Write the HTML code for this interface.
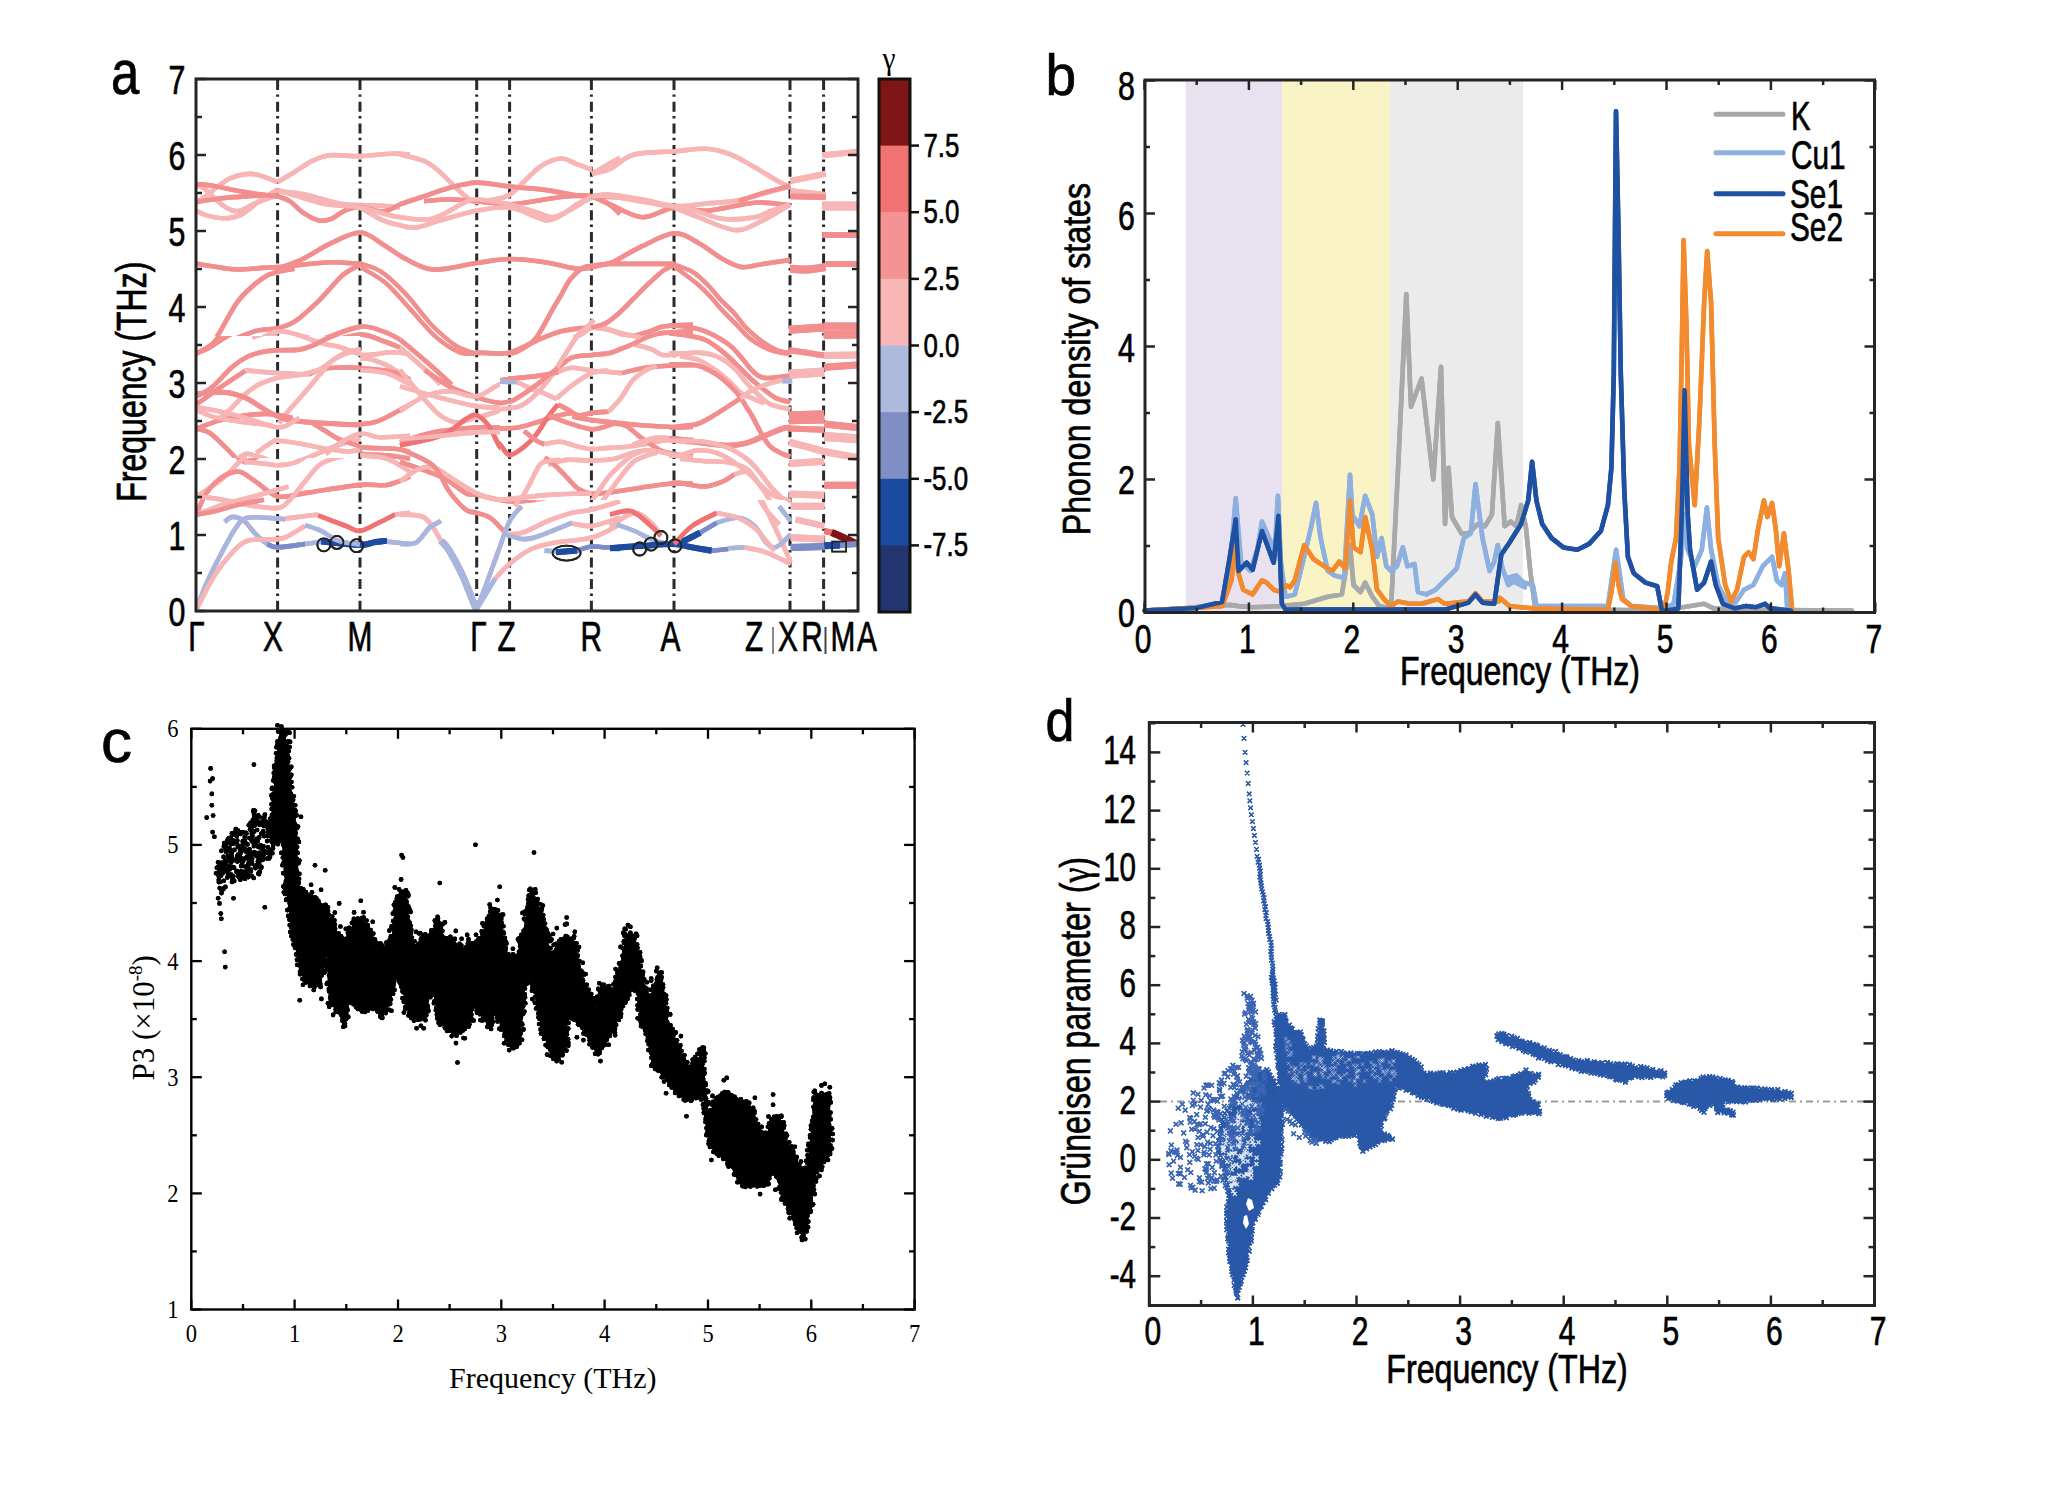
<!DOCTYPE html>
<html><head><meta charset="utf-8"><style>
html,body{margin:0;padding:0;background:#fff;}
svg{display:block;}
</style></head><body>
<svg width="2048" height="1492" viewBox="0 0 2048 1492">
<rect width="2048" height="1492" fill="#fff"/>
<line x1="277.6" y1="80" x2="277.6" y2="611" stroke="#2a2a2a" stroke-width="3" stroke-dasharray="10,4.4,2.4,4.9"/>
<line x1="360" y1="80" x2="360" y2="611" stroke="#2a2a2a" stroke-width="3" stroke-dasharray="10,4.4,2.4,4.9"/>
<line x1="476.7" y1="80" x2="476.7" y2="611" stroke="#2a2a2a" stroke-width="3" stroke-dasharray="10,4.4,2.4,4.9"/>
<line x1="509.6" y1="80" x2="509.6" y2="611" stroke="#2a2a2a" stroke-width="3" stroke-dasharray="10,4.4,2.4,4.9"/>
<line x1="591.4" y1="80" x2="591.4" y2="611" stroke="#2a2a2a" stroke-width="3" stroke-dasharray="10,4.4,2.4,4.9"/>
<line x1="674" y1="80" x2="674" y2="611" stroke="#2a2a2a" stroke-width="3" stroke-dasharray="10,4.4,2.4,4.9"/>
<line x1="790" y1="80" x2="790" y2="611" stroke="#2a2a2a" stroke-width="3" stroke-dasharray="10,4.4,2.4,4.9"/>
<line x1="823.6" y1="80" x2="823.6" y2="611" stroke="#2a2a2a" stroke-width="3" stroke-dasharray="10,4.4,2.4,4.9"/>
<defs><clipPath id="cpOut"><path clip-rule="evenodd" d="M196,79 H858 V611 H196 Z M500,287 H857 V500 H500 Z M197,336 H360.5 V458 H197 Z"/></clipPath><clipPath id="cpIn"><rect x="500" y="287" width="357" height="213"/></clipPath><clipPath id="cpIn2"><rect x="197" y="336" width="163.5" height="122"/></clipPath></defs>
<g clip-path="url(#cpOut)">
<path d="M197,201.7 C198.6,200.7 203,198.1 206.6,195.4 C210.3,192.7 214.8,188.6 218.9,185.6 C222.9,182.7 225.8,179.8 231.1,177.8 C236.4,175.9 244.9,174 250.6,173.9 C256.3,173.8 260.8,175.9 265.2,177.3 C269.7,178.7 275.4,181.4 277.4,182.2" fill="none" stroke="#f7b5b5" stroke-width="4.6" stroke-linecap="butt" stroke-linejoin="round"/>
<path d="M197,184.6 C198.6,185.6 203,187.6 206.6,190.5 C210.3,193.4 214.8,199 218.9,202.2 C222.9,205.5 227.4,208.7 231.1,210 C234.7,211.4 236.8,211.7 240.8,210.5 C244.9,209.4 250.6,205.3 255.5,203.2 C260.4,201.1 266.5,199 270.1,197.8 C273.8,196.7 276.2,196.6 277.4,196.4" fill="none" stroke="#f7b5b5" stroke-width="4.6" stroke-linecap="butt" stroke-linejoin="round"/>
<path d="M197,211 C198.6,211.7 202.2,214.2 206.6,215.4 C211.1,216.6 218,218.4 223.7,218.3 C229.4,218.3 234.7,217.9 240.8,214.9 C246.9,211.9 254.3,204.5 260.4,200.3 C266.5,196 274.6,191.3 277.4,189.5" fill="none" stroke="#f7b5b5" stroke-width="4.6" stroke-linecap="butt" stroke-linejoin="round"/>
<path d="M197,184.2 C199.4,184.4 205,184.6 211.5,185.6 C218,186.7 227.8,189 235.9,190.5 C244.1,192 253.4,193.4 260.4,194.4 C267.3,195.4 274.6,196 277.4,196.4" fill="none" stroke="#f28e8e" stroke-width="4.6" stroke-linecap="butt" stroke-linejoin="round"/>
<path d="M197,202.2 C198.6,201.9 201.8,201 206.6,200.3 C211.5,199.5 219.7,198.5 226.2,197.8 C232.7,197.2 239.2,196.8 245.7,196.4 C252.2,196 260,195.5 265.2,195.4 C270.5,195.3 275.4,195.8 277.4,195.9" fill="none" stroke="#f28e8e" stroke-width="4.6" stroke-linecap="butt" stroke-linejoin="round"/>
<path d="M277.6,182.1 C280.2,180.6 287.2,176.5 292.9,173 C298.7,169.4 306.1,163.9 312.2,160.9 C318.4,158 321.9,156.1 329.9,155.3 C338,154.5 350.3,156.4 360.5,156.1 C370.7,155.8 382.8,153.9 391,153.7 C399.3,153.4 406.8,154.3 410,154.5" fill="none" stroke="#f7b5b5" stroke-width="4.6" stroke-linecap="butt" stroke-linejoin="round"/>
<path d="M277.6,191.5 C281.8,191.9 294.4,192.4 302.6,193.9 C310.8,195.4 319.7,198.6 326.7,200.3 C333.7,202.1 338.8,203.5 344.4,204.3 C350,205.1 354,204.9 360.5,205.1 C366.9,205.4 376.4,205.5 383,205.9 C389.6,206.3 397.2,207.3 400,207.5" fill="none" stroke="#f7b5b5" stroke-width="4.6" stroke-linecap="butt" stroke-linejoin="round"/>
<path d="M277.6,196.3 C279.7,197.1 285.6,198.4 289.7,201.1 C293.9,203.8 297.8,209.2 302.6,212.4 C307.4,215.6 313.8,219.3 318.7,220.4 C323.5,221.5 327.2,220.4 331.5,218.8 C335.8,217.2 339.6,212.8 344.4,210.8 C349.2,208.8 354,206.6 360.5,206.7 C366.9,206.9 376.4,212 383,211.6 C389.6,211.2 397.2,205.5 400,204.3" fill="none" stroke="#f28e8e" stroke-width="4.6" stroke-linecap="butt" stroke-linejoin="round"/>
<path d="M277.6,189.9 C281.8,191.2 294.4,195.5 302.6,197.9 C310.8,200.3 317.1,202.7 326.7,204.3 C336.3,205.9 349.8,205.7 360.5,207.5 C371.2,209.4 384.4,214 391,215.6 C397.6,217.2 398.5,216.9 400,217.2" fill="none" stroke="#f7b5b5" stroke-width="4.6" stroke-linecap="butt" stroke-linejoin="round"/>
<path d="M360.5,207.5 C364.2,209.7 376.4,217.5 383,220.4 C389.6,223.4 397.2,224.4 400,225.2" fill="none" stroke="#f7b5b5" stroke-width="4.6" stroke-linecap="butt" stroke-linejoin="round"/>
<path d="M197,263.8 C201.2,264.5 215.3,266.9 222.2,267.9 C229,268.8 231.5,269.5 238.2,269.5 C244.9,269.5 255.8,268.3 262.4,267.9 C268.9,267.5 270.9,267.6 277.6,267.1 C284.3,266.5 293.6,265.4 302.6,264.6 C311.6,263.8 321.9,262.4 331.5,262.2 C341.2,262.1 355.6,263.6 360.5,263.8" fill="none" stroke="#f28e8e" stroke-width="4.6" stroke-linecap="butt" stroke-linejoin="round"/>
<path d="M359.3,263.3 C362.9,264.7 373.2,266.5 380.9,271.6 C388.6,276.7 397.5,285.3 405.8,294 C414.1,302.7 422.4,315.3 430.7,323.9 C439,332.5 448.1,340.6 455.6,345.5 C463.1,350.4 472.2,352 475.5,353.3" fill="none" stroke="#f28e8e" stroke-width="4.2" stroke-linecap="butt" stroke-linejoin="round"/>
<path d="M361,267.5 C365.1,270.1 377.6,276.2 385.9,283.2 C394.2,290.3 402.5,300.9 410.8,309.8 C419.1,318.7 427.7,329.6 435.7,336.7 C443.7,343.7 452.3,349.3 458.9,352.1 C465.6,355 472.8,353.7 475.5,354" fill="none" stroke="#f28e8e" stroke-width="4.2" stroke-linecap="butt" stroke-linejoin="round"/>
<path d="M277.6,268.7 C281.8,267.1 293.6,263.3 302.6,259 C311.6,254.7 321.9,247.3 331.5,242.9 C341.2,238.5 351.9,232.2 360.5,232.5 C369.1,232.7 376.4,240.6 383,244.5 C389.6,248.4 397.2,253.9 400,255.8" fill="none" stroke="#f28e8e" stroke-width="4.6" stroke-linecap="butt" stroke-linejoin="round"/>
<path d="M197,353.9 C201.2,352.3 212.6,348 222.2,344.2 C231.7,340.5 245.1,334.1 254.3,331.4 C263.6,328.7 270.9,329.8 277.6,328.2 C284.3,326.6 287.7,326.3 294.5,321.7 C301.4,317.2 310.6,308.6 318.7,300.8 C326.7,293.1 335.8,281.1 342.8,275.1 C349.8,269.1 357.5,266.4 360.5,264.6" fill="none" stroke="#f28e8e" stroke-width="4.6" stroke-linecap="butt" stroke-linejoin="round"/>
<path d="M197,355.5 C199.9,353.1 207.2,350.1 214.1,341 C221,331.9 230.2,311.3 238.2,300.8 C246.3,290.4 255.8,283.1 262.4,278.3 C268.9,273.5 272.3,273.5 277.6,271.9 C283,270.3 291.7,269.2 294.5,268.7" fill="none" stroke="#f28e8e" stroke-width="4.6" stroke-linecap="butt" stroke-linejoin="round"/>
<path d="M254.3,342.6 C258.2,340.8 269.6,332.5 277.6,331.4 C285.7,330.3 294.4,334.3 302.6,336.2 C310.8,338.1 317.1,339.6 326.7,342.6 C336.3,345.7 349.8,353.1 360.5,354.7 C371.2,356.3 382.8,352.4 391,352.3 C399.3,352.2 406.8,353.6 410,353.9" fill="none" stroke="#f7b5b5" stroke-width="4.6" stroke-linecap="butt" stroke-linejoin="round"/>
<path d="M302.6,345.9 C306.6,344.5 317.1,341 326.7,337.8 C336.3,334.6 351.1,327.6 360.5,326.6 C369.9,325.5 376.4,329.2 383,331.4 C389.6,333.5 397.2,338.1 400,339.4" fill="none" stroke="#f28e8e" stroke-width="4.6" stroke-linecap="butt" stroke-linejoin="round"/>
<path d="M326.7,342.6 C332.3,341.3 351.1,334.9 360.5,334.6 C369.9,334.3 376.4,338.9 383,341 C389.6,343.2 397.2,346.4 400,347.5" fill="none" stroke="#f28e8e" stroke-width="4.6" stroke-linecap="butt" stroke-linejoin="round"/>
<path d="M238.2,355.5 C244.8,354.4 266.9,350.1 277.6,349.1 C288.4,348 294.4,350.1 302.6,349.1 C310.8,348 322.7,343.7 326.7,342.6" fill="none" stroke="#f28e8e" stroke-width="4.6" stroke-linecap="butt" stroke-linejoin="round"/>
<path d="M222.2,379.6 C226.2,376.4 237,368.4 246.3,360.3 C255.5,352.3 272.4,336.2 277.6,331.4" fill="none" stroke="#f7b5b5" stroke-width="4.6" stroke-linecap="butt" stroke-linejoin="round"/>
<path d="M246.3,368.4 C251.5,368.9 268.3,370.8 277.6,371.6 C287,372.4 294.4,373.7 302.6,373.2 C310.8,372.7 317.1,370.8 326.7,368.4 C336.3,366 351.1,359.5 360.5,358.7 C369.9,357.9 374.7,360.1 383,363.5 C391.2,367 405.5,376.9 410,379.6" fill="none" stroke="#f7b5b5" stroke-width="4.6" stroke-linecap="butt" stroke-linejoin="round"/>
<path d="M302.6,373.2 C307.9,372.4 325.1,369.2 334.7,368.4 C344.4,367.6 351.1,367.8 360.5,368.4 C369.9,368.9 382.8,369.7 391,371.6 C399.3,373.5 406.8,378.3 410,379.6" fill="none" stroke="#f28e8e" stroke-width="4.6" stroke-linecap="butt" stroke-linejoin="round"/>
<path d="M326.7,379.6 C330.7,377.2 345.2,368.4 350.8,365.2 C356.5,361.9 358.9,361.1 360.5,360.3" fill="none" stroke="#f7b5b5" stroke-width="4.6" stroke-linecap="butt" stroke-linejoin="round"/>
<path d="M400,154.5 C404,155.5 417.4,158 424.1,160.9 C430.8,163.9 435.4,168.1 440.2,172.2 C445,176.2 448.5,180.7 453.1,185 C457.6,189.3 463.7,195.1 467.5,197.9 C471.4,200.7 472.1,201.6 476.4,201.9 C480.7,202.2 487.7,200.7 493.3,199.5 C498.9,198.3 504.5,197.9 509.8,194.7 C515.2,191.5 520.2,185 525.4,180.2 C530.7,175.4 535.6,169.4 541.5,165.7 C547.4,162.1 554.9,158.8 560.8,158.5 C566.7,158.2 571.7,162.2 576.9,164.1 C582.1,166 589.4,168.8 591.9,169.8" fill="none" stroke="#f7b5b5" stroke-width="4.6" stroke-linecap="butt" stroke-linejoin="round"/>
<path d="M591.9,173.8 C594.2,172.4 601.2,168.4 605.9,165.7 C610.5,163.1 617.6,159 620,157.7" fill="none" stroke="#f7b5b5" stroke-width="4.6" stroke-linecap="butt" stroke-linejoin="round"/>
<path d="M400,204.3 C404,203 416.1,199 424.1,196.3 C432.2,193.6 439.5,190.5 448.2,188.2 C457,186 466.1,182.9 476.4,182.6 C486.7,182.4 498.5,185.4 509.8,186.6 C521.2,187.8 533.6,188.4 544.7,189.9 C555.9,191.3 569.1,194.4 576.9,195.5 C584.8,196.6 584.7,196 591.9,196.3 C599,196.6 615.3,197 620,197.1" fill="none" stroke="#f28e8e" stroke-width="4.6" stroke-linecap="butt" stroke-linejoin="round"/>
<path d="M424.1,201.1 C428.1,200.8 439.5,199.5 448.2,199.5 C457,199.5 466.1,200.3 476.4,201.1 C486.7,201.9 498.5,204.6 509.8,204.3 C521.2,204.1 534.9,200.8 544.7,199.5 C554.6,198.2 561,196.8 568.9,196.3 C576.7,195.8 585.2,194.9 591.9,196.3 C598.6,197.6 604.4,201.4 609.1,204.3 C613.8,207.3 618.2,212.4 620,214" fill="none" stroke="#f28e8e" stroke-width="4.6" stroke-linecap="butt" stroke-linejoin="round"/>
<path d="M400,217.2 C405.4,217.5 421.4,221.2 432.2,218.8 C442.9,216.4 457,205.9 464.3,202.7 C471.7,199.5 468.8,199.2 476.4,199.5 C484,199.8 499.8,202.2 509.8,204.3 C519.9,206.5 529.5,210.2 536.7,212.4 C543.9,214.5 547.4,217.5 552.8,217.2 C558.1,216.9 563.5,213.4 568.9,210.8 C574.2,208.1 581.1,203.3 584.9,201.1 C588.8,199 590.7,198.4 591.9,197.9" fill="none" stroke="#f7b5b5" stroke-width="4.6" stroke-linecap="butt" stroke-linejoin="round"/>
<path d="M400,225.2 C402.7,225.6 409.4,228.5 416.1,227.6 C422.8,226.8 430.2,223.2 440.2,220.4 C450.3,217.6 464.8,212.9 476.4,210.8 C488,208.6 499.8,206.5 509.8,207.5 C519.9,208.6 530.3,215.1 536.7,217.2 C543.1,219.3 543.9,220.7 548,220.4 C552,220.1 556,218.3 560.8,215.6 C565.6,212.9 571.7,207.5 576.9,204.3 C582.1,201.1 589.4,197.6 591.9,196.3" fill="none" stroke="#f7b5b5" stroke-width="4.6" stroke-linecap="butt" stroke-linejoin="round"/>
<path d="M400,255.8 C405.4,258.1 419.4,268.3 432.2,269.5 C444.9,270.7 463.4,264.8 476.4,263 C489.3,261.3 498.5,259.1 509.8,259 C521.2,258.9 533.6,260.6 544.7,262.2 C555.9,263.8 569.1,267.9 576.9,268.7 C584.8,269.5 584.7,268.4 591.9,267.1 C599,265.7 615.3,261.7 620,260.6" fill="none" stroke="#f28e8e" stroke-width="4.6" stroke-linecap="butt" stroke-linejoin="round"/>
<path d="M476.4,352.6 C482,352.7 501.7,353.9 509.8,353.1 C518,352.2 522.8,348.4 525.4,347.5" fill="none" stroke="#f28e8e" stroke-width="4.6" stroke-linecap="butt" stroke-linejoin="round"/>
<path d="M509.8,352.3 C513,350.9 521.5,347.5 528.7,344.2 C535.8,341 544.7,335.8 552.8,333 C560.8,330.2 570.4,328.4 576.9,327.4 C583.4,326.3 586.5,327.5 591.9,326.6 C597.2,325.6 604.4,323.9 609.1,321.7 C613.8,319.6 618.2,315 620,313.7" fill="none" stroke="#f28e8e" stroke-width="4.6" stroke-linecap="butt" stroke-linejoin="round"/>
<path d="M576.9,334.6 C579.6,333.4 585.8,327.6 593,327.4 C600.2,327.1 615.5,332 620,333" fill="none" stroke="#f7b5b5" stroke-width="4.6" stroke-linecap="butt" stroke-linejoin="round"/>
<path d="M544.7,360.3 C548.8,357.1 561,346.1 568.9,341 C576.7,335.9 588,331.6 591.9,329.8" fill="none" stroke="#f7b5b5" stroke-width="4.6" stroke-linecap="butt" stroke-linejoin="round"/>
<path d="M554.4,368.4 C558.1,366.2 570.7,357.9 576.9,355.5 C583.2,353.1 584.7,354.7 591.9,353.9 C599,353.1 615.3,351.2 620,350.7" fill="none" stroke="#f28e8e" stroke-width="4.6" stroke-linecap="butt" stroke-linejoin="round"/>
<path d="M560.8,368.4 C566,368.4 582,368.4 591.9,368.4 C601.7,368.4 615.3,368.4 620,368.4" fill="none" stroke="#f7b5b5" stroke-width="4.6" stroke-linecap="butt" stroke-linejoin="round"/>
<path d="M400,339.4 C405.4,344 423.6,359.3 432.2,366.8 C440.7,374.3 448.2,381.5 451.5,384.5" fill="none" stroke="#f28e8e" stroke-width="4.6" stroke-linecap="butt" stroke-linejoin="round"/>
<path d="M400,347.5 C404,350.9 417.4,362.2 424.1,368.4 C430.8,374.5 437.5,381.8 440.2,384.5" fill="none" stroke="#f7b5b5" stroke-width="4.6" stroke-linecap="butt" stroke-linejoin="round"/>
<path d="M592,173.8 C595,173 603,172.2 610,169 C617,165.7 623.4,157.4 634.1,154.5 C644.9,151.5 662.3,152.2 674.4,151.3 C686.4,150.3 697.1,148.3 706.5,148.8 C715.9,149.4 722.6,151.4 730.7,154.5 C738.7,157.6 746.7,162.8 754.8,167.3 C762.8,171.9 773,178.6 778.9,181.8 C784.8,185 788.3,185.8 790.2,186.7" fill="none" stroke="#f7b5b5" stroke-width="4.6" stroke-linecap="butt" stroke-linejoin="round"/>
<path d="M592,196.3 C595,196 601.6,194.2 610,194.7 C618.4,195.2 631.5,197.6 642.2,199.5 C652.9,201.4 663.6,205.3 674.4,206 C685.1,206.6 695.8,204.5 706.5,203.5 C717.3,202.6 728,202.3 738.7,200.3 C749.4,198.3 762.3,193.8 770.9,191.5 C779.5,189.2 787,187.5 790.2,186.7" fill="none" stroke="#f7b5b5" stroke-width="4.6" stroke-linecap="butt" stroke-linejoin="round"/>
<path d="M738.7,201.1 C742.7,199.8 754.3,195.6 762.8,193.1 C771.4,190.5 785.6,187.1 790.2,185.8" fill="none" stroke="#f28e8e" stroke-width="4.6" stroke-linecap="butt" stroke-linejoin="round"/>
<path d="M592,196.3 C595,197.6 601.6,200.9 610,204.4 C618.4,207.8 631.5,216.7 642.2,217.2 C652.9,217.8 663.6,208.6 674.4,207.6 C685.1,206.5 693.1,211.6 706.5,210.8 C719.9,210 740.8,203.7 754.8,202.7 C768.7,201.8 784.3,204.8 790.2,205.2" fill="none" stroke="#f28e8e" stroke-width="4.6" stroke-linecap="butt" stroke-linejoin="round"/>
<path d="M592,196.3 C595,196.3 599,195 610,196.3 C621,197.6 644.9,202.2 658.3,204.4 C671.7,206.5 679.7,206.8 690.4,209.2 C701.2,211.6 711.9,217.5 722.6,218.8 C733.3,220.2 746.7,218.6 754.8,217.2 C762.8,215.9 765,212.9 770.9,210.8 C776.8,208.6 787,205.4 790.2,204.4" fill="none" stroke="#f7b5b5" stroke-width="4.6" stroke-linecap="butt" stroke-linejoin="round"/>
<path d="M674.4,207.6 C678.4,209.2 688.3,213.5 698.5,217.2 C708.7,221 724.8,229.6 735.5,230.1 C746.2,230.6 753.7,224.7 762.8,220.4 C771.9,216.1 785.6,207 790.2,204.4" fill="none" stroke="#f7b5b5" stroke-width="4.6" stroke-linecap="butt" stroke-linejoin="round"/>
<path d="M790.2,181 L825.6,173.8" fill="none" stroke="#f7b5b5" stroke-width="6" stroke-linecap="butt" stroke-linejoin="round"/>
<path d="M790.2,191.5 L825.6,195.5" fill="none" stroke="#f7b5b5" stroke-width="7" stroke-linecap="butt" stroke-linejoin="round"/>
<path d="M790.2,196.3 L825.6,197.1" fill="none" stroke="#f28e8e" stroke-width="6" stroke-linecap="butt" stroke-linejoin="round"/>
<path d="M822.4,155.3 L857,152.1" fill="none" stroke="#f7b5b5" stroke-width="6" stroke-linecap="butt" stroke-linejoin="round"/>
<path d="M822.4,206 L857,206" fill="none" stroke="#f7b5b5" stroke-width="9" stroke-linecap="butt" stroke-linejoin="round"/>
<path d="M822.4,234.9 L857,234.9" fill="none" stroke="#f28e8e" stroke-width="6" stroke-linecap="butt" stroke-linejoin="round"/>
<path d="M610,263.9 C615.4,260.9 631.5,251.3 642.2,246.2 C652.9,241.1 665,233.8 674.4,233.3 C683.7,232.8 690.4,238.7 698.5,243 C706.5,247.3 715.4,255 722.6,259 C729.9,263.1 735.2,266.3 741.9,267.1 C748.6,267.9 754.8,265.1 762.8,263.9 C770.9,262.7 785.6,260.5 790.2,259.9" fill="none" stroke="#f28e8e" stroke-width="4.6" stroke-linecap="butt" stroke-linejoin="round"/>
<path d="M610,263.9 L674.4,263.9" fill="none" stroke="#f28e8e" stroke-width="4.6" stroke-linecap="butt" stroke-linejoin="round"/>
<path d="M592,265.5 L610,263.9" fill="none" stroke="#f28e8e" stroke-width="4.6" stroke-linecap="butt" stroke-linejoin="round"/>
<path d="M790.2,268.7 C793.1,268.8 802,269.8 807.9,269.5 C813.8,269.2 822.6,267.5 825.6,267.1" fill="none" stroke="#f28e8e" stroke-width="8" stroke-linecap="butt" stroke-linejoin="round"/>
<path d="M825.6,263.9 L857,263.9" fill="none" stroke="#f28e8e" stroke-width="6" stroke-linecap="butt" stroke-linejoin="round"/>
<path d="M592,326.6 C595,326.9 601.6,327.2 610,328.2 C618.4,329.3 631.5,333.5 642.2,333.1 C652.9,332.6 663.6,325.5 674.4,325.8 C685.1,326.1 695.8,330 706.5,334.7 C717.3,339.4 729.3,347.8 738.7,354 C748.1,360.1 756.1,367.6 762.8,371.7 C769.5,375.7 776.2,377 778.9,378.1" fill="none" stroke="#f28e8e" stroke-width="4.6" stroke-linecap="butt" stroke-linejoin="round"/>
<path d="M592,333.1 C595,332.2 603,327.7 610,328.2 C617,328.8 627.4,335.5 634.1,336.3 C640.8,337.1 647.5,333.6 650.2,333.1" fill="none" stroke="#f7b5b5" stroke-width="4.6" stroke-linecap="butt" stroke-linejoin="round"/>
<path d="M592,350.7 C595,351.6 603,356.4 610,355.6 C617,354.8 623.4,349.7 634.1,345.9 C644.9,342.2 663.6,333.9 674.4,333.1 C685.1,332.2 690.4,337.3 698.5,341.1 C706.5,344.8 713.2,349.1 722.6,355.6 C732,362 749.4,375.7 754.8,379.7" fill="none" stroke="#f28e8e" stroke-width="4.6" stroke-linecap="butt" stroke-linejoin="round"/>
<path d="M634.1,342.7 C640.8,344.6 662.3,352.1 674.4,354 C686.4,355.8 695.8,351.6 706.5,354 C717.3,356.4 730.7,364.1 738.7,368.4 C746.7,372.8 752.1,378.1 754.8,380" fill="none" stroke="#f7b5b5" stroke-width="4.6" stroke-linecap="butt" stroke-linejoin="round"/>
<path d="M592,368.4 C595,369.2 601.6,373.3 610,373.3 C618.4,373.3 631.5,369.8 642.2,368.4 C652.9,367.1 663.6,365.2 674.4,365.2 C685.1,365.2 697.1,366.8 706.5,368.4 C715.9,370.1 725.3,372.9 730.7,374.9 C736,376.8 737.4,379.2 738.7,380" fill="none" stroke="#f28e8e" stroke-width="4.6" stroke-linecap="butt" stroke-linejoin="round"/>
<path d="M592,368.4 C595,368.7 603,371.4 610,370.1 C617,368.7 626.1,362.8 634.1,360.4 C642.2,358 654.2,356.4 658.3,355.6" fill="none" stroke="#f7b5b5" stroke-width="4.6" stroke-linecap="butt" stroke-linejoin="round"/>
<path d="M790.2,329.8 L825.6,326.6" fill="none" stroke="#f28e8e" stroke-width="6" stroke-linecap="butt" stroke-linejoin="round"/>
<path d="M825.6,326.6 L857,326.6" fill="none" stroke="#f28e8e" stroke-width="6" stroke-linecap="butt" stroke-linejoin="round"/>
<path d="M825.6,334.7 L857,334.7" fill="none" stroke="#f28e8e" stroke-width="6" stroke-linecap="butt" stroke-linejoin="round"/>
<path d="M790.2,349.1 L825.6,355.6" fill="none" stroke="#f28e8e" stroke-width="6" stroke-linecap="butt" stroke-linejoin="round"/>
<path d="M825.6,355.6 L857,355.6" fill="none" stroke="#f7b5b5" stroke-width="6" stroke-linecap="butt" stroke-linejoin="round"/>
<path d="M790.2,371.7 L825.6,370.1" fill="none" stroke="#f7b5b5" stroke-width="7" stroke-linecap="butt" stroke-linejoin="round"/>
<path d="M825.6,366.8 L857,363.6" fill="none" stroke="#f28e8e" stroke-width="6" stroke-linecap="butt" stroke-linejoin="round"/>
<path d="M754.8,378.1 L790.2,374.9" fill="none" stroke="#f28e8e" stroke-width="4.6" stroke-linecap="butt" stroke-linejoin="round"/>
<path d="M197,394.6 C199.9,393.8 207.6,392.4 214.6,389.7 C221.7,387 232.4,381.5 239.3,378.2 C246.1,374.9 252.9,371.4 255.7,370" fill="none" stroke="#f28e8e" stroke-width="4.6" stroke-linecap="butt" stroke-linejoin="round"/>
<path d="M197,402.8 C199.9,401.7 207.6,399.6 214.6,396.3 C221.7,393 232.4,387 239.3,383.1 C246.1,379.3 252.9,374.9 255.7,373.3" fill="none" stroke="#f28e8e" stroke-width="4.6" stroke-linecap="butt" stroke-linejoin="round"/>
<path d="M197,406.1 C201.3,406.4 214.4,406.7 222.8,407.8 C231.2,408.9 238.3,410.8 247.5,412.7 C256.6,414.6 268.3,417.9 277.8,419.3 C287.4,420.6 300.4,420.6 304.9,420.9" fill="none" stroke="#f7b5b5" stroke-width="4.6" stroke-linecap="butt" stroke-linejoin="round"/>
<path d="M197,427.5 C201.3,426.4 214.4,422.8 222.8,420.9 C231.2,419 238.3,416.8 247.5,416 C256.6,415.1 268.3,415.4 277.8,416 C287.4,416.5 294.9,418.2 304.9,419.3 C314.9,420.3 328.6,421.7 337.8,422.5 C346.9,423.4 353.1,424.5 359.9,424.2 C366.8,423.9 370.5,424.2 378.8,420.9 C387.1,417.6 404.8,407.2 410,404.5" fill="none" stroke="#f28e8e" stroke-width="4.6" stroke-linecap="butt" stroke-linejoin="round"/>
<path d="M197,393 C202.7,393 221.3,391.3 231,393 C240.8,394.6 247.9,398.7 255.7,402.8 C263.5,406.9 269.6,413.8 277.8,417.6 C286,421.4 296.3,421.7 304.9,425.8 C313.5,429.9 321.3,437.9 329.6,442.2 C337.8,446.6 349.1,450.2 354.2,452.1 C359.2,454 359,453.5 359.9,453.7" fill="none" stroke="#f28e8e" stroke-width="4.6" stroke-linecap="butt" stroke-linejoin="round"/>
<path d="M197,407.8 C199.9,409.4 207.6,415.1 214.6,417.6 C221.7,420.1 228.7,420.9 239.3,422.5 C249.8,424.2 269.6,426.9 277.8,427.5 C286,428 284,429.9 288.5,425.8 C293,421.7 298.1,411.3 304.9,402.8 C311.8,394.4 324.1,380.4 329.6,374.9 C335,369.5 336.4,370.8 337.8,370" fill="none" stroke="#f7b5b5" stroke-width="4.6" stroke-linecap="butt" stroke-linejoin="round"/>
<path d="M239.3,386.4 C243.4,385 257.4,379.9 263.9,378.2 C270.3,376.6 271,377.4 277.8,376.6 C284.7,375.7 294.9,374.4 304.9,373.3 C314.9,372.2 328.6,370.5 337.8,370 C346.9,369.5 351.7,369.5 359.9,370 C368.1,370.5 378.7,370.8 387,373.3 C395.4,375.7 406.2,382.9 410,384.8" fill="none" stroke="#f7b5b5" stroke-width="4.6" stroke-linecap="butt" stroke-linejoin="round"/>
<path d="M197,427.5 C199.9,428.8 209,431.8 214.6,435.7 C220.3,439.5 226.1,446.1 231,450.4 C236,454.8 239.5,461.1 244.2,461.9 C248.8,462.8 253.3,458.7 259,455.4 C264.6,452.1 270.2,444.4 277.8,442.2 C285.5,440 296.3,441.4 304.9,442.2 C313.5,443.1 320.4,445.2 329.6,447.2 C338.7,449.1 350.3,452.4 359.9,453.7 C369.5,455.1 378.7,454.6 387,455.4 C395.4,456.2 406.2,458.1 410,458.7" fill="none" stroke="#f28e8e" stroke-width="4.6" stroke-linecap="butt" stroke-linejoin="round"/>
<path d="M244.2,461.9 C247.5,462.2 258.3,463 263.9,463.6 C269.5,464.1 272.4,465.5 277.8,465.2 C283.3,464.9 289.5,464.9 296.7,461.9 C304,458.9 310.8,451.8 321.3,447.2 C331.9,442.5 350.3,435.7 359.9,434 C369.5,432.4 370.5,437 378.8,437.3 C387.1,437.6 404.8,435.9 410,435.7" fill="none" stroke="#f7b5b5" stroke-width="4.6" stroke-linecap="butt" stroke-linejoin="round"/>
<path d="M197,496.4 C201.3,493.4 215.8,484.1 222.8,478.4 C229.9,472.6 235.1,465.8 239.3,461.9 C243.4,458.1 244.7,457.8 247.5,455.4 C250.2,452.9 250.6,449.6 255.7,447.2 C260.7,444.7 271,441.4 277.8,440.6 C284.7,439.8 289.5,441.1 296.7,442.2 C304,443.3 313.1,445.5 321.3,447.2 C329.6,448.8 339.5,450.7 346,452.1 C352.4,453.5 357.6,454.8 359.9,455.4" fill="none" stroke="#f7b5b5" stroke-width="4.6" stroke-linecap="butt" stroke-linejoin="round"/>
<path d="M197,512.8 C198.6,509.6 202.1,499.2 206.4,493.1 C210.7,487.1 217.4,480.3 222.8,476.7 C228.3,473.2 233.8,471 239.3,471.8 C244.7,472.6 249.2,477.5 255.7,481.6 C262.1,485.7 269.6,494.5 277.8,496.4 C286,498.3 291.2,495 304.9,493.1 C318.6,491.2 346.2,486.3 359.9,484.9 C373.6,483.6 378.7,486.3 387,484.9 C395.4,483.6 406.2,478.1 410,476.7" fill="none" stroke="#f28e8e" stroke-width="4.6" stroke-linecap="butt" stroke-linejoin="round"/>
<path d="M197,496.4 C201.3,497 213.1,498.1 222.8,499.7 C232.6,501.3 246.5,504.9 255.7,506.3 C264.8,507.6 272.4,508.7 277.8,507.9 C283.3,507.1 284,505.7 288.5,501.3 C293,497 299.5,487.9 304.9,481.6 C310.4,475.3 314.5,468 321.3,463.6 C328.2,459.2 339.5,456.7 346,455.4 C352.4,454 353.1,454.8 359.9,455.4 C366.8,455.9 378.7,455.9 387,458.7 C395.4,461.4 406.2,469.6 410,471.8" fill="none" stroke="#f7b5b5" stroke-width="4.6" stroke-linecap="butt" stroke-linejoin="round"/>
<path d="M197,514.5 C201.3,512.8 214.4,507.4 222.8,504.6 C231.2,501.9 238.3,500.5 247.5,498.1 C256.6,495.6 271,491.8 277.8,489.8 C284.7,487.9 286.7,487.1 288.5,486.6" fill="none" stroke="#f7b5b5" stroke-width="4.6" stroke-linecap="butt" stroke-linejoin="round"/>
<path d="M197,514.5 C199.9,513.9 207.6,512.8 214.6,511.2 C221.7,509.6 231,506.5 239.3,504.6 C247.5,502.7 259.8,500.5 263.9,499.7" fill="none" stroke="#f28e8e" stroke-width="4.6" stroke-linecap="butt" stroke-linejoin="round"/>
<path d="M329.6,440.6 C334.6,441.7 349,445.8 359.9,447.2 C370.9,448.5 386.9,448 395.2,448.8 C403.6,449.6 407.5,451.5 410,452.1" fill="none" stroke="#f28e8e" stroke-width="4.6" stroke-linecap="butt" stroke-linejoin="round"/>
<path d="M224.5,521.9 C225.8,521 229.4,517.1 232.7,516.9 C236,516.8 240.3,518.2 244.2,521 C248,523.9 251.8,530.3 255.7,534.2 C259.5,538 263.5,541.8 267.2,544 C270.9,546.2 271.5,547.3 277.8,547.3 C284.1,547.3 297.7,545 304.9,544 C312.2,543.1 318.6,542 321.3,541.6" fill="none" stroke="#a9b5dc" stroke-width="4.6" stroke-linecap="butt" stroke-linejoin="round"/>
<path d="M321.3,541.6 C327.8,542.1 351.2,544.7 359.9,544.8 C368.7,545 369.4,543.1 373.9,542.4 C378.4,541.7 384.8,541 387,540.7" fill="none" stroke="#1c4ba0" stroke-width="6" stroke-linecap="butt" stroke-linejoin="round"/>
<path d="M267.2,544 C268.9,544.6 271.5,547.3 277.8,547.3 C284.1,547.3 300.4,544.6 304.9,544" fill="none" stroke="#7b8cc6" stroke-width="4.6" stroke-linecap="butt" stroke-linejoin="round"/>
<path d="M387,541.6 L410,544" fill="none" stroke="#a9b5dc" stroke-width="4.6" stroke-linecap="butt" stroke-linejoin="round"/>
<path d="M197,608.1 C198.6,604 202.1,593 206.4,583.4 C210.7,573.9 217.9,559.9 222.8,550.6 C227.8,541.3 231.9,533.1 236,527.6 C240.1,522.1 240.5,519.3 247.5,517.8 C254.4,516.3 271.5,518.3 277.8,518.6 C284.1,518.9 284,519.3 285.2,519.4" fill="none" stroke="#a9b5dc" stroke-width="4.6" stroke-linecap="butt" stroke-linejoin="round"/>
<path d="M285.2,518.6 L318.1,514.5" fill="none" stroke="#f7b5b5" stroke-width="4.6" stroke-linecap="butt" stroke-linejoin="round"/>
<path d="M318.1,515.3 C322.7,517.1 339,523.4 346,526 C352.9,528.6 354.5,531.4 359.9,530.9 C365.4,530.3 372.9,525.4 378.8,522.7 C384.7,519.9 392.5,515.8 395.2,514.5" fill="none" stroke="#f07272" stroke-width="4.6" stroke-linecap="butt" stroke-linejoin="round"/>
<path d="M395.2,514.5 L410,512.8" fill="none" stroke="#f7b5b5" stroke-width="4.6" stroke-linecap="butt" stroke-linejoin="round"/>
<path d="M197,608.1 C199.9,602.6 209,584.3 214.6,575.2 C220.3,566.2 225.6,559.6 231,553.9 C236.5,548.1 239.7,543.2 247.5,540.7 C255.3,538.3 271,539.9 277.8,539.1 C284.7,538.3 284,538 288.5,535.8 C293,533.6 302.2,527.6 304.9,526" fill="none" stroke="#f7b5b5" stroke-width="4.6" stroke-linecap="butt" stroke-linejoin="round"/>
<path d="M304.9,525.1 C307.7,526.1 315.9,528.3 321.3,530.9 C326.8,533.5 331.3,538.4 337.8,540.7 C344.2,543.1 356.2,544.2 359.9,544.8" fill="none" stroke="#a9b5dc" stroke-width="4.6" stroke-linecap="butt" stroke-linejoin="round"/>
<path d="M424.6,370 C428.7,372.7 440.6,381.9 449.3,386.4 C457.9,390.9 468.1,394.4 476.3,397.1 C484.6,399.8 492.1,402.2 498.5,402.8 C504.9,403.5 508.1,403.9 514.9,401.2 C521.8,398.5 532.7,391.1 539.6,386.4 C546.4,381.8 551.9,376 556,373.3 C560.1,370.5 562.8,370.5 564.2,370" fill="none" stroke="#f28e8e" stroke-width="4.6" stroke-linecap="butt" stroke-linejoin="round"/>
<path d="M400,411 C404.1,408.6 416.4,399.6 424.6,396.3 C432.8,393 440.6,391.3 449.3,391.3 C457.9,391.3 468.1,397.4 476.3,396.3 C484.6,395.2 492.1,387.5 498.5,384.8 C504.9,382 508.1,381.2 514.9,379.9 C521.8,378.5 531.3,377.7 539.6,376.6 C547.8,375.5 550.8,374.4 564.2,373.3 C577.6,372.2 610.7,370.5 620,370" fill="none" stroke="#f7b5b5" stroke-width="4.6" stroke-linecap="butt" stroke-linejoin="round"/>
<path d="M400,370 C404.1,374.9 417.8,391.9 424.6,399.6 C431.5,407.2 435.6,412.1 441,416 C446.5,419.8 451.6,422.3 457.5,422.5 C463.3,422.8 469.5,419.5 476.3,417.6 C483.2,415.7 492.1,413.5 498.5,411 C504.9,408.6 509.5,406.1 514.9,402.8 C520.4,399.6 525.9,395.7 531.3,391.3 C536.8,387 545,379 547.8,376.6" fill="none" stroke="#f7b5b5" stroke-width="4.6" stroke-linecap="butt" stroke-linejoin="round"/>
<path d="M400,386.4 C406.8,388.3 428.3,394.6 441,397.9 C453.8,401.2 464.9,404.5 476.3,406.1 C487.8,407.8 497.8,407.2 509.7,407.8 C521.6,408.3 535.9,408.9 547.8,409.4 C559.6,409.9 568.6,410.8 580.6,411 C592.6,411.3 613.4,411 620,411" fill="none" stroke="#f7b5b5" stroke-width="4.6" stroke-linecap="butt" stroke-linejoin="round"/>
<path d="M500.1,381.5 L516.6,381.5" fill="none" stroke="#a9b5dc" stroke-width="7" stroke-linecap="butt" stroke-linejoin="round"/>
<path d="M400,442.2 C405.5,440.6 420.1,434.8 432.8,432.4 C445.6,429.9 465.4,428.3 476.3,427.5 C487.3,426.6 489.3,428 498.5,427.5 C507.7,426.9 521.8,426.6 531.3,424.2 C540.9,421.7 549.1,414.6 556,412.7 C562.8,410.8 561.7,411.3 572.4,412.7 C583.1,414.1 612.1,419.5 620,420.9" fill="none" stroke="#f28e8e" stroke-width="4.6" stroke-linecap="butt" stroke-linejoin="round"/>
<path d="M400,445.5 C406.8,443.9 430.1,440 441,435.7 C452,431.3 459.8,422.7 465.7,419.3 C471.6,415.8 472.5,414.1 476.3,415.1 C480.2,416.2 484.7,420.5 488.7,425.8 C492.6,431.2 496.6,442.1 500.1,447.2 C503.7,452.2 506.4,455.2 509.7,456.2 C513,457.2 514.9,457.2 519.8,452.9 C524.8,448.7 533.5,438.1 539.6,430.7 C545.6,423.4 551.6,412.8 556,408.6 C560.3,404.3 561.7,404.9 565.8,405.3 C569.9,405.7 571.6,409 580.6,411 C589.6,413.1 613.4,416.5 620,417.6" fill="none" stroke="#f07272" stroke-width="4.6" stroke-linecap="butt" stroke-linejoin="round"/>
<path d="M400,439 C404.1,438.7 411.9,438.4 424.6,437.3 C437.4,436.2 462.2,433.2 476.3,432.4 C490.5,431.6 504.1,432.4 509.7,432.4" fill="none" stroke="#f7b5b5" stroke-width="4.6" stroke-linecap="butt" stroke-linejoin="round"/>
<path d="M509.7,432.4 C513.3,432.9 525.8,433.8 531.3,435.7 C536.9,437.6 540.9,442.5 542.8,443.9" fill="none" stroke="#f28e8e" stroke-width="4.6" stroke-linecap="butt" stroke-linejoin="round"/>
<path d="M542.8,443.9 C546.4,444.4 556,446.3 564.2,447.2 C572.4,448 582.8,448.5 592.1,448.8 C601.4,449.1 615.3,448.8 620,448.8" fill="none" stroke="#f7b5b5" stroke-width="4.6" stroke-linecap="butt" stroke-linejoin="round"/>
<path d="M400,461.9 C406.8,464.4 430.1,471.5 441,476.7 C452,481.9 459.8,490.1 465.7,493.1 C471.6,496.1 469,493.4 476.3,494.8 C483.7,496.1 499.7,500.5 509.7,501.3 C519.7,502.2 531.8,500 536.3,499.7" fill="none" stroke="#f28e8e" stroke-width="4.6" stroke-linecap="butt" stroke-linejoin="round"/>
<path d="M536.3,499.7 C540.9,498.9 554.9,495.9 564.2,494.8 C573.5,493.7 582.8,493.7 592.1,493.1 C601.4,492.6 615.3,491.8 620,491.5" fill="none" stroke="#f7b5b5" stroke-width="4.6" stroke-linecap="butt" stroke-linejoin="round"/>
<path d="M400,481.6 C402.7,479.7 410.9,472.6 416.4,470.1 C421.9,467.7 427.4,465.8 432.8,466.9 C438.3,468 442,472.3 449.3,476.7 C456.5,481.1 468.1,489.3 476.3,493.1 C484.6,497 490.7,498.9 498.5,499.7 C506.3,500.5 519,498.3 523.1,498.1" fill="none" stroke="#f7b5b5" stroke-width="4.6" stroke-linecap="butt" stroke-linejoin="round"/>
<path d="M400,448.8 C405.5,451.5 424.6,458.1 432.8,465.2 C441,472.3 443.8,484.1 449.3,491.5 C454.7,498.9 461.2,506 465.7,509.6 C470.2,513.1 472.2,511.5 476.3,512.8 C480.4,514.2 485.5,514.5 490.3,517.8 C495.1,521 502.6,530.1 505.1,532.5" fill="none" stroke="#f28e8e" stroke-width="4.6" stroke-linecap="butt" stroke-linejoin="round"/>
<path d="M524.8,484.9 C526.7,481.9 533,471.1 536.3,466.9 C539.6,462.6 543.1,460.7 544.5,459.5" fill="none" stroke="#f7b5b5" stroke-width="4.6" stroke-linecap="butt" stroke-linejoin="round"/>
<path d="M544.5,459.5 C546.4,461 551.3,464.3 556,468.5 C560.6,472.7 566.4,480.8 572.4,484.9 C578.4,489 584.2,491.8 592.1,493.1 C600,494.5 615.3,493.1 620,493.1" fill="none" stroke="#f28e8e" stroke-width="4.6" stroke-linecap="butt" stroke-linejoin="round"/>
<path d="M514.9,506.3 C517.1,502.7 523.4,491.5 528.1,484.9 C532.7,478.4 536.8,471 542.8,466.9 C548.9,462.8 556,461.7 564.2,460.3 C572.4,458.9 582.8,458.9 592.1,458.7 C601.4,458.4 615.3,458.7 620,458.7" fill="none" stroke="#f7b5b5" stroke-width="4.6" stroke-linecap="butt" stroke-linejoin="round"/>
<path d="M505.1,534.2 C508.1,533.9 516,534.7 523.1,532.5 C530.2,530.3 539.6,524.3 547.8,521 C556,517.8 565,514.7 572.4,512.8 C579.8,510.9 584.2,511.5 592.1,509.6 C600,507.6 615.3,502.7 620,501.3" fill="none" stroke="#f7b5b5" stroke-width="4.6" stroke-linecap="butt" stroke-linejoin="round"/>
<path d="M505.1,534.2 C508.1,535 517.4,538.8 523.1,539.1 C528.9,539.4 531.3,538.6 539.6,535.8 C547.8,533.1 566.9,524.9 572.4,522.7" fill="none" stroke="#a9b5dc" stroke-width="4.6" stroke-linecap="butt" stroke-linejoin="round"/>
<path d="M572.4,523.5 C575.7,523.9 584.2,526.9 592.1,526 C600,525 615.3,519.1 620,517.8" fill="none" stroke="#f7b5b5" stroke-width="4.6" stroke-linecap="butt" stroke-linejoin="round"/>
<path d="M476.3,609.7 C477.8,605.9 481.7,596.6 485.4,586.7 C489.1,576.9 494.5,561.5 498.5,550.6 C502.6,539.6 505.8,528.4 509.7,521 C513.5,513.7 519.5,508.7 521.5,506.3" fill="none" stroke="#a9b5dc" stroke-width="4.6" stroke-linecap="butt" stroke-linejoin="round"/>
<path d="M495.2,578.5 C497.6,576 503.7,568.7 509.7,563.7 C515.7,558.8 523.6,552.5 531.3,549 C539.1,545.4 545.8,544.3 556,542.4 C566.1,540.5 581.4,540.5 592.1,537.5 C602.8,534.5 615.3,526.5 620,524.3" fill="none" stroke="#f7b5b5" stroke-width="4.6" stroke-linecap="butt" stroke-linejoin="round"/>
<path d="M476.3,609.7 L495.2,578.5" fill="none" stroke="#a9b5dc" stroke-width="4.6" stroke-linecap="butt" stroke-linejoin="round"/>
<path d="M544.5,550.6 L556,551.4" fill="none" stroke="#a9b5dc" stroke-width="4.6" stroke-linecap="butt" stroke-linejoin="round"/>
<path d="M556,552.2 L577.3,550.6" fill="none" stroke="#1c4ba0" stroke-width="6" stroke-linecap="butt" stroke-linejoin="round"/>
<path d="M577.3,550.6 C579.8,549.9 586.3,546.9 592.1,546.5 C597.8,546.1 608.5,547.9 611.8,548.1" fill="none" stroke="#7b8cc6" stroke-width="4.6" stroke-linecap="butt" stroke-linejoin="round"/>
<path d="M611.8,548.1 L620,548.1" fill="none" stroke="#1c4ba0" stroke-width="6" stroke-linecap="butt" stroke-linejoin="round"/>
<path d="M400,514.5 C404.1,515 417.8,513.4 424.6,517.8 C431.5,522.1 438.3,536.9 441,540.7" fill="none" stroke="#f7b5b5" stroke-width="4.6" stroke-linecap="butt" stroke-linejoin="round"/>
<path d="M400,544 C402.7,543.8 411.5,545.1 416.4,542.4 C421.3,539.6 425.4,531.2 429.6,527.6 C433.7,524.1 439.1,522.1 441,521" fill="none" stroke="#a9b5dc" stroke-width="4.6" stroke-linecap="butt" stroke-linejoin="round"/>
<path d="M441,540.7 C442.4,542.4 445.7,544.8 449.3,550.6 C452.8,556.3 457.9,565.4 462.4,575.2 C466.9,585.1 474,604 476.3,609.7" fill="none" stroke="#a9b5dc" stroke-width="7" stroke-linecap="butt" stroke-linejoin="round"/>
<path d="M610,420.9 C615.5,421.5 632.2,423.1 642.9,424.2 C653.5,425.3 665.8,427.5 674.1,427.5 C682.3,427.5 685,426.9 692.1,424.2 C699.2,421.5 708.6,415.4 716.8,411.1 C725,406.7 733.2,402.3 741.4,397.9 C749.6,393.5 757.8,388.3 766,384.8 C774.3,381.2 786.6,377.9 790.7,376.6" fill="none" stroke="#f28e8e" stroke-width="4.6" stroke-linecap="butt" stroke-linejoin="round"/>
<path d="M610,411.1 C612.7,408.3 621,400.7 626.4,394.6 C631.9,388.6 639.3,379 642.9,374.9 C646.4,370.8 647,370.8 647.8,370" fill="none" stroke="#f7b5b5" stroke-width="4.6" stroke-linecap="butt" stroke-linejoin="round"/>
<path d="M708.6,370 C711.3,372.7 719.5,382 725,386.4 C730.5,390.8 734.6,393.5 741.4,396.3 C748.3,399 757.8,401.9 766,402.9 C774.3,403.8 786.6,402.2 790.7,402" fill="none" stroke="#f28e8e" stroke-width="4.6" stroke-linecap="butt" stroke-linejoin="round"/>
<path d="M692.1,370 C696.2,372.2 708.6,378.2 716.8,383.1 C725,388.1 733.2,395.5 741.4,399.6 C749.6,403.7 757.8,406 766,407.8 C774.3,409.6 786.6,409.8 790.7,410.2" fill="none" stroke="#f7b5b5" stroke-width="4.6" stroke-linecap="butt" stroke-linejoin="round"/>
<path d="M741.4,370 C744.1,374.1 752.4,386.4 757.8,394.6 C763.3,402.9 768.8,409 774.3,419.3 C779.7,429.5 787.9,450.1 790.7,456.2" fill="none" stroke="#f28e8e" stroke-width="4.6" stroke-linecap="butt" stroke-linejoin="round"/>
<path d="M610,373.3 C615.5,373 634.6,372.2 642.9,371.6 C651.1,371.1 656.5,370.3 659.3,370" fill="none" stroke="#f7b5b5" stroke-width="4.6" stroke-linecap="butt" stroke-linejoin="round"/>
<path d="M725,445.6 C729.1,444.5 742.8,441.2 749.6,439 C756.5,436.8 759.2,434.3 766,432.4 C772.9,430.5 786.6,428.3 790.7,427.5" fill="none" stroke="#f28e8e" stroke-width="4.6" stroke-linecap="butt" stroke-linejoin="round"/>
<path d="M790.7,419.3 C796.3,419.3 813.3,417.9 824.4,419.3 C835.4,420.6 851.6,426.1 857,427.5" fill="none" stroke="#f28e8e" stroke-width="8" stroke-linecap="butt" stroke-linejoin="round"/>
<path d="M790.7,414.3 L824.4,414.3" fill="none" stroke="#f28e8e" stroke-width="8" stroke-linecap="butt" stroke-linejoin="round"/>
<path d="M610,447.2 C615.5,446.4 632.2,443.6 642.9,442.3 C653.5,440.9 663.1,439 674.1,439 C685,439 697.3,441.2 708.6,442.3 C719.8,443.4 730.5,444.5 741.4,445.6 C752.4,446.7 768.8,448.3 774.3,448.8" fill="none" stroke="#f7b5b5" stroke-width="4.6" stroke-linecap="butt" stroke-linejoin="round"/>
<path d="M610,460.3 C615.5,459.2 632.2,455.4 642.9,453.8 C653.5,452.1 663.1,451 674.1,450.5 C685,449.9 697.3,448.6 708.6,450.5 C719.8,452.4 731.8,456.8 741.4,462 C751,467.2 757.8,475.1 766,481.7 C774.3,488.3 786.6,498.1 790.7,501.4" fill="none" stroke="#f7b5b5" stroke-width="4.6" stroke-linecap="butt" stroke-linejoin="round"/>
<path d="M610,491.6 C612.7,488.3 621,477.3 626.4,471.8 C631.9,466.4 634.9,462.5 642.9,458.7 C650.8,454.9 664.5,449.9 674.1,448.8 C683.6,447.7 691.9,448.8 700.3,452.1 C708.8,455.4 716.8,463.1 725,468.6 C733.2,474 742.8,478.1 749.6,485 C756.5,491.8 761.1,503 766,509.6 C771,516.2 777,521.9 779.2,524.4" fill="none" stroke="#f7b5b5" stroke-width="4.6" stroke-linecap="butt" stroke-linejoin="round"/>
<path d="M779.2,506.3 L790.7,521.1" fill="none" stroke="#a9b5dc" stroke-width="4.6" stroke-linecap="butt" stroke-linejoin="round"/>
<path d="M610,475.1 C614.1,471.3 626.4,457.6 634.6,452.1 C642.9,446.7 649.7,444.2 659.3,442.3 C668.9,440.4 682.5,439.8 692.1,440.6 C701.7,441.5 708.6,442.5 716.8,447.2 C725,451.9 734.6,460.9 741.4,468.6 C748.3,476.2 752.4,483.6 757.8,493.2 C763.3,502.8 768.8,514.5 774.3,526 C779.7,537.5 787.9,556.2 790.7,562.2" fill="none" stroke="#f7b5b5" stroke-width="4.6" stroke-linecap="butt" stroke-linejoin="round"/>
<path d="M610,491.6 C615.5,491 632.2,489.4 642.9,488.3 C653.5,487.2 664.5,485.3 674.1,485 C683.6,484.7 691.9,487.2 700.3,486.6 C708.8,486.1 718.1,484.2 725,481.7 C731.8,479.2 738.7,473.5 741.4,471.8" fill="none" stroke="#f28e8e" stroke-width="4.6" stroke-linecap="butt" stroke-linejoin="round"/>
<path d="M610,526 C614.1,523.9 627.8,513.5 634.6,512.9 C641.5,512.4 647,519.5 651.1,522.8 C655.2,526 657.9,531 659.3,532.6" fill="none" stroke="#f7b5b5" stroke-width="4.6" stroke-linecap="butt" stroke-linejoin="round"/>
<path d="M616.6,524.4 C619.6,525.5 628.9,528.5 634.6,531 C640.4,533.4 645.6,537 651.1,539.2 C656.5,541.4 663.7,543.3 667.5,544.1 C671.3,544.9 673,544.1 674.1,544.1" fill="none" stroke="#a9b5dc" stroke-width="4.6" stroke-linecap="butt" stroke-linejoin="round"/>
<path d="M610,548.2 C615.5,547.8 632.2,546.4 642.9,545.8 C653.5,545.1 665.8,543.8 674.1,544.1 C682.3,544.4 685.8,546.3 692.1,547.4 C698.4,548.5 708.6,550.1 711.8,550.7" fill="none" stroke="#1c4ba0" stroke-width="6" stroke-linecap="butt" stroke-linejoin="round"/>
<path d="M711.8,550.7 L728.3,549" fill="none" stroke="#7b8cc6" stroke-width="4.6" stroke-linecap="butt" stroke-linejoin="round"/>
<path d="M728.3,548.2 L744.7,547.4" fill="none" stroke="#a9b5dc" stroke-width="4.6" stroke-linecap="butt" stroke-linejoin="round"/>
<path d="M744.7,547.4 C748.3,548.2 758.4,549.6 766,552.3 C773.7,555.1 786.6,561.9 790.7,563.8" fill="none" stroke="#f7b5b5" stroke-width="4.6" stroke-linecap="butt" stroke-linejoin="round"/>
<path d="M674.1,544.1 C675.7,543.6 679.5,542.7 683.9,540.8 C688.3,538.9 697.6,534 700.3,532.6" fill="none" stroke="#1c4ba0" stroke-width="6" stroke-linecap="butt" stroke-linejoin="round"/>
<path d="M700.3,532.6 L716.8,522.8" fill="none" stroke="#7b8cc6" stroke-width="4.6" stroke-linecap="butt" stroke-linejoin="round"/>
<path d="M716.8,522.8 C720.3,521.9 731.8,517.3 738.1,517.8 C744.4,518.4 749.9,521.9 754.5,526 C759.2,530.2 762.8,538.9 766,542.5 C769.3,546 771.5,547.4 774.3,547.4 C777,547.4 779.7,544.7 782.5,542.5 C785.2,540.3 789.3,535.6 790.7,534.3" fill="none" stroke="#a9b5dc" stroke-width="4.6" stroke-linecap="butt" stroke-linejoin="round"/>
<path d="M674.1,544.1 C677.1,541.1 685,531.2 692.1,526 C699.2,520.8 712.7,515.1 716.8,512.9" fill="none" stroke="#f07272" stroke-width="4.6" stroke-linecap="butt" stroke-linejoin="round"/>
<path d="M716.8,512.9 C720.3,513.7 731.8,515.4 738.1,517.8 C744.4,520.3 749.9,523.9 754.5,527.7 C759.2,531.5 762.8,537 766,540.8 C769.3,544.7 772.9,549 774.3,550.7" fill="none" stroke="#f7b5b5" stroke-width="4.6" stroke-linecap="butt" stroke-linejoin="round"/>
<path d="M610,514.5 C613.6,514 624.5,509.3 631.4,511.3 C638.2,513.2 646.1,521.9 651.1,526 C656,530.2 659.3,534.3 660.9,535.9" fill="none" stroke="#f07272" stroke-width="4.6" stroke-linecap="butt" stroke-linejoin="round"/>
<path d="M790.7,373.3 L824.4,373.3" fill="none" stroke="#f7b5b5" stroke-width="8" stroke-linecap="butt" stroke-linejoin="round"/>
<path d="M790.7,440.6 L824.4,450.5" fill="none" stroke="#f7b5b5" stroke-width="7" stroke-linecap="butt" stroke-linejoin="round"/>
<path d="M790.7,463.6 L824.4,461.2" fill="none" stroke="#f7b5b5" stroke-width="7" stroke-linecap="butt" stroke-linejoin="round"/>
<path d="M790.7,493.2 L824.4,495.7" fill="none" stroke="#f7b5b5" stroke-width="7" stroke-linecap="butt" stroke-linejoin="round"/>
<path d="M790.7,506.3 L824.4,506.3" fill="none" stroke="#f7b5b5" stroke-width="7" stroke-linecap="butt" stroke-linejoin="round"/>
<path d="M795.6,519.5 L824.4,526" fill="none" stroke="#f7b5b5" stroke-width="6" stroke-linecap="butt" stroke-linejoin="round"/>
<path d="M790.7,537.5 L824.4,539.2" fill="none" stroke="#f7b5b5" stroke-width="7" stroke-linecap="butt" stroke-linejoin="round"/>
<path d="M790.7,547.4 L824.4,546.6" fill="none" stroke="#7b8cc6" stroke-width="7" stroke-linecap="butt" stroke-linejoin="round"/>
<path d="M824.4,435.7 L857,442.3" fill="none" stroke="#f7b5b5" stroke-width="9" stroke-linecap="butt" stroke-linejoin="round"/>
<path d="M824.4,450.5 L857,457.1" fill="none" stroke="#f7b5b5" stroke-width="7" stroke-linecap="butt" stroke-linejoin="round"/>
<path d="M824.4,485 L857,485" fill="none" stroke="#f28e8e" stroke-width="7" stroke-linecap="butt" stroke-linejoin="round"/>
<path d="M824.4,531 L831.7,532.6" fill="none" stroke="#f07272" stroke-width="6" stroke-linecap="butt" stroke-linejoin="round"/>
<path d="M831.7,532.6 C833.7,533.4 839,535.6 843.2,537.5 C847.5,539.5 854.7,543 857,544.1" fill="none" stroke="#7f1517" stroke-width="7" stroke-linecap="butt" stroke-linejoin="round"/>
<path d="M824.4,545.8 L840,544.9" fill="none" stroke="#1c4ba0" stroke-width="7" stroke-linecap="butt" stroke-linejoin="round"/>
<path d="M840,544.9 L857,544.1" fill="none" stroke="#7b8cc6" stroke-width="6" stroke-linecap="butt" stroke-linejoin="round"/>
</g><g clip-path="url(#cpIn)">
<path d="M492.8,356.2 C494,355.8 497.2,354.4 500,353.8 C502.8,353.2 505.6,353.8 509.7,352.6 C513.7,351.4 518.7,349 524.1,346.5 C529.6,344.1 536.2,340.6 542.2,338.1 C548.3,335.6 554.3,333.1 560.3,331.5 C566.4,329.9 573.2,329.1 578.4,328.4 C583.6,327.8 589.5,327.6 591.7,327.5" fill="none" stroke="#f28e8e" stroke-width="4.6" stroke-linecap="butt" stroke-linejoin="round"/>
<path d="M591.7,327.5 C594.5,327.8 603.8,328.6 608.6,329.7 C613.4,330.7 616.2,332.9 620.6,333.9 C625.1,334.9 632.7,335.4 635.1,335.7" fill="none" stroke="#f7b5b5" stroke-width="4.6" stroke-linecap="butt" stroke-linejoin="round"/>
<path d="M635.1,335.7 C637.7,334.9 646.2,332.4 650.8,330.9 C655.4,329.3 658,327.6 662.9,326.6 C667.7,325.7 675,325.4 680,325.1 C685,324.8 690.9,324.9 693,324.8" fill="none" stroke="#f28e8e" stroke-width="4.6" stroke-linecap="butt" stroke-linejoin="round"/>
<path d="M557.9,368.3 C560.3,366.4 566.8,359.6 572.4,357.4 C578,355.2 585.7,355.7 591.7,355 C597.7,354.3 603.8,354.2 608.6,353.2 C613.4,352.2 616.6,350.5 620.6,349 C624.7,347.4 630.7,344.9 632.7,344.1" fill="none" stroke="#f28e8e" stroke-width="4.6" stroke-linecap="butt" stroke-linejoin="round"/>
<path d="M632.7,344.1 C635.7,344.9 645.8,347.1 650.8,349 C655.8,350.8 658,354.2 662.9,355 C667.7,355.8 675,354.1 680,353.8 C685,353.5 690.9,353.3 693,353.2" fill="none" stroke="#f7b5b5" stroke-width="4.6" stroke-linecap="butt" stroke-linejoin="round"/>
<path d="M632.7,344.1 C634.7,343.1 640.7,339.8 644.8,338.1 C648.8,336.4 651.9,334.9 656.8,333.9 C661.8,332.9 668.3,332.5 674.3,332.1 C680.4,331.7 689.9,331.6 693,331.5" fill="none" stroke="#f28e8e" stroke-width="4.6" stroke-linecap="butt" stroke-linejoin="round"/>
<path d="M492.8,410.5 C494,410.3 495.8,409.9 500,409.3 C504.2,408.7 513.1,408.5 518.1,406.9 C523.1,405.3 526.1,402.8 530.2,399.6 C534.2,396.4 538.2,392.2 542.2,387.6 C546.2,382.9 550.3,377.7 554.3,371.9 C558.3,366 562.3,358.8 566.4,352.6 C570.4,346.3 575,338.7 578.4,334.5 C581.8,330.3 584.2,329.7 586.9,327.2 C589.5,324.8 592.9,321.2 594.1,320" fill="none" stroke="#f7b5b5" stroke-width="4.6" stroke-linecap="butt" stroke-linejoin="round"/>
<path d="M557.9,371.9 C560.3,371.2 566.8,367.9 572.4,367.7 C578,367.5 585.7,370 591.7,370.7 C597.7,371.4 603.6,371.5 608.6,371.9 C613.6,372.3 619.6,372.9 621.8,373.1" fill="none" stroke="#f7b5b5" stroke-width="4.6" stroke-linecap="butt" stroke-linejoin="round"/>
<path d="M621.8,373.1 C624.7,372.4 632.9,370 638.7,368.9 C644.6,367.8 650,367.1 656.8,366.4 C663.7,365.8 674,365.5 680,365.2 C686,365 690.9,364.9 693,364.9" fill="none" stroke="#f28e8e" stroke-width="4.6" stroke-linecap="butt" stroke-linejoin="round"/>
<path d="M556.7,398.4 C559.3,396.2 566.6,389.4 572.4,385.1 C578.2,380.9 585.7,375.5 591.7,373.1 C597.7,370.7 605.8,371.1 608.6,370.7" fill="none" stroke="#f7b5b5" stroke-width="4.6" stroke-linecap="butt" stroke-linejoin="round"/>
<path d="M492.8,380.9 C494,380.8 495.8,380.8 500,380.3 C504.2,379.8 512.1,378.6 518.1,377.9 C524.1,377.2 530.2,376.9 536.2,376.1 C542.2,375.3 550.7,373.8 554.3,373.1 C557.9,372.4 557.3,372.1 557.9,371.9" fill="none" stroke="#f28e8e" stroke-width="4.6" stroke-linecap="butt" stroke-linejoin="round"/>
<path d="M500,381.5 L516.9,381.8" fill="none" stroke="#a9b5dc" stroke-width="5" stroke-linecap="butt" stroke-linejoin="round"/>
<path d="M516.9,381.8 C519.3,382.9 526.7,386.8 531.4,388.8 C536,390.7 540.4,391.9 544.6,393.6 C548.9,395.3 554.7,398.1 556.7,399" fill="none" stroke="#f7b5b5" stroke-width="4.6" stroke-linecap="butt" stroke-linejoin="round"/>
<path d="M492.8,404.4 C494,404.2 496.8,403.8 500,403.2 C503.2,402.6 508,402.4 512.1,400.8 C516.1,399.2 520.1,396.2 524.1,393.6 C528.1,391 532.2,388.2 536.2,385.1 C540.2,382.1 544.6,378.3 548.3,375.5 C551.9,372.7 556.3,369.5 557.9,368.3" fill="none" stroke="#f28e8e" stroke-width="4.6" stroke-linecap="butt" stroke-linejoin="round"/>
<path d="M557.9,404.4 C559.5,405.3 564.1,407.5 567.6,409.3 C571,411.1 574.4,414.7 578.4,415.3 C582.4,415.9 586.7,413.5 591.7,412.9 C596.7,412.3 605.8,411.9 608.6,411.7" fill="none" stroke="#f28e8e" stroke-width="4.6" stroke-linecap="butt" stroke-linejoin="round"/>
<path d="M608.6,411.7 C610.6,409.5 616.6,403.6 620.6,398.4 C624.7,393.2 628.7,384.9 632.7,380.3 C636.7,375.7 640.7,373.1 644.8,370.7 C648.8,368.3 654.8,366.6 656.8,365.8" fill="none" stroke="#f7b5b5" stroke-width="4.6" stroke-linecap="butt" stroke-linejoin="round"/>
<path d="M492.8,429.2 C494,429.1 495.8,428.9 500,428.6 C504.2,428.3 512.1,428.4 518.1,427.4 C524.1,426.4 530.2,424.4 536.2,422.5 C542.2,420.7 548.3,418.1 554.3,416.5 C560.3,414.9 569.4,413.5 572.4,412.9" fill="none" stroke="#f28e8e" stroke-width="4.6" stroke-linecap="butt" stroke-linejoin="round"/>
<path d="M492.8,439.4 C494,440.2 497.2,441.6 500,444.3 C502.8,446.9 505.6,454.7 509.7,455.1 C513.7,455.5 519.7,450.1 524.1,446.7 C528.6,443.3 532.2,439.6 536.2,434.6 C540.2,429.6 544.6,421.5 548.3,416.5 C551.9,411.5 556.3,406.5 557.9,404.4" fill="none" stroke="#f07272" stroke-width="4.6" stroke-linecap="butt" stroke-linejoin="round"/>
<path d="M524.1,431 C526.1,432.6 532.8,438.4 536.2,440.6 C539.6,442.9 543.2,443.7 544.6,444.3" fill="none" stroke="#f28e8e" stroke-width="4.6" stroke-linecap="butt" stroke-linejoin="round"/>
<path d="M544.6,444.3 C547.3,443.9 554.7,441.4 560.3,441.8 C566,442.3 573.2,445.5 578.4,446.7 C583.6,447.9 586.7,448.9 591.7,449.1 C596.7,449.3 602.7,448.3 608.6,447.9 C614.4,447.5 620.6,447.3 626.7,446.7 C632.7,446.1 638.7,445.3 644.8,444.3 C650.8,443.3 657,441.4 662.9,440.6 C668.7,439.8 675,439.6 680,439.4 C685,439.2 690.9,439.4 693,439.4" fill="none" stroke="#f7b5b5" stroke-width="4.6" stroke-linecap="butt" stroke-linejoin="round"/>
<path d="M548.3,415.3 C550.3,416.1 555.3,418.3 560.3,420.1 C565.3,421.9 573.2,424.7 578.4,426.2 C583.6,427.7 587.7,429 591.7,429.2 C595.7,429.4 598.7,428.3 602.5,427.4 C606.4,426.5 610.6,424 614.6,423.8 C618.6,423.6 622.7,424.2 626.7,426.2 C630.7,428.2 634.7,432.8 638.7,435.8 C642.8,438.8 646.8,441.6 650.8,444.3 C654.8,446.9 658,449.7 662.9,451.5 C667.7,453.3 675,454.3 680,455.1 C685,455.9 690.9,456.1 693,456.3" fill="none" stroke="#f28e8e" stroke-width="4.6" stroke-linecap="butt" stroke-linejoin="round"/>
<path d="M572.4,416.5 C575.6,417.1 584.7,419.1 591.7,420.1 C598.7,421.1 606.8,421.7 614.6,422.5 C622.5,423.3 631.7,424.4 638.7,425 C645.8,425.6 650,425.8 656.8,426.2 C663.7,426.6 674,427.3 680,427.4 C686,427.5 690.9,426.9 693,426.8" fill="none" stroke="#f28e8e" stroke-width="4.6" stroke-linecap="butt" stroke-linejoin="round"/>
<path d="M632.7,445.5 C635.7,444.5 645.8,440.6 650.8,439.4 C655.8,438.2 658,438 662.9,438.2 C667.7,438.4 675,440 680,440.6 C685,441.2 690.9,441.6 693,441.8" fill="none" stroke="#f7b5b5" stroke-width="6" stroke-linecap="butt" stroke-linejoin="round"/>
<path d="M548.3,464.8 C551.3,464 559.1,460.6 566.4,459.9 C573.6,459.2 583.6,460.7 591.7,460.5 C599.7,460.3 607.8,460 614.6,458.7 C621.4,457.4 626.7,454.1 632.7,452.7 C638.7,451.3 642.9,449.7 650.8,450.3 C658.7,450.9 673,455.1 680,456.3 C687,457.5 690.9,457.3 693,457.5" fill="none" stroke="#f7b5b5" stroke-width="4.6" stroke-linecap="butt" stroke-linejoin="round"/>
<path d="M544.6,457.5 C546.2,458.7 550.7,461.6 554.3,464.8 C557.9,468 562.3,472.8 566.4,476.8 C570.4,480.9 574.2,486.1 578.4,488.9 C582.6,491.7 586.7,493.1 591.7,493.7 C596.7,494.3 601.7,493.3 608.6,492.5 C615.4,491.7 624.7,490.1 632.7,488.9 C640.7,487.7 649.9,486.2 656.8,485.3 C663.8,484.4 668.3,483.8 674.3,483.5 C680.4,483.2 689.9,483.5 693,483.5" fill="none" stroke="#f28e8e" stroke-width="4.6" stroke-linecap="butt" stroke-linejoin="round"/>
<path d="M591.7,501 C594.5,496.9 603.8,482.9 608.6,476.8 C613.4,470.8 616.6,468.4 620.6,464.8 C624.7,461.2 628.7,457.5 632.7,455.1 C636.7,452.7 642.8,451.1 644.8,450.3" fill="none" stroke="#f7b5b5" stroke-width="4.6" stroke-linecap="butt" stroke-linejoin="round"/>
<path d="M602.5,501 C605.6,496.9 615.6,483.3 620.6,476.8 C625.7,470.4 628.7,465.8 632.7,462.4 C636.7,458.9 640.7,457.9 644.8,456.3 C648.8,454.7 654.8,453.3 656.8,452.7" fill="none" stroke="#f7b5b5" stroke-width="4.6" stroke-linecap="butt" stroke-linejoin="round"/>
<path d="M492.8,500.4 C494,500.3 494.8,500.3 500,499.8 C505.2,499.3 516.1,498.1 524.1,497.3 C532.2,496.5 540.2,495.5 548.3,494.9 C556.3,494.3 565.1,493.9 572.4,493.7 C579.6,493.5 588.5,493.7 591.7,493.7" fill="none" stroke="#f7b5b5" stroke-width="4.6" stroke-linecap="butt" stroke-linejoin="round"/>
<path d="M518.1,505.8 C520.1,502 526.5,489.7 530.2,482.9 C533.8,476 536.8,468.4 539.8,464.8 C542.8,461.2 544.8,462 548.3,461.2 C551.7,460.3 558.3,460.1 560.3,459.9" fill="none" stroke="#f7b5b5" stroke-width="4.6" stroke-linecap="butt" stroke-linejoin="round"/>
<path d="M573.8,337.3 C575.3,336.8 579.7,335.4 582.6,333.8 C585.5,332.2 587.6,328.6 591.4,327.7 C595.2,326.8 600.2,327.5 605.5,328.6 C610.7,329.6 617.2,332.4 623,333.8 C628.9,335.3 637.7,336.8 640.6,337.3" fill="none" stroke="#f7b5b5" stroke-width="4.6" stroke-linecap="butt" stroke-linejoin="round"/>
<path d="M669.1,325.4 C671,325.5 674.2,325.1 680,326 C685.8,326.9 696.1,327.8 704.1,330.9 C712.2,333.9 722.2,339.9 728.3,344.1 C734.3,348.4 736.3,351.8 740.3,356.2 C744.3,360.6 748.4,367.1 752.4,370.7 C756.4,374.3 758.1,377.1 764.4,377.9 C770.8,378.7 786.1,375.9 790.4,375.5" fill="none" stroke="#f28e8e" stroke-width="4.6" stroke-linecap="butt" stroke-linejoin="round"/>
<path d="M669.1,333.3 C671,333.5 674.2,333.5 680,334.5 C685.8,335.5 697.1,336.5 704.1,339.3 C711.2,342.1 716.2,346.5 722.2,351.4 C728.3,356.2 735.3,363.4 740.3,368.3 C745.3,373.1 748.4,376.7 752.4,380.3 C756.4,383.9 760.4,387 764.4,390 C768.5,393 772.2,396.4 776.5,398.4 C780.8,400.4 788.1,401.4 790.4,402" fill="none" stroke="#f28e8e" stroke-width="4.6" stroke-linecap="butt" stroke-linejoin="round"/>
<path d="M669.1,353.2 C671,353.3 675.2,353.9 680,353.8 C684.8,353.7 692.1,352.2 698.1,352.6 C704.1,353 710.2,353.6 716.2,356.2 C722.2,358.8 729.3,363.8 734.3,368.3 C739.3,372.7 742.3,378.3 746.4,382.7 C750.4,387.2 754.4,391.2 758.4,394.8 C762.4,398.4 765.2,402 770.5,404.4 C775.8,406.9 787.1,408.5 790.4,409.3" fill="none" stroke="#f7b5b5" stroke-width="4.6" stroke-linecap="butt" stroke-linejoin="round"/>
<path d="M680,356.2 C683,356.8 692.1,357.4 698.1,359.8 C704.1,362.2 710.8,366.8 716.2,370.7 C721.6,374.5 726.6,379.1 730.7,382.7 C734.7,386.4 736.7,389.8 740.3,392.4 C743.9,395 748.4,396.6 752.4,398.4 C756.4,400.2 762.4,402.4 764.4,403.2" fill="none" stroke="#f7b5b5" stroke-width="4.6" stroke-linecap="butt" stroke-linejoin="round"/>
<path d="M669.1,364.6 C671,364.6 675.2,364.4 680,364.6 C684.8,364.8 692.1,364.2 698.1,365.8 C704.1,367.5 710.8,370.9 716.2,374.3 C721.6,377.7 726.6,382.5 730.7,386.4 C734.7,390.2 737.7,393.8 740.3,397.2 C742.9,400.6 744.3,403.6 746.4,406.9 C748.4,410.1 749.8,411.9 752.4,416.5 C755,421.1 759,429.6 762,434.6 C765.1,439.6 767.1,443.5 770.5,446.7 C773.9,449.9 779.2,452.3 782.5,453.9 C785.9,455.5 789.1,455.9 790.4,456.3" fill="none" stroke="#f28e8e" stroke-width="4.6" stroke-linecap="butt" stroke-linejoin="round"/>
<path d="M740.3,398.4 C742.3,397 748.4,392.2 752.4,390 C756.4,387.8 760.4,386.6 764.4,385.1 C768.5,383.7 773.5,382.3 776.5,381.5 C779.5,380.8 781.5,380.7 782.5,380.6" fill="none" stroke="#f7b5b5" stroke-width="4.6" stroke-linecap="butt" stroke-linejoin="round"/>
<path d="M782.5,380.9 L792.2,380.9" fill="none" stroke="#a9b5dc" stroke-width="5" stroke-linecap="butt" stroke-linejoin="round"/>
<path d="M669.1,427.4 C671,427.2 675.2,426.8 680,426.2 C684.8,425.6 692.1,425.8 698.1,423.8 C704.1,421.7 709.2,418.3 716.2,414.1 C723.2,409.9 736.3,401 740.3,398.4" fill="none" stroke="#f28e8e" stroke-width="4.6" stroke-linecap="butt" stroke-linejoin="round"/>
<path d="M669.1,438.8 C671,438.9 674.2,438.7 680,439.4 C685.8,440.1 696.1,442 704.1,443.1 C712.2,444.1 721.2,445.5 728.3,445.5 C735.3,445.5 740.3,444.7 746.4,443.1 C752.4,441.4 758.4,438.2 764.4,435.8 C770.5,433.4 778.2,430 782.5,428.6 C786.9,427.2 789.1,427.6 790.4,427.4" fill="none" stroke="#f28e8e" stroke-width="5.5" stroke-linecap="butt" stroke-linejoin="round"/>
<path d="M669.1,440.6 C671,440.6 674.2,440.4 680,440.6 C685.8,440.8 696.1,440.6 704.1,441.8 C712.2,443.1 721.2,445.1 728.3,447.9 C735.3,450.7 741.3,454.9 746.4,458.7 C751.4,462.6 754.4,466.2 758.4,470.8 C762.4,475.4 766.5,481.9 770.5,486.5 C774.5,491.1 779.5,495.7 782.5,498.5 C785.6,501.4 787.6,502.6 788.6,503.4" fill="none" stroke="#f7b5b5" stroke-width="4.6" stroke-linecap="butt" stroke-linejoin="round"/>
<path d="M669.1,455.7 C671,455.6 675.2,456 680,455.1 C684.8,454.2 692.1,450.7 698.1,450.3 C704.1,449.9 710.2,450.7 716.2,452.7 C722.2,454.7 728.3,458.3 734.3,462.4 C740.3,466.4 747.4,472 752.4,476.8 C757.4,481.7 761.4,487.1 764.4,491.3 C767.5,495.5 769.5,500.4 770.5,502.2" fill="none" stroke="#f7b5b5" stroke-width="4.6" stroke-linecap="butt" stroke-linejoin="round"/>
<path d="M669.1,483.5 C671,483.4 674.2,482.4 680,482.9 C685.8,483.4 697.1,486.7 704.1,486.5 C711.2,486.3 717.2,483.7 722.2,481.7 C727.3,479.6 732.3,475.6 734.3,474.4" fill="none" stroke="#f28e8e" stroke-width="4.6" stroke-linecap="butt" stroke-linejoin="round"/>
<path d="M734.3,474.4 L746.4,470.8" fill="none" stroke="#f7b5b5" stroke-width="4.6" stroke-linecap="butt" stroke-linejoin="round"/>
<path d="M680,458.7 C684,459.1 696.1,460.5 704.1,461.2 C712.2,461.8 721.2,461.2 728.3,462.4 C735.3,463.6 741.3,465 746.4,468.4 C751.4,471.8 754.4,478.6 758.4,482.9 C762.4,487.1 766.5,491.1 770.5,493.7 C774.5,496.3 779.2,497.3 782.5,498.5 C785.9,499.8 789.1,500.6 790.4,501" fill="none" stroke="#f7b5b5" stroke-width="4.6" stroke-linecap="butt" stroke-linejoin="round"/>
<path d="M789.2,329.7 L823.6,327.5" fill="none" stroke="#f28e8e" stroke-width="8" stroke-linecap="butt" stroke-linejoin="round"/>
<path d="M823.6,326.6 L857,326.6" fill="none" stroke="#f28e8e" stroke-width="8" stroke-linecap="butt" stroke-linejoin="round"/>
<path d="M823.6,334.7 L857,334.5" fill="none" stroke="#f28e8e" stroke-width="8" stroke-linecap="butt" stroke-linejoin="round"/>
<path d="M789.2,350.2 C792.1,350.6 800.8,351.7 806.7,352.6 C812.5,353.5 821.3,355.1 824.2,355.6" fill="none" stroke="#f28e8e" stroke-width="6" stroke-linecap="butt" stroke-linejoin="round"/>
<path d="M824.2,355.6 L857,355" fill="none" stroke="#f7b5b5" stroke-width="7" stroke-linecap="butt" stroke-linejoin="round"/>
<path d="M789.2,374.3 L824.2,371.9" fill="none" stroke="#f7b5b5" stroke-width="9" stroke-linecap="butt" stroke-linejoin="round"/>
<path d="M824.2,367.3 L857,364.9" fill="none" stroke="#f28e8e" stroke-width="7" stroke-linecap="butt" stroke-linejoin="round"/>
<path d="M789.2,415.9 L824.2,414.7" fill="none" stroke="#f28e8e" stroke-width="9" stroke-linecap="butt" stroke-linejoin="round"/>
<path d="M789.2,420.7 L824.2,419.9" fill="none" stroke="#f28e8e" stroke-width="7" stroke-linecap="butt" stroke-linejoin="round"/>
<path d="M789.2,428.6 L824.2,429.8" fill="none" stroke="#f28e8e" stroke-width="6" stroke-linecap="butt" stroke-linejoin="round"/>
<path d="M824.2,424 L857,427.4" fill="none" stroke="#f28e8e" stroke-width="7" stroke-linecap="butt" stroke-linejoin="round"/>
<path d="M789.2,442.1 C792.1,442.9 800.8,445.1 806.7,446.7 C812.5,448.2 815.8,449.7 824.2,451.5 C832.6,453.3 851.5,456.5 857,457.5" fill="none" stroke="#f7b5b5" stroke-width="7" stroke-linecap="butt" stroke-linejoin="round"/>
<path d="M824.2,436.4 L857,438.8" fill="none" stroke="#f7b5b5" stroke-width="9" stroke-linecap="butt" stroke-linejoin="round"/>
<path d="M789.2,463.6 L824.2,461.2" fill="none" stroke="#f7b5b5" stroke-width="7" stroke-linecap="butt" stroke-linejoin="round"/>
<path d="M824.2,485.3 L857,485.3" fill="none" stroke="#f28e8e" stroke-width="7" stroke-linecap="butt" stroke-linejoin="round"/>
<path d="M789.2,494 L824.2,495.2" fill="none" stroke="#f7b5b5" stroke-width="7" stroke-linecap="butt" stroke-linejoin="round"/>
</g><g clip-path="url(#cpIn2)">
<path d="M196,353.6 C198,352.7 204.3,350.3 208.1,348.2 C211.9,346.2 214.8,344 218.8,341.5 C222.8,339.1 227.3,335.5 232.2,333.5 C237.1,331.5 242.9,330.5 248.3,329.5 C253.6,328.5 259.5,327.7 264.4,327.5 C269.3,327.3 273.1,328.7 277.8,328.1 C282.5,327.6 287.8,326.1 292.5,324.1 C297.2,322.1 301.5,319.4 305.9,316.1 C310.4,312.7 316,307.1 319.3,304 C322.7,300.9 324.9,298.4 326,297.3" fill="none" stroke="#f28e8e" stroke-width="4.6" stroke-linecap="butt" stroke-linejoin="round"/>
<path d="M196,353.6 C198.7,352 207.2,348.7 212.1,344.2 C217,339.8 221.5,332.4 225.5,326.8 C229.5,321.2 232.9,315.6 236.2,310.7 C239.6,305.8 244,299.6 245.6,297.3" fill="none" stroke="#f28e8e" stroke-width="4.6" stroke-linecap="butt" stroke-linejoin="round"/>
<path d="M252.3,337.5 C254.3,336.9 260.1,334.6 264.4,333.5 C268.6,332.4 272.9,330.8 277.8,330.8 C282.7,330.8 288,331.9 293.9,333.5 C299.7,335.1 307.3,338.4 312.6,340.2 C318,342 321.6,343.1 326,344.2 C330.5,345.3 333.8,345.3 339.4,346.9 C345,348.5 352.8,352.5 359.5,353.6 C366.2,354.7 376.3,353.6 379.6,353.6" fill="none" stroke="#f7b5b5" stroke-width="4.6" stroke-linecap="butt" stroke-linejoin="round"/>
<path d="M188,399.2 C189.3,398.7 192,398.5 196,396.5 C200,394.5 206.1,392 212.1,387.1 C218.1,382.2 226.2,372.1 232.2,367 C238.2,361.9 242.9,358.9 248.3,356.3 C253.6,353.7 259.5,352.6 264.4,351.6 C269.3,350.6 272,350.6 277.8,350.3 C283.6,349.9 293.4,350.4 299.2,349.6 C305,348.8 308.2,347.4 312.6,345.6 C317.1,343.8 321.6,340.9 326,338.9 C330.5,336.9 333.8,335.7 339.4,333.5 C345,331.3 353.9,326.4 359.5,325.5 C365.1,324.6 370.7,327.7 372.9,328.1" fill="none" stroke="#f28e8e" stroke-width="4.6" stroke-linecap="butt" stroke-linejoin="round"/>
<path d="M188,405.9 C189.5,405.4 192.2,406.1 197.4,403.2 C202.5,400.3 211.2,393.6 218.8,388.5 C226.4,383.3 238.5,375.3 242.9,372.4 C247.4,369.5 245.2,371.3 245.6,371" fill="none" stroke="#f28e8e" stroke-width="4.6" stroke-linecap="butt" stroke-linejoin="round"/>
<path d="M245.6,370.4 C251,370.8 267.3,372.4 277.8,373 C288.3,373.7 303.5,374.2 308.6,374.4" fill="none" stroke="#f7b5b5" stroke-width="4.6" stroke-linecap="butt" stroke-linejoin="round"/>
<path d="M308.6,374.4 C311.5,373.4 317.5,369.5 326,368.4 C334.5,367.2 349.5,367.5 359.5,367.7 C369.6,367.9 381.9,369.4 386.3,369.7" fill="none" stroke="#f28e8e" stroke-width="4.6" stroke-linecap="butt" stroke-linejoin="round"/>
<path d="M216.1,420.6 C218.1,419.1 223.3,415.7 228.2,411.2 C233.1,406.8 240.5,398.3 245.6,393.8 C250.7,389.3 253.6,387.1 259,384.4 C264.4,381.8 271.1,379.3 277.8,377.7 C284.5,376.2 292.3,376.4 299.2,375.1 C306.1,373.7 313.7,372.1 319.3,369.7 C324.9,367.2 328.3,363.2 332.7,360.3 C337.2,357.4 341.7,354.1 346.1,352.3 C350.6,350.5 355.1,349.8 359.5,349.6 C364,349.4 370.7,350.7 372.9,350.9" fill="none" stroke="#f7b5b5" stroke-width="4.6" stroke-linecap="butt" stroke-linejoin="round"/>
<path d="M279.1,423.3 C280.2,421.7 281.3,419.3 285.8,413.9 C290.3,408.6 300.3,397.6 305.9,391.1 C311.5,384.7 314.9,380.2 319.3,375.1 C323.8,369.9 328.3,363.9 332.7,360.3 C337.2,356.7 341.7,355.2 346.1,353.6 C350.6,352 353.9,351.2 359.5,350.9 C365.1,350.7 376.3,352 379.6,352.3" fill="none" stroke="#f7b5b5" stroke-width="4.6" stroke-linecap="butt" stroke-linejoin="round"/>
<path d="M188,393.8 C189.3,393.8 189.8,394 196,393.8 C202.3,393.6 217.2,391.8 225.5,392.5 C233.8,393.1 240,395.6 245.6,397.8 C251.2,400.1 254.5,403.2 259,405.9 C263.5,408.6 267.9,411.7 272.4,413.9 C276.9,416.2 280.2,417.9 285.8,419.3 C291.4,420.6 299.2,421.3 305.9,422 C312.6,422.6 317.1,422.9 326,423.3 C335,423.7 351.7,425.1 359.5,424.6 C367.3,424.2 370.7,421.3 372.9,420.6" fill="none" stroke="#f28e8e" stroke-width="5" stroke-linecap="butt" stroke-linejoin="round"/>
<path d="M188,430 C189.3,429.8 190.9,430.2 196,428.7 C201.2,427.1 210.5,422.9 218.8,420.6 C227.1,418.4 237.8,416.4 245.6,415.3 C253.4,414.1 260.1,413.9 265.7,413.9 C271.3,413.9 274.6,414.6 279.1,415.3 C283.6,415.9 290.3,417.5 292.5,417.9" fill="none" stroke="#f28e8e" stroke-width="4.6" stroke-linecap="butt" stroke-linejoin="round"/>
<path d="M188,405.9 C189.3,406.1 190.9,406.3 196,407.2 C201.2,408.1 210.5,409.5 218.8,411.2 C227.1,413 237.8,415.7 245.6,417.9 C253.4,420.2 260.4,423.1 265.7,424.6 C271.1,426.2 274.4,427.1 277.8,427.3 C281.1,427.5 282.2,427.5 285.8,426 C289.4,424.4 297,419.3 299.2,417.9" fill="none" stroke="#f7b5b5" stroke-width="4.6" stroke-linecap="butt" stroke-linejoin="round"/>
<path d="M188,408.6 C189.3,408.8 192,408.6 196,409.9 C200,411.2 206.1,414.8 212.1,416.6 C218.1,418.4 225.5,419.5 232.2,420.6 C238.9,421.7 245.6,422.5 252.3,423.3 C259,424.1 269.1,425 272.4,425.3" fill="none" stroke="#f7b5b5" stroke-width="4.6" stroke-linecap="butt" stroke-linejoin="round"/>
<path d="M188,426 C189.3,426.4 192.4,427.5 196,428.7 C199.6,429.8 204.5,429.6 209.4,432.7 C214.3,435.8 220.6,442.7 225.5,447.4 C230.4,452.1 235.1,457.7 238.9,460.8 C242.7,464 244.9,464 248.3,466.2 C251.6,468.4 257.2,472.9 259,474.2" fill="none" stroke="#f28e8e" stroke-width="4.6" stroke-linecap="butt" stroke-linejoin="round"/>
<path d="M225.5,468.9 C226.6,468 228.9,466 232.2,463.5 C235.6,461 241.1,455.2 245.6,454.1 C250.1,453 253.6,455.5 259,456.8 C264.4,458.1 271.1,461.5 277.8,462.2 C284.5,462.8 292.3,462.4 299.2,460.8 C306.1,459.3 312.6,455.5 319.3,452.8 C326,450.1 332.7,447 339.4,444.7 C346.1,442.5 353.9,440.3 359.5,439.4 C365.1,438.5 370.7,439.4 372.9,439.4" fill="none" stroke="#f7b5b5" stroke-width="4.6" stroke-linecap="butt" stroke-linejoin="round"/>
<path d="M212.1,509.1 C213.2,507.3 215.5,504.2 218.8,498.4 C222.2,492.5 227.7,481.2 232.2,474.2 C236.7,467.3 243.4,459.7 245.6,456.8" fill="none" stroke="#f7b5b5" stroke-width="4.6" stroke-linecap="butt" stroke-linejoin="round"/>
<path d="M256.3,452.8 C259,451 268.8,444.1 272.4,442.1 C276,440.1 273.3,440.5 277.8,440.7 C282.2,440.9 291.2,442.1 299.2,443.4 C307.3,444.7 318.2,447.4 326,448.8 C333.8,450.1 340.5,451.2 346.1,451.4 C351.7,451.7 355.1,450.3 359.5,450.1 C364,449.9 370.7,450.1 372.9,450.1" fill="none" stroke="#f7b5b5" stroke-width="4.6" stroke-linecap="butt" stroke-linejoin="round"/>
<path d="M312.6,423.3 C314.9,424.6 321.6,428.7 326,431.3 C330.5,434 333.8,436.9 339.4,439.4 C345,441.8 352.8,443.8 359.5,446.1 C366.2,448.3 376.3,451.7 379.6,452.8" fill="none" stroke="#f28e8e" stroke-width="4.6" stroke-linecap="butt" stroke-linejoin="round"/>
<path d="M326,454.1 C328.3,452.3 333.8,446.8 339.4,443.4 C345,440.1 352.8,434.7 359.5,434 C366.2,433.4 376.3,438.5 379.6,439.4" fill="none" stroke="#f7b5b5" stroke-width="4.6" stroke-linecap="butt" stroke-linejoin="round"/>
</g>
<path d="M509.7,353.5 C511,353.2 513.3,353.8 517.6,351.4 C521.8,349 529.3,346.1 535.2,339.1 C541,332.1 548.3,316.7 552.7,309.2 C557.1,301.7 558.6,299.3 561.5,294.3 C564.5,289.3 566.8,283.7 570.3,279.3 C573.8,274.9 579.1,270.1 582.6,267.9 C586.1,265.7 589.9,266.4 591.4,266.2" fill="none" stroke="#f28e8e" stroke-width="4.6" stroke-linecap="butt" stroke-linejoin="round"/>
<path d="M591.4,327.7 C593.7,326.9 600.8,325.8 605.5,323.3 C610.2,320.8 614.8,316.8 619.5,312.7 C624.2,308.6 628.6,303.7 633.6,298.7 C638.6,293.7 644.4,287.5 649.4,282.9 C654.4,278.2 659.4,273.5 663.5,270.5 C667.6,267.6 672.3,265.9 674,264.9" fill="none" stroke="#f28e8e" stroke-width="4.6" stroke-linecap="butt" stroke-linejoin="round"/>
<path d="M674,264.4 C677.2,265.7 687.8,268.9 693.4,272.3 C698.9,275.7 703,280.2 707.4,284.6 C711.8,289 715.3,294 719.7,298.7 C724.1,303.4 729.4,307.9 733.8,312.7 C738.2,317.6 741.1,322.7 746.1,327.7 C751.1,332.7 758.4,338.8 763.7,342.6 C768.9,346.4 773.3,348.8 777.7,350.5 C782.1,352.3 788,352.7 790,353.2" fill="none" stroke="#f28e8e" stroke-width="4.3" stroke-linecap="butt" stroke-linejoin="round"/>
<path d="M674.9,267 C678.6,269.8 690.9,278.7 696.9,283.7 C702.9,288.8 706.5,292.7 710.9,297.3 C715.3,301.9 718.8,306.6 723.2,311.3 C727.6,316 732.9,320.9 737.3,325.4 C741.7,329.9 744.6,334.3 749.6,338.2 C754.6,342.1 761.9,346.3 767.2,348.8 C772.5,351.2 777.4,352 781.2,352.8 C785.1,353.6 788.6,353.4 790,353.5" fill="none" stroke="#f28e8e" stroke-width="4.3" stroke-linecap="butt" stroke-linejoin="round"/>
<circle cx="323.8" cy="544.8" r="6.5" fill="none" stroke="#222" stroke-width="1.8"/>
<circle cx="336.9" cy="542.4" r="6.5" fill="none" stroke="#222" stroke-width="1.8"/>
<circle cx="356.6" cy="545.7" r="6.5" fill="none" stroke="#222" stroke-width="1.8"/>
<circle cx="639.6" cy="549" r="6.5" fill="none" stroke="#222" stroke-width="1.8"/>
<circle cx="651.1" cy="544.1" r="6.5" fill="none" stroke="#222" stroke-width="1.8"/>
<circle cx="660.9" cy="537.5" r="6.5" fill="none" stroke="#222" stroke-width="1.8"/>
<circle cx="674.9" cy="545.8" r="6.5" fill="none" stroke="#222" stroke-width="1.8"/>
<ellipse cx="566.6" cy="553.1" rx="14" ry="7.5" fill="none" stroke="#222" stroke-width="1.8"/>
<rect x="832.1" y="541.6" width="14" height="10" fill="none" stroke="#222" stroke-width="1.6"/>
<defs><clipPath id="cpOut"><path clip-rule="evenodd" d="M196,79 H858 V611 H196 Z M500,287 H857 V500 H500 Z M197,336 H360.5 V458 H197 Z"/></clipPath><clipPath id="cpIn"><rect x="500" y="287" width="357" height="213"/></clipPath><clipPath id="cpIn2"><rect x="197" y="336" width="163.5" height="122"/></clipPath></defs>
<g clip-path="url(#cpOut)">
<path d="M197,201.7 C198.6,200.7 203,198.1 206.6,195.4 C210.3,192.7 214.8,188.6 218.9,185.6 C222.9,182.7 225.8,179.8 231.1,177.8 C236.4,175.9 244.9,174 250.6,173.9 C256.3,173.8 260.8,175.9 265.2,177.3 C269.7,178.7 275.4,181.4 277.4,182.2" fill="none" stroke="#f7b5b5" stroke-width="4.6" stroke-linecap="butt" stroke-linejoin="round"/>
<path d="M197,184.6 C198.6,185.6 203,187.6 206.6,190.5 C210.3,193.4 214.8,199 218.9,202.2 C222.9,205.5 227.4,208.7 231.1,210 C234.7,211.4 236.8,211.7 240.8,210.5 C244.9,209.4 250.6,205.3 255.5,203.2 C260.4,201.1 266.5,199 270.1,197.8 C273.8,196.7 276.2,196.6 277.4,196.4" fill="none" stroke="#f7b5b5" stroke-width="4.6" stroke-linecap="butt" stroke-linejoin="round"/>
<path d="M197,211 C198.6,211.7 202.2,214.2 206.6,215.4 C211.1,216.6 218,218.4 223.7,218.3 C229.4,218.3 234.7,217.9 240.8,214.9 C246.9,211.9 254.3,204.5 260.4,200.3 C266.5,196 274.6,191.3 277.4,189.5" fill="none" stroke="#f7b5b5" stroke-width="4.6" stroke-linecap="butt" stroke-linejoin="round"/>
<path d="M197,184.2 C199.4,184.4 205,184.6 211.5,185.6 C218,186.7 227.8,189 235.9,190.5 C244.1,192 253.4,193.4 260.4,194.4 C267.3,195.4 274.6,196 277.4,196.4" fill="none" stroke="#f28e8e" stroke-width="4.6" stroke-linecap="butt" stroke-linejoin="round"/>
<path d="M197,202.2 C198.6,201.9 201.8,201 206.6,200.3 C211.5,199.5 219.7,198.5 226.2,197.8 C232.7,197.2 239.2,196.8 245.7,196.4 C252.2,196 260,195.5 265.2,195.4 C270.5,195.3 275.4,195.8 277.4,195.9" fill="none" stroke="#f28e8e" stroke-width="4.6" stroke-linecap="butt" stroke-linejoin="round"/>
<path d="M277.6,182.1 C280.2,180.6 287.2,176.5 292.9,173 C298.7,169.4 306.1,163.9 312.2,160.9 C318.4,158 321.9,156.1 329.9,155.3 C338,154.5 350.3,156.4 360.5,156.1 C370.7,155.8 382.8,153.9 391,153.7 C399.3,153.4 406.8,154.3 410,154.5" fill="none" stroke="#f7b5b5" stroke-width="4.6" stroke-linecap="butt" stroke-linejoin="round"/>
<path d="M277.6,191.5 C281.8,191.9 294.4,192.4 302.6,193.9 C310.8,195.4 319.7,198.6 326.7,200.3 C333.7,202.1 338.8,203.5 344.4,204.3 C350,205.1 354,204.9 360.5,205.1 C366.9,205.4 376.4,205.5 383,205.9 C389.6,206.3 397.2,207.3 400,207.5" fill="none" stroke="#f7b5b5" stroke-width="4.6" stroke-linecap="butt" stroke-linejoin="round"/>
<path d="M277.6,196.3 C279.7,197.1 285.6,198.4 289.7,201.1 C293.9,203.8 297.8,209.2 302.6,212.4 C307.4,215.6 313.8,219.3 318.7,220.4 C323.5,221.5 327.2,220.4 331.5,218.8 C335.8,217.2 339.6,212.8 344.4,210.8 C349.2,208.8 354,206.6 360.5,206.7 C366.9,206.9 376.4,212 383,211.6 C389.6,211.2 397.2,205.5 400,204.3" fill="none" stroke="#f28e8e" stroke-width="4.6" stroke-linecap="butt" stroke-linejoin="round"/>
<path d="M277.6,189.9 C281.8,191.2 294.4,195.5 302.6,197.9 C310.8,200.3 317.1,202.7 326.7,204.3 C336.3,205.9 349.8,205.7 360.5,207.5 C371.2,209.4 384.4,214 391,215.6 C397.6,217.2 398.5,216.9 400,217.2" fill="none" stroke="#f7b5b5" stroke-width="4.6" stroke-linecap="butt" stroke-linejoin="round"/>
<path d="M360.5,207.5 C364.2,209.7 376.4,217.5 383,220.4 C389.6,223.4 397.2,224.4 400,225.2" fill="none" stroke="#f7b5b5" stroke-width="4.6" stroke-linecap="butt" stroke-linejoin="round"/>
<path d="M197,263.8 C201.2,264.5 215.3,266.9 222.2,267.9 C229,268.8 231.5,269.5 238.2,269.5 C244.9,269.5 255.8,268.3 262.4,267.9 C268.9,267.5 270.9,267.6 277.6,267.1 C284.3,266.5 293.6,265.4 302.6,264.6 C311.6,263.8 321.9,262.4 331.5,262.2 C341.2,262.1 355.6,263.6 360.5,263.8" fill="none" stroke="#f28e8e" stroke-width="4.6" stroke-linecap="butt" stroke-linejoin="round"/>
<path d="M359.3,263.3 C362.9,264.7 373.2,266.5 380.9,271.6 C388.6,276.7 397.5,285.3 405.8,294 C414.1,302.7 422.4,315.3 430.7,323.9 C439,332.5 448.1,340.6 455.6,345.5 C463.1,350.4 472.2,352 475.5,353.3" fill="none" stroke="#f28e8e" stroke-width="4.2" stroke-linecap="butt" stroke-linejoin="round"/>
<path d="M361,267.5 C365.1,270.1 377.6,276.2 385.9,283.2 C394.2,290.3 402.5,300.9 410.8,309.8 C419.1,318.7 427.7,329.6 435.7,336.7 C443.7,343.7 452.3,349.3 458.9,352.1 C465.6,355 472.8,353.7 475.5,354" fill="none" stroke="#f28e8e" stroke-width="4.2" stroke-linecap="butt" stroke-linejoin="round"/>
<path d="M277.6,268.7 C281.8,267.1 293.6,263.3 302.6,259 C311.6,254.7 321.9,247.3 331.5,242.9 C341.2,238.5 351.9,232.2 360.5,232.5 C369.1,232.7 376.4,240.6 383,244.5 C389.6,248.4 397.2,253.9 400,255.8" fill="none" stroke="#f28e8e" stroke-width="4.6" stroke-linecap="butt" stroke-linejoin="round"/>
<path d="M197,353.9 C201.2,352.3 212.6,348 222.2,344.2 C231.7,340.5 245.1,334.1 254.3,331.4 C263.6,328.7 270.9,329.8 277.6,328.2 C284.3,326.6 287.7,326.3 294.5,321.7 C301.4,317.2 310.6,308.6 318.7,300.8 C326.7,293.1 335.8,281.1 342.8,275.1 C349.8,269.1 357.5,266.4 360.5,264.6" fill="none" stroke="#f28e8e" stroke-width="4.6" stroke-linecap="butt" stroke-linejoin="round"/>
<path d="M197,355.5 C199.9,353.1 207.2,350.1 214.1,341 C221,331.9 230.2,311.3 238.2,300.8 C246.3,290.4 255.8,283.1 262.4,278.3 C268.9,273.5 272.3,273.5 277.6,271.9 C283,270.3 291.7,269.2 294.5,268.7" fill="none" stroke="#f28e8e" stroke-width="4.6" stroke-linecap="butt" stroke-linejoin="round"/>
<path d="M254.3,342.6 C258.2,340.8 269.6,332.5 277.6,331.4 C285.7,330.3 294.4,334.3 302.6,336.2 C310.8,338.1 317.1,339.6 326.7,342.6 C336.3,345.7 349.8,353.1 360.5,354.7 C371.2,356.3 382.8,352.4 391,352.3 C399.3,352.2 406.8,353.6 410,353.9" fill="none" stroke="#f7b5b5" stroke-width="4.6" stroke-linecap="butt" stroke-linejoin="round"/>
<path d="M302.6,345.9 C306.6,344.5 317.1,341 326.7,337.8 C336.3,334.6 351.1,327.6 360.5,326.6 C369.9,325.5 376.4,329.2 383,331.4 C389.6,333.5 397.2,338.1 400,339.4" fill="none" stroke="#f28e8e" stroke-width="4.6" stroke-linecap="butt" stroke-linejoin="round"/>
<path d="M326.7,342.6 C332.3,341.3 351.1,334.9 360.5,334.6 C369.9,334.3 376.4,338.9 383,341 C389.6,343.2 397.2,346.4 400,347.5" fill="none" stroke="#f28e8e" stroke-width="4.6" stroke-linecap="butt" stroke-linejoin="round"/>
<path d="M238.2,355.5 C244.8,354.4 266.9,350.1 277.6,349.1 C288.4,348 294.4,350.1 302.6,349.1 C310.8,348 322.7,343.7 326.7,342.6" fill="none" stroke="#f28e8e" stroke-width="4.6" stroke-linecap="butt" stroke-linejoin="round"/>
<path d="M222.2,379.6 C226.2,376.4 237,368.4 246.3,360.3 C255.5,352.3 272.4,336.2 277.6,331.4" fill="none" stroke="#f7b5b5" stroke-width="4.6" stroke-linecap="butt" stroke-linejoin="round"/>
<path d="M246.3,368.4 C251.5,368.9 268.3,370.8 277.6,371.6 C287,372.4 294.4,373.7 302.6,373.2 C310.8,372.7 317.1,370.8 326.7,368.4 C336.3,366 351.1,359.5 360.5,358.7 C369.9,357.9 374.7,360.1 383,363.5 C391.2,367 405.5,376.9 410,379.6" fill="none" stroke="#f7b5b5" stroke-width="4.6" stroke-linecap="butt" stroke-linejoin="round"/>
<path d="M302.6,373.2 C307.9,372.4 325.1,369.2 334.7,368.4 C344.4,367.6 351.1,367.8 360.5,368.4 C369.9,368.9 382.8,369.7 391,371.6 C399.3,373.5 406.8,378.3 410,379.6" fill="none" stroke="#f28e8e" stroke-width="4.6" stroke-linecap="butt" stroke-linejoin="round"/>
<path d="M326.7,379.6 C330.7,377.2 345.2,368.4 350.8,365.2 C356.5,361.9 358.9,361.1 360.5,360.3" fill="none" stroke="#f7b5b5" stroke-width="4.6" stroke-linecap="butt" stroke-linejoin="round"/>
<path d="M400,154.5 C404,155.5 417.4,158 424.1,160.9 C430.8,163.9 435.4,168.1 440.2,172.2 C445,176.2 448.5,180.7 453.1,185 C457.6,189.3 463.7,195.1 467.5,197.9 C471.4,200.7 472.1,201.6 476.4,201.9 C480.7,202.2 487.7,200.7 493.3,199.5 C498.9,198.3 504.5,197.9 509.8,194.7 C515.2,191.5 520.2,185 525.4,180.2 C530.7,175.4 535.6,169.4 541.5,165.7 C547.4,162.1 554.9,158.8 560.8,158.5 C566.7,158.2 571.7,162.2 576.9,164.1 C582.1,166 589.4,168.8 591.9,169.8" fill="none" stroke="#f7b5b5" stroke-width="4.6" stroke-linecap="butt" stroke-linejoin="round"/>
<path d="M591.9,173.8 C594.2,172.4 601.2,168.4 605.9,165.7 C610.5,163.1 617.6,159 620,157.7" fill="none" stroke="#f7b5b5" stroke-width="4.6" stroke-linecap="butt" stroke-linejoin="round"/>
<path d="M400,204.3 C404,203 416.1,199 424.1,196.3 C432.2,193.6 439.5,190.5 448.2,188.2 C457,186 466.1,182.9 476.4,182.6 C486.7,182.4 498.5,185.4 509.8,186.6 C521.2,187.8 533.6,188.4 544.7,189.9 C555.9,191.3 569.1,194.4 576.9,195.5 C584.8,196.6 584.7,196 591.9,196.3 C599,196.6 615.3,197 620,197.1" fill="none" stroke="#f28e8e" stroke-width="4.6" stroke-linecap="butt" stroke-linejoin="round"/>
<path d="M424.1,201.1 C428.1,200.8 439.5,199.5 448.2,199.5 C457,199.5 466.1,200.3 476.4,201.1 C486.7,201.9 498.5,204.6 509.8,204.3 C521.2,204.1 534.9,200.8 544.7,199.5 C554.6,198.2 561,196.8 568.9,196.3 C576.7,195.8 585.2,194.9 591.9,196.3 C598.6,197.6 604.4,201.4 609.1,204.3 C613.8,207.3 618.2,212.4 620,214" fill="none" stroke="#f28e8e" stroke-width="4.6" stroke-linecap="butt" stroke-linejoin="round"/>
<path d="M400,217.2 C405.4,217.5 421.4,221.2 432.2,218.8 C442.9,216.4 457,205.9 464.3,202.7 C471.7,199.5 468.8,199.2 476.4,199.5 C484,199.8 499.8,202.2 509.8,204.3 C519.9,206.5 529.5,210.2 536.7,212.4 C543.9,214.5 547.4,217.5 552.8,217.2 C558.1,216.9 563.5,213.4 568.9,210.8 C574.2,208.1 581.1,203.3 584.9,201.1 C588.8,199 590.7,198.4 591.9,197.9" fill="none" stroke="#f7b5b5" stroke-width="4.6" stroke-linecap="butt" stroke-linejoin="round"/>
<path d="M400,225.2 C402.7,225.6 409.4,228.5 416.1,227.6 C422.8,226.8 430.2,223.2 440.2,220.4 C450.3,217.6 464.8,212.9 476.4,210.8 C488,208.6 499.8,206.5 509.8,207.5 C519.9,208.6 530.3,215.1 536.7,217.2 C543.1,219.3 543.9,220.7 548,220.4 C552,220.1 556,218.3 560.8,215.6 C565.6,212.9 571.7,207.5 576.9,204.3 C582.1,201.1 589.4,197.6 591.9,196.3" fill="none" stroke="#f7b5b5" stroke-width="4.6" stroke-linecap="butt" stroke-linejoin="round"/>
<path d="M400,255.8 C405.4,258.1 419.4,268.3 432.2,269.5 C444.9,270.7 463.4,264.8 476.4,263 C489.3,261.3 498.5,259.1 509.8,259 C521.2,258.9 533.6,260.6 544.7,262.2 C555.9,263.8 569.1,267.9 576.9,268.7 C584.8,269.5 584.7,268.4 591.9,267.1 C599,265.7 615.3,261.7 620,260.6" fill="none" stroke="#f28e8e" stroke-width="4.6" stroke-linecap="butt" stroke-linejoin="round"/>
<path d="M476.4,352.6 C482,352.7 501.7,353.9 509.8,353.1 C518,352.2 522.8,348.4 525.4,347.5" fill="none" stroke="#f28e8e" stroke-width="4.6" stroke-linecap="butt" stroke-linejoin="round"/>
<path d="M509.8,352.3 C513,350.9 521.5,347.5 528.7,344.2 C535.8,341 544.7,335.8 552.8,333 C560.8,330.2 570.4,328.4 576.9,327.4 C583.4,326.3 586.5,327.5 591.9,326.6 C597.2,325.6 604.4,323.9 609.1,321.7 C613.8,319.6 618.2,315 620,313.7" fill="none" stroke="#f28e8e" stroke-width="4.6" stroke-linecap="butt" stroke-linejoin="round"/>
<path d="M576.9,334.6 C579.6,333.4 585.8,327.6 593,327.4 C600.2,327.1 615.5,332 620,333" fill="none" stroke="#f7b5b5" stroke-width="4.6" stroke-linecap="butt" stroke-linejoin="round"/>
<path d="M544.7,360.3 C548.8,357.1 561,346.1 568.9,341 C576.7,335.9 588,331.6 591.9,329.8" fill="none" stroke="#f7b5b5" stroke-width="4.6" stroke-linecap="butt" stroke-linejoin="round"/>
<path d="M554.4,368.4 C558.1,366.2 570.7,357.9 576.9,355.5 C583.2,353.1 584.7,354.7 591.9,353.9 C599,353.1 615.3,351.2 620,350.7" fill="none" stroke="#f28e8e" stroke-width="4.6" stroke-linecap="butt" stroke-linejoin="round"/>
<path d="M560.8,368.4 C566,368.4 582,368.4 591.9,368.4 C601.7,368.4 615.3,368.4 620,368.4" fill="none" stroke="#f7b5b5" stroke-width="4.6" stroke-linecap="butt" stroke-linejoin="round"/>
<path d="M400,339.4 C405.4,344 423.6,359.3 432.2,366.8 C440.7,374.3 448.2,381.5 451.5,384.5" fill="none" stroke="#f28e8e" stroke-width="4.6" stroke-linecap="butt" stroke-linejoin="round"/>
<path d="M400,347.5 C404,350.9 417.4,362.2 424.1,368.4 C430.8,374.5 437.5,381.8 440.2,384.5" fill="none" stroke="#f7b5b5" stroke-width="4.6" stroke-linecap="butt" stroke-linejoin="round"/>
<path d="M592,173.8 C595,173 603,172.2 610,169 C617,165.7 623.4,157.4 634.1,154.5 C644.9,151.5 662.3,152.2 674.4,151.3 C686.4,150.3 697.1,148.3 706.5,148.8 C715.9,149.4 722.6,151.4 730.7,154.5 C738.7,157.6 746.7,162.8 754.8,167.3 C762.8,171.9 773,178.6 778.9,181.8 C784.8,185 788.3,185.8 790.2,186.7" fill="none" stroke="#f7b5b5" stroke-width="4.6" stroke-linecap="butt" stroke-linejoin="round"/>
<path d="M592,196.3 C595,196 601.6,194.2 610,194.7 C618.4,195.2 631.5,197.6 642.2,199.5 C652.9,201.4 663.6,205.3 674.4,206 C685.1,206.6 695.8,204.5 706.5,203.5 C717.3,202.6 728,202.3 738.7,200.3 C749.4,198.3 762.3,193.8 770.9,191.5 C779.5,189.2 787,187.5 790.2,186.7" fill="none" stroke="#f7b5b5" stroke-width="4.6" stroke-linecap="butt" stroke-linejoin="round"/>
<path d="M738.7,201.1 C742.7,199.8 754.3,195.6 762.8,193.1 C771.4,190.5 785.6,187.1 790.2,185.8" fill="none" stroke="#f28e8e" stroke-width="4.6" stroke-linecap="butt" stroke-linejoin="round"/>
<path d="M592,196.3 C595,197.6 601.6,200.9 610,204.4 C618.4,207.8 631.5,216.7 642.2,217.2 C652.9,217.8 663.6,208.6 674.4,207.6 C685.1,206.5 693.1,211.6 706.5,210.8 C719.9,210 740.8,203.7 754.8,202.7 C768.7,201.8 784.3,204.8 790.2,205.2" fill="none" stroke="#f28e8e" stroke-width="4.6" stroke-linecap="butt" stroke-linejoin="round"/>
<path d="M592,196.3 C595,196.3 599,195 610,196.3 C621,197.6 644.9,202.2 658.3,204.4 C671.7,206.5 679.7,206.8 690.4,209.2 C701.2,211.6 711.9,217.5 722.6,218.8 C733.3,220.2 746.7,218.6 754.8,217.2 C762.8,215.9 765,212.9 770.9,210.8 C776.8,208.6 787,205.4 790.2,204.4" fill="none" stroke="#f7b5b5" stroke-width="4.6" stroke-linecap="butt" stroke-linejoin="round"/>
<path d="M674.4,207.6 C678.4,209.2 688.3,213.5 698.5,217.2 C708.7,221 724.8,229.6 735.5,230.1 C746.2,230.6 753.7,224.7 762.8,220.4 C771.9,216.1 785.6,207 790.2,204.4" fill="none" stroke="#f7b5b5" stroke-width="4.6" stroke-linecap="butt" stroke-linejoin="round"/>
<path d="M790.2,181 L825.6,173.8" fill="none" stroke="#f7b5b5" stroke-width="6" stroke-linecap="butt" stroke-linejoin="round"/>
<path d="M790.2,191.5 L825.6,195.5" fill="none" stroke="#f7b5b5" stroke-width="7" stroke-linecap="butt" stroke-linejoin="round"/>
<path d="M790.2,196.3 L825.6,197.1" fill="none" stroke="#f28e8e" stroke-width="6" stroke-linecap="butt" stroke-linejoin="round"/>
<path d="M822.4,155.3 L857,152.1" fill="none" stroke="#f7b5b5" stroke-width="6" stroke-linecap="butt" stroke-linejoin="round"/>
<path d="M822.4,206 L857,206" fill="none" stroke="#f7b5b5" stroke-width="9" stroke-linecap="butt" stroke-linejoin="round"/>
<path d="M822.4,234.9 L857,234.9" fill="none" stroke="#f28e8e" stroke-width="6" stroke-linecap="butt" stroke-linejoin="round"/>
<path d="M610,263.9 C615.4,260.9 631.5,251.3 642.2,246.2 C652.9,241.1 665,233.8 674.4,233.3 C683.7,232.8 690.4,238.7 698.5,243 C706.5,247.3 715.4,255 722.6,259 C729.9,263.1 735.2,266.3 741.9,267.1 C748.6,267.9 754.8,265.1 762.8,263.9 C770.9,262.7 785.6,260.5 790.2,259.9" fill="none" stroke="#f28e8e" stroke-width="4.6" stroke-linecap="butt" stroke-linejoin="round"/>
<path d="M610,263.9 L674.4,263.9" fill="none" stroke="#f28e8e" stroke-width="4.6" stroke-linecap="butt" stroke-linejoin="round"/>
<path d="M592,265.5 L610,263.9" fill="none" stroke="#f28e8e" stroke-width="4.6" stroke-linecap="butt" stroke-linejoin="round"/>
<path d="M790.2,268.7 C793.1,268.8 802,269.8 807.9,269.5 C813.8,269.2 822.6,267.5 825.6,267.1" fill="none" stroke="#f28e8e" stroke-width="8" stroke-linecap="butt" stroke-linejoin="round"/>
<path d="M825.6,263.9 L857,263.9" fill="none" stroke="#f28e8e" stroke-width="6" stroke-linecap="butt" stroke-linejoin="round"/>
<path d="M592,326.6 C595,326.9 601.6,327.2 610,328.2 C618.4,329.3 631.5,333.5 642.2,333.1 C652.9,332.6 663.6,325.5 674.4,325.8 C685.1,326.1 695.8,330 706.5,334.7 C717.3,339.4 729.3,347.8 738.7,354 C748.1,360.1 756.1,367.6 762.8,371.7 C769.5,375.7 776.2,377 778.9,378.1" fill="none" stroke="#f28e8e" stroke-width="4.6" stroke-linecap="butt" stroke-linejoin="round"/>
<path d="M592,333.1 C595,332.2 603,327.7 610,328.2 C617,328.8 627.4,335.5 634.1,336.3 C640.8,337.1 647.5,333.6 650.2,333.1" fill="none" stroke="#f7b5b5" stroke-width="4.6" stroke-linecap="butt" stroke-linejoin="round"/>
<path d="M592,350.7 C595,351.6 603,356.4 610,355.6 C617,354.8 623.4,349.7 634.1,345.9 C644.9,342.2 663.6,333.9 674.4,333.1 C685.1,332.2 690.4,337.3 698.5,341.1 C706.5,344.8 713.2,349.1 722.6,355.6 C732,362 749.4,375.7 754.8,379.7" fill="none" stroke="#f28e8e" stroke-width="4.6" stroke-linecap="butt" stroke-linejoin="round"/>
<path d="M634.1,342.7 C640.8,344.6 662.3,352.1 674.4,354 C686.4,355.8 695.8,351.6 706.5,354 C717.3,356.4 730.7,364.1 738.7,368.4 C746.7,372.8 752.1,378.1 754.8,380" fill="none" stroke="#f7b5b5" stroke-width="4.6" stroke-linecap="butt" stroke-linejoin="round"/>
<path d="M592,368.4 C595,369.2 601.6,373.3 610,373.3 C618.4,373.3 631.5,369.8 642.2,368.4 C652.9,367.1 663.6,365.2 674.4,365.2 C685.1,365.2 697.1,366.8 706.5,368.4 C715.9,370.1 725.3,372.9 730.7,374.9 C736,376.8 737.4,379.2 738.7,380" fill="none" stroke="#f28e8e" stroke-width="4.6" stroke-linecap="butt" stroke-linejoin="round"/>
<path d="M592,368.4 C595,368.7 603,371.4 610,370.1 C617,368.7 626.1,362.8 634.1,360.4 C642.2,358 654.2,356.4 658.3,355.6" fill="none" stroke="#f7b5b5" stroke-width="4.6" stroke-linecap="butt" stroke-linejoin="round"/>
<path d="M790.2,329.8 L825.6,326.6" fill="none" stroke="#f28e8e" stroke-width="6" stroke-linecap="butt" stroke-linejoin="round"/>
<path d="M825.6,326.6 L857,326.6" fill="none" stroke="#f28e8e" stroke-width="6" stroke-linecap="butt" stroke-linejoin="round"/>
<path d="M825.6,334.7 L857,334.7" fill="none" stroke="#f28e8e" stroke-width="6" stroke-linecap="butt" stroke-linejoin="round"/>
<path d="M790.2,349.1 L825.6,355.6" fill="none" stroke="#f28e8e" stroke-width="6" stroke-linecap="butt" stroke-linejoin="round"/>
<path d="M825.6,355.6 L857,355.6" fill="none" stroke="#f7b5b5" stroke-width="6" stroke-linecap="butt" stroke-linejoin="round"/>
<path d="M790.2,371.7 L825.6,370.1" fill="none" stroke="#f7b5b5" stroke-width="7" stroke-linecap="butt" stroke-linejoin="round"/>
<path d="M825.6,366.8 L857,363.6" fill="none" stroke="#f28e8e" stroke-width="6" stroke-linecap="butt" stroke-linejoin="round"/>
<path d="M754.8,378.1 L790.2,374.9" fill="none" stroke="#f28e8e" stroke-width="4.6" stroke-linecap="butt" stroke-linejoin="round"/>
<path d="M197,394.6 C199.9,393.8 207.6,392.4 214.6,389.7 C221.7,387 232.4,381.5 239.3,378.2 C246.1,374.9 252.9,371.4 255.7,370" fill="none" stroke="#f28e8e" stroke-width="4.6" stroke-linecap="butt" stroke-linejoin="round"/>
<path d="M197,402.8 C199.9,401.7 207.6,399.6 214.6,396.3 C221.7,393 232.4,387 239.3,383.1 C246.1,379.3 252.9,374.9 255.7,373.3" fill="none" stroke="#f28e8e" stroke-width="4.6" stroke-linecap="butt" stroke-linejoin="round"/>
<path d="M197,406.1 C201.3,406.4 214.4,406.7 222.8,407.8 C231.2,408.9 238.3,410.8 247.5,412.7 C256.6,414.6 268.3,417.9 277.8,419.3 C287.4,420.6 300.4,420.6 304.9,420.9" fill="none" stroke="#f7b5b5" stroke-width="4.6" stroke-linecap="butt" stroke-linejoin="round"/>
<path d="M197,427.5 C201.3,426.4 214.4,422.8 222.8,420.9 C231.2,419 238.3,416.8 247.5,416 C256.6,415.1 268.3,415.4 277.8,416 C287.4,416.5 294.9,418.2 304.9,419.3 C314.9,420.3 328.6,421.7 337.8,422.5 C346.9,423.4 353.1,424.5 359.9,424.2 C366.8,423.9 370.5,424.2 378.8,420.9 C387.1,417.6 404.8,407.2 410,404.5" fill="none" stroke="#f28e8e" stroke-width="4.6" stroke-linecap="butt" stroke-linejoin="round"/>
<path d="M197,393 C202.7,393 221.3,391.3 231,393 C240.8,394.6 247.9,398.7 255.7,402.8 C263.5,406.9 269.6,413.8 277.8,417.6 C286,421.4 296.3,421.7 304.9,425.8 C313.5,429.9 321.3,437.9 329.6,442.2 C337.8,446.6 349.1,450.2 354.2,452.1 C359.2,454 359,453.5 359.9,453.7" fill="none" stroke="#f28e8e" stroke-width="4.6" stroke-linecap="butt" stroke-linejoin="round"/>
<path d="M197,407.8 C199.9,409.4 207.6,415.1 214.6,417.6 C221.7,420.1 228.7,420.9 239.3,422.5 C249.8,424.2 269.6,426.9 277.8,427.5 C286,428 284,429.9 288.5,425.8 C293,421.7 298.1,411.3 304.9,402.8 C311.8,394.4 324.1,380.4 329.6,374.9 C335,369.5 336.4,370.8 337.8,370" fill="none" stroke="#f7b5b5" stroke-width="4.6" stroke-linecap="butt" stroke-linejoin="round"/>
<path d="M239.3,386.4 C243.4,385 257.4,379.9 263.9,378.2 C270.3,376.6 271,377.4 277.8,376.6 C284.7,375.7 294.9,374.4 304.9,373.3 C314.9,372.2 328.6,370.5 337.8,370 C346.9,369.5 351.7,369.5 359.9,370 C368.1,370.5 378.7,370.8 387,373.3 C395.4,375.7 406.2,382.9 410,384.8" fill="none" stroke="#f7b5b5" stroke-width="4.6" stroke-linecap="butt" stroke-linejoin="round"/>
<path d="M197,427.5 C199.9,428.8 209,431.8 214.6,435.7 C220.3,439.5 226.1,446.1 231,450.4 C236,454.8 239.5,461.1 244.2,461.9 C248.8,462.8 253.3,458.7 259,455.4 C264.6,452.1 270.2,444.4 277.8,442.2 C285.5,440 296.3,441.4 304.9,442.2 C313.5,443.1 320.4,445.2 329.6,447.2 C338.7,449.1 350.3,452.4 359.9,453.7 C369.5,455.1 378.7,454.6 387,455.4 C395.4,456.2 406.2,458.1 410,458.7" fill="none" stroke="#f28e8e" stroke-width="4.6" stroke-linecap="butt" stroke-linejoin="round"/>
<path d="M244.2,461.9 C247.5,462.2 258.3,463 263.9,463.6 C269.5,464.1 272.4,465.5 277.8,465.2 C283.3,464.9 289.5,464.9 296.7,461.9 C304,458.9 310.8,451.8 321.3,447.2 C331.9,442.5 350.3,435.7 359.9,434 C369.5,432.4 370.5,437 378.8,437.3 C387.1,437.6 404.8,435.9 410,435.7" fill="none" stroke="#f7b5b5" stroke-width="4.6" stroke-linecap="butt" stroke-linejoin="round"/>
<path d="M197,496.4 C201.3,493.4 215.8,484.1 222.8,478.4 C229.9,472.6 235.1,465.8 239.3,461.9 C243.4,458.1 244.7,457.8 247.5,455.4 C250.2,452.9 250.6,449.6 255.7,447.2 C260.7,444.7 271,441.4 277.8,440.6 C284.7,439.8 289.5,441.1 296.7,442.2 C304,443.3 313.1,445.5 321.3,447.2 C329.6,448.8 339.5,450.7 346,452.1 C352.4,453.5 357.6,454.8 359.9,455.4" fill="none" stroke="#f7b5b5" stroke-width="4.6" stroke-linecap="butt" stroke-linejoin="round"/>
<path d="M197,512.8 C198.6,509.6 202.1,499.2 206.4,493.1 C210.7,487.1 217.4,480.3 222.8,476.7 C228.3,473.2 233.8,471 239.3,471.8 C244.7,472.6 249.2,477.5 255.7,481.6 C262.1,485.7 269.6,494.5 277.8,496.4 C286,498.3 291.2,495 304.9,493.1 C318.6,491.2 346.2,486.3 359.9,484.9 C373.6,483.6 378.7,486.3 387,484.9 C395.4,483.6 406.2,478.1 410,476.7" fill="none" stroke="#f28e8e" stroke-width="4.6" stroke-linecap="butt" stroke-linejoin="round"/>
<path d="M197,496.4 C201.3,497 213.1,498.1 222.8,499.7 C232.6,501.3 246.5,504.9 255.7,506.3 C264.8,507.6 272.4,508.7 277.8,507.9 C283.3,507.1 284,505.7 288.5,501.3 C293,497 299.5,487.9 304.9,481.6 C310.4,475.3 314.5,468 321.3,463.6 C328.2,459.2 339.5,456.7 346,455.4 C352.4,454 353.1,454.8 359.9,455.4 C366.8,455.9 378.7,455.9 387,458.7 C395.4,461.4 406.2,469.6 410,471.8" fill="none" stroke="#f7b5b5" stroke-width="4.6" stroke-linecap="butt" stroke-linejoin="round"/>
<path d="M197,514.5 C201.3,512.8 214.4,507.4 222.8,504.6 C231.2,501.9 238.3,500.5 247.5,498.1 C256.6,495.6 271,491.8 277.8,489.8 C284.7,487.9 286.7,487.1 288.5,486.6" fill="none" stroke="#f7b5b5" stroke-width="4.6" stroke-linecap="butt" stroke-linejoin="round"/>
<path d="M197,514.5 C199.9,513.9 207.6,512.8 214.6,511.2 C221.7,509.6 231,506.5 239.3,504.6 C247.5,502.7 259.8,500.5 263.9,499.7" fill="none" stroke="#f28e8e" stroke-width="4.6" stroke-linecap="butt" stroke-linejoin="round"/>
<path d="M329.6,440.6 C334.6,441.7 349,445.8 359.9,447.2 C370.9,448.5 386.9,448 395.2,448.8 C403.6,449.6 407.5,451.5 410,452.1" fill="none" stroke="#f28e8e" stroke-width="4.6" stroke-linecap="butt" stroke-linejoin="round"/>
<path d="M224.5,521.9 C225.8,521 229.4,517.1 232.7,516.9 C236,516.8 240.3,518.2 244.2,521 C248,523.9 251.8,530.3 255.7,534.2 C259.5,538 263.5,541.8 267.2,544 C270.9,546.2 271.5,547.3 277.8,547.3 C284.1,547.3 297.7,545 304.9,544 C312.2,543.1 318.6,542 321.3,541.6" fill="none" stroke="#a9b5dc" stroke-width="4.6" stroke-linecap="butt" stroke-linejoin="round"/>
<path d="M321.3,541.6 C327.8,542.1 351.2,544.7 359.9,544.8 C368.7,545 369.4,543.1 373.9,542.4 C378.4,541.7 384.8,541 387,540.7" fill="none" stroke="#1c4ba0" stroke-width="6" stroke-linecap="butt" stroke-linejoin="round"/>
<path d="M267.2,544 C268.9,544.6 271.5,547.3 277.8,547.3 C284.1,547.3 300.4,544.6 304.9,544" fill="none" stroke="#7b8cc6" stroke-width="4.6" stroke-linecap="butt" stroke-linejoin="round"/>
<path d="M387,541.6 L410,544" fill="none" stroke="#a9b5dc" stroke-width="4.6" stroke-linecap="butt" stroke-linejoin="round"/>
<path d="M197,608.1 C198.6,604 202.1,593 206.4,583.4 C210.7,573.9 217.9,559.9 222.8,550.6 C227.8,541.3 231.9,533.1 236,527.6 C240.1,522.1 240.5,519.3 247.5,517.8 C254.4,516.3 271.5,518.3 277.8,518.6 C284.1,518.9 284,519.3 285.2,519.4" fill="none" stroke="#a9b5dc" stroke-width="4.6" stroke-linecap="butt" stroke-linejoin="round"/>
<path d="M285.2,518.6 L318.1,514.5" fill="none" stroke="#f7b5b5" stroke-width="4.6" stroke-linecap="butt" stroke-linejoin="round"/>
<path d="M318.1,515.3 C322.7,517.1 339,523.4 346,526 C352.9,528.6 354.5,531.4 359.9,530.9 C365.4,530.3 372.9,525.4 378.8,522.7 C384.7,519.9 392.5,515.8 395.2,514.5" fill="none" stroke="#f07272" stroke-width="4.6" stroke-linecap="butt" stroke-linejoin="round"/>
<path d="M395.2,514.5 L410,512.8" fill="none" stroke="#f7b5b5" stroke-width="4.6" stroke-linecap="butt" stroke-linejoin="round"/>
<path d="M197,608.1 C199.9,602.6 209,584.3 214.6,575.2 C220.3,566.2 225.6,559.6 231,553.9 C236.5,548.1 239.7,543.2 247.5,540.7 C255.3,538.3 271,539.9 277.8,539.1 C284.7,538.3 284,538 288.5,535.8 C293,533.6 302.2,527.6 304.9,526" fill="none" stroke="#f7b5b5" stroke-width="4.6" stroke-linecap="butt" stroke-linejoin="round"/>
<path d="M304.9,525.1 C307.7,526.1 315.9,528.3 321.3,530.9 C326.8,533.5 331.3,538.4 337.8,540.7 C344.2,543.1 356.2,544.2 359.9,544.8" fill="none" stroke="#a9b5dc" stroke-width="4.6" stroke-linecap="butt" stroke-linejoin="round"/>
<path d="M424.6,370 C428.7,372.7 440.6,381.9 449.3,386.4 C457.9,390.9 468.1,394.4 476.3,397.1 C484.6,399.8 492.1,402.2 498.5,402.8 C504.9,403.5 508.1,403.9 514.9,401.2 C521.8,398.5 532.7,391.1 539.6,386.4 C546.4,381.8 551.9,376 556,373.3 C560.1,370.5 562.8,370.5 564.2,370" fill="none" stroke="#f28e8e" stroke-width="4.6" stroke-linecap="butt" stroke-linejoin="round"/>
<path d="M400,411 C404.1,408.6 416.4,399.6 424.6,396.3 C432.8,393 440.6,391.3 449.3,391.3 C457.9,391.3 468.1,397.4 476.3,396.3 C484.6,395.2 492.1,387.5 498.5,384.8 C504.9,382 508.1,381.2 514.9,379.9 C521.8,378.5 531.3,377.7 539.6,376.6 C547.8,375.5 550.8,374.4 564.2,373.3 C577.6,372.2 610.7,370.5 620,370" fill="none" stroke="#f7b5b5" stroke-width="4.6" stroke-linecap="butt" stroke-linejoin="round"/>
<path d="M400,370 C404.1,374.9 417.8,391.9 424.6,399.6 C431.5,407.2 435.6,412.1 441,416 C446.5,419.8 451.6,422.3 457.5,422.5 C463.3,422.8 469.5,419.5 476.3,417.6 C483.2,415.7 492.1,413.5 498.5,411 C504.9,408.6 509.5,406.1 514.9,402.8 C520.4,399.6 525.9,395.7 531.3,391.3 C536.8,387 545,379 547.8,376.6" fill="none" stroke="#f7b5b5" stroke-width="4.6" stroke-linecap="butt" stroke-linejoin="round"/>
<path d="M400,386.4 C406.8,388.3 428.3,394.6 441,397.9 C453.8,401.2 464.9,404.5 476.3,406.1 C487.8,407.8 497.8,407.2 509.7,407.8 C521.6,408.3 535.9,408.9 547.8,409.4 C559.6,409.9 568.6,410.8 580.6,411 C592.6,411.3 613.4,411 620,411" fill="none" stroke="#f7b5b5" stroke-width="4.6" stroke-linecap="butt" stroke-linejoin="round"/>
<path d="M500.1,381.5 L516.6,381.5" fill="none" stroke="#a9b5dc" stroke-width="7" stroke-linecap="butt" stroke-linejoin="round"/>
<path d="M400,442.2 C405.5,440.6 420.1,434.8 432.8,432.4 C445.6,429.9 465.4,428.3 476.3,427.5 C487.3,426.6 489.3,428 498.5,427.5 C507.7,426.9 521.8,426.6 531.3,424.2 C540.9,421.7 549.1,414.6 556,412.7 C562.8,410.8 561.7,411.3 572.4,412.7 C583.1,414.1 612.1,419.5 620,420.9" fill="none" stroke="#f28e8e" stroke-width="4.6" stroke-linecap="butt" stroke-linejoin="round"/>
<path d="M400,445.5 C406.8,443.9 430.1,440 441,435.7 C452,431.3 459.8,422.7 465.7,419.3 C471.6,415.8 472.5,414.1 476.3,415.1 C480.2,416.2 484.7,420.5 488.7,425.8 C492.6,431.2 496.6,442.1 500.1,447.2 C503.7,452.2 506.4,455.2 509.7,456.2 C513,457.2 514.9,457.2 519.8,452.9 C524.8,448.7 533.5,438.1 539.6,430.7 C545.6,423.4 551.6,412.8 556,408.6 C560.3,404.3 561.7,404.9 565.8,405.3 C569.9,405.7 571.6,409 580.6,411 C589.6,413.1 613.4,416.5 620,417.6" fill="none" stroke="#f07272" stroke-width="4.6" stroke-linecap="butt" stroke-linejoin="round"/>
<path d="M400,439 C404.1,438.7 411.9,438.4 424.6,437.3 C437.4,436.2 462.2,433.2 476.3,432.4 C490.5,431.6 504.1,432.4 509.7,432.4" fill="none" stroke="#f7b5b5" stroke-width="4.6" stroke-linecap="butt" stroke-linejoin="round"/>
<path d="M509.7,432.4 C513.3,432.9 525.8,433.8 531.3,435.7 C536.9,437.6 540.9,442.5 542.8,443.9" fill="none" stroke="#f28e8e" stroke-width="4.6" stroke-linecap="butt" stroke-linejoin="round"/>
<path d="M542.8,443.9 C546.4,444.4 556,446.3 564.2,447.2 C572.4,448 582.8,448.5 592.1,448.8 C601.4,449.1 615.3,448.8 620,448.8" fill="none" stroke="#f7b5b5" stroke-width="4.6" stroke-linecap="butt" stroke-linejoin="round"/>
<path d="M400,461.9 C406.8,464.4 430.1,471.5 441,476.7 C452,481.9 459.8,490.1 465.7,493.1 C471.6,496.1 469,493.4 476.3,494.8 C483.7,496.1 499.7,500.5 509.7,501.3 C519.7,502.2 531.8,500 536.3,499.7" fill="none" stroke="#f28e8e" stroke-width="4.6" stroke-linecap="butt" stroke-linejoin="round"/>
<path d="M536.3,499.7 C540.9,498.9 554.9,495.9 564.2,494.8 C573.5,493.7 582.8,493.7 592.1,493.1 C601.4,492.6 615.3,491.8 620,491.5" fill="none" stroke="#f7b5b5" stroke-width="4.6" stroke-linecap="butt" stroke-linejoin="round"/>
<path d="M400,481.6 C402.7,479.7 410.9,472.6 416.4,470.1 C421.9,467.7 427.4,465.8 432.8,466.9 C438.3,468 442,472.3 449.3,476.7 C456.5,481.1 468.1,489.3 476.3,493.1 C484.6,497 490.7,498.9 498.5,499.7 C506.3,500.5 519,498.3 523.1,498.1" fill="none" stroke="#f7b5b5" stroke-width="4.6" stroke-linecap="butt" stroke-linejoin="round"/>
<path d="M400,448.8 C405.5,451.5 424.6,458.1 432.8,465.2 C441,472.3 443.8,484.1 449.3,491.5 C454.7,498.9 461.2,506 465.7,509.6 C470.2,513.1 472.2,511.5 476.3,512.8 C480.4,514.2 485.5,514.5 490.3,517.8 C495.1,521 502.6,530.1 505.1,532.5" fill="none" stroke="#f28e8e" stroke-width="4.6" stroke-linecap="butt" stroke-linejoin="round"/>
<path d="M524.8,484.9 C526.7,481.9 533,471.1 536.3,466.9 C539.6,462.6 543.1,460.7 544.5,459.5" fill="none" stroke="#f7b5b5" stroke-width="4.6" stroke-linecap="butt" stroke-linejoin="round"/>
<path d="M544.5,459.5 C546.4,461 551.3,464.3 556,468.5 C560.6,472.7 566.4,480.8 572.4,484.9 C578.4,489 584.2,491.8 592.1,493.1 C600,494.5 615.3,493.1 620,493.1" fill="none" stroke="#f28e8e" stroke-width="4.6" stroke-linecap="butt" stroke-linejoin="round"/>
<path d="M514.9,506.3 C517.1,502.7 523.4,491.5 528.1,484.9 C532.7,478.4 536.8,471 542.8,466.9 C548.9,462.8 556,461.7 564.2,460.3 C572.4,458.9 582.8,458.9 592.1,458.7 C601.4,458.4 615.3,458.7 620,458.7" fill="none" stroke="#f7b5b5" stroke-width="4.6" stroke-linecap="butt" stroke-linejoin="round"/>
<path d="M505.1,534.2 C508.1,533.9 516,534.7 523.1,532.5 C530.2,530.3 539.6,524.3 547.8,521 C556,517.8 565,514.7 572.4,512.8 C579.8,510.9 584.2,511.5 592.1,509.6 C600,507.6 615.3,502.7 620,501.3" fill="none" stroke="#f7b5b5" stroke-width="4.6" stroke-linecap="butt" stroke-linejoin="round"/>
<path d="M505.1,534.2 C508.1,535 517.4,538.8 523.1,539.1 C528.9,539.4 531.3,538.6 539.6,535.8 C547.8,533.1 566.9,524.9 572.4,522.7" fill="none" stroke="#a9b5dc" stroke-width="4.6" stroke-linecap="butt" stroke-linejoin="round"/>
<path d="M572.4,523.5 C575.7,523.9 584.2,526.9 592.1,526 C600,525 615.3,519.1 620,517.8" fill="none" stroke="#f7b5b5" stroke-width="4.6" stroke-linecap="butt" stroke-linejoin="round"/>
<path d="M476.3,609.7 C477.8,605.9 481.7,596.6 485.4,586.7 C489.1,576.9 494.5,561.5 498.5,550.6 C502.6,539.6 505.8,528.4 509.7,521 C513.5,513.7 519.5,508.7 521.5,506.3" fill="none" stroke="#a9b5dc" stroke-width="4.6" stroke-linecap="butt" stroke-linejoin="round"/>
<path d="M495.2,578.5 C497.6,576 503.7,568.7 509.7,563.7 C515.7,558.8 523.6,552.5 531.3,549 C539.1,545.4 545.8,544.3 556,542.4 C566.1,540.5 581.4,540.5 592.1,537.5 C602.8,534.5 615.3,526.5 620,524.3" fill="none" stroke="#f7b5b5" stroke-width="4.6" stroke-linecap="butt" stroke-linejoin="round"/>
<path d="M476.3,609.7 L495.2,578.5" fill="none" stroke="#a9b5dc" stroke-width="4.6" stroke-linecap="butt" stroke-linejoin="round"/>
<path d="M544.5,550.6 L556,551.4" fill="none" stroke="#a9b5dc" stroke-width="4.6" stroke-linecap="butt" stroke-linejoin="round"/>
<path d="M556,552.2 L577.3,550.6" fill="none" stroke="#1c4ba0" stroke-width="6" stroke-linecap="butt" stroke-linejoin="round"/>
<path d="M577.3,550.6 C579.8,549.9 586.3,546.9 592.1,546.5 C597.8,546.1 608.5,547.9 611.8,548.1" fill="none" stroke="#7b8cc6" stroke-width="4.6" stroke-linecap="butt" stroke-linejoin="round"/>
<path d="M611.8,548.1 L620,548.1" fill="none" stroke="#1c4ba0" stroke-width="6" stroke-linecap="butt" stroke-linejoin="round"/>
<path d="M400,514.5 C404.1,515 417.8,513.4 424.6,517.8 C431.5,522.1 438.3,536.9 441,540.7" fill="none" stroke="#f7b5b5" stroke-width="4.6" stroke-linecap="butt" stroke-linejoin="round"/>
<path d="M400,544 C402.7,543.8 411.5,545.1 416.4,542.4 C421.3,539.6 425.4,531.2 429.6,527.6 C433.7,524.1 439.1,522.1 441,521" fill="none" stroke="#a9b5dc" stroke-width="4.6" stroke-linecap="butt" stroke-linejoin="round"/>
<path d="M441,540.7 C442.4,542.4 445.7,544.8 449.3,550.6 C452.8,556.3 457.9,565.4 462.4,575.2 C466.9,585.1 474,604 476.3,609.7" fill="none" stroke="#a9b5dc" stroke-width="7" stroke-linecap="butt" stroke-linejoin="round"/>
<path d="M610,420.9 C615.5,421.5 632.2,423.1 642.9,424.2 C653.5,425.3 665.8,427.5 674.1,427.5 C682.3,427.5 685,426.9 692.1,424.2 C699.2,421.5 708.6,415.4 716.8,411.1 C725,406.7 733.2,402.3 741.4,397.9 C749.6,393.5 757.8,388.3 766,384.8 C774.3,381.2 786.6,377.9 790.7,376.6" fill="none" stroke="#f28e8e" stroke-width="4.6" stroke-linecap="butt" stroke-linejoin="round"/>
<path d="M610,411.1 C612.7,408.3 621,400.7 626.4,394.6 C631.9,388.6 639.3,379 642.9,374.9 C646.4,370.8 647,370.8 647.8,370" fill="none" stroke="#f7b5b5" stroke-width="4.6" stroke-linecap="butt" stroke-linejoin="round"/>
<path d="M708.6,370 C711.3,372.7 719.5,382 725,386.4 C730.5,390.8 734.6,393.5 741.4,396.3 C748.3,399 757.8,401.9 766,402.9 C774.3,403.8 786.6,402.2 790.7,402" fill="none" stroke="#f28e8e" stroke-width="4.6" stroke-linecap="butt" stroke-linejoin="round"/>
<path d="M692.1,370 C696.2,372.2 708.6,378.2 716.8,383.1 C725,388.1 733.2,395.5 741.4,399.6 C749.6,403.7 757.8,406 766,407.8 C774.3,409.6 786.6,409.8 790.7,410.2" fill="none" stroke="#f7b5b5" stroke-width="4.6" stroke-linecap="butt" stroke-linejoin="round"/>
<path d="M741.4,370 C744.1,374.1 752.4,386.4 757.8,394.6 C763.3,402.9 768.8,409 774.3,419.3 C779.7,429.5 787.9,450.1 790.7,456.2" fill="none" stroke="#f28e8e" stroke-width="4.6" stroke-linecap="butt" stroke-linejoin="round"/>
<path d="M610,373.3 C615.5,373 634.6,372.2 642.9,371.6 C651.1,371.1 656.5,370.3 659.3,370" fill="none" stroke="#f7b5b5" stroke-width="4.6" stroke-linecap="butt" stroke-linejoin="round"/>
<path d="M725,445.6 C729.1,444.5 742.8,441.2 749.6,439 C756.5,436.8 759.2,434.3 766,432.4 C772.9,430.5 786.6,428.3 790.7,427.5" fill="none" stroke="#f28e8e" stroke-width="4.6" stroke-linecap="butt" stroke-linejoin="round"/>
<path d="M790.7,419.3 C796.3,419.3 813.3,417.9 824.4,419.3 C835.4,420.6 851.6,426.1 857,427.5" fill="none" stroke="#f28e8e" stroke-width="8" stroke-linecap="butt" stroke-linejoin="round"/>
<path d="M790.7,414.3 L824.4,414.3" fill="none" stroke="#f28e8e" stroke-width="8" stroke-linecap="butt" stroke-linejoin="round"/>
<path d="M610,447.2 C615.5,446.4 632.2,443.6 642.9,442.3 C653.5,440.9 663.1,439 674.1,439 C685,439 697.3,441.2 708.6,442.3 C719.8,443.4 730.5,444.5 741.4,445.6 C752.4,446.7 768.8,448.3 774.3,448.8" fill="none" stroke="#f7b5b5" stroke-width="4.6" stroke-linecap="butt" stroke-linejoin="round"/>
<path d="M610,460.3 C615.5,459.2 632.2,455.4 642.9,453.8 C653.5,452.1 663.1,451 674.1,450.5 C685,449.9 697.3,448.6 708.6,450.5 C719.8,452.4 731.8,456.8 741.4,462 C751,467.2 757.8,475.1 766,481.7 C774.3,488.3 786.6,498.1 790.7,501.4" fill="none" stroke="#f7b5b5" stroke-width="4.6" stroke-linecap="butt" stroke-linejoin="round"/>
<path d="M610,491.6 C612.7,488.3 621,477.3 626.4,471.8 C631.9,466.4 634.9,462.5 642.9,458.7 C650.8,454.9 664.5,449.9 674.1,448.8 C683.6,447.7 691.9,448.8 700.3,452.1 C708.8,455.4 716.8,463.1 725,468.6 C733.2,474 742.8,478.1 749.6,485 C756.5,491.8 761.1,503 766,509.6 C771,516.2 777,521.9 779.2,524.4" fill="none" stroke="#f7b5b5" stroke-width="4.6" stroke-linecap="butt" stroke-linejoin="round"/>
<path d="M779.2,506.3 L790.7,521.1" fill="none" stroke="#a9b5dc" stroke-width="4.6" stroke-linecap="butt" stroke-linejoin="round"/>
<path d="M610,475.1 C614.1,471.3 626.4,457.6 634.6,452.1 C642.9,446.7 649.7,444.2 659.3,442.3 C668.9,440.4 682.5,439.8 692.1,440.6 C701.7,441.5 708.6,442.5 716.8,447.2 C725,451.9 734.6,460.9 741.4,468.6 C748.3,476.2 752.4,483.6 757.8,493.2 C763.3,502.8 768.8,514.5 774.3,526 C779.7,537.5 787.9,556.2 790.7,562.2" fill="none" stroke="#f7b5b5" stroke-width="4.6" stroke-linecap="butt" stroke-linejoin="round"/>
<path d="M610,491.6 C615.5,491 632.2,489.4 642.9,488.3 C653.5,487.2 664.5,485.3 674.1,485 C683.6,484.7 691.9,487.2 700.3,486.6 C708.8,486.1 718.1,484.2 725,481.7 C731.8,479.2 738.7,473.5 741.4,471.8" fill="none" stroke="#f28e8e" stroke-width="4.6" stroke-linecap="butt" stroke-linejoin="round"/>
<path d="M610,526 C614.1,523.9 627.8,513.5 634.6,512.9 C641.5,512.4 647,519.5 651.1,522.8 C655.2,526 657.9,531 659.3,532.6" fill="none" stroke="#f7b5b5" stroke-width="4.6" stroke-linecap="butt" stroke-linejoin="round"/>
<path d="M616.6,524.4 C619.6,525.5 628.9,528.5 634.6,531 C640.4,533.4 645.6,537 651.1,539.2 C656.5,541.4 663.7,543.3 667.5,544.1 C671.3,544.9 673,544.1 674.1,544.1" fill="none" stroke="#a9b5dc" stroke-width="4.6" stroke-linecap="butt" stroke-linejoin="round"/>
<path d="M610,548.2 C615.5,547.8 632.2,546.4 642.9,545.8 C653.5,545.1 665.8,543.8 674.1,544.1 C682.3,544.4 685.8,546.3 692.1,547.4 C698.4,548.5 708.6,550.1 711.8,550.7" fill="none" stroke="#1c4ba0" stroke-width="6" stroke-linecap="butt" stroke-linejoin="round"/>
<path d="M711.8,550.7 L728.3,549" fill="none" stroke="#7b8cc6" stroke-width="4.6" stroke-linecap="butt" stroke-linejoin="round"/>
<path d="M728.3,548.2 L744.7,547.4" fill="none" stroke="#a9b5dc" stroke-width="4.6" stroke-linecap="butt" stroke-linejoin="round"/>
<path d="M744.7,547.4 C748.3,548.2 758.4,549.6 766,552.3 C773.7,555.1 786.6,561.9 790.7,563.8" fill="none" stroke="#f7b5b5" stroke-width="4.6" stroke-linecap="butt" stroke-linejoin="round"/>
<path d="M674.1,544.1 C675.7,543.6 679.5,542.7 683.9,540.8 C688.3,538.9 697.6,534 700.3,532.6" fill="none" stroke="#1c4ba0" stroke-width="6" stroke-linecap="butt" stroke-linejoin="round"/>
<path d="M700.3,532.6 L716.8,522.8" fill="none" stroke="#7b8cc6" stroke-width="4.6" stroke-linecap="butt" stroke-linejoin="round"/>
<path d="M716.8,522.8 C720.3,521.9 731.8,517.3 738.1,517.8 C744.4,518.4 749.9,521.9 754.5,526 C759.2,530.2 762.8,538.9 766,542.5 C769.3,546 771.5,547.4 774.3,547.4 C777,547.4 779.7,544.7 782.5,542.5 C785.2,540.3 789.3,535.6 790.7,534.3" fill="none" stroke="#a9b5dc" stroke-width="4.6" stroke-linecap="butt" stroke-linejoin="round"/>
<path d="M674.1,544.1 C677.1,541.1 685,531.2 692.1,526 C699.2,520.8 712.7,515.1 716.8,512.9" fill="none" stroke="#f07272" stroke-width="4.6" stroke-linecap="butt" stroke-linejoin="round"/>
<path d="M716.8,512.9 C720.3,513.7 731.8,515.4 738.1,517.8 C744.4,520.3 749.9,523.9 754.5,527.7 C759.2,531.5 762.8,537 766,540.8 C769.3,544.7 772.9,549 774.3,550.7" fill="none" stroke="#f7b5b5" stroke-width="4.6" stroke-linecap="butt" stroke-linejoin="round"/>
<path d="M610,514.5 C613.6,514 624.5,509.3 631.4,511.3 C638.2,513.2 646.1,521.9 651.1,526 C656,530.2 659.3,534.3 660.9,535.9" fill="none" stroke="#f07272" stroke-width="4.6" stroke-linecap="butt" stroke-linejoin="round"/>
<path d="M790.7,373.3 L824.4,373.3" fill="none" stroke="#f7b5b5" stroke-width="8" stroke-linecap="butt" stroke-linejoin="round"/>
<path d="M790.7,440.6 L824.4,450.5" fill="none" stroke="#f7b5b5" stroke-width="7" stroke-linecap="butt" stroke-linejoin="round"/>
<path d="M790.7,463.6 L824.4,461.2" fill="none" stroke="#f7b5b5" stroke-width="7" stroke-linecap="butt" stroke-linejoin="round"/>
<path d="M790.7,493.2 L824.4,495.7" fill="none" stroke="#f7b5b5" stroke-width="7" stroke-linecap="butt" stroke-linejoin="round"/>
<path d="M790.7,506.3 L824.4,506.3" fill="none" stroke="#f7b5b5" stroke-width="7" stroke-linecap="butt" stroke-linejoin="round"/>
<path d="M795.6,519.5 L824.4,526" fill="none" stroke="#f7b5b5" stroke-width="6" stroke-linecap="butt" stroke-linejoin="round"/>
<path d="M790.7,537.5 L824.4,539.2" fill="none" stroke="#f7b5b5" stroke-width="7" stroke-linecap="butt" stroke-linejoin="round"/>
<path d="M790.7,547.4 L824.4,546.6" fill="none" stroke="#7b8cc6" stroke-width="7" stroke-linecap="butt" stroke-linejoin="round"/>
<path d="M824.4,435.7 L857,442.3" fill="none" stroke="#f7b5b5" stroke-width="9" stroke-linecap="butt" stroke-linejoin="round"/>
<path d="M824.4,450.5 L857,457.1" fill="none" stroke="#f7b5b5" stroke-width="7" stroke-linecap="butt" stroke-linejoin="round"/>
<path d="M824.4,485 L857,485" fill="none" stroke="#f28e8e" stroke-width="7" stroke-linecap="butt" stroke-linejoin="round"/>
<path d="M824.4,531 L831.7,532.6" fill="none" stroke="#f07272" stroke-width="6" stroke-linecap="butt" stroke-linejoin="round"/>
<path d="M831.7,532.6 C833.7,533.4 839,535.6 843.2,537.5 C847.5,539.5 854.7,543 857,544.1" fill="none" stroke="#7f1517" stroke-width="7" stroke-linecap="butt" stroke-linejoin="round"/>
<path d="M824.4,545.8 L840,544.9" fill="none" stroke="#1c4ba0" stroke-width="7" stroke-linecap="butt" stroke-linejoin="round"/>
<path d="M840,544.9 L857,544.1" fill="none" stroke="#7b8cc6" stroke-width="6" stroke-linecap="butt" stroke-linejoin="round"/>
</g><g clip-path="url(#cpIn)">
<path d="M492.8,356.2 C494,355.8 497.2,354.4 500,353.8 C502.8,353.2 505.6,353.8 509.7,352.6 C513.7,351.4 518.7,349 524.1,346.5 C529.6,344.1 536.2,340.6 542.2,338.1 C548.3,335.6 554.3,333.1 560.3,331.5 C566.4,329.9 573.2,329.1 578.4,328.4 C583.6,327.8 589.5,327.6 591.7,327.5" fill="none" stroke="#f28e8e" stroke-width="4.6" stroke-linecap="butt" stroke-linejoin="round"/>
<path d="M591.7,327.5 C594.5,327.8 603.8,328.6 608.6,329.7 C613.4,330.7 616.2,332.9 620.6,333.9 C625.1,334.9 632.7,335.4 635.1,335.7" fill="none" stroke="#f7b5b5" stroke-width="4.6" stroke-linecap="butt" stroke-linejoin="round"/>
<path d="M635.1,335.7 C637.7,334.9 646.2,332.4 650.8,330.9 C655.4,329.3 658,327.6 662.9,326.6 C667.7,325.7 675,325.4 680,325.1 C685,324.8 690.9,324.9 693,324.8" fill="none" stroke="#f28e8e" stroke-width="4.6" stroke-linecap="butt" stroke-linejoin="round"/>
<path d="M557.9,368.3 C560.3,366.4 566.8,359.6 572.4,357.4 C578,355.2 585.7,355.7 591.7,355 C597.7,354.3 603.8,354.2 608.6,353.2 C613.4,352.2 616.6,350.5 620.6,349 C624.7,347.4 630.7,344.9 632.7,344.1" fill="none" stroke="#f28e8e" stroke-width="4.6" stroke-linecap="butt" stroke-linejoin="round"/>
<path d="M632.7,344.1 C635.7,344.9 645.8,347.1 650.8,349 C655.8,350.8 658,354.2 662.9,355 C667.7,355.8 675,354.1 680,353.8 C685,353.5 690.9,353.3 693,353.2" fill="none" stroke="#f7b5b5" stroke-width="4.6" stroke-linecap="butt" stroke-linejoin="round"/>
<path d="M632.7,344.1 C634.7,343.1 640.7,339.8 644.8,338.1 C648.8,336.4 651.9,334.9 656.8,333.9 C661.8,332.9 668.3,332.5 674.3,332.1 C680.4,331.7 689.9,331.6 693,331.5" fill="none" stroke="#f28e8e" stroke-width="4.6" stroke-linecap="butt" stroke-linejoin="round"/>
<path d="M492.8,410.5 C494,410.3 495.8,409.9 500,409.3 C504.2,408.7 513.1,408.5 518.1,406.9 C523.1,405.3 526.1,402.8 530.2,399.6 C534.2,396.4 538.2,392.2 542.2,387.6 C546.2,382.9 550.3,377.7 554.3,371.9 C558.3,366 562.3,358.8 566.4,352.6 C570.4,346.3 575,338.7 578.4,334.5 C581.8,330.3 584.2,329.7 586.9,327.2 C589.5,324.8 592.9,321.2 594.1,320" fill="none" stroke="#f7b5b5" stroke-width="4.6" stroke-linecap="butt" stroke-linejoin="round"/>
<path d="M557.9,371.9 C560.3,371.2 566.8,367.9 572.4,367.7 C578,367.5 585.7,370 591.7,370.7 C597.7,371.4 603.6,371.5 608.6,371.9 C613.6,372.3 619.6,372.9 621.8,373.1" fill="none" stroke="#f7b5b5" stroke-width="4.6" stroke-linecap="butt" stroke-linejoin="round"/>
<path d="M621.8,373.1 C624.7,372.4 632.9,370 638.7,368.9 C644.6,367.8 650,367.1 656.8,366.4 C663.7,365.8 674,365.5 680,365.2 C686,365 690.9,364.9 693,364.9" fill="none" stroke="#f28e8e" stroke-width="4.6" stroke-linecap="butt" stroke-linejoin="round"/>
<path d="M556.7,398.4 C559.3,396.2 566.6,389.4 572.4,385.1 C578.2,380.9 585.7,375.5 591.7,373.1 C597.7,370.7 605.8,371.1 608.6,370.7" fill="none" stroke="#f7b5b5" stroke-width="4.6" stroke-linecap="butt" stroke-linejoin="round"/>
<path d="M492.8,380.9 C494,380.8 495.8,380.8 500,380.3 C504.2,379.8 512.1,378.6 518.1,377.9 C524.1,377.2 530.2,376.9 536.2,376.1 C542.2,375.3 550.7,373.8 554.3,373.1 C557.9,372.4 557.3,372.1 557.9,371.9" fill="none" stroke="#f28e8e" stroke-width="4.6" stroke-linecap="butt" stroke-linejoin="round"/>
<path d="M500,381.5 L516.9,381.8" fill="none" stroke="#a9b5dc" stroke-width="5" stroke-linecap="butt" stroke-linejoin="round"/>
<path d="M516.9,381.8 C519.3,382.9 526.7,386.8 531.4,388.8 C536,390.7 540.4,391.9 544.6,393.6 C548.9,395.3 554.7,398.1 556.7,399" fill="none" stroke="#f7b5b5" stroke-width="4.6" stroke-linecap="butt" stroke-linejoin="round"/>
<path d="M492.8,404.4 C494,404.2 496.8,403.8 500,403.2 C503.2,402.6 508,402.4 512.1,400.8 C516.1,399.2 520.1,396.2 524.1,393.6 C528.1,391 532.2,388.2 536.2,385.1 C540.2,382.1 544.6,378.3 548.3,375.5 C551.9,372.7 556.3,369.5 557.9,368.3" fill="none" stroke="#f28e8e" stroke-width="4.6" stroke-linecap="butt" stroke-linejoin="round"/>
<path d="M557.9,404.4 C559.5,405.3 564.1,407.5 567.6,409.3 C571,411.1 574.4,414.7 578.4,415.3 C582.4,415.9 586.7,413.5 591.7,412.9 C596.7,412.3 605.8,411.9 608.6,411.7" fill="none" stroke="#f28e8e" stroke-width="4.6" stroke-linecap="butt" stroke-linejoin="round"/>
<path d="M608.6,411.7 C610.6,409.5 616.6,403.6 620.6,398.4 C624.7,393.2 628.7,384.9 632.7,380.3 C636.7,375.7 640.7,373.1 644.8,370.7 C648.8,368.3 654.8,366.6 656.8,365.8" fill="none" stroke="#f7b5b5" stroke-width="4.6" stroke-linecap="butt" stroke-linejoin="round"/>
<path d="M492.8,429.2 C494,429.1 495.8,428.9 500,428.6 C504.2,428.3 512.1,428.4 518.1,427.4 C524.1,426.4 530.2,424.4 536.2,422.5 C542.2,420.7 548.3,418.1 554.3,416.5 C560.3,414.9 569.4,413.5 572.4,412.9" fill="none" stroke="#f28e8e" stroke-width="4.6" stroke-linecap="butt" stroke-linejoin="round"/>
<path d="M492.8,439.4 C494,440.2 497.2,441.6 500,444.3 C502.8,446.9 505.6,454.7 509.7,455.1 C513.7,455.5 519.7,450.1 524.1,446.7 C528.6,443.3 532.2,439.6 536.2,434.6 C540.2,429.6 544.6,421.5 548.3,416.5 C551.9,411.5 556.3,406.5 557.9,404.4" fill="none" stroke="#f07272" stroke-width="4.6" stroke-linecap="butt" stroke-linejoin="round"/>
<path d="M524.1,431 C526.1,432.6 532.8,438.4 536.2,440.6 C539.6,442.9 543.2,443.7 544.6,444.3" fill="none" stroke="#f28e8e" stroke-width="4.6" stroke-linecap="butt" stroke-linejoin="round"/>
<path d="M544.6,444.3 C547.3,443.9 554.7,441.4 560.3,441.8 C566,442.3 573.2,445.5 578.4,446.7 C583.6,447.9 586.7,448.9 591.7,449.1 C596.7,449.3 602.7,448.3 608.6,447.9 C614.4,447.5 620.6,447.3 626.7,446.7 C632.7,446.1 638.7,445.3 644.8,444.3 C650.8,443.3 657,441.4 662.9,440.6 C668.7,439.8 675,439.6 680,439.4 C685,439.2 690.9,439.4 693,439.4" fill="none" stroke="#f7b5b5" stroke-width="4.6" stroke-linecap="butt" stroke-linejoin="round"/>
<path d="M548.3,415.3 C550.3,416.1 555.3,418.3 560.3,420.1 C565.3,421.9 573.2,424.7 578.4,426.2 C583.6,427.7 587.7,429 591.7,429.2 C595.7,429.4 598.7,428.3 602.5,427.4 C606.4,426.5 610.6,424 614.6,423.8 C618.6,423.6 622.7,424.2 626.7,426.2 C630.7,428.2 634.7,432.8 638.7,435.8 C642.8,438.8 646.8,441.6 650.8,444.3 C654.8,446.9 658,449.7 662.9,451.5 C667.7,453.3 675,454.3 680,455.1 C685,455.9 690.9,456.1 693,456.3" fill="none" stroke="#f28e8e" stroke-width="4.6" stroke-linecap="butt" stroke-linejoin="round"/>
<path d="M572.4,416.5 C575.6,417.1 584.7,419.1 591.7,420.1 C598.7,421.1 606.8,421.7 614.6,422.5 C622.5,423.3 631.7,424.4 638.7,425 C645.8,425.6 650,425.8 656.8,426.2 C663.7,426.6 674,427.3 680,427.4 C686,427.5 690.9,426.9 693,426.8" fill="none" stroke="#f28e8e" stroke-width="4.6" stroke-linecap="butt" stroke-linejoin="round"/>
<path d="M632.7,445.5 C635.7,444.5 645.8,440.6 650.8,439.4 C655.8,438.2 658,438 662.9,438.2 C667.7,438.4 675,440 680,440.6 C685,441.2 690.9,441.6 693,441.8" fill="none" stroke="#f7b5b5" stroke-width="6" stroke-linecap="butt" stroke-linejoin="round"/>
<path d="M548.3,464.8 C551.3,464 559.1,460.6 566.4,459.9 C573.6,459.2 583.6,460.7 591.7,460.5 C599.7,460.3 607.8,460 614.6,458.7 C621.4,457.4 626.7,454.1 632.7,452.7 C638.7,451.3 642.9,449.7 650.8,450.3 C658.7,450.9 673,455.1 680,456.3 C687,457.5 690.9,457.3 693,457.5" fill="none" stroke="#f7b5b5" stroke-width="4.6" stroke-linecap="butt" stroke-linejoin="round"/>
<path d="M544.6,457.5 C546.2,458.7 550.7,461.6 554.3,464.8 C557.9,468 562.3,472.8 566.4,476.8 C570.4,480.9 574.2,486.1 578.4,488.9 C582.6,491.7 586.7,493.1 591.7,493.7 C596.7,494.3 601.7,493.3 608.6,492.5 C615.4,491.7 624.7,490.1 632.7,488.9 C640.7,487.7 649.9,486.2 656.8,485.3 C663.8,484.4 668.3,483.8 674.3,483.5 C680.4,483.2 689.9,483.5 693,483.5" fill="none" stroke="#f28e8e" stroke-width="4.6" stroke-linecap="butt" stroke-linejoin="round"/>
<path d="M591.7,501 C594.5,496.9 603.8,482.9 608.6,476.8 C613.4,470.8 616.6,468.4 620.6,464.8 C624.7,461.2 628.7,457.5 632.7,455.1 C636.7,452.7 642.8,451.1 644.8,450.3" fill="none" stroke="#f7b5b5" stroke-width="4.6" stroke-linecap="butt" stroke-linejoin="round"/>
<path d="M602.5,501 C605.6,496.9 615.6,483.3 620.6,476.8 C625.7,470.4 628.7,465.8 632.7,462.4 C636.7,458.9 640.7,457.9 644.8,456.3 C648.8,454.7 654.8,453.3 656.8,452.7" fill="none" stroke="#f7b5b5" stroke-width="4.6" stroke-linecap="butt" stroke-linejoin="round"/>
<path d="M492.8,500.4 C494,500.3 494.8,500.3 500,499.8 C505.2,499.3 516.1,498.1 524.1,497.3 C532.2,496.5 540.2,495.5 548.3,494.9 C556.3,494.3 565.1,493.9 572.4,493.7 C579.6,493.5 588.5,493.7 591.7,493.7" fill="none" stroke="#f7b5b5" stroke-width="4.6" stroke-linecap="butt" stroke-linejoin="round"/>
<path d="M518.1,505.8 C520.1,502 526.5,489.7 530.2,482.9 C533.8,476 536.8,468.4 539.8,464.8 C542.8,461.2 544.8,462 548.3,461.2 C551.7,460.3 558.3,460.1 560.3,459.9" fill="none" stroke="#f7b5b5" stroke-width="4.6" stroke-linecap="butt" stroke-linejoin="round"/>
<path d="M573.8,337.3 C575.3,336.8 579.7,335.4 582.6,333.8 C585.5,332.2 587.6,328.6 591.4,327.7 C595.2,326.8 600.2,327.5 605.5,328.6 C610.7,329.6 617.2,332.4 623,333.8 C628.9,335.3 637.7,336.8 640.6,337.3" fill="none" stroke="#f7b5b5" stroke-width="4.6" stroke-linecap="butt" stroke-linejoin="round"/>
<path d="M669.1,325.4 C671,325.5 674.2,325.1 680,326 C685.8,326.9 696.1,327.8 704.1,330.9 C712.2,333.9 722.2,339.9 728.3,344.1 C734.3,348.4 736.3,351.8 740.3,356.2 C744.3,360.6 748.4,367.1 752.4,370.7 C756.4,374.3 758.1,377.1 764.4,377.9 C770.8,378.7 786.1,375.9 790.4,375.5" fill="none" stroke="#f28e8e" stroke-width="4.6" stroke-linecap="butt" stroke-linejoin="round"/>
<path d="M669.1,333.3 C671,333.5 674.2,333.5 680,334.5 C685.8,335.5 697.1,336.5 704.1,339.3 C711.2,342.1 716.2,346.5 722.2,351.4 C728.3,356.2 735.3,363.4 740.3,368.3 C745.3,373.1 748.4,376.7 752.4,380.3 C756.4,383.9 760.4,387 764.4,390 C768.5,393 772.2,396.4 776.5,398.4 C780.8,400.4 788.1,401.4 790.4,402" fill="none" stroke="#f28e8e" stroke-width="4.6" stroke-linecap="butt" stroke-linejoin="round"/>
<path d="M669.1,353.2 C671,353.3 675.2,353.9 680,353.8 C684.8,353.7 692.1,352.2 698.1,352.6 C704.1,353 710.2,353.6 716.2,356.2 C722.2,358.8 729.3,363.8 734.3,368.3 C739.3,372.7 742.3,378.3 746.4,382.7 C750.4,387.2 754.4,391.2 758.4,394.8 C762.4,398.4 765.2,402 770.5,404.4 C775.8,406.9 787.1,408.5 790.4,409.3" fill="none" stroke="#f7b5b5" stroke-width="4.6" stroke-linecap="butt" stroke-linejoin="round"/>
<path d="M680,356.2 C683,356.8 692.1,357.4 698.1,359.8 C704.1,362.2 710.8,366.8 716.2,370.7 C721.6,374.5 726.6,379.1 730.7,382.7 C734.7,386.4 736.7,389.8 740.3,392.4 C743.9,395 748.4,396.6 752.4,398.4 C756.4,400.2 762.4,402.4 764.4,403.2" fill="none" stroke="#f7b5b5" stroke-width="4.6" stroke-linecap="butt" stroke-linejoin="round"/>
<path d="M669.1,364.6 C671,364.6 675.2,364.4 680,364.6 C684.8,364.8 692.1,364.2 698.1,365.8 C704.1,367.5 710.8,370.9 716.2,374.3 C721.6,377.7 726.6,382.5 730.7,386.4 C734.7,390.2 737.7,393.8 740.3,397.2 C742.9,400.6 744.3,403.6 746.4,406.9 C748.4,410.1 749.8,411.9 752.4,416.5 C755,421.1 759,429.6 762,434.6 C765.1,439.6 767.1,443.5 770.5,446.7 C773.9,449.9 779.2,452.3 782.5,453.9 C785.9,455.5 789.1,455.9 790.4,456.3" fill="none" stroke="#f28e8e" stroke-width="4.6" stroke-linecap="butt" stroke-linejoin="round"/>
<path d="M740.3,398.4 C742.3,397 748.4,392.2 752.4,390 C756.4,387.8 760.4,386.6 764.4,385.1 C768.5,383.7 773.5,382.3 776.5,381.5 C779.5,380.8 781.5,380.7 782.5,380.6" fill="none" stroke="#f7b5b5" stroke-width="4.6" stroke-linecap="butt" stroke-linejoin="round"/>
<path d="M782.5,380.9 L792.2,380.9" fill="none" stroke="#a9b5dc" stroke-width="5" stroke-linecap="butt" stroke-linejoin="round"/>
<path d="M669.1,427.4 C671,427.2 675.2,426.8 680,426.2 C684.8,425.6 692.1,425.8 698.1,423.8 C704.1,421.7 709.2,418.3 716.2,414.1 C723.2,409.9 736.3,401 740.3,398.4" fill="none" stroke="#f28e8e" stroke-width="4.6" stroke-linecap="butt" stroke-linejoin="round"/>
<path d="M669.1,438.8 C671,438.9 674.2,438.7 680,439.4 C685.8,440.1 696.1,442 704.1,443.1 C712.2,444.1 721.2,445.5 728.3,445.5 C735.3,445.5 740.3,444.7 746.4,443.1 C752.4,441.4 758.4,438.2 764.4,435.8 C770.5,433.4 778.2,430 782.5,428.6 C786.9,427.2 789.1,427.6 790.4,427.4" fill="none" stroke="#f28e8e" stroke-width="5.5" stroke-linecap="butt" stroke-linejoin="round"/>
<path d="M669.1,440.6 C671,440.6 674.2,440.4 680,440.6 C685.8,440.8 696.1,440.6 704.1,441.8 C712.2,443.1 721.2,445.1 728.3,447.9 C735.3,450.7 741.3,454.9 746.4,458.7 C751.4,462.6 754.4,466.2 758.4,470.8 C762.4,475.4 766.5,481.9 770.5,486.5 C774.5,491.1 779.5,495.7 782.5,498.5 C785.6,501.4 787.6,502.6 788.6,503.4" fill="none" stroke="#f7b5b5" stroke-width="4.6" stroke-linecap="butt" stroke-linejoin="round"/>
<path d="M669.1,455.7 C671,455.6 675.2,456 680,455.1 C684.8,454.2 692.1,450.7 698.1,450.3 C704.1,449.9 710.2,450.7 716.2,452.7 C722.2,454.7 728.3,458.3 734.3,462.4 C740.3,466.4 747.4,472 752.4,476.8 C757.4,481.7 761.4,487.1 764.4,491.3 C767.5,495.5 769.5,500.4 770.5,502.2" fill="none" stroke="#f7b5b5" stroke-width="4.6" stroke-linecap="butt" stroke-linejoin="round"/>
<path d="M669.1,483.5 C671,483.4 674.2,482.4 680,482.9 C685.8,483.4 697.1,486.7 704.1,486.5 C711.2,486.3 717.2,483.7 722.2,481.7 C727.3,479.6 732.3,475.6 734.3,474.4" fill="none" stroke="#f28e8e" stroke-width="4.6" stroke-linecap="butt" stroke-linejoin="round"/>
<path d="M734.3,474.4 L746.4,470.8" fill="none" stroke="#f7b5b5" stroke-width="4.6" stroke-linecap="butt" stroke-linejoin="round"/>
<path d="M680,458.7 C684,459.1 696.1,460.5 704.1,461.2 C712.2,461.8 721.2,461.2 728.3,462.4 C735.3,463.6 741.3,465 746.4,468.4 C751.4,471.8 754.4,478.6 758.4,482.9 C762.4,487.1 766.5,491.1 770.5,493.7 C774.5,496.3 779.2,497.3 782.5,498.5 C785.9,499.8 789.1,500.6 790.4,501" fill="none" stroke="#f7b5b5" stroke-width="4.6" stroke-linecap="butt" stroke-linejoin="round"/>
<path d="M789.2,329.7 L823.6,327.5" fill="none" stroke="#f28e8e" stroke-width="8" stroke-linecap="butt" stroke-linejoin="round"/>
<path d="M823.6,326.6 L857,326.6" fill="none" stroke="#f28e8e" stroke-width="8" stroke-linecap="butt" stroke-linejoin="round"/>
<path d="M823.6,334.7 L857,334.5" fill="none" stroke="#f28e8e" stroke-width="8" stroke-linecap="butt" stroke-linejoin="round"/>
<path d="M789.2,350.2 C792.1,350.6 800.8,351.7 806.7,352.6 C812.5,353.5 821.3,355.1 824.2,355.6" fill="none" stroke="#f28e8e" stroke-width="6" stroke-linecap="butt" stroke-linejoin="round"/>
<path d="M824.2,355.6 L857,355" fill="none" stroke="#f7b5b5" stroke-width="7" stroke-linecap="butt" stroke-linejoin="round"/>
<path d="M789.2,374.3 L824.2,371.9" fill="none" stroke="#f7b5b5" stroke-width="9" stroke-linecap="butt" stroke-linejoin="round"/>
<path d="M824.2,367.3 L857,364.9" fill="none" stroke="#f28e8e" stroke-width="7" stroke-linecap="butt" stroke-linejoin="round"/>
<path d="M789.2,415.9 L824.2,414.7" fill="none" stroke="#f28e8e" stroke-width="9" stroke-linecap="butt" stroke-linejoin="round"/>
<path d="M789.2,420.7 L824.2,419.9" fill="none" stroke="#f28e8e" stroke-width="7" stroke-linecap="butt" stroke-linejoin="round"/>
<path d="M789.2,428.6 L824.2,429.8" fill="none" stroke="#f28e8e" stroke-width="6" stroke-linecap="butt" stroke-linejoin="round"/>
<path d="M824.2,424 L857,427.4" fill="none" stroke="#f28e8e" stroke-width="7" stroke-linecap="butt" stroke-linejoin="round"/>
<path d="M789.2,442.1 C792.1,442.9 800.8,445.1 806.7,446.7 C812.5,448.2 815.8,449.7 824.2,451.5 C832.6,453.3 851.5,456.5 857,457.5" fill="none" stroke="#f7b5b5" stroke-width="7" stroke-linecap="butt" stroke-linejoin="round"/>
<path d="M824.2,436.4 L857,438.8" fill="none" stroke="#f7b5b5" stroke-width="9" stroke-linecap="butt" stroke-linejoin="round"/>
<path d="M789.2,463.6 L824.2,461.2" fill="none" stroke="#f7b5b5" stroke-width="7" stroke-linecap="butt" stroke-linejoin="round"/>
<path d="M824.2,485.3 L857,485.3" fill="none" stroke="#f28e8e" stroke-width="7" stroke-linecap="butt" stroke-linejoin="round"/>
<path d="M789.2,494 L824.2,495.2" fill="none" stroke="#f7b5b5" stroke-width="7" stroke-linecap="butt" stroke-linejoin="round"/>
</g><g clip-path="url(#cpIn2)">
<path d="M196,353.6 C198,352.7 204.3,350.3 208.1,348.2 C211.9,346.2 214.8,344 218.8,341.5 C222.8,339.1 227.3,335.5 232.2,333.5 C237.1,331.5 242.9,330.5 248.3,329.5 C253.6,328.5 259.5,327.7 264.4,327.5 C269.3,327.3 273.1,328.7 277.8,328.1 C282.5,327.6 287.8,326.1 292.5,324.1 C297.2,322.1 301.5,319.4 305.9,316.1 C310.4,312.7 316,307.1 319.3,304 C322.7,300.9 324.9,298.4 326,297.3" fill="none" stroke="#f28e8e" stroke-width="4.6" stroke-linecap="butt" stroke-linejoin="round"/>
<path d="M196,353.6 C198.7,352 207.2,348.7 212.1,344.2 C217,339.8 221.5,332.4 225.5,326.8 C229.5,321.2 232.9,315.6 236.2,310.7 C239.6,305.8 244,299.6 245.6,297.3" fill="none" stroke="#f28e8e" stroke-width="4.6" stroke-linecap="butt" stroke-linejoin="round"/>
<path d="M252.3,337.5 C254.3,336.9 260.1,334.6 264.4,333.5 C268.6,332.4 272.9,330.8 277.8,330.8 C282.7,330.8 288,331.9 293.9,333.5 C299.7,335.1 307.3,338.4 312.6,340.2 C318,342 321.6,343.1 326,344.2 C330.5,345.3 333.8,345.3 339.4,346.9 C345,348.5 352.8,352.5 359.5,353.6 C366.2,354.7 376.3,353.6 379.6,353.6" fill="none" stroke="#f7b5b5" stroke-width="4.6" stroke-linecap="butt" stroke-linejoin="round"/>
<path d="M188,399.2 C189.3,398.7 192,398.5 196,396.5 C200,394.5 206.1,392 212.1,387.1 C218.1,382.2 226.2,372.1 232.2,367 C238.2,361.9 242.9,358.9 248.3,356.3 C253.6,353.7 259.5,352.6 264.4,351.6 C269.3,350.6 272,350.6 277.8,350.3 C283.6,349.9 293.4,350.4 299.2,349.6 C305,348.8 308.2,347.4 312.6,345.6 C317.1,343.8 321.6,340.9 326,338.9 C330.5,336.9 333.8,335.7 339.4,333.5 C345,331.3 353.9,326.4 359.5,325.5 C365.1,324.6 370.7,327.7 372.9,328.1" fill="none" stroke="#f28e8e" stroke-width="4.6" stroke-linecap="butt" stroke-linejoin="round"/>
<path d="M188,405.9 C189.5,405.4 192.2,406.1 197.4,403.2 C202.5,400.3 211.2,393.6 218.8,388.5 C226.4,383.3 238.5,375.3 242.9,372.4 C247.4,369.5 245.2,371.3 245.6,371" fill="none" stroke="#f28e8e" stroke-width="4.6" stroke-linecap="butt" stroke-linejoin="round"/>
<path d="M245.6,370.4 C251,370.8 267.3,372.4 277.8,373 C288.3,373.7 303.5,374.2 308.6,374.4" fill="none" stroke="#f7b5b5" stroke-width="4.6" stroke-linecap="butt" stroke-linejoin="round"/>
<path d="M308.6,374.4 C311.5,373.4 317.5,369.5 326,368.4 C334.5,367.2 349.5,367.5 359.5,367.7 C369.6,367.9 381.9,369.4 386.3,369.7" fill="none" stroke="#f28e8e" stroke-width="4.6" stroke-linecap="butt" stroke-linejoin="round"/>
<path d="M216.1,420.6 C218.1,419.1 223.3,415.7 228.2,411.2 C233.1,406.8 240.5,398.3 245.6,393.8 C250.7,389.3 253.6,387.1 259,384.4 C264.4,381.8 271.1,379.3 277.8,377.7 C284.5,376.2 292.3,376.4 299.2,375.1 C306.1,373.7 313.7,372.1 319.3,369.7 C324.9,367.2 328.3,363.2 332.7,360.3 C337.2,357.4 341.7,354.1 346.1,352.3 C350.6,350.5 355.1,349.8 359.5,349.6 C364,349.4 370.7,350.7 372.9,350.9" fill="none" stroke="#f7b5b5" stroke-width="4.6" stroke-linecap="butt" stroke-linejoin="round"/>
<path d="M279.1,423.3 C280.2,421.7 281.3,419.3 285.8,413.9 C290.3,408.6 300.3,397.6 305.9,391.1 C311.5,384.7 314.9,380.2 319.3,375.1 C323.8,369.9 328.3,363.9 332.7,360.3 C337.2,356.7 341.7,355.2 346.1,353.6 C350.6,352 353.9,351.2 359.5,350.9 C365.1,350.7 376.3,352 379.6,352.3" fill="none" stroke="#f7b5b5" stroke-width="4.6" stroke-linecap="butt" stroke-linejoin="round"/>
<path d="M188,393.8 C189.3,393.8 189.8,394 196,393.8 C202.3,393.6 217.2,391.8 225.5,392.5 C233.8,393.1 240,395.6 245.6,397.8 C251.2,400.1 254.5,403.2 259,405.9 C263.5,408.6 267.9,411.7 272.4,413.9 C276.9,416.2 280.2,417.9 285.8,419.3 C291.4,420.6 299.2,421.3 305.9,422 C312.6,422.6 317.1,422.9 326,423.3 C335,423.7 351.7,425.1 359.5,424.6 C367.3,424.2 370.7,421.3 372.9,420.6" fill="none" stroke="#f28e8e" stroke-width="5" stroke-linecap="butt" stroke-linejoin="round"/>
<path d="M188,430 C189.3,429.8 190.9,430.2 196,428.7 C201.2,427.1 210.5,422.9 218.8,420.6 C227.1,418.4 237.8,416.4 245.6,415.3 C253.4,414.1 260.1,413.9 265.7,413.9 C271.3,413.9 274.6,414.6 279.1,415.3 C283.6,415.9 290.3,417.5 292.5,417.9" fill="none" stroke="#f28e8e" stroke-width="4.6" stroke-linecap="butt" stroke-linejoin="round"/>
<path d="M188,405.9 C189.3,406.1 190.9,406.3 196,407.2 C201.2,408.1 210.5,409.5 218.8,411.2 C227.1,413 237.8,415.7 245.6,417.9 C253.4,420.2 260.4,423.1 265.7,424.6 C271.1,426.2 274.4,427.1 277.8,427.3 C281.1,427.5 282.2,427.5 285.8,426 C289.4,424.4 297,419.3 299.2,417.9" fill="none" stroke="#f7b5b5" stroke-width="4.6" stroke-linecap="butt" stroke-linejoin="round"/>
<path d="M188,408.6 C189.3,408.8 192,408.6 196,409.9 C200,411.2 206.1,414.8 212.1,416.6 C218.1,418.4 225.5,419.5 232.2,420.6 C238.9,421.7 245.6,422.5 252.3,423.3 C259,424.1 269.1,425 272.4,425.3" fill="none" stroke="#f7b5b5" stroke-width="4.6" stroke-linecap="butt" stroke-linejoin="round"/>
<path d="M188,426 C189.3,426.4 192.4,427.5 196,428.7 C199.6,429.8 204.5,429.6 209.4,432.7 C214.3,435.8 220.6,442.7 225.5,447.4 C230.4,452.1 235.1,457.7 238.9,460.8 C242.7,464 244.9,464 248.3,466.2 C251.6,468.4 257.2,472.9 259,474.2" fill="none" stroke="#f28e8e" stroke-width="4.6" stroke-linecap="butt" stroke-linejoin="round"/>
<path d="M225.5,468.9 C226.6,468 228.9,466 232.2,463.5 C235.6,461 241.1,455.2 245.6,454.1 C250.1,453 253.6,455.5 259,456.8 C264.4,458.1 271.1,461.5 277.8,462.2 C284.5,462.8 292.3,462.4 299.2,460.8 C306.1,459.3 312.6,455.5 319.3,452.8 C326,450.1 332.7,447 339.4,444.7 C346.1,442.5 353.9,440.3 359.5,439.4 C365.1,438.5 370.7,439.4 372.9,439.4" fill="none" stroke="#f7b5b5" stroke-width="4.6" stroke-linecap="butt" stroke-linejoin="round"/>
<path d="M212.1,509.1 C213.2,507.3 215.5,504.2 218.8,498.4 C222.2,492.5 227.7,481.2 232.2,474.2 C236.7,467.3 243.4,459.7 245.6,456.8" fill="none" stroke="#f7b5b5" stroke-width="4.6" stroke-linecap="butt" stroke-linejoin="round"/>
<path d="M256.3,452.8 C259,451 268.8,444.1 272.4,442.1 C276,440.1 273.3,440.5 277.8,440.7 C282.2,440.9 291.2,442.1 299.2,443.4 C307.3,444.7 318.2,447.4 326,448.8 C333.8,450.1 340.5,451.2 346.1,451.4 C351.7,451.7 355.1,450.3 359.5,450.1 C364,449.9 370.7,450.1 372.9,450.1" fill="none" stroke="#f7b5b5" stroke-width="4.6" stroke-linecap="butt" stroke-linejoin="round"/>
<path d="M312.6,423.3 C314.9,424.6 321.6,428.7 326,431.3 C330.5,434 333.8,436.9 339.4,439.4 C345,441.8 352.8,443.8 359.5,446.1 C366.2,448.3 376.3,451.7 379.6,452.8" fill="none" stroke="#f28e8e" stroke-width="4.6" stroke-linecap="butt" stroke-linejoin="round"/>
<path d="M326,454.1 C328.3,452.3 333.8,446.8 339.4,443.4 C345,440.1 352.8,434.7 359.5,434 C366.2,433.4 376.3,438.5 379.6,439.4" fill="none" stroke="#f7b5b5" stroke-width="4.6" stroke-linecap="butt" stroke-linejoin="round"/>
</g>
<path d="M509.7,353.5 C511,353.2 513.3,353.8 517.6,351.4 C521.8,349 529.3,346.1 535.2,339.1 C541,332.1 548.3,316.7 552.7,309.2 C557.1,301.7 558.6,299.3 561.5,294.3 C564.5,289.3 566.8,283.7 570.3,279.3 C573.8,274.9 579.1,270.1 582.6,267.9 C586.1,265.7 589.9,266.4 591.4,266.2" fill="none" stroke="#f28e8e" stroke-width="4.6" stroke-linecap="butt" stroke-linejoin="round"/>
<path d="M591.4,327.7 C593.7,326.9 600.8,325.8 605.5,323.3 C610.2,320.8 614.8,316.8 619.5,312.7 C624.2,308.6 628.6,303.7 633.6,298.7 C638.6,293.7 644.4,287.5 649.4,282.9 C654.4,278.2 659.4,273.5 663.5,270.5 C667.6,267.6 672.3,265.9 674,264.9" fill="none" stroke="#f28e8e" stroke-width="4.6" stroke-linecap="butt" stroke-linejoin="round"/>
<path d="M674,264.4 C677.2,265.7 687.8,268.9 693.4,272.3 C698.9,275.7 703,280.2 707.4,284.6 C711.8,289 715.3,294 719.7,298.7 C724.1,303.4 729.4,307.9 733.8,312.7 C738.2,317.6 741.1,322.7 746.1,327.7 C751.1,332.7 758.4,338.8 763.7,342.6 C768.9,346.4 773.3,348.8 777.7,350.5 C782.1,352.3 788,352.7 790,353.2" fill="none" stroke="#f28e8e" stroke-width="4.3" stroke-linecap="butt" stroke-linejoin="round"/>
<path d="M674.9,267 C678.6,269.8 690.9,278.7 696.9,283.7 C702.9,288.8 706.5,292.7 710.9,297.3 C715.3,301.9 718.8,306.6 723.2,311.3 C727.6,316 732.9,320.9 737.3,325.4 C741.7,329.9 744.6,334.3 749.6,338.2 C754.6,342.1 761.9,346.3 767.2,348.8 C772.5,351.2 777.4,352 781.2,352.8 C785.1,353.6 788.6,353.4 790,353.5" fill="none" stroke="#f28e8e" stroke-width="4.3" stroke-linecap="butt" stroke-linejoin="round"/>
<circle cx="323.8" cy="544.8" r="6.5" fill="none" stroke="#222" stroke-width="1.8"/>
<circle cx="336.9" cy="542.4" r="6.5" fill="none" stroke="#222" stroke-width="1.8"/>
<circle cx="356.6" cy="545.7" r="6.5" fill="none" stroke="#222" stroke-width="1.8"/>
<circle cx="639.6" cy="549" r="6.5" fill="none" stroke="#222" stroke-width="1.8"/>
<circle cx="651.1" cy="544.1" r="6.5" fill="none" stroke="#222" stroke-width="1.8"/>
<circle cx="660.9" cy="537.5" r="6.5" fill="none" stroke="#222" stroke-width="1.8"/>
<circle cx="674.9" cy="545.8" r="6.5" fill="none" stroke="#222" stroke-width="1.8"/>
<ellipse cx="566.6" cy="553.1" rx="14" ry="7.5" fill="none" stroke="#222" stroke-width="1.8"/>
<rect x="832.1" y="541.6" width="14" height="10" fill="none" stroke="#222" stroke-width="1.6"/>
<line x1="196" y1="611" x2="206" y2="611" stroke="#252525" stroke-width="2.5"/>
<line x1="858" y1="611" x2="848" y2="611" stroke="#252525" stroke-width="2.5"/>
<line x1="196" y1="573" x2="202" y2="573" stroke="#252525" stroke-width="2.5"/>
<line x1="858" y1="573" x2="852" y2="573" stroke="#252525" stroke-width="2.5"/>
<line x1="196" y1="535" x2="206" y2="535" stroke="#252525" stroke-width="2.5"/>
<line x1="858" y1="535" x2="848" y2="535" stroke="#252525" stroke-width="2.5"/>
<line x1="196" y1="497" x2="202" y2="497" stroke="#252525" stroke-width="2.5"/>
<line x1="858" y1="497" x2="852" y2="497" stroke="#252525" stroke-width="2.5"/>
<line x1="196" y1="459" x2="206" y2="459" stroke="#252525" stroke-width="2.5"/>
<line x1="858" y1="459" x2="848" y2="459" stroke="#252525" stroke-width="2.5"/>
<line x1="196" y1="421" x2="202" y2="421" stroke="#252525" stroke-width="2.5"/>
<line x1="858" y1="421" x2="852" y2="421" stroke="#252525" stroke-width="2.5"/>
<line x1="196" y1="383" x2="206" y2="383" stroke="#252525" stroke-width="2.5"/>
<line x1="858" y1="383" x2="848" y2="383" stroke="#252525" stroke-width="2.5"/>
<line x1="196" y1="345" x2="202" y2="345" stroke="#252525" stroke-width="2.5"/>
<line x1="858" y1="345" x2="852" y2="345" stroke="#252525" stroke-width="2.5"/>
<line x1="196" y1="307" x2="206" y2="307" stroke="#252525" stroke-width="2.5"/>
<line x1="858" y1="307" x2="848" y2="307" stroke="#252525" stroke-width="2.5"/>
<line x1="196" y1="269" x2="202" y2="269" stroke="#252525" stroke-width="2.5"/>
<line x1="858" y1="269" x2="852" y2="269" stroke="#252525" stroke-width="2.5"/>
<line x1="196" y1="231" x2="206" y2="231" stroke="#252525" stroke-width="2.5"/>
<line x1="858" y1="231" x2="848" y2="231" stroke="#252525" stroke-width="2.5"/>
<line x1="196" y1="193" x2="202" y2="193" stroke="#252525" stroke-width="2.5"/>
<line x1="858" y1="193" x2="852" y2="193" stroke="#252525" stroke-width="2.5"/>
<line x1="196" y1="155" x2="206" y2="155" stroke="#252525" stroke-width="2.5"/>
<line x1="858" y1="155" x2="848" y2="155" stroke="#252525" stroke-width="2.5"/>
<line x1="196" y1="117" x2="202" y2="117" stroke="#252525" stroke-width="2.5"/>
<line x1="858" y1="117" x2="852" y2="117" stroke="#252525" stroke-width="2.5"/>
<line x1="196" y1="79" x2="206" y2="79" stroke="#252525" stroke-width="2.5"/>
<line x1="858" y1="79" x2="848" y2="79" stroke="#252525" stroke-width="2.5"/>
<rect x="196" y="79" width="662" height="532" fill="none" stroke="#252525" stroke-width="3"/>
<text transform="translate(185.5,625.5) scale(0.74,1)" style="font-family:'Liberation Sans',sans-serif;font-size:41px" text-anchor="end" stroke="#000" stroke-width="0.7">0</text>
<text transform="translate(185.5,549.5) scale(0.74,1)" style="font-family:'Liberation Sans',sans-serif;font-size:41px" text-anchor="end" stroke="#000" stroke-width="0.7">1</text>
<text transform="translate(185.5,473.5) scale(0.74,1)" style="font-family:'Liberation Sans',sans-serif;font-size:41px" text-anchor="end" stroke="#000" stroke-width="0.7">2</text>
<text transform="translate(185.5,397.5) scale(0.74,1)" style="font-family:'Liberation Sans',sans-serif;font-size:41px" text-anchor="end" stroke="#000" stroke-width="0.7">3</text>
<text transform="translate(185.5,321.5) scale(0.74,1)" style="font-family:'Liberation Sans',sans-serif;font-size:41px" text-anchor="end" stroke="#000" stroke-width="0.7">4</text>
<text transform="translate(185.5,245.5) scale(0.74,1)" style="font-family:'Liberation Sans',sans-serif;font-size:41px" text-anchor="end" stroke="#000" stroke-width="0.7">5</text>
<text transform="translate(185.5,169.5) scale(0.74,1)" style="font-family:'Liberation Sans',sans-serif;font-size:41px" text-anchor="end" stroke="#000" stroke-width="0.7">6</text>
<text transform="translate(185.5,93.5) scale(0.74,1)" style="font-family:'Liberation Sans',sans-serif;font-size:41px" text-anchor="end" stroke="#000" stroke-width="0.7">7</text>
<text transform="translate(145.5,501.7) rotate(-90) scale(0.762,1)" style="font-family:'Liberation Sans',sans-serif;font-size:42px" text-anchor="start" stroke="#000" stroke-width="0.7">Frequency (THz)</text>
<text transform="translate(111,94) scale(0.81,1)" style="font-family:'Liberation Sans',sans-serif;font-size:62.7px" text-anchor="start" stroke="#000" stroke-width="0.7">a</text>
<text transform="translate(196.5,651) scale(0.71,1)" style="font-family:'Liberation Sans',sans-serif;font-size:42px" text-anchor="middle" stroke="#000" stroke-width="0.7">Γ</text>
<text transform="translate(273,651) scale(0.71,1)" style="font-family:'Liberation Sans',sans-serif;font-size:42px" text-anchor="middle" stroke="#000" stroke-width="0.7">X</text>
<text transform="translate(360,651) scale(0.71,1)" style="font-family:'Liberation Sans',sans-serif;font-size:42px" text-anchor="middle" stroke="#000" stroke-width="0.7">M</text>
<text transform="translate(478.5,651) scale(0.71,1)" style="font-family:'Liberation Sans',sans-serif;font-size:42px" text-anchor="middle" stroke="#000" stroke-width="0.7">Γ</text>
<text transform="translate(506.5,651) scale(0.71,1)" style="font-family:'Liberation Sans',sans-serif;font-size:42px" text-anchor="middle" stroke="#000" stroke-width="0.7">Z</text>
<text transform="translate(591.3,651) scale(0.71,1)" style="font-family:'Liberation Sans',sans-serif;font-size:42px" text-anchor="middle" stroke="#000" stroke-width="0.7">R</text>
<text transform="translate(670.5,651) scale(0.71,1)" style="font-family:'Liberation Sans',sans-serif;font-size:42px" text-anchor="middle" stroke="#000" stroke-width="0.7">A</text>
<text transform="translate(754.2,651) scale(0.71,1)" style="font-family:'Liberation Sans',sans-serif;font-size:42px" text-anchor="middle" stroke="#000" stroke-width="0.7">Z</text>
<text transform="translate(788,651) scale(0.71,1)" style="font-family:'Liberation Sans',sans-serif;font-size:42px" text-anchor="middle" stroke="#000" stroke-width="0.7">X</text>
<text transform="translate(812,651) scale(0.71,1)" style="font-family:'Liberation Sans',sans-serif;font-size:42px" text-anchor="middle" stroke="#000" stroke-width="0.7">R</text>
<text transform="translate(843,651) scale(0.71,1)" style="font-family:'Liberation Sans',sans-serif;font-size:42px" text-anchor="middle" stroke="#000" stroke-width="0.7">M</text>
<text transform="translate(867,651) scale(0.71,1)" style="font-family:'Liberation Sans',sans-serif;font-size:42px" text-anchor="middle" stroke="#000" stroke-width="0.7">A</text>
<line x1="773" y1="627" x2="773" y2="654" stroke="#888" stroke-width="2"/>
<line x1="825.5" y1="627" x2="825.5" y2="654" stroke="#444" stroke-width="2"/>
<rect x="879" y="79" width="31" height="67.2" fill="#7f1517"/>
<rect x="879" y="145.6" width="31" height="67.2" fill="#f07272"/>
<rect x="879" y="212.2" width="31" height="67.2" fill="#f39393"/>
<rect x="879" y="278.9" width="31" height="67.2" fill="#f8b6b6"/>
<rect x="879" y="345.5" width="31" height="67.2" fill="#aebadd"/>
<rect x="879" y="412.1" width="31" height="67.2" fill="#7f8fc6"/>
<rect x="879" y="478.8" width="31" height="67.2" fill="#1b4aa0"/>
<rect x="879" y="545.4" width="31" height="67.2" fill="#23356e"/>
<rect x="879" y="79" width="31" height="533" fill="none" stroke="#111" stroke-width="3"/>
<line x1="909" y1="145.6" x2="919" y2="145.6" stroke="#111" stroke-width="2.5"/>
<text transform="translate(923.5,156.6) scale(0.76,1)" style="font-family:'Liberation Sans',sans-serif;font-size:34px" text-anchor="start" stroke="#000" stroke-width="0.7">7.5</text>
<line x1="909" y1="212.2" x2="919" y2="212.2" stroke="#111" stroke-width="2.5"/>
<text transform="translate(923.5,223.2) scale(0.76,1)" style="font-family:'Liberation Sans',sans-serif;font-size:34px" text-anchor="start" stroke="#000" stroke-width="0.7">5.0</text>
<line x1="909" y1="278.9" x2="919" y2="278.9" stroke="#111" stroke-width="2.5"/>
<text transform="translate(923.5,289.9) scale(0.76,1)" style="font-family:'Liberation Sans',sans-serif;font-size:34px" text-anchor="start" stroke="#000" stroke-width="0.7">2.5</text>
<line x1="909" y1="345.5" x2="919" y2="345.5" stroke="#111" stroke-width="2.5"/>
<text transform="translate(923.5,356.5) scale(0.76,1)" style="font-family:'Liberation Sans',sans-serif;font-size:34px" text-anchor="start" stroke="#000" stroke-width="0.7">0.0</text>
<line x1="909" y1="412.1" x2="919" y2="412.1" stroke="#111" stroke-width="2.5"/>
<text transform="translate(923.5,423.1) scale(0.76,1)" style="font-family:'Liberation Sans',sans-serif;font-size:34px" text-anchor="start" stroke="#000" stroke-width="0.7">-2.5</text>
<line x1="909" y1="478.8" x2="919" y2="478.8" stroke="#111" stroke-width="2.5"/>
<text transform="translate(923.5,489.8) scale(0.76,1)" style="font-family:'Liberation Sans',sans-serif;font-size:34px" text-anchor="start" stroke="#000" stroke-width="0.7">-5.0</text>
<line x1="909" y1="545.4" x2="919" y2="545.4" stroke="#111" stroke-width="2.5"/>
<text transform="translate(923.5,556.4) scale(0.76,1)" style="font-family:'Liberation Sans',sans-serif;font-size:34px" text-anchor="start" stroke="#000" stroke-width="0.7">-7.5</text>
<text transform="translate(889,69) scale(0.95,1)" style="font-family:'Liberation Serif',serif;font-size:31px" text-anchor="middle">γ</text>
<rect x="1185.6" y="81" width="96.4" height="530" fill="#e8e1ef"/>
<rect x="1282" y="81" width="107.8" height="530" fill="#faf3c5"/>
<rect x="1389.8" y="81" width="133.2" height="530" fill="#ebebeb"/>
<path d="M1144.7,610.5 L1186.9,608.4 L1229.1,604.9 L1238.5,606.1 L1252.6,607.3 L1280.8,606.1 L1304.2,603.8 L1327.7,596.7 L1341.8,594.4 L1350,545.1 L1353.5,585 L1360.5,592 L1365.2,582.6 L1372.3,596.7 L1379.3,606.1 L1391,608.4 L1398.1,467.7 L1406.3,294.1 L1411,406.7 L1421.5,378.5 L1433.3,479.4 L1441,366.8 L1445,524 L1448.5,467.7 L1452,517 L1461.4,533.4 L1468.4,533.4 L1477.8,524 L1484.9,526.3 L1491.9,514.6 L1497.8,423.1 L1504.7,526.3 L1510.6,521.6 L1516.4,526.3 L1521.1,505.2 L1525.8,526.3 L1530.5,573.3 L1535.2,608.4 L1546.9,609.6 L1664.2,610.3 L1683,607.3 L1704.1,603.8 L1713.5,608.4 L1734.6,609.6 L1851.9,610.5" fill="none" stroke="#a8a9aa" stroke-width="4.6" stroke-linejoin="round" stroke-linecap="round"/>
<path d="M1144.7,610.5 L1186.9,608.4 L1222.1,603.8 L1231.5,549.8 L1235.7,498.2 L1240.9,561.5 L1250.3,570.9 L1257.3,549.8 L1262,521.6 L1269,538.1 L1274.9,549.8 L1277.9,495.8 L1280.8,561.5 L1285.5,596.7 L1294.8,594.4 L1304.2,556.8 L1311.3,526.3 L1316,502.9 L1320.6,538.1 L1327.7,570.9 L1334.7,575.6 L1344.1,577.9 L1350,474.7 L1352.3,514.6 L1359.4,526.3 L1365.2,495.8 L1372.3,514.6 L1377,556.8 L1381.6,538.1 L1386.3,566.2 L1391,570.9 L1396.9,566.2 L1402.8,547.4 L1407.4,566.2 L1414.5,563.9 L1418,592 L1426.2,594.4 L1435.6,589.7 L1442.6,582.6 L1449.7,575.6 L1456.7,568.6 L1463.8,538.1 L1470.8,533.4 L1475.5,484.1 L1482.5,538.1 L1489.6,570.9 L1494.3,561.5 L1497.8,545.1 L1502.5,568.6 L1508.3,585 L1515.4,580.3 L1524.8,587.3 L1507,577.9 L1516.4,575.6 L1523.5,582.6 L1532.8,585 L1536.4,606.1 L1546.9,606.1 L1607.9,606.1 L1612.6,573.3 L1616.1,549.8 L1619.6,573.3 L1623.2,599.1 L1631.4,606.1 L1664.2,608.4 L1673.6,603.8 L1680.6,561.5 L1685.3,514.6 L1687.7,549.8 L1694.7,566.2 L1701.8,549.8 L1706.9,507.6 L1711.1,549.8 L1718.2,585 L1727.6,603.8 L1734.6,603.8 L1744,589.7 L1753.4,585 L1762.8,566.2 L1772.1,556.8 L1776.8,580.3 L1781.5,585 L1785,573.3 L1787.4,609.6" fill="none" stroke="#8db0e0" stroke-width="4.6" stroke-linejoin="round" stroke-linecap="round"/>
<path d="M1144.7,610.5 L1222.1,606.1 L1231.5,580.3 L1235,547.4 L1238.5,573.3 L1243.2,589.7 L1252.6,594.4 L1262,580.3 L1266.7,582.6 L1273.7,589.7 L1280.8,592 L1285.5,585 L1290.1,587.3 L1294.8,580.3 L1304.2,545.1 L1313.6,559.2 L1327.7,568.6 L1332.4,570.9 L1339.4,561.5 L1345.3,568.6 L1350,500.5 L1353.5,547.4 L1360.5,552.1 L1365.2,517 L1372.3,549.8 L1377,589.7 L1384,599.1 L1391,606.1 L1398.1,601.4 L1409.8,603.8 L1421.5,603.8 L1437.9,599.1 L1445,603.8 L1468.4,601.4 L1475.5,593.2 L1482.5,601.4 L1498.9,601.4 L1500,597.9 L1509.4,606.1 L1532.8,608.4 L1607.9,609.6 L1611.4,592 L1615.4,562.7 L1618.5,585 L1622,599.1 L1631.4,606.1 L1664.2,609.6 L1667.7,592 L1671.3,561.5 L1676,538.1 L1679.5,467.7 L1681.8,350.4 L1683.6,240.1 L1686.5,326.9 L1688.9,444.2 L1694.7,505.2 L1699.4,420.8 L1704.1,303.5 L1707.2,251.1 L1711.1,303.5 L1714.7,444.2 L1718.2,538.1 L1725.2,585 L1731.1,601.4 L1737,589.7 L1744,556.8 L1748.7,552.1 L1753.4,559.2 L1758.1,528.7 L1763.9,500.5 L1767.4,517 L1772.1,502.9 L1775.7,528.7 L1779.2,566.2 L1783.9,533.4 L1788.6,570.9 L1792.1,609.6" fill="none" stroke="#f28a2e" stroke-width="4.6" stroke-linejoin="round" stroke-linecap="round"/>
<path d="M1144.7,610.5 L1196.3,608 L1222.1,601.9 L1229.1,561.5 L1235.7,519.3 L1238.5,570.9 L1246.7,562.7 L1252.6,569.7 L1262,531 L1273.7,562.7 L1278.4,515.8 L1281.9,603.8 L1285.5,609.6 L1445,609.6 L1456.7,606.1 L1468.4,602.6 L1475.5,594.4 L1482.5,602.6 L1494.3,603.8 L1501.3,554.5 L1509.4,542.8 L1521.1,524 L1528.2,500.5 L1532.1,461.8 L1536.4,500.5 L1542.2,524 L1551.6,538.1 L1563.3,547.4 L1577.4,549.8 L1589.1,543.9 L1600.9,531 L1607.9,505.2 L1611.4,467.7 L1613.8,373.8 L1616,111.3 L1618.5,233.1 L1620.8,373.8 L1624.3,491.1 L1627.9,556.8 L1633.7,573.3 L1645.5,582.6 L1657.2,586.2 L1661.9,610.5 L1666.6,610.5 L1678.3,608.4 L1681.8,514.6 L1684.6,390.3 L1687.7,514.6 L1690,549.8 L1697.1,589.7 L1704.1,582.6 L1711.1,561.5 L1715.8,585 L1722.9,603.8 L1734.6,608.4 L1746.3,606.1 L1755.7,607.3 L1765.1,603.8 L1769.8,608.4 L1790.9,610.5" fill="none" stroke="#1f51a3" stroke-width="4.6" stroke-linejoin="round" stroke-linecap="round"/>
<path d="M1144.7,610.5 L1186.9,608.4 L1229.1,604.9 L1238.5,606.1 L1252.6,607.3 L1280.8,606.1 L1304.2,603.8 L1327.7,596.7 L1341.8,594.4 L1350,545.1 L1353.5,585 L1360.5,592 L1365.2,582.6 L1372.3,596.7 L1379.3,606.1 L1391,608.4 L1398.1,467.7 L1406.3,294.1 L1411,406.7 L1421.5,378.5 L1433.3,479.4 L1441,366.8 L1445,524 L1448.5,467.7 L1452,517 L1461.4,533.4 L1468.4,533.4 L1477.8,524 L1484.9,526.3 L1491.9,514.6 L1497.8,423.1 L1504.7,526.3 L1510.6,521.6 L1516.4,526.3 L1521.1,505.2 L1525.8,526.3 L1530.5,573.3 L1535.2,608.4 L1546.9,609.6 L1664.2,610.3 L1683,607.3 L1704.1,603.8 L1713.5,608.4 L1734.6,609.6 L1851.9,610.5" fill="none" stroke="#a8a9aa" stroke-width="4.6" stroke-linejoin="round" stroke-linecap="round"/>
<path d="M1144.7,610.5 L1186.9,608.4 L1222.1,603.8 L1231.5,549.8 L1235.7,498.2 L1240.9,561.5 L1250.3,570.9 L1257.3,549.8 L1262,521.6 L1269,538.1 L1274.9,549.8 L1277.9,495.8 L1280.8,561.5 L1285.5,596.7 L1294.8,594.4 L1304.2,556.8 L1311.3,526.3 L1316,502.9 L1320.6,538.1 L1327.7,570.9 L1334.7,575.6 L1344.1,577.9 L1350,474.7 L1352.3,514.6 L1359.4,526.3 L1365.2,495.8 L1372.3,514.6 L1377,556.8 L1381.6,538.1 L1386.3,566.2 L1391,570.9 L1396.9,566.2 L1402.8,547.4 L1407.4,566.2 L1414.5,563.9 L1418,592 L1426.2,594.4 L1435.6,589.7 L1442.6,582.6 L1449.7,575.6 L1456.7,568.6 L1463.8,538.1 L1470.8,533.4 L1475.5,484.1 L1482.5,538.1 L1489.6,570.9 L1494.3,561.5 L1497.8,545.1 L1502.5,568.6 L1508.3,585 L1515.4,580.3 L1524.8,587.3 L1507,577.9 L1516.4,575.6 L1523.5,582.6 L1532.8,585 L1536.4,606.1 L1546.9,606.1 L1607.9,606.1 L1612.6,573.3 L1616.1,549.8 L1619.6,573.3 L1623.2,599.1 L1631.4,606.1 L1664.2,608.4 L1673.6,603.8 L1680.6,561.5 L1685.3,514.6 L1687.7,549.8 L1694.7,566.2 L1701.8,549.8 L1706.9,507.6 L1711.1,549.8 L1718.2,585 L1727.6,603.8 L1734.6,603.8 L1744,589.7 L1753.4,585 L1762.8,566.2 L1772.1,556.8 L1776.8,580.3 L1781.5,585 L1785,573.3 L1787.4,609.6" fill="none" stroke="#8db0e0" stroke-width="4.6" stroke-linejoin="round" stroke-linecap="round"/>
<path d="M1144.7,610.5 L1222.1,606.1 L1231.5,580.3 L1235,547.4 L1238.5,573.3 L1243.2,589.7 L1252.6,594.4 L1262,580.3 L1266.7,582.6 L1273.7,589.7 L1280.8,592 L1285.5,585 L1290.1,587.3 L1294.8,580.3 L1304.2,545.1 L1313.6,559.2 L1327.7,568.6 L1332.4,570.9 L1339.4,561.5 L1345.3,568.6 L1350,500.5 L1353.5,547.4 L1360.5,552.1 L1365.2,517 L1372.3,549.8 L1377,589.7 L1384,599.1 L1391,606.1 L1398.1,601.4 L1409.8,603.8 L1421.5,603.8 L1437.9,599.1 L1445,603.8 L1468.4,601.4 L1475.5,593.2 L1482.5,601.4 L1498.9,601.4 L1500,597.9 L1509.4,606.1 L1532.8,608.4 L1607.9,609.6 L1611.4,592 L1615.4,562.7 L1618.5,585 L1622,599.1 L1631.4,606.1 L1664.2,609.6 L1667.7,592 L1671.3,561.5 L1676,538.1 L1679.5,467.7 L1681.8,350.4 L1683.6,240.1 L1686.5,326.9 L1688.9,444.2 L1694.7,505.2 L1699.4,420.8 L1704.1,303.5 L1707.2,251.1 L1711.1,303.5 L1714.7,444.2 L1718.2,538.1 L1725.2,585 L1731.1,601.4 L1737,589.7 L1744,556.8 L1748.7,552.1 L1753.4,559.2 L1758.1,528.7 L1763.9,500.5 L1767.4,517 L1772.1,502.9 L1775.7,528.7 L1779.2,566.2 L1783.9,533.4 L1788.6,570.9 L1792.1,609.6" fill="none" stroke="#f28a2e" stroke-width="4.6" stroke-linejoin="round" stroke-linecap="round"/>
<path d="M1144.7,610.5 L1196.3,608 L1222.1,601.9 L1229.1,561.5 L1235.7,519.3 L1238.5,570.9 L1246.7,562.7 L1252.6,569.7 L1262,531 L1273.7,562.7 L1278.4,515.8 L1281.9,603.8 L1285.5,609.6 L1445,609.6 L1456.7,606.1 L1468.4,602.6 L1475.5,594.4 L1482.5,602.6 L1494.3,603.8 L1501.3,554.5 L1509.4,542.8 L1521.1,524 L1528.2,500.5 L1532.1,461.8 L1536.4,500.5 L1542.2,524 L1551.6,538.1 L1563.3,547.4 L1577.4,549.8 L1589.1,543.9 L1600.9,531 L1607.9,505.2 L1611.4,467.7 L1613.8,373.8 L1616,111.3 L1618.5,233.1 L1620.8,373.8 L1624.3,491.1 L1627.9,556.8 L1633.7,573.3 L1645.5,582.6 L1657.2,586.2 L1661.9,610.5 L1666.6,610.5 L1678.3,608.4 L1681.8,514.6 L1684.6,390.3 L1687.7,514.6 L1690,549.8 L1697.1,589.7 L1704.1,582.6 L1711.1,561.5 L1715.8,585 L1722.9,603.8 L1734.6,608.4 L1746.3,606.1 L1755.7,607.3 L1765.1,603.8 L1769.8,608.4 L1790.9,610.5" fill="none" stroke="#1f51a3" stroke-width="4.6" stroke-linejoin="round" stroke-linecap="round"/>
<line x1="1145" y1="612.5" x2="1155" y2="612.5" stroke="#252525" stroke-width="2.5"/>
<line x1="1874.5" y1="612.5" x2="1864.5" y2="612.5" stroke="#252525" stroke-width="2.5"/>
<line x1="1145" y1="546" x2="1150" y2="546" stroke="#252525" stroke-width="2.5"/>
<line x1="1874.5" y1="546" x2="1869.5" y2="546" stroke="#252525" stroke-width="2.5"/>
<line x1="1145" y1="479.5" x2="1155" y2="479.5" stroke="#252525" stroke-width="2.5"/>
<line x1="1874.5" y1="479.5" x2="1864.5" y2="479.5" stroke="#252525" stroke-width="2.5"/>
<line x1="1145" y1="413" x2="1150" y2="413" stroke="#252525" stroke-width="2.5"/>
<line x1="1874.5" y1="413" x2="1869.5" y2="413" stroke="#252525" stroke-width="2.5"/>
<line x1="1145" y1="346.5" x2="1155" y2="346.5" stroke="#252525" stroke-width="2.5"/>
<line x1="1874.5" y1="346.5" x2="1864.5" y2="346.5" stroke="#252525" stroke-width="2.5"/>
<line x1="1145" y1="280" x2="1150" y2="280" stroke="#252525" stroke-width="2.5"/>
<line x1="1874.5" y1="280" x2="1869.5" y2="280" stroke="#252525" stroke-width="2.5"/>
<line x1="1145" y1="213.5" x2="1155" y2="213.5" stroke="#252525" stroke-width="2.5"/>
<line x1="1874.5" y1="213.5" x2="1864.5" y2="213.5" stroke="#252525" stroke-width="2.5"/>
<line x1="1145" y1="147" x2="1150" y2="147" stroke="#252525" stroke-width="2.5"/>
<line x1="1874.5" y1="147" x2="1869.5" y2="147" stroke="#252525" stroke-width="2.5"/>
<line x1="1145" y1="80.5" x2="1155" y2="80.5" stroke="#252525" stroke-width="2.5"/>
<line x1="1874.5" y1="80.5" x2="1864.5" y2="80.5" stroke="#252525" stroke-width="2.5"/>
<line x1="1144.5" y1="80" x2="1144.5" y2="90" stroke="#252525" stroke-width="2.5"/>
<line x1="1144.5" y1="612.5" x2="1144.5" y2="602.5" stroke="#252525" stroke-width="2.5"/>
<line x1="1196.7" y1="80" x2="1196.7" y2="85" stroke="#252525" stroke-width="2.5"/>
<line x1="1196.7" y1="612.5" x2="1196.7" y2="607.5" stroke="#252525" stroke-width="2.5"/>
<line x1="1248.9" y1="80" x2="1248.9" y2="90" stroke="#252525" stroke-width="2.5"/>
<line x1="1248.9" y1="612.5" x2="1248.9" y2="602.5" stroke="#252525" stroke-width="2.5"/>
<line x1="1301.1" y1="80" x2="1301.1" y2="85" stroke="#252525" stroke-width="2.5"/>
<line x1="1301.1" y1="612.5" x2="1301.1" y2="607.5" stroke="#252525" stroke-width="2.5"/>
<line x1="1353.3" y1="80" x2="1353.3" y2="90" stroke="#252525" stroke-width="2.5"/>
<line x1="1353.3" y1="612.5" x2="1353.3" y2="602.5" stroke="#252525" stroke-width="2.5"/>
<line x1="1405.5" y1="80" x2="1405.5" y2="85" stroke="#252525" stroke-width="2.5"/>
<line x1="1405.5" y1="612.5" x2="1405.5" y2="607.5" stroke="#252525" stroke-width="2.5"/>
<line x1="1457.7" y1="80" x2="1457.7" y2="90" stroke="#252525" stroke-width="2.5"/>
<line x1="1457.7" y1="612.5" x2="1457.7" y2="602.5" stroke="#252525" stroke-width="2.5"/>
<line x1="1509.9" y1="80" x2="1509.9" y2="85" stroke="#252525" stroke-width="2.5"/>
<line x1="1509.9" y1="612.5" x2="1509.9" y2="607.5" stroke="#252525" stroke-width="2.5"/>
<line x1="1562.1" y1="80" x2="1562.1" y2="90" stroke="#252525" stroke-width="2.5"/>
<line x1="1562.1" y1="612.5" x2="1562.1" y2="602.5" stroke="#252525" stroke-width="2.5"/>
<line x1="1614.3" y1="80" x2="1614.3" y2="85" stroke="#252525" stroke-width="2.5"/>
<line x1="1614.3" y1="612.5" x2="1614.3" y2="607.5" stroke="#252525" stroke-width="2.5"/>
<line x1="1666.5" y1="80" x2="1666.5" y2="90" stroke="#252525" stroke-width="2.5"/>
<line x1="1666.5" y1="612.5" x2="1666.5" y2="602.5" stroke="#252525" stroke-width="2.5"/>
<line x1="1718.7" y1="80" x2="1718.7" y2="85" stroke="#252525" stroke-width="2.5"/>
<line x1="1718.7" y1="612.5" x2="1718.7" y2="607.5" stroke="#252525" stroke-width="2.5"/>
<line x1="1770.9" y1="80" x2="1770.9" y2="90" stroke="#252525" stroke-width="2.5"/>
<line x1="1770.9" y1="612.5" x2="1770.9" y2="602.5" stroke="#252525" stroke-width="2.5"/>
<line x1="1823.1" y1="80" x2="1823.1" y2="85" stroke="#252525" stroke-width="2.5"/>
<line x1="1823.1" y1="612.5" x2="1823.1" y2="607.5" stroke="#252525" stroke-width="2.5"/>
<line x1="1875.3" y1="80" x2="1875.3" y2="90" stroke="#252525" stroke-width="2.5"/>
<line x1="1875.3" y1="612.5" x2="1875.3" y2="602.5" stroke="#252525" stroke-width="2.5"/>
<rect x="1145" y="80" width="729.5" height="532.5" fill="none" stroke="#252525" stroke-width="3"/>
<text transform="translate(1135,626.5) scale(0.76,1)" style="font-family:'Liberation Sans',sans-serif;font-size:40px" text-anchor="end" stroke="#000" stroke-width="0.7">0</text>
<text transform="translate(1135,493.5) scale(0.76,1)" style="font-family:'Liberation Sans',sans-serif;font-size:40px" text-anchor="end" stroke="#000" stroke-width="0.7">2</text>
<text transform="translate(1135,362) scale(0.76,1)" style="font-family:'Liberation Sans',sans-serif;font-size:40px" text-anchor="end" stroke="#000" stroke-width="0.7">4</text>
<text transform="translate(1135,230) scale(0.76,1)" style="font-family:'Liberation Sans',sans-serif;font-size:40px" text-anchor="end" stroke="#000" stroke-width="0.7">6</text>
<text transform="translate(1135,99.5) scale(0.76,1)" style="font-family:'Liberation Sans',sans-serif;font-size:40px" text-anchor="end" stroke="#000" stroke-width="0.7">8</text>
<text transform="translate(1143,653) scale(0.75,1)" style="font-family:'Liberation Sans',sans-serif;font-size:40px" text-anchor="middle" stroke="#000" stroke-width="0.7">0</text>
<text transform="translate(1247.4,653) scale(0.75,1)" style="font-family:'Liberation Sans',sans-serif;font-size:40px" text-anchor="middle" stroke="#000" stroke-width="0.7">1</text>
<text transform="translate(1351.8,653) scale(0.75,1)" style="font-family:'Liberation Sans',sans-serif;font-size:40px" text-anchor="middle" stroke="#000" stroke-width="0.7">2</text>
<text transform="translate(1456.2,653) scale(0.75,1)" style="font-family:'Liberation Sans',sans-serif;font-size:40px" text-anchor="middle" stroke="#000" stroke-width="0.7">3</text>
<text transform="translate(1560.6,653) scale(0.75,1)" style="font-family:'Liberation Sans',sans-serif;font-size:40px" text-anchor="middle" stroke="#000" stroke-width="0.7">4</text>
<text transform="translate(1665,653) scale(0.75,1)" style="font-family:'Liberation Sans',sans-serif;font-size:40px" text-anchor="middle" stroke="#000" stroke-width="0.7">5</text>
<text transform="translate(1769.4,653) scale(0.75,1)" style="font-family:'Liberation Sans',sans-serif;font-size:40px" text-anchor="middle" stroke="#000" stroke-width="0.7">6</text>
<text transform="translate(1873.8,653) scale(0.75,1)" style="font-family:'Liberation Sans',sans-serif;font-size:40px" text-anchor="middle" stroke="#000" stroke-width="0.7">7</text>
<text transform="translate(1520,685) scale(0.8,1)" style="font-family:'Liberation Sans',sans-serif;font-size:40px" text-anchor="middle" stroke="#000" stroke-width="0.7">Frequency (THz)</text>
<text transform="translate(1090.2,535.3) rotate(-90) scale(0.847,1)" style="font-family:'Liberation Sans',sans-serif;font-size:38px" text-anchor="start" stroke="#000" stroke-width="0.7">Phonon density of states</text>
<text transform="translate(1045.5,94.5) scale(0.95,1)" style="font-family:'Liberation Sans',sans-serif;font-size:58px" text-anchor="start" stroke="#000" stroke-width="0.7">b</text>
<line x1="1716" y1="114.2" x2="1783" y2="114.2" stroke="#a8a8a8" stroke-width="5" stroke-linecap="round"/>
<line x1="1716" y1="152.7" x2="1783" y2="152.7" stroke="#8db0e0" stroke-width="5" stroke-linecap="round"/>
<line x1="1716" y1="193.7" x2="1783" y2="193.7" stroke="#1f51a3" stroke-width="5" stroke-linecap="round"/>
<line x1="1716" y1="233.7" x2="1783" y2="233.7" stroke="#f28a2e" stroke-width="5" stroke-linecap="round"/>
<text transform="translate(1791,130) scale(0.73,1)" style="font-family:'Liberation Sans',sans-serif;font-size:40px" text-anchor="start" stroke="#000" stroke-width="0.7">K</text>
<text transform="translate(1791,169) scale(0.745,1)" style="font-family:'Liberation Sans',sans-serif;font-size:40px" text-anchor="start" stroke="#000" stroke-width="0.7">Cu1</text>
<text transform="translate(1790,208) scale(0.745,1)" style="font-family:'Liberation Sans',sans-serif;font-size:40px" text-anchor="start" stroke="#000" stroke-width="0.7">Se1</text>
<text transform="translate(1790,241) scale(0.745,1)" style="font-family:'Liberation Sans',sans-serif;font-size:40px" text-anchor="start" stroke="#000" stroke-width="0.7">Se2</text>
<path d="M271.7,804.1 L274.2,783.7 L278.1,745.5 L280.6,730.2 L284.4,735.3 L288.3,745.5 L290.8,791.3 L294.6,809.1 L297.2,834.6 L297.4,860 L300.1,886.8 L306.8,892.2 L326.9,906.9 L333.6,920.3 L337.7,935.1 L347,937.8 L355.1,919 L361.8,917.7 L368.5,927 L376.5,944.5 L385.9,945.8 L392.6,932.4 L395.3,900.2 L400.7,889.5 L406,892.2 L408.7,913.6 L410.1,940.5 L418.1,945.8 L422.1,936.4 L431.5,932.4 L438.2,916.3 L443.6,937.8 L451.6,937.8 L459.7,947.2 L465,947.2 L470.4,940.5 L478.4,945.8 L483.8,929.7 L491.9,908.3 L499.9,913.6 L502.6,933.7 L507.9,953.9 L516.7,956.3 L523.4,930.8 L530.1,892 L532.8,889.3 L539.5,908 L547.5,933.5 L550.2,956.3 L556.9,944.2 L566.3,936.2 L573,940.2 L577,953.6 L582.4,976.4 L590.5,993.9 L595.8,1007.3 L601.2,983.1 L606.5,985.8 L611.9,993.9 L615.9,977.8 L621.3,960.3 L626.7,933.5 L634.7,934.9 L638.7,956.3 L644.1,983.1 L649.4,1000.6 L653.5,985.8 L657.5,975.1 L661.5,972.4 L665.5,1000.6 L666.9,1020.7 L673.6,1034.1 L680.3,1047.5 L684.3,1060.9 L691,1067.6 L697.7,1060.9 L703.1,1047.5 L704.4,1074.3 L708.1,1114.9 L715.8,1099.6 L725.9,1092 L741.2,1099.6 L748.9,1102.2 L759.1,1127.6 L764.1,1140.4 L771.8,1120 L779.4,1114.9 L787.1,1140.4 L794.7,1155.7 L802.4,1170.9 L807.4,1165.8 L811.3,1127.6 L815.1,1094.5 L822.7,1094.5 L829.1,1094.5 L830.9,1130.2 L830.4,1155.7 L825.3,1160.7 L815.1,1176 L810,1211.7 L803.6,1238.4 L797.3,1227 L789.6,1211.7 L782,1196.4 L774.3,1168.4 L766.7,1186.2 L756.5,1186.2 L743.8,1186.2 L733.6,1170.9 L720.8,1155.7 L713.2,1150.6 L708.1,1140.4 L704.4,1100.1 L697.7,1098.4 L684.3,1100.1 L670.9,1087.7 L664.2,1078.3 L657.5,1070.3 L652.1,1066.3 L646.8,1034.1 L641.4,1020.7 L634.7,980.5 L628,993.9 L622.6,1007.3 L617.3,1020.7 L611.9,1034.1 L603.9,1044.8 L597.2,1055.5 L590.5,1040.8 L583.7,1030.1 L571.7,1018 L567.7,1020.7 L566.3,1047.5 L558.3,1060.9 L550.2,1054.2 L540.8,1026 L536.8,1007.3 L531.5,972.4 L526.1,980.5 L520.7,1034.1 L515.4,1046.2 L510,1044.8 L514.6,1046.4 L507.9,1039.7 L499.9,1024.9 L497.2,1007.5 L489.2,1028.9 L481.1,1014.2 L474.4,1007.5 L467.7,1027.6 L458.3,1034.3 L447.6,1031.6 L438.2,1020.9 L434.2,994.1 L430.2,991.4 L424.8,1018.2 L414.1,1020.9 L406,1007.5 L400.7,980.7 L398,964.6 L395.3,974 L391.3,1000.8 L381.9,1019.6 L373.9,1007.5 L365.8,1012.9 L356.4,1007.5 L349.7,1000.8 L344.4,1027.6 L337.7,1011.5 L331,1004.8 L328.3,984.7 L326.9,953.9 L324.2,967.3 L320.2,984.7 L310.8,986 L301.5,975.3 L293.4,940.5 L285.4,886.8 L281.9,842.3 L274.2,844.8 L271.7,827 Z" fill="#000"/>
<g fill="#000"><circle cx="271.5" cy="804.3" r="2.3"/><circle cx="273.8" cy="801" r="2.3"/><circle cx="272.5" cy="798.6" r="2.3"/><circle cx="271.5" cy="795.4" r="2.3"/><circle cx="273.7" cy="793.6" r="2.3"/><circle cx="271.9" cy="788.7" r="2.3"/><circle cx="272.2" cy="787.8" r="2.3"/><circle cx="275" cy="781.8" r="2.3"/><circle cx="276.5" cy="782.6" r="2.3"/><circle cx="275.4" cy="778.3" r="2.3"/><circle cx="273.8" cy="772.9" r="2.3"/><circle cx="275.5" cy="770.2" r="2.3"/><circle cx="274.5" cy="768" r="2.3"/><circle cx="274.1" cy="765.9" r="2.3"/><circle cx="276.1" cy="764.5" r="2.3"/><circle cx="276.7" cy="760.7" r="2.3"/><circle cx="276.9" cy="757.9" r="2.3"/><circle cx="277" cy="753.4" r="2.3"/><circle cx="279.5" cy="753.3" r="2.3"/><circle cx="279.1" cy="749.2" r="2.3"/><circle cx="277.3" cy="744.4" r="2.3"/><circle cx="277.6" cy="741.2" r="2.3"/><circle cx="280" cy="740" r="2.3"/><circle cx="280.7" cy="737.4" r="2.3"/><circle cx="281.6" cy="736.7" r="2.3"/><circle cx="278.2" cy="731.6" r="2.3"/><circle cx="282.3" cy="730.1" r="2.3"/><circle cx="283.8" cy="731.5" r="2.3"/><circle cx="281.5" cy="734.1" r="2.3"/><circle cx="285.5" cy="734.4" r="2.3"/><circle cx="283.7" cy="737.2" r="2.3"/><circle cx="288.2" cy="741.4" r="2.3"/><circle cx="285.8" cy="741.9" r="2.3"/><circle cx="286.7" cy="743.7" r="2.3"/><circle cx="289.6" cy="747" r="2.3"/><circle cx="288.8" cy="751" r="2.3"/><circle cx="287.5" cy="755" r="2.3"/><circle cx="287.4" cy="757.5" r="2.3"/><circle cx="287.5" cy="759.5" r="2.3"/><circle cx="288.1" cy="761.7" r="2.3"/><circle cx="291.3" cy="766.7" r="2.3"/><circle cx="288.7" cy="769.9" r="2.3"/><circle cx="288.5" cy="770.8" r="2.3"/><circle cx="291.3" cy="774.7" r="2.3"/><circle cx="288.4" cy="778.9" r="2.3"/><circle cx="289" cy="778.9" r="2.3"/><circle cx="291.4" cy="782" r="2.3"/><circle cx="289.7" cy="783.9" r="2.3"/><circle cx="289" cy="788.8" r="2.3"/><circle cx="289.8" cy="791.7" r="2.3"/><circle cx="290.8" cy="793.7" r="2.3"/><circle cx="293.7" cy="796.3" r="2.3"/><circle cx="292.7" cy="800.4" r="2.3"/><circle cx="291.7" cy="800.1" r="2.3"/><circle cx="295.2" cy="805.3" r="2.3"/><circle cx="293.1" cy="805.4" r="2.3"/><circle cx="295.6" cy="810.9" r="2.3"/><circle cx="293.7" cy="813.8" r="2.3"/><circle cx="296.7" cy="815.2" r="2.3"/><circle cx="295.2" cy="816.1" r="2.3"/><circle cx="293.9" cy="822.3" r="2.3"/><circle cx="295" cy="824.1" r="2.3"/><circle cx="295.3" cy="827.4" r="2.3"/><circle cx="297" cy="828.1" r="2.3"/><circle cx="295.6" cy="832.7" r="2.3"/><circle cx="295.4" cy="833.5" r="2.3"/><circle cx="297.4" cy="838.9" r="2.3"/><circle cx="297.7" cy="839.4" r="2.3"/><circle cx="298.9" cy="841.9" r="2.3"/><circle cx="295.4" cy="845" r="2.3"/><circle cx="297.1" cy="847" r="2.3"/><circle cx="296" cy="851" r="2.3"/><circle cx="297.7" cy="852.9" r="2.3"/><circle cx="296.9" cy="858.7" r="2.3"/><circle cx="299.4" cy="860.6" r="2.3"/><circle cx="298.5" cy="863.3" r="2.3"/><circle cx="296.6" cy="864.1" r="2.3"/><circle cx="296.4" cy="870.6" r="2.3"/><circle cx="299.4" cy="873.8" r="2.3"/><circle cx="297" cy="875.4" r="2.3"/><circle cx="299.1" cy="878.8" r="2.3"/><circle cx="298.8" cy="882.9" r="2.3"/><circle cx="298.1" cy="884" r="2.3"/><circle cx="301.1" cy="888.4" r="2.3"/><circle cx="303.3" cy="889.4" r="2.3"/><circle cx="305.8" cy="892.1" r="2.3"/><circle cx="306.2" cy="892.9" r="2.3"/><circle cx="310.7" cy="895.3" r="2.3"/><circle cx="311" cy="896.6" r="2.3"/><circle cx="315" cy="897.4" r="2.3"/><circle cx="316.3" cy="898.3" r="2.3"/><circle cx="318.3" cy="900.8" r="2.3"/><circle cx="318.5" cy="902.6" r="2.3"/><circle cx="324.4" cy="905.2" r="2.3"/><circle cx="325.6" cy="904.8" r="2.3"/><circle cx="327.9" cy="907.3" r="2.3"/><circle cx="328" cy="911" r="2.3"/><circle cx="327.9" cy="913.3" r="2.3"/><circle cx="329.1" cy="915.4" r="2.3"/><circle cx="332.2" cy="916.6" r="2.3"/><circle cx="334.4" cy="920.3" r="2.3"/><circle cx="334.8" cy="924.5" r="2.3"/><circle cx="334" cy="923.3" r="2.3"/><circle cx="334.8" cy="928.4" r="2.3"/><circle cx="335.1" cy="928.8" r="2.3"/><circle cx="338.6" cy="933.3" r="2.3"/><circle cx="337.4" cy="936.7" r="2.3"/><circle cx="339.3" cy="936.4" r="2.3"/><circle cx="341.1" cy="936.2" r="2.3"/><circle cx="345.9" cy="938.8" r="2.3"/><circle cx="348.6" cy="937.3" r="2.3"/><circle cx="348.5" cy="934.4" r="2.3"/><circle cx="347.9" cy="932.4" r="2.3"/><circle cx="351.8" cy="931.1" r="2.3"/><circle cx="352.5" cy="928.8" r="2.3"/><circle cx="351.9" cy="923" r="2.3"/><circle cx="353.7" cy="920.8" r="2.3"/><circle cx="353.9" cy="918.7" r="2.3"/><circle cx="357.8" cy="918.5" r="2.3"/><circle cx="358.8" cy="919.5" r="2.3"/><circle cx="363.7" cy="917.5" r="2.3"/><circle cx="361.8" cy="918.1" r="2.3"/><circle cx="366.6" cy="920.5" r="2.3"/><circle cx="367.7" cy="925" r="2.3"/><circle cx="367.7" cy="928.2" r="2.3"/><circle cx="367.7" cy="928.1" r="2.3"/><circle cx="370.6" cy="930.1" r="2.3"/><circle cx="373.3" cy="933.5" r="2.3"/><circle cx="371.7" cy="935.2" r="2.3"/><circle cx="374.8" cy="939.3" r="2.3"/><circle cx="375.9" cy="942.6" r="2.3"/><circle cx="377.8" cy="946.3" r="2.3"/><circle cx="379.6" cy="943.6" r="2.3"/><circle cx="381.1" cy="943.9" r="2.3"/><circle cx="381.6" cy="945.4" r="2.3"/><circle cx="386.8" cy="944.5" r="2.3"/><circle cx="386.4" cy="942.5" r="2.3"/><circle cx="389.4" cy="940.5" r="2.3"/><circle cx="390.4" cy="938.8" r="2.3"/><circle cx="390.9" cy="936.3" r="2.3"/><circle cx="394.3" cy="930.8" r="2.3"/><circle cx="394.6" cy="930.4" r="2.3"/><circle cx="391.6" cy="926.4" r="2.3"/><circle cx="393.9" cy="925.3" r="2.3"/><circle cx="393.1" cy="921" r="2.3"/><circle cx="395.4" cy="919" r="2.3"/><circle cx="395.9" cy="914.7" r="2.3"/><circle cx="394.9" cy="910.7" r="2.3"/><circle cx="395.5" cy="910.3" r="2.3"/><circle cx="395.4" cy="906.9" r="2.3"/><circle cx="393.9" cy="904.8" r="2.3"/><circle cx="397.2" cy="902.1" r="2.3"/><circle cx="396.8" cy="898.7" r="2.3"/><circle cx="397.3" cy="896.5" r="2.3"/><circle cx="400.8" cy="891.6" r="2.3"/><circle cx="399" cy="889.3" r="2.3"/><circle cx="403.6" cy="891.9" r="2.3"/><circle cx="406" cy="890.3" r="2.3"/><circle cx="407.6" cy="893.1" r="2.3"/><circle cx="407.9" cy="896.2" r="2.3"/><circle cx="406.4" cy="901.4" r="2.3"/><circle cx="405.9" cy="901.5" r="2.3"/><circle cx="407.8" cy="906.5" r="2.3"/><circle cx="409.4" cy="909" r="2.3"/><circle cx="410.2" cy="910.9" r="2.3"/><circle cx="410.5" cy="912" r="2.3"/><circle cx="407.8" cy="916.7" r="2.3"/><circle cx="408.2" cy="920.5" r="2.3"/><circle cx="409.7" cy="922.7" r="2.3"/><circle cx="410.7" cy="925.8" r="2.3"/><circle cx="408.7" cy="928.1" r="2.3"/><circle cx="411" cy="933.1" r="2.3"/><circle cx="408.6" cy="935.9" r="2.3"/><circle cx="411.8" cy="937.6" r="2.3"/><circle cx="410.4" cy="939.3" r="2.3"/><circle cx="412.2" cy="941.8" r="2.3"/><circle cx="414.5" cy="941.2" r="2.3"/><circle cx="418" cy="944.5" r="2.3"/><circle cx="417.7" cy="947" r="2.3"/><circle cx="419.4" cy="943.4" r="2.3"/><circle cx="420.9" cy="939.4" r="2.3"/><circle cx="421.3" cy="938.4" r="2.3"/><circle cx="424" cy="938.1" r="2.3"/><circle cx="423.6" cy="935.3" r="2.3"/><circle cx="425.3" cy="934.2" r="2.3"/><circle cx="430.4" cy="935" r="2.3"/><circle cx="431.4" cy="931.7" r="2.3"/><circle cx="431.4" cy="930.2" r="2.3"/><circle cx="435.5" cy="925.6" r="2.3"/><circle cx="436" cy="922.5" r="2.3"/><circle cx="434.8" cy="920.6" r="2.3"/><circle cx="437.9" cy="918.3" r="2.3"/><circle cx="437.6" cy="916.8" r="2.3"/><circle cx="437.3" cy="919.9" r="2.3"/><circle cx="438.1" cy="921.7" r="2.3"/><circle cx="439.2" cy="923.2" r="2.3"/><circle cx="441" cy="926.8" r="2.3"/><circle cx="441.1" cy="929.4" r="2.3"/><circle cx="442.4" cy="931" r="2.3"/><circle cx="441.7" cy="935.6" r="2.3"/><circle cx="444.1" cy="937.9" r="2.3"/><circle cx="447.7" cy="938.2" r="2.3"/><circle cx="450.4" cy="936.7" r="2.3"/><circle cx="452.6" cy="939" r="2.3"/><circle cx="454.8" cy="938.9" r="2.3"/><circle cx="454.1" cy="943.2" r="2.3"/><circle cx="455.3" cy="945.4" r="2.3"/><circle cx="459.6" cy="943.8" r="2.3"/><circle cx="458.6" cy="948.1" r="2.3"/><circle cx="461.4" cy="945.5" r="2.3"/><circle cx="466.4" cy="946.8" r="2.3"/><circle cx="468" cy="943.4" r="2.3"/><circle cx="468.2" cy="943.4" r="2.3"/><circle cx="468.5" cy="939.3" r="2.3"/><circle cx="473.1" cy="943.4" r="2.3"/><circle cx="476.3" cy="941.6" r="2.3"/><circle cx="476.5" cy="945.5" r="2.3"/><circle cx="478.5" cy="946.6" r="2.3"/><circle cx="478.1" cy="941.4" r="2.3"/><circle cx="478.7" cy="938.6" r="2.3"/><circle cx="481.3" cy="937.8" r="2.3"/><circle cx="482.3" cy="933.7" r="2.3"/><circle cx="481.7" cy="931.2" r="2.3"/><circle cx="485.2" cy="931.7" r="2.3"/><circle cx="486.5" cy="925.4" r="2.3"/><circle cx="484.1" cy="926.2" r="2.3"/><circle cx="486.7" cy="922.7" r="2.3"/><circle cx="487.1" cy="918.9" r="2.3"/><circle cx="488.9" cy="916" r="2.3"/><circle cx="490.2" cy="911.7" r="2.3"/><circle cx="491.7" cy="912.3" r="2.3"/><circle cx="490.6" cy="908.1" r="2.3"/><circle cx="494.8" cy="909.2" r="2.3"/><circle cx="494.7" cy="909.6" r="2.3"/><circle cx="497.9" cy="910.4" r="2.3"/><circle cx="501.5" cy="914.8" r="2.3"/><circle cx="501.1" cy="917.9" r="2.3"/><circle cx="501.2" cy="919" r="2.3"/><circle cx="501.4" cy="922.3" r="2.3"/><circle cx="503.4" cy="926.3" r="2.3"/><circle cx="500.8" cy="929.6" r="2.3"/><circle cx="503.2" cy="932" r="2.3"/><circle cx="503.8" cy="933.4" r="2.3"/><circle cx="504.9" cy="938.1" r="2.3"/><circle cx="504.9" cy="940.6" r="2.3"/><circle cx="505.9" cy="942" r="2.3"/><circle cx="506.5" cy="943.5" r="2.3"/><circle cx="505.8" cy="948" r="2.3"/><circle cx="505.2" cy="950.4" r="2.3"/><circle cx="508.5" cy="954.4" r="2.3"/><circle cx="509.1" cy="956.3" r="2.3"/><circle cx="513" cy="954.4" r="2.3"/><circle cx="515.2" cy="956" r="2.3"/><circle cx="516.8" cy="955.9" r="2.3"/><circle cx="519.4" cy="954.1" r="2.3"/><circle cx="519" cy="951.7" r="2.3"/><circle cx="520.9" cy="945.9" r="2.3"/><circle cx="520.1" cy="945.9" r="2.3"/><circle cx="519.5" cy="941.8" r="2.3"/><circle cx="519.4" cy="938.1" r="2.3"/><circle cx="521.4" cy="934.9" r="2.3"/><circle cx="521.7" cy="935.3" r="2.3"/><circle cx="523.6" cy="930.9" r="2.3"/><circle cx="525.8" cy="928.3" r="2.3"/><circle cx="526.3" cy="925.8" r="2.3"/><circle cx="526.1" cy="920.8" r="2.3"/><circle cx="525.7" cy="920.8" r="2.3"/><circle cx="524" cy="918.7" r="2.3"/><circle cx="524.9" cy="914.1" r="2.3"/><circle cx="525.4" cy="911.4" r="2.3"/><circle cx="527.7" cy="906.9" r="2.3"/><circle cx="529.5" cy="905.5" r="2.3"/><circle cx="528.3" cy="903.5" r="2.3"/><circle cx="528.1" cy="899.4" r="2.3"/><circle cx="529.8" cy="897.8" r="2.3"/><circle cx="528.8" cy="895.6" r="2.3"/><circle cx="529.3" cy="890" r="2.3"/><circle cx="530.4" cy="888.8" r="2.3"/><circle cx="531.4" cy="890.3" r="2.3"/><circle cx="533.3" cy="893.5" r="2.3"/><circle cx="535.7" cy="892.8" r="2.3"/><circle cx="537.6" cy="899.1" r="2.3"/><circle cx="534.9" cy="901.6" r="2.3"/><circle cx="537.3" cy="902.6" r="2.3"/><circle cx="540.4" cy="904.3" r="2.3"/><circle cx="539.6" cy="909.8" r="2.3"/><circle cx="541.3" cy="910.7" r="2.3"/><circle cx="543.2" cy="915" r="2.3"/><circle cx="542.6" cy="915" r="2.3"/><circle cx="543.6" cy="919.2" r="2.3"/><circle cx="542.8" cy="920.4" r="2.3"/><circle cx="545" cy="923.5" r="2.3"/><circle cx="545.5" cy="928.5" r="2.3"/><circle cx="546.5" cy="929.7" r="2.3"/><circle cx="547.9" cy="933.2" r="2.3"/><circle cx="549" cy="936.5" r="2.3"/><circle cx="550.2" cy="941" r="2.3"/><circle cx="549.5" cy="941" r="2.3"/><circle cx="547.3" cy="946.5" r="2.3"/><circle cx="550.4" cy="948.3" r="2.3"/><circle cx="549" cy="949.7" r="2.3"/><circle cx="550.6" cy="953.7" r="2.3"/><circle cx="550.6" cy="956.8" r="2.3"/><circle cx="552.6" cy="952.7" r="2.3"/><circle cx="551.9" cy="953.4" r="2.3"/><circle cx="555.9" cy="950.6" r="2.3"/><circle cx="553.7" cy="944.9" r="2.3"/><circle cx="556" cy="943.9" r="2.3"/><circle cx="559.3" cy="941" r="2.3"/><circle cx="560.9" cy="939.3" r="2.3"/><circle cx="560.9" cy="940.1" r="2.3"/><circle cx="564.6" cy="938.3" r="2.3"/><circle cx="565.8" cy="936.1" r="2.3"/><circle cx="567.4" cy="936.9" r="2.3"/><circle cx="571.8" cy="940.2" r="2.3"/><circle cx="571.3" cy="938.7" r="2.3"/><circle cx="575.1" cy="943.4" r="2.3"/><circle cx="575.7" cy="944.4" r="2.3"/><circle cx="575.1" cy="947.3" r="2.3"/><circle cx="577.5" cy="950.4" r="2.3"/><circle cx="577.7" cy="955.6" r="2.3"/><circle cx="577" cy="956.7" r="2.3"/><circle cx="579.4" cy="961" r="2.3"/><circle cx="578.8" cy="961.7" r="2.3"/><circle cx="578.1" cy="966.5" r="2.3"/><circle cx="578.7" cy="966.2" r="2.3"/><circle cx="581.3" cy="970.7" r="2.3"/><circle cx="582.5" cy="972.8" r="2.3"/><circle cx="583.5" cy="974.7" r="2.3"/><circle cx="582.4" cy="979.6" r="2.3"/><circle cx="583" cy="980.6" r="2.3"/><circle cx="586.8" cy="984.7" r="2.3"/><circle cx="586.1" cy="985" r="2.3"/><circle cx="587.6" cy="989.8" r="2.3"/><circle cx="588.8" cy="989.8" r="2.3"/><circle cx="591.3" cy="994.1" r="2.3"/><circle cx="593.2" cy="998.3" r="2.3"/><circle cx="594.2" cy="999" r="2.3"/><circle cx="594.9" cy="1001.1" r="2.3"/><circle cx="594" cy="1004.2" r="2.3"/><circle cx="597.6" cy="1008.8" r="2.3"/><circle cx="595.4" cy="1004" r="2.3"/><circle cx="596.5" cy="1001.4" r="2.3"/><circle cx="597.2" cy="998.8" r="2.3"/><circle cx="597" cy="996.8" r="2.3"/><circle cx="600" cy="994" r="2.3"/><circle cx="600.7" cy="991.4" r="2.3"/><circle cx="598.7" cy="989.5" r="2.3"/><circle cx="602.1" cy="984.9" r="2.3"/><circle cx="599.3" cy="983.2" r="2.3"/><circle cx="604" cy="984.7" r="2.3"/><circle cx="608.4" cy="986.4" r="2.3"/><circle cx="609.1" cy="986.1" r="2.3"/><circle cx="609.4" cy="991" r="2.3"/><circle cx="608.9" cy="990.2" r="2.3"/><circle cx="612.9" cy="995.5" r="2.3"/><circle cx="610.9" cy="991.7" r="2.3"/><circle cx="611.8" cy="989.5" r="2.3"/><circle cx="614.5" cy="984.8" r="2.3"/><circle cx="613.5" cy="984.2" r="2.3"/><circle cx="615.3" cy="981.5" r="2.3"/><circle cx="615.5" cy="977.1" r="2.3"/><circle cx="618.6" cy="976" r="2.3"/><circle cx="617.4" cy="972.9" r="2.3"/><circle cx="619.1" cy="971.1" r="2.3"/><circle cx="620.7" cy="967.5" r="2.3"/><circle cx="621.1" cy="966" r="2.3"/><circle cx="621.9" cy="964.1" r="2.3"/><circle cx="622.6" cy="961.9" r="2.3"/><circle cx="623.7" cy="958.2" r="2.3"/><circle cx="622.5" cy="955.8" r="2.3"/><circle cx="624.1" cy="952" r="2.3"/><circle cx="623.1" cy="948.2" r="2.3"/><circle cx="624.9" cy="948.9" r="2.3"/><circle cx="624" cy="942.9" r="2.3"/><circle cx="623.9" cy="941.3" r="2.3"/><circle cx="624.7" cy="940.8" r="2.3"/><circle cx="624.4" cy="935.4" r="2.3"/><circle cx="625.1" cy="934.1" r="2.3"/><circle cx="630.4" cy="932.7" r="2.3"/><circle cx="630.3" cy="934.2" r="2.3"/><circle cx="635" cy="936.5" r="2.3"/><circle cx="633.3" cy="936" r="2.3"/><circle cx="634.4" cy="939.1" r="2.3"/><circle cx="635.1" cy="943.8" r="2.3"/><circle cx="637.1" cy="944.5" r="2.3"/><circle cx="636" cy="947.4" r="2.3"/><circle cx="636.4" cy="952" r="2.3"/><circle cx="637.5" cy="953.8" r="2.3"/><circle cx="640" cy="956.2" r="2.3"/><circle cx="638.3" cy="960.5" r="2.3"/><circle cx="641.5" cy="961" r="2.3"/><circle cx="640.5" cy="966.2" r="2.3"/><circle cx="640.8" cy="965.9" r="2.3"/><circle cx="639.6" cy="971.5" r="2.3"/><circle cx="643.1" cy="971.9" r="2.3"/><circle cx="642.6" cy="975.2" r="2.3"/><circle cx="642.1" cy="979.7" r="2.3"/><circle cx="644.2" cy="979.4" r="2.3"/><circle cx="642.1" cy="983" r="2.3"/><circle cx="644.3" cy="986.8" r="2.3"/><circle cx="646.5" cy="988.5" r="2.3"/><circle cx="645" cy="989.2" r="2.3"/><circle cx="646.4" cy="992.1" r="2.3"/><circle cx="649.4" cy="995.6" r="2.3"/><circle cx="649.2" cy="1000" r="2.3"/><circle cx="648.5" cy="1000.7" r="2.3"/><circle cx="648.7" cy="999.2" r="2.3"/><circle cx="648.8" cy="996.9" r="2.3"/><circle cx="652.8" cy="994.5" r="2.3"/><circle cx="650.5" cy="989.8" r="2.3"/><circle cx="653.7" cy="986.7" r="2.3"/><circle cx="653.4" cy="985.7" r="2.3"/><circle cx="656.3" cy="983.5" r="2.3"/><circle cx="656.9" cy="979.7" r="2.3"/><circle cx="657.6" cy="977.4" r="2.3"/><circle cx="659.2" cy="973.5" r="2.3"/><circle cx="660.8" cy="972.6" r="2.3"/><circle cx="661.7" cy="972.5" r="2.3"/><circle cx="660.5" cy="976.5" r="2.3"/><circle cx="661.6" cy="977.3" r="2.3"/><circle cx="661" cy="980.1" r="2.3"/><circle cx="663" cy="984.5" r="2.3"/><circle cx="663" cy="987.2" r="2.3"/><circle cx="662.4" cy="988.9" r="2.3"/><circle cx="664.2" cy="994" r="2.3"/><circle cx="666.1" cy="995.5" r="2.3"/><circle cx="663.2" cy="997.3" r="2.3"/><circle cx="666.4" cy="999.5" r="2.3"/><circle cx="666" cy="1003.3" r="2.3"/><circle cx="664" cy="1008.3" r="2.3"/><circle cx="667.3" cy="1008" r="2.3"/><circle cx="666.8" cy="1011.2" r="2.3"/><circle cx="666" cy="1015.1" r="2.3"/><circle cx="665.9" cy="1017.2" r="2.3"/><circle cx="666.4" cy="1021.3" r="2.3"/><circle cx="667.2" cy="1022.2" r="2.3"/><circle cx="670.5" cy="1025.4" r="2.3"/><circle cx="672.7" cy="1029" r="2.3"/><circle cx="673.1" cy="1030.7" r="2.3"/><circle cx="674.9" cy="1032.5" r="2.3"/><circle cx="673.5" cy="1035.1" r="2.3"/><circle cx="677" cy="1040.3" r="2.3"/><circle cx="676.3" cy="1041.7" r="2.3"/><circle cx="680.3" cy="1045.2" r="2.3"/><circle cx="678.6" cy="1046.4" r="2.3"/><circle cx="679.7" cy="1048.7" r="2.3"/><circle cx="681.5" cy="1051.1" r="2.3"/><circle cx="684.4" cy="1055.2" r="2.3"/><circle cx="683.6" cy="1058.8" r="2.3"/><circle cx="685.4" cy="1062.2" r="2.3"/><circle cx="685.5" cy="1061.9" r="2.3"/><circle cx="687.3" cy="1062.3" r="2.3"/><circle cx="688.9" cy="1066.7" r="2.3"/><circle cx="692.9" cy="1068.8" r="2.3"/><circle cx="693.3" cy="1066.4" r="2.3"/><circle cx="692.4" cy="1063.6" r="2.3"/><circle cx="695.4" cy="1063.2" r="2.3"/><circle cx="696.1" cy="1060.4" r="2.3"/><circle cx="698.8" cy="1059.4" r="2.3"/><circle cx="701.2" cy="1056" r="2.3"/><circle cx="699.6" cy="1053.9" r="2.3"/><circle cx="703.6" cy="1050.4" r="2.3"/><circle cx="702.5" cy="1047.5" r="2.3"/><circle cx="701.8" cy="1051.3" r="2.3"/><circle cx="705.3" cy="1053.5" r="2.3"/><circle cx="704.4" cy="1057.8" r="2.3"/><circle cx="702.5" cy="1061.2" r="2.3"/><circle cx="704.3" cy="1061.2" r="2.3"/><circle cx="702.3" cy="1064.3" r="2.3"/><circle cx="704.4" cy="1069.1" r="2.3"/><circle cx="703.6" cy="1073" r="2.3"/><circle cx="703.9" cy="1074.2" r="2.3"/><circle cx="703.2" cy="1079.1" r="2.3"/><circle cx="703.5" cy="1081.7" r="2.3"/><circle cx="705.4" cy="1083.3" r="2.3"/><circle cx="705.7" cy="1085" r="2.3"/><circle cx="707.4" cy="1090.8" r="2.3"/><circle cx="707.3" cy="1092.1" r="2.3"/><circle cx="704.8" cy="1095.9" r="2.3"/><circle cx="705.7" cy="1099.1" r="2.3"/><circle cx="705.8" cy="1100.7" r="2.3"/><circle cx="708.4" cy="1102" r="2.3"/><circle cx="707.5" cy="1104.5" r="2.3"/><circle cx="705.7" cy="1107.8" r="2.3"/><circle cx="709.8" cy="1113.8" r="2.3"/><circle cx="708.7" cy="1114.1" r="2.3"/><circle cx="710.1" cy="1113.3" r="2.3"/><circle cx="710.2" cy="1110.2" r="2.3"/><circle cx="713.1" cy="1105.3" r="2.3"/><circle cx="712" cy="1104.6" r="2.3"/><circle cx="713" cy="1101.7" r="2.3"/><circle cx="716" cy="1098.3" r="2.3"/><circle cx="717.9" cy="1097.1" r="2.3"/><circle cx="720.1" cy="1095.9" r="2.3"/><circle cx="722.4" cy="1093.2" r="2.3"/><circle cx="724.6" cy="1092.1" r="2.3"/><circle cx="727.8" cy="1092.4" r="2.3"/><circle cx="728.4" cy="1092.9" r="2.3"/><circle cx="731.5" cy="1095.3" r="2.3"/><circle cx="734.6" cy="1096.8" r="2.3"/><circle cx="736.1" cy="1099" r="2.3"/><circle cx="740" cy="1099.8" r="2.3"/><circle cx="740.9" cy="1099.4" r="2.3"/><circle cx="744" cy="1102.1" r="2.3"/><circle cx="746.4" cy="1101.4" r="2.3"/><circle cx="748.6" cy="1103.8" r="2.3"/><circle cx="749.2" cy="1102.9" r="2.3"/><circle cx="751.8" cy="1108.9" r="2.3"/><circle cx="752.8" cy="1110.2" r="2.3"/><circle cx="753.9" cy="1111.6" r="2.3"/><circle cx="754.3" cy="1113.2" r="2.3"/><circle cx="753.5" cy="1117.2" r="2.3"/><circle cx="756" cy="1119.6" r="2.3"/><circle cx="755.2" cy="1123.3" r="2.3"/><circle cx="758.1" cy="1124" r="2.3"/><circle cx="758.3" cy="1127.2" r="2.3"/><circle cx="759" cy="1128.5" r="2.3"/><circle cx="762.7" cy="1134.6" r="2.3"/><circle cx="762.8" cy="1136.7" r="2.3"/><circle cx="762.8" cy="1139" r="2.3"/><circle cx="763" cy="1141.4" r="2.3"/><circle cx="765.4" cy="1139.4" r="2.3"/><circle cx="764.5" cy="1136.4" r="2.3"/><circle cx="765.5" cy="1132.9" r="2.3"/><circle cx="769.8" cy="1128.2" r="2.3"/><circle cx="767.9" cy="1126.8" r="2.3"/><circle cx="769.2" cy="1123.3" r="2.3"/><circle cx="772.4" cy="1123.8" r="2.3"/><circle cx="771.4" cy="1119.4" r="2.3"/><circle cx="774" cy="1116.9" r="2.3"/><circle cx="773.7" cy="1119" r="2.3"/><circle cx="776.8" cy="1116.2" r="2.3"/><circle cx="781.2" cy="1116.8" r="2.3"/><circle cx="780.2" cy="1116.6" r="2.3"/><circle cx="780.3" cy="1122.3" r="2.3"/><circle cx="783.6" cy="1122.2" r="2.3"/><circle cx="784.2" cy="1125.6" r="2.3"/><circle cx="783.6" cy="1127.7" r="2.3"/><circle cx="786" cy="1133.9" r="2.3"/><circle cx="784.2" cy="1135.2" r="2.3"/><circle cx="785" cy="1139.1" r="2.3"/><circle cx="785.3" cy="1138.8" r="2.3"/><circle cx="789.2" cy="1142.2" r="2.3"/><circle cx="791.2" cy="1146.9" r="2.3"/><circle cx="791.7" cy="1146.6" r="2.3"/><circle cx="792.9" cy="1152.3" r="2.3"/><circle cx="793.2" cy="1151.4" r="2.3"/><circle cx="793.6" cy="1154.9" r="2.3"/><circle cx="796.8" cy="1157" r="2.3"/><circle cx="796" cy="1159.7" r="2.3"/><circle cx="799.2" cy="1164.5" r="2.3"/><circle cx="799.3" cy="1166.5" r="2.3"/><circle cx="802.6" cy="1168.7" r="2.3"/><circle cx="801.3" cy="1170.1" r="2.3"/><circle cx="805.8" cy="1169.9" r="2.3"/><circle cx="804.9" cy="1168.1" r="2.3"/><circle cx="805.8" cy="1167.8" r="2.3"/><circle cx="807.5" cy="1163" r="2.3"/><circle cx="808.2" cy="1158.1" r="2.3"/><circle cx="808.7" cy="1156.2" r="2.3"/><circle cx="807.6" cy="1155.3" r="2.3"/><circle cx="807.3" cy="1150.3" r="2.3"/><circle cx="810.2" cy="1147.2" r="2.3"/><circle cx="808.6" cy="1145.5" r="2.3"/><circle cx="808.5" cy="1143.9" r="2.3"/><circle cx="812" cy="1137.5" r="2.3"/><circle cx="810.2" cy="1137.5" r="2.3"/><circle cx="810.2" cy="1135.2" r="2.3"/><circle cx="811" cy="1129.3" r="2.3"/><circle cx="811.5" cy="1128.2" r="2.3"/><circle cx="811" cy="1125.5" r="2.3"/><circle cx="813" cy="1122.2" r="2.3"/><circle cx="812.2" cy="1120.7" r="2.3"/><circle cx="813.3" cy="1116.7" r="2.3"/><circle cx="814.7" cy="1112.5" r="2.3"/><circle cx="814.3" cy="1109.7" r="2.3"/><circle cx="813.9" cy="1107.3" r="2.3"/><circle cx="813.6" cy="1106.7" r="2.3"/><circle cx="815.3" cy="1104" r="2.3"/><circle cx="813.4" cy="1100" r="2.3"/><circle cx="813.7" cy="1097.6" r="2.3"/><circle cx="815.1" cy="1092.7" r="2.3"/><circle cx="818" cy="1095.4" r="2.3"/><circle cx="820.5" cy="1096" r="2.3"/><circle cx="821.5" cy="1093.1" r="2.3"/><circle cx="822.9" cy="1094.5" r="2.3"/><circle cx="826.7" cy="1094.3" r="2.3"/><circle cx="828.2" cy="1095.7" r="2.3"/><circle cx="827.5" cy="1099.1" r="2.3"/><circle cx="829.7" cy="1100.6" r="2.3"/><circle cx="830.7" cy="1102.4" r="2.3"/><circle cx="828.3" cy="1105.7" r="2.3"/><circle cx="828" cy="1108.6" r="2.3"/><circle cx="830.5" cy="1112.5" r="2.3"/><circle cx="829.2" cy="1115.7" r="2.3"/><circle cx="828.6" cy="1119.6" r="2.3"/><circle cx="829.1" cy="1120.3" r="2.3"/><circle cx="829.2" cy="1125" r="2.3"/><circle cx="832.1" cy="1128.4" r="2.3"/><circle cx="829.1" cy="1129.8" r="2.3"/><circle cx="830.3" cy="1131.9" r="2.3"/><circle cx="832.7" cy="1134" r="2.3"/><circle cx="830.7" cy="1139.7" r="2.3"/><circle cx="832.6" cy="1140.1" r="2.3"/><circle cx="830.4" cy="1145.3" r="2.3"/><circle cx="828.7" cy="1146.1" r="2.3"/><circle cx="832" cy="1148.6" r="2.3"/><circle cx="830" cy="1152" r="2.3"/><circle cx="830.1" cy="1154" r="2.3"/><circle cx="826.8" cy="1159.3" r="2.3"/><circle cx="828" cy="1160" r="2.3"/><circle cx="824.2" cy="1159.8" r="2.3"/><circle cx="824" cy="1161.9" r="2.3"/><circle cx="822.2" cy="1166.8" r="2.3"/><circle cx="820.4" cy="1166.6" r="2.3"/><circle cx="821.4" cy="1169.9" r="2.3"/><circle cx="816.2" cy="1171.3" r="2.3"/><circle cx="817.1" cy="1172.1" r="2.3"/><circle cx="814.5" cy="1176.8" r="2.3"/><circle cx="816.2" cy="1179.1" r="2.3"/><circle cx="815.9" cy="1181.4" r="2.3"/><circle cx="813.5" cy="1185.6" r="2.3"/><circle cx="813" cy="1188.1" r="2.3"/><circle cx="812" cy="1189.1" r="2.3"/><circle cx="811.5" cy="1192.7" r="2.3"/><circle cx="811" cy="1194" r="2.3"/><circle cx="810.8" cy="1197.8" r="2.3"/><circle cx="810.8" cy="1200.5" r="2.3"/><circle cx="813.1" cy="1204.2" r="2.3"/><circle cx="812.2" cy="1205" r="2.3"/><circle cx="809.9" cy="1207.2" r="2.3"/><circle cx="810.8" cy="1211.1" r="2.3"/><circle cx="808.5" cy="1212.4" r="2.3"/><circle cx="807.4" cy="1216.1" r="2.3"/><circle cx="807.7" cy="1221.4" r="2.3"/><circle cx="808.3" cy="1221.5" r="2.3"/><circle cx="806.3" cy="1223.7" r="2.3"/><circle cx="807.9" cy="1227.2" r="2.3"/><circle cx="806.6" cy="1231.3" r="2.3"/><circle cx="806.5" cy="1231.2" r="2.3"/><circle cx="803.6" cy="1235.3" r="2.3"/><circle cx="802" cy="1240" r="2.3"/><circle cx="801.7" cy="1237.2" r="2.3"/><circle cx="801.2" cy="1232.1" r="2.3"/><circle cx="799.4" cy="1230.5" r="2.3"/><circle cx="796.7" cy="1227.9" r="2.3"/><circle cx="797.6" cy="1225.1" r="2.3"/><circle cx="795.2" cy="1224.1" r="2.3"/><circle cx="794.9" cy="1220.4" r="2.3"/><circle cx="794.3" cy="1218.4" r="2.3"/><circle cx="793.1" cy="1217.5" r="2.3"/><circle cx="789.5" cy="1213.1" r="2.3"/><circle cx="788.7" cy="1212.5" r="2.3"/><circle cx="788" cy="1208.7" r="2.3"/><circle cx="788.5" cy="1205.5" r="2.3"/><circle cx="785" cy="1203.4" r="2.3"/><circle cx="783.4" cy="1199.7" r="2.3"/><circle cx="781.3" cy="1199.5" r="2.3"/><circle cx="782.2" cy="1197.6" r="2.3"/><circle cx="783.1" cy="1192.8" r="2.3"/><circle cx="781.1" cy="1192.5" r="2.3"/><circle cx="778.5" cy="1188.8" r="2.3"/><circle cx="779.6" cy="1187" r="2.3"/><circle cx="779.6" cy="1181.3" r="2.3"/><circle cx="777.9" cy="1178" r="2.3"/><circle cx="776.3" cy="1176.4" r="2.3"/><circle cx="774.1" cy="1173.5" r="2.3"/><circle cx="774.4" cy="1171.2" r="2.3"/><circle cx="773.5" cy="1167" r="2.3"/><circle cx="772.9" cy="1170.8" r="2.3"/><circle cx="770.8" cy="1174.1" r="2.3"/><circle cx="770" cy="1174.4" r="2.3"/><circle cx="769.3" cy="1178.3" r="2.3"/><circle cx="767.5" cy="1181.5" r="2.3"/><circle cx="768.6" cy="1183.9" r="2.3"/><circle cx="767.5" cy="1184.3" r="2.3"/><circle cx="763.7" cy="1185.7" r="2.3"/><circle cx="759.9" cy="1185.8" r="2.3"/><circle cx="757.3" cy="1186.2" r="2.3"/><circle cx="756.8" cy="1186.1" r="2.3"/><circle cx="753.3" cy="1185.2" r="2.3"/><circle cx="749.5" cy="1185.6" r="2.3"/><circle cx="750.4" cy="1186.5" r="2.3"/><circle cx="745.4" cy="1186.9" r="2.3"/><circle cx="742.5" cy="1186.1" r="2.3"/><circle cx="742.8" cy="1185.9" r="2.3"/><circle cx="740.3" cy="1182.2" r="2.3"/><circle cx="741.2" cy="1180.8" r="2.3"/><circle cx="738.5" cy="1178" r="2.3"/><circle cx="736.1" cy="1175" r="2.3"/><circle cx="734.1" cy="1174.4" r="2.3"/><circle cx="735.1" cy="1170.5" r="2.3"/><circle cx="733.4" cy="1166.9" r="2.3"/><circle cx="728.5" cy="1166.6" r="2.3"/><circle cx="727.4" cy="1163.8" r="2.3"/><circle cx="728.2" cy="1160.8" r="2.3"/><circle cx="723.3" cy="1158.9" r="2.3"/><circle cx="723.4" cy="1156.8" r="2.3"/><circle cx="718.8" cy="1155.8" r="2.3"/><circle cx="718.5" cy="1153.3" r="2.3"/><circle cx="717" cy="1153.7" r="2.3"/><circle cx="715.3" cy="1152.3" r="2.3"/><circle cx="713.4" cy="1151.9" r="2.3"/><circle cx="713.8" cy="1147.3" r="2.3"/><circle cx="710" cy="1147" r="2.3"/><circle cx="708.6" cy="1143.8" r="2.3"/><circle cx="708.9" cy="1141.1" r="2.3"/><circle cx="709.7" cy="1138.8" r="2.3"/><circle cx="706.2" cy="1135.1" r="2.3"/><circle cx="707.3" cy="1132" r="2.3"/><circle cx="706.5" cy="1128" r="2.3"/><circle cx="707.8" cy="1126.1" r="2.3"/><circle cx="705.5" cy="1122.1" r="2.3"/><circle cx="705.6" cy="1118.9" r="2.3"/><circle cx="706.1" cy="1115.8" r="2.3"/><circle cx="704" cy="1112.7" r="2.3"/><circle cx="703.9" cy="1112.4" r="2.3"/><circle cx="703.7" cy="1108.5" r="2.3"/><circle cx="706" cy="1105.7" r="2.3"/><circle cx="703.3" cy="1104.4" r="2.3"/><circle cx="705.9" cy="1098.3" r="2.3"/><circle cx="701.2" cy="1099.5" r="2.3"/><circle cx="701.1" cy="1098.6" r="2.3"/><circle cx="698.6" cy="1097.5" r="2.3"/><circle cx="695.9" cy="1098.1" r="2.3"/><circle cx="691.7" cy="1100.1" r="2.3"/><circle cx="691" cy="1100.7" r="2.3"/><circle cx="687.3" cy="1099.4" r="2.3"/><circle cx="685.1" cy="1100.5" r="2.3"/><circle cx="683.7" cy="1099.5" r="2.3"/><circle cx="679" cy="1096" r="2.3"/><circle cx="679.2" cy="1093.7" r="2.3"/><circle cx="675.4" cy="1091.1" r="2.3"/><circle cx="675.1" cy="1093" r="2.3"/><circle cx="674.7" cy="1088" r="2.3"/><circle cx="671.7" cy="1087.4" r="2.3"/><circle cx="669.8" cy="1085" r="2.3"/><circle cx="669.3" cy="1085" r="2.3"/><circle cx="664.1" cy="1081.5" r="2.3"/><circle cx="662.7" cy="1076.5" r="2.3"/><circle cx="661.7" cy="1077.2" r="2.3"/><circle cx="662.8" cy="1072.8" r="2.3"/><circle cx="658.5" cy="1070.4" r="2.3"/><circle cx="657.7" cy="1070.2" r="2.3"/><circle cx="655.2" cy="1068.2" r="2.3"/><circle cx="655.1" cy="1069" r="2.3"/><circle cx="651.3" cy="1065.8" r="2.3"/><circle cx="652.1" cy="1064.4" r="2.3"/><circle cx="653.1" cy="1060" r="2.3"/><circle cx="651.4" cy="1057.7" r="2.3"/><circle cx="651.4" cy="1053.2" r="2.3"/><circle cx="648.4" cy="1050.1" r="2.3"/><circle cx="650.9" cy="1047.7" r="2.3"/><circle cx="648.7" cy="1044.3" r="2.3"/><circle cx="647.5" cy="1040.9" r="2.3"/><circle cx="648" cy="1038.5" r="2.3"/><circle cx="647.8" cy="1036.1" r="2.3"/><circle cx="645.7" cy="1034" r="2.3"/><circle cx="645.2" cy="1030.4" r="2.3"/><circle cx="642.8" cy="1027" r="2.3"/><circle cx="645.1" cy="1025.3" r="2.3"/><circle cx="640.8" cy="1022.1" r="2.3"/><circle cx="641.3" cy="1022.7" r="2.3"/><circle cx="639.7" cy="1019.3" r="2.3"/><circle cx="640.4" cy="1014.6" r="2.3"/><circle cx="641.2" cy="1011.6" r="2.3"/><circle cx="637.7" cy="1009.4" r="2.3"/><circle cx="639.6" cy="1006.8" r="2.3"/><circle cx="637.6" cy="1005.2" r="2.3"/><circle cx="639.5" cy="1002.5" r="2.3"/><circle cx="637.3" cy="999" r="2.3"/><circle cx="638" cy="993.5" r="2.3"/><circle cx="634.7" cy="990.6" r="2.3"/><circle cx="634.6" cy="987.4" r="2.3"/><circle cx="635.1" cy="987.2" r="2.3"/><circle cx="634.4" cy="983.4" r="2.3"/><circle cx="632.7" cy="979.3" r="2.3"/><circle cx="635.2" cy="981.2" r="2.3"/><circle cx="632.1" cy="987.1" r="2.3"/><circle cx="631.8" cy="989.4" r="2.3"/><circle cx="628.9" cy="992.4" r="2.3"/><circle cx="629.3" cy="994.9" r="2.3"/><circle cx="628.9" cy="994.9" r="2.3"/><circle cx="627.7" cy="998.8" r="2.3"/><circle cx="625.6" cy="1000.9" r="2.3"/><circle cx="625.3" cy="1002.7" r="2.3"/><circle cx="622.9" cy="1006.2" r="2.3"/><circle cx="621.1" cy="1009.4" r="2.3"/><circle cx="621.1" cy="1013.9" r="2.3"/><circle cx="618.9" cy="1015.9" r="2.3"/><circle cx="617.8" cy="1017.1" r="2.3"/><circle cx="618.9" cy="1020" r="2.3"/><circle cx="614.6" cy="1022.7" r="2.3"/><circle cx="616.1" cy="1024.9" r="2.3"/><circle cx="615" cy="1028.9" r="2.3"/><circle cx="613.7" cy="1030.1" r="2.3"/><circle cx="610.3" cy="1032.7" r="2.3"/><circle cx="609.7" cy="1036" r="2.3"/><circle cx="606.7" cy="1038.4" r="2.3"/><circle cx="606.7" cy="1039.8" r="2.3"/><circle cx="605.6" cy="1044.5" r="2.3"/><circle cx="602.7" cy="1046.3" r="2.3"/><circle cx="601.8" cy="1048" r="2.3"/><circle cx="599.6" cy="1051.1" r="2.3"/><circle cx="599.6" cy="1053.1" r="2.3"/><circle cx="597.4" cy="1053" r="2.3"/><circle cx="598" cy="1054.2" r="2.3"/><circle cx="595.1" cy="1053.8" r="2.3"/><circle cx="596.7" cy="1049.9" r="2.3"/><circle cx="592.5" cy="1047.6" r="2.3"/><circle cx="594.6" cy="1044.3" r="2.3"/><circle cx="592.1" cy="1042.8" r="2.3"/><circle cx="591" cy="1039.6" r="2.3"/><circle cx="589.6" cy="1040.2" r="2.3"/><circle cx="589.2" cy="1037" r="2.3"/><circle cx="586.4" cy="1034.6" r="2.3"/><circle cx="583.5" cy="1033.6" r="2.3"/><circle cx="584.5" cy="1029.9" r="2.3"/><circle cx="582.4" cy="1027.7" r="2.3"/><circle cx="579.3" cy="1025" r="2.3"/><circle cx="578.1" cy="1024.3" r="2.3"/><circle cx="575.8" cy="1020.1" r="2.3"/><circle cx="574.2" cy="1019.8" r="2.3"/><circle cx="572.1" cy="1018.4" r="2.3"/><circle cx="571.4" cy="1017.9" r="2.3"/><circle cx="567.5" cy="1022.6" r="2.3"/><circle cx="568.5" cy="1022.9" r="2.3"/><circle cx="568.3" cy="1028.6" r="2.3"/><circle cx="566.8" cy="1031.1" r="2.3"/><circle cx="565.6" cy="1034.6" r="2.3"/><circle cx="566.9" cy="1034.5" r="2.3"/><circle cx="568.1" cy="1039.2" r="2.3"/><circle cx="568.4" cy="1042.9" r="2.3"/><circle cx="567.7" cy="1044.6" r="2.3"/><circle cx="568.3" cy="1045.8" r="2.3"/><circle cx="566.5" cy="1050.6" r="2.3"/><circle cx="562.6" cy="1053.2" r="2.3"/><circle cx="562.1" cy="1054.3" r="2.3"/><circle cx="562.4" cy="1055.2" r="2.3"/><circle cx="558.7" cy="1059.2" r="2.3"/><circle cx="556.6" cy="1061.1" r="2.3"/><circle cx="557.4" cy="1059.2" r="2.3"/><circle cx="553.2" cy="1058.7" r="2.3"/><circle cx="553.7" cy="1057" r="2.3"/><circle cx="550.4" cy="1055.8" r="2.3"/><circle cx="550.5" cy="1050" r="2.3"/><circle cx="547.8" cy="1047" r="2.3"/><circle cx="545.6" cy="1045.1" r="2.3"/><circle cx="547.9" cy="1044.3" r="2.3"/><circle cx="544" cy="1038.8" r="2.3"/><circle cx="544.1" cy="1038.7" r="2.3"/><circle cx="544.1" cy="1036.1" r="2.3"/><circle cx="541" cy="1033.6" r="2.3"/><circle cx="540.6" cy="1029.4" r="2.3"/><circle cx="542.3" cy="1026.9" r="2.3"/><circle cx="539.1" cy="1024" r="2.3"/><circle cx="539.4" cy="1018.7" r="2.3"/><circle cx="538.5" cy="1017.3" r="2.3"/><circle cx="539.1" cy="1014.4" r="2.3"/><circle cx="538.4" cy="1013.4" r="2.3"/><circle cx="536.1" cy="1008.5" r="2.3"/><circle cx="537.6" cy="1007.1" r="2.3"/><circle cx="534.9" cy="1002.8" r="2.3"/><circle cx="537.7" cy="1001.9" r="2.3"/><circle cx="534.9" cy="997.3" r="2.3"/><circle cx="537" cy="996.4" r="2.3"/><circle cx="535.5" cy="992.2" r="2.3"/><circle cx="533.4" cy="989.5" r="2.3"/><circle cx="532.3" cy="987.5" r="2.3"/><circle cx="532.9" cy="985.3" r="2.3"/><circle cx="532.4" cy="980.9" r="2.3"/><circle cx="532.4" cy="980" r="2.3"/><circle cx="531.3" cy="976.1" r="2.3"/><circle cx="530.4" cy="972.7" r="2.3"/><circle cx="529.3" cy="975.9" r="2.3"/><circle cx="527.9" cy="977.8" r="2.3"/><circle cx="528.1" cy="978.3" r="2.3"/><circle cx="527.8" cy="980" r="2.3"/><circle cx="526.8" cy="983.8" r="2.3"/><circle cx="525.3" cy="984.7" r="2.3"/><circle cx="524.9" cy="988.5" r="2.3"/><circle cx="524.7" cy="994.2" r="2.3"/><circle cx="523.8" cy="996.1" r="2.3"/><circle cx="525" cy="997.3" r="2.3"/><circle cx="523.7" cy="999.8" r="2.3"/><circle cx="525.3" cy="1003.3" r="2.3"/><circle cx="523.1" cy="1006.6" r="2.3"/><circle cx="524.4" cy="1011.6" r="2.3"/><circle cx="523.2" cy="1013.4" r="2.3"/><circle cx="520.9" cy="1017.8" r="2.3"/><circle cx="520.6" cy="1018.6" r="2.3"/><circle cx="521.4" cy="1023.1" r="2.3"/><circle cx="522.3" cy="1024.5" r="2.3"/><circle cx="522.9" cy="1029.9" r="2.3"/><circle cx="519.1" cy="1031.6" r="2.3"/><circle cx="520.6" cy="1033.5" r="2.3"/><circle cx="519.5" cy="1035.8" r="2.3"/><circle cx="519.3" cy="1039.3" r="2.3"/><circle cx="519.4" cy="1043.2" r="2.3"/><circle cx="518.4" cy="1043.3" r="2.3"/><circle cx="516.7" cy="1046.8" r="2.3"/><circle cx="513.5" cy="1047.5" r="2.3"/><circle cx="508.3" cy="1044.7" r="2.3"/><circle cx="511.9" cy="1046.2" r="2.3"/><circle cx="513.5" cy="1048.3" r="2.3"/><circle cx="511.8" cy="1044.2" r="2.3"/><circle cx="509.9" cy="1042.6" r="2.3"/><circle cx="510.6" cy="1039.7" r="2.3"/><circle cx="506.6" cy="1040.3" r="2.3"/><circle cx="507.1" cy="1038.2" r="2.3"/><circle cx="504.3" cy="1036" r="2.3"/><circle cx="504.8" cy="1033.4" r="2.3"/><circle cx="501.1" cy="1029.7" r="2.3"/><circle cx="499.3" cy="1028.8" r="2.3"/><circle cx="501.7" cy="1026.5" r="2.3"/><circle cx="497.5" cy="1021.4" r="2.3"/><circle cx="499.1" cy="1019.2" r="2.3"/><circle cx="497" cy="1017.4" r="2.3"/><circle cx="497.3" cy="1013.3" r="2.3"/><circle cx="496.2" cy="1010.7" r="2.3"/><circle cx="495.7" cy="1005.8" r="2.3"/><circle cx="496.3" cy="1009.4" r="2.3"/><circle cx="496.3" cy="1011.8" r="2.3"/><circle cx="493.9" cy="1013.8" r="2.3"/><circle cx="492.1" cy="1018" r="2.3"/><circle cx="492.4" cy="1020.7" r="2.3"/><circle cx="492.6" cy="1022" r="2.3"/><circle cx="491.6" cy="1024.9" r="2.3"/><circle cx="491.1" cy="1029" r="2.3"/><circle cx="487.5" cy="1026.9" r="2.3"/><circle cx="487.9" cy="1025.9" r="2.3"/><circle cx="484.8" cy="1019.6" r="2.3"/><circle cx="482.4" cy="1020.4" r="2.3"/><circle cx="483.4" cy="1017.5" r="2.3"/><circle cx="479.8" cy="1014.3" r="2.3"/><circle cx="477.6" cy="1011" r="2.3"/><circle cx="477" cy="1012.7" r="2.3"/><circle cx="476.7" cy="1010.6" r="2.3"/><circle cx="472.6" cy="1007.2" r="2.3"/><circle cx="471.9" cy="1009.1" r="2.3"/><circle cx="471.2" cy="1014.2" r="2.3"/><circle cx="471.2" cy="1015" r="2.3"/><circle cx="471.7" cy="1019.1" r="2.3"/><circle cx="472" cy="1020.3" r="2.3"/><circle cx="469.4" cy="1024.2" r="2.3"/><circle cx="468.1" cy="1024.3" r="2.3"/><circle cx="468.7" cy="1026.6" r="2.3"/><circle cx="464.8" cy="1029" r="2.3"/><circle cx="462.9" cy="1030.4" r="2.3"/><circle cx="460.4" cy="1032.4" r="2.3"/><circle cx="456.5" cy="1035.7" r="2.3"/><circle cx="453.9" cy="1033.8" r="2.3"/><circle cx="453.2" cy="1032.6" r="2.3"/><circle cx="449.2" cy="1030.7" r="2.3"/><circle cx="447.1" cy="1030.9" r="2.3"/><circle cx="445.7" cy="1028.4" r="2.3"/><circle cx="444.8" cy="1027.3" r="2.3"/><circle cx="440" cy="1024.8" r="2.3"/><circle cx="442" cy="1021.1" r="2.3"/><circle cx="438.6" cy="1022.7" r="2.3"/><circle cx="437.3" cy="1018.6" r="2.3"/><circle cx="436.9" cy="1014.7" r="2.3"/><circle cx="437.4" cy="1013.2" r="2.3"/><circle cx="435.9" cy="1010.2" r="2.3"/><circle cx="436.3" cy="1008.5" r="2.3"/><circle cx="434" cy="1003.2" r="2.3"/><circle cx="434.4" cy="1001.2" r="2.3"/><circle cx="436.2" cy="999.1" r="2.3"/><circle cx="436" cy="996.4" r="2.3"/><circle cx="433.3" cy="994.8" r="2.3"/><circle cx="430.5" cy="994.7" r="2.3"/><circle cx="431.5" cy="990.7" r="2.3"/><circle cx="428.9" cy="995.4" r="2.3"/><circle cx="430.3" cy="997.3" r="2.3"/><circle cx="426.8" cy="1000.5" r="2.3"/><circle cx="426.2" cy="1002.6" r="2.3"/><circle cx="427.7" cy="1006.5" r="2.3"/><circle cx="427.5" cy="1005.6" r="2.3"/><circle cx="428.2" cy="1011.2" r="2.3"/><circle cx="426.2" cy="1010.9" r="2.3"/><circle cx="426.3" cy="1015.2" r="2.3"/><circle cx="425.5" cy="1020.2" r="2.3"/><circle cx="423.8" cy="1017.2" r="2.3"/><circle cx="420.6" cy="1019.3" r="2.3"/><circle cx="417.8" cy="1019.7" r="2.3"/><circle cx="413.9" cy="1020.6" r="2.3"/><circle cx="411.2" cy="1017.9" r="2.3"/><circle cx="412.3" cy="1014.7" r="2.3"/><circle cx="408.5" cy="1015.5" r="2.3"/><circle cx="409.4" cy="1012.2" r="2.3"/><circle cx="405.8" cy="1008.2" r="2.3"/><circle cx="405.3" cy="1009.3" r="2.3"/><circle cx="405.7" cy="1006.5" r="2.3"/><circle cx="403.8" cy="1001.8" r="2.3"/><circle cx="404.6" cy="1000.8" r="2.3"/><circle cx="402.4" cy="998.3" r="2.3"/><circle cx="403.2" cy="992.2" r="2.3"/><circle cx="402.5" cy="990.9" r="2.3"/><circle cx="403" cy="990.4" r="2.3"/><circle cx="401.7" cy="986.8" r="2.3"/><circle cx="400.8" cy="984.5" r="2.3"/><circle cx="399.1" cy="981.6" r="2.3"/><circle cx="398.9" cy="978.3" r="2.3"/><circle cx="398.6" cy="974.7" r="2.3"/><circle cx="398" cy="972" r="2.3"/><circle cx="399.3" cy="970" r="2.3"/><circle cx="398" cy="967.6" r="2.3"/><circle cx="399.4" cy="964" r="2.3"/><circle cx="397.7" cy="966.9" r="2.3"/><circle cx="398.6" cy="968.6" r="2.3"/><circle cx="396.8" cy="970.6" r="2.3"/><circle cx="394.4" cy="974.9" r="2.3"/><circle cx="395.2" cy="975.7" r="2.3"/><circle cx="392.8" cy="980.6" r="2.3"/><circle cx="393.6" cy="982.9" r="2.3"/><circle cx="393.4" cy="985.2" r="2.3"/><circle cx="393.5" cy="989.3" r="2.3"/><circle cx="394.5" cy="989.9" r="2.3"/><circle cx="392.4" cy="991.7" r="2.3"/><circle cx="393.1" cy="993.8" r="2.3"/><circle cx="390.9" cy="999.5" r="2.3"/><circle cx="389.4" cy="1001.6" r="2.3"/><circle cx="390.2" cy="1003.7" r="2.3"/><circle cx="387.9" cy="1004.8" r="2.3"/><circle cx="389.1" cy="1009.9" r="2.3"/><circle cx="387.1" cy="1009.9" r="2.3"/><circle cx="385.7" cy="1013.1" r="2.3"/><circle cx="382" cy="1017" r="2.3"/><circle cx="382.3" cy="1018" r="2.3"/><circle cx="381.4" cy="1017.5" r="2.3"/><circle cx="380.3" cy="1016.4" r="2.3"/><circle cx="377.8" cy="1011.8" r="2.3"/><circle cx="377.3" cy="1010.8" r="2.3"/><circle cx="373" cy="1008.9" r="2.3"/><circle cx="372.8" cy="1007.9" r="2.3"/><circle cx="368.8" cy="1008.3" r="2.3"/><circle cx="368" cy="1010.5" r="2.3"/><circle cx="365" cy="1011.9" r="2.3"/><circle cx="362" cy="1011.5" r="2.3"/><circle cx="360.2" cy="1009.3" r="2.3"/><circle cx="357.9" cy="1008.9" r="2.3"/><circle cx="357.9" cy="1006.1" r="2.3"/><circle cx="356.2" cy="1007.2" r="2.3"/><circle cx="353.5" cy="1004.3" r="2.3"/><circle cx="352.3" cy="1002.6" r="2.3"/><circle cx="350.4" cy="1002.5" r="2.3"/><circle cx="350.3" cy="1002.5" r="2.3"/><circle cx="346.9" cy="1007.9" r="2.3"/><circle cx="347.6" cy="1010" r="2.3"/><circle cx="346.5" cy="1011.3" r="2.3"/><circle cx="346.5" cy="1015.1" r="2.3"/><circle cx="348.3" cy="1016.9" r="2.3"/><circle cx="346.2" cy="1019" r="2.3"/><circle cx="344.4" cy="1024" r="2.3"/><circle cx="343.3" cy="1026.7" r="2.3"/><circle cx="345" cy="1025.9" r="2.3"/><circle cx="344.8" cy="1023.3" r="2.3"/><circle cx="342.4" cy="1020.7" r="2.3"/><circle cx="343" cy="1018.8" r="2.3"/><circle cx="341.4" cy="1015.1" r="2.3"/><circle cx="339.4" cy="1012.5" r="2.3"/><circle cx="335.8" cy="1011.8" r="2.3"/><circle cx="337.9" cy="1010.6" r="2.3"/><circle cx="335.7" cy="1009.3" r="2.3"/><circle cx="332.7" cy="1004.8" r="2.3"/><circle cx="331.1" cy="1003.5" r="2.3"/><circle cx="330.7" cy="1001.4" r="2.3"/><circle cx="330.2" cy="997.9" r="2.3"/><circle cx="330.6" cy="995.9" r="2.3"/><circle cx="329.4" cy="991.6" r="2.3"/><circle cx="329" cy="990.7" r="2.3"/><circle cx="330.5" cy="987.8" r="2.3"/><circle cx="326.8" cy="983.9" r="2.3"/><circle cx="327.5" cy="982.7" r="2.3"/><circle cx="329.8" cy="981" r="2.3"/><circle cx="329.7" cy="978" r="2.3"/><circle cx="329.2" cy="975.2" r="2.3"/><circle cx="325.7" cy="970.6" r="2.3"/><circle cx="327.9" cy="968.6" r="2.3"/><circle cx="327.9" cy="965.5" r="2.3"/><circle cx="329" cy="960.6" r="2.3"/><circle cx="327.3" cy="961.3" r="2.3"/><circle cx="325.2" cy="955.1" r="2.3"/><circle cx="328.4" cy="955.7" r="2.3"/><circle cx="324.5" cy="954.7" r="2.3"/><circle cx="327.2" cy="960" r="2.3"/><circle cx="325.4" cy="962.2" r="2.3"/><circle cx="325.8" cy="965.8" r="2.3"/><circle cx="322.3" cy="965.5" r="2.3"/><circle cx="324.8" cy="972.1" r="2.3"/><circle cx="324.2" cy="972.7" r="2.3"/><circle cx="321.6" cy="975.4" r="2.3"/><circle cx="319.6" cy="980" r="2.3"/><circle cx="319.9" cy="982.1" r="2.3"/><circle cx="320.3" cy="984" r="2.3"/><circle cx="318.6" cy="984.9" r="2.3"/><circle cx="314.5" cy="986.9" r="2.3"/><circle cx="311.9" cy="984.3" r="2.3"/><circle cx="309.9" cy="986" r="2.3"/><circle cx="310.1" cy="983.2" r="2.3"/><circle cx="306" cy="982.4" r="2.3"/><circle cx="304.2" cy="979.7" r="2.3"/><circle cx="302.4" cy="979" r="2.3"/><circle cx="300.2" cy="974.2" r="2.3"/><circle cx="300" cy="971.7" r="2.3"/><circle cx="301" cy="970.2" r="2.3"/><circle cx="300.6" cy="966.8" r="2.3"/><circle cx="297.1" cy="964.7" r="2.3"/><circle cx="297.1" cy="959.7" r="2.3"/><circle cx="297.1" cy="959.8" r="2.3"/><circle cx="296.2" cy="954.4" r="2.3"/><circle cx="297.7" cy="954" r="2.3"/><circle cx="295" cy="947.7" r="2.3"/><circle cx="295.9" cy="947.4" r="2.3"/><circle cx="293.4" cy="944.5" r="2.3"/><circle cx="292.9" cy="939.6" r="2.3"/><circle cx="293.4" cy="938.6" r="2.3"/><circle cx="292.5" cy="936.1" r="2.3"/><circle cx="290.2" cy="932" r="2.3"/><circle cx="291.2" cy="927.4" r="2.3"/><circle cx="292.9" cy="924.9" r="2.3"/><circle cx="289.7" cy="925" r="2.3"/><circle cx="292.3" cy="922.4" r="2.3"/><circle cx="289.4" cy="919.6" r="2.3"/><circle cx="288.2" cy="915.9" r="2.3"/><circle cx="291" cy="911" r="2.3"/><circle cx="287.3" cy="910.1" r="2.3"/><circle cx="289.9" cy="907.5" r="2.3"/><circle cx="289.7" cy="903.6" r="2.3"/><circle cx="287" cy="899.4" r="2.3"/><circle cx="286.1" cy="899.9" r="2.3"/><circle cx="284.9" cy="894" r="2.3"/><circle cx="285.6" cy="890.7" r="2.3"/><circle cx="285" cy="888.4" r="2.3"/><circle cx="283.9" cy="886.9" r="2.3"/><circle cx="285.3" cy="884.1" r="2.3"/><circle cx="285.9" cy="881" r="2.3"/><circle cx="286.5" cy="876.2" r="2.3"/><circle cx="283.3" cy="873.2" r="2.3"/><circle cx="283.4" cy="873" r="2.3"/><circle cx="285.7" cy="869" r="2.3"/><circle cx="282.4" cy="865.3" r="2.3"/><circle cx="283.8" cy="862.2" r="2.3"/><circle cx="284.4" cy="862" r="2.3"/><circle cx="282.9" cy="857.5" r="2.3"/><circle cx="284.2" cy="854" r="2.3"/><circle cx="281.3" cy="852.9" r="2.3"/><circle cx="284.3" cy="846.3" r="2.3"/><circle cx="283.2" cy="844.8" r="2.3"/><circle cx="280.1" cy="840.9" r="2.3"/><circle cx="278" cy="844.1" r="2.3"/><circle cx="275.6" cy="842" r="2.3"/><circle cx="273.1" cy="846" r="2.3"/><circle cx="273.9" cy="842.9" r="2.3"/><circle cx="273.4" cy="838.4" r="2.3"/><circle cx="271.2" cy="836.4" r="2.3"/><circle cx="271" cy="833.7" r="2.3"/><circle cx="272.9" cy="831.6" r="2.3"/><circle cx="272" cy="830" r="2.3"/><circle cx="271" cy="826.4" r="2.3"/><circle cx="273.2" cy="824.4" r="2.3"/><circle cx="271.4" cy="821.4" r="2.3"/><circle cx="271.5" cy="817.7" r="2.3"/><circle cx="273.4" cy="814.5" r="2.3"/><circle cx="273.4" cy="814.1" r="2.3"/><circle cx="273.2" cy="808.4" r="2.3"/><circle cx="271.7" cy="808.9" r="2.3"/><circle cx="273" cy="794.5" r="2.3"/><circle cx="273.2" cy="780.5" r="2.3"/><circle cx="276.4" cy="747.3" r="2.3"/><circle cx="274.2" cy="777.1" r="2.3"/><circle cx="276.1" cy="753.3" r="2.3"/><circle cx="277.5" cy="725.3" r="2.3"/><circle cx="281.4" cy="726.5" r="2.3"/><circle cx="288.3" cy="731.6" r="2.3"/><circle cx="290.4" cy="776.6" r="2.3"/><circle cx="290.1" cy="741.9" r="2.3"/><circle cx="293.1" cy="799.7" r="2.3"/><circle cx="292.1" cy="787.2" r="2.3"/><circle cx="294.8" cy="810.4" r="2.3"/><circle cx="298" cy="826.5" r="2.3"/><circle cx="295.6" cy="838.8" r="2.3"/><circle cx="312" cy="892.3" r="2.3"/><circle cx="321.1" cy="889.8" r="2.3"/><circle cx="311.1" cy="884.8" r="2.3"/><circle cx="334.8" cy="912.6" r="2.3"/><circle cx="340.4" cy="926.5" r="2.3"/><circle cx="354.1" cy="912.4" r="2.3"/><circle cx="349" cy="927.9" r="2.3"/><circle cx="345.8" cy="928.8" r="2.3"/><circle cx="363.5" cy="912.3" r="2.3"/><circle cx="372.7" cy="921.7" r="2.3"/><circle cx="391.5" cy="928.7" r="2.3"/><circle cx="389.3" cy="930.6" r="2.3"/><circle cx="395.5" cy="902.1" r="2.3"/><circle cx="392.8" cy="913.6" r="2.3"/><circle cx="394.8" cy="887.4" r="2.3"/><circle cx="401.1" cy="879.4" r="2.3"/><circle cx="408.5" cy="895.1" r="2.3"/><circle cx="406.5" cy="903.7" r="2.3"/><circle cx="408.4" cy="906.5" r="2.3"/><circle cx="411.4" cy="929.9" r="2.3"/><circle cx="408.5" cy="933.1" r="2.3"/><circle cx="409.9" cy="928.5" r="2.3"/><circle cx="416.2" cy="931.9" r="2.3"/><circle cx="419.3" cy="933.5" r="2.3"/><circle cx="420.3" cy="933" r="2.3"/><circle cx="444.9" cy="922.4" r="2.3"/><circle cx="442.8" cy="923.9" r="2.3"/><circle cx="455.8" cy="930.9" r="2.3"/><circle cx="461.6" cy="938.7" r="2.3"/><circle cx="467.2" cy="934.9" r="2.3"/><circle cx="476" cy="934.8" r="2.3"/><circle cx="482.5" cy="923.4" r="2.3"/><circle cx="489.7" cy="904.5" r="2.3"/><circle cx="497.4" cy="900" r="2.3"/><circle cx="501.5" cy="915.6" r="2.3"/><circle cx="503.1" cy="914.6" r="2.3"/><circle cx="501.7" cy="925" r="2.3"/><circle cx="512.9" cy="948.8" r="2.3"/><circle cx="518" cy="939.4" r="2.3"/><circle cx="519.8" cy="941.8" r="2.3"/><circle cx="531" cy="890.7" r="2.3"/><circle cx="522.5" cy="912.9" r="2.3"/><circle cx="527.5" cy="908.5" r="2.3"/><circle cx="528.9" cy="896.1" r="2.3"/><circle cx="535.2" cy="889.4" r="2.3"/><circle cx="541.8" cy="908.8" r="2.3"/><circle cx="542.8" cy="905.5" r="2.3"/><circle cx="549.3" cy="935.8" r="2.3"/><circle cx="551.6" cy="939.6" r="2.3"/><circle cx="553.1" cy="934" r="2.3"/><circle cx="556.8" cy="928.1" r="2.3"/><circle cx="565.1" cy="924.6" r="2.3"/><circle cx="574.8" cy="931.8" r="2.3"/><circle cx="574.1" cy="936.2" r="2.3"/><circle cx="573.5" cy="938.3" r="2.3"/><circle cx="576.4" cy="943.3" r="2.3"/><circle cx="579" cy="947.1" r="2.3"/><circle cx="582.8" cy="962.8" r="2.3"/><circle cx="585.6" cy="974.1" r="2.3"/><circle cx="595.1" cy="1003.3" r="2.3"/><circle cx="598.3" cy="988.8" r="2.3"/><circle cx="615.6" cy="969.1" r="2.3"/><circle cx="619.1" cy="963.4" r="2.3"/><circle cx="620.6" cy="946.9" r="2.3"/><circle cx="624.7" cy="928.8" r="2.3"/><circle cx="623.2" cy="932.9" r="2.3"/><circle cx="625.7" cy="929.3" r="2.3"/><circle cx="625.4" cy="936.1" r="2.3"/><circle cx="630.4" cy="926.7" r="2.3"/><circle cx="636.2" cy="933.8" r="2.3"/><circle cx="637.1" cy="935.8" r="2.3"/><circle cx="641.2" cy="959.8" r="2.3"/><circle cx="640.1" cy="952.4" r="2.3"/><circle cx="637.5" cy="948" r="2.3"/><circle cx="646.8" cy="982.3" r="2.3"/><circle cx="651.2" cy="978.5" r="2.3"/><circle cx="651.1" cy="980.6" r="2.3"/><circle cx="656.3" cy="971.1" r="2.3"/><circle cx="657.2" cy="967.8" r="2.3"/><circle cx="666.5" cy="1011.2" r="2.3"/><circle cx="664.4" cy="1007.9" r="2.3"/><circle cx="667.7" cy="1014.4" r="2.3"/><circle cx="670.2" cy="1014.4" r="2.3"/><circle cx="675.8" cy="1032.6" r="2.3"/><circle cx="680.9" cy="1036.1" r="2.3"/><circle cx="695.1" cy="1057" r="2.3"/><circle cx="692.7" cy="1059.5" r="2.3"/><circle cx="699.4" cy="1049.5" r="2.3"/><circle cx="697.5" cy="1053.9" r="2.3"/><circle cx="703.9" cy="1047.7" r="2.3"/><circle cx="703.3" cy="1056.9" r="2.3"/><circle cx="701.9" cy="1049.2" r="2.3"/><circle cx="703.7" cy="1073.4" r="2.3"/><circle cx="708.2" cy="1091.6" r="2.3"/><circle cx="706.5" cy="1090.9" r="2.3"/><circle cx="704.6" cy="1073.1" r="2.3"/><circle cx="712.5" cy="1095.9" r="2.3"/><circle cx="726.7" cy="1077.9" r="2.3"/><circle cx="723.8" cy="1080.3" r="2.3"/><circle cx="753.2" cy="1107.7" r="2.3"/><circle cx="754.4" cy="1111" r="2.3"/><circle cx="754.9" cy="1097.7" r="2.3"/><circle cx="761.7" cy="1126.8" r="2.3"/><circle cx="761.2" cy="1131.7" r="2.3"/><circle cx="763.5" cy="1133.8" r="2.3"/><circle cx="768.5" cy="1116.5" r="2.3"/><circle cx="781.4" cy="1115.9" r="2.3"/><circle cx="794.9" cy="1146.7" r="2.3"/><circle cx="787" cy="1135.5" r="2.3"/><circle cx="801" cy="1161.5" r="2.3"/><circle cx="808.4" cy="1158.2" r="2.3"/><circle cx="806.2" cy="1160.9" r="2.3"/><circle cx="814.9" cy="1100.2" r="2.3"/><circle cx="814.7" cy="1090.9" r="2.3"/><circle cx="821.5" cy="1085.4" r="2.3"/><circle cx="824.8" cy="1083.7" r="2.3"/><circle cx="829.8" cy="1087.3" r="2.3"/><circle cx="829.9" cy="1097.3" r="2.3"/><circle cx="830.7" cy="1119.2" r="2.3"/><circle cx="819.5" cy="1176" r="2.3"/><circle cx="814" cy="1189.8" r="2.3"/><circle cx="814.8" cy="1194.1" r="2.3"/><circle cx="810.5" cy="1211.8" r="2.3"/><circle cx="805.3" cy="1239.1" r="2.3"/><circle cx="807.6" cy="1227.1" r="2.3"/><circle cx="797.1" cy="1232.8" r="2.3"/><circle cx="789.7" cy="1218.2" r="2.3"/><circle cx="775.4" cy="1189.7" r="2.3"/><circle cx="760.1" cy="1194.1" r="2.3"/><circle cx="737.4" cy="1182.3" r="2.3"/><circle cx="711.4" cy="1160" r="2.3"/><circle cx="704.9" cy="1105.2" r="2.3"/><circle cx="637.7" cy="1018.2" r="2.3"/><circle cx="641" cy="1026" r="2.3"/><circle cx="634" cy="988.9" r="2.3"/><circle cx="620.8" cy="1016.7" r="2.3"/><circle cx="615.1" cy="1035.2" r="2.3"/><circle cx="614.9" cy="1032.4" r="2.3"/><circle cx="608.7" cy="1044.8" r="2.3"/><circle cx="600.5" cy="1061.1" r="2.3"/><circle cx="583.4" cy="1040.1" r="2.3"/><circle cx="589.5" cy="1044.2" r="2.3"/><circle cx="561.7" cy="1062.2" r="2.3"/><circle cx="547.1" cy="1054.6" r="2.3"/><circle cx="532" cy="990.7" r="2.3"/><circle cx="532.3" cy="999.1" r="2.3"/><circle cx="531.1" cy="982.9" r="2.3"/><circle cx="522.6" cy="1014.3" r="2.3"/><circle cx="524.1" cy="995.6" r="2.3"/><circle cx="522.1" cy="1039.8" r="2.3"/><circle cx="523.6" cy="1029.3" r="2.3"/><circle cx="509.2" cy="1050.1" r="2.3"/><circle cx="504.1" cy="1043.3" r="2.3"/><circle cx="480.4" cy="1020.1" r="2.3"/><circle cx="473.6" cy="1020.6" r="2.3"/><circle cx="471.8" cy="1019.7" r="2.3"/><circle cx="463.5" cy="1038" r="2.3"/><circle cx="464.8" cy="1038.2" r="2.3"/><circle cx="451.7" cy="1036.1" r="2.3"/><circle cx="456" cy="1043.1" r="2.3"/><circle cx="436.6" cy="1007.6" r="2.3"/><circle cx="423.7" cy="1028.2" r="2.3"/><circle cx="428.3" cy="1010.1" r="2.3"/><circle cx="416.6" cy="1028.2" r="2.3"/><circle cx="420.9" cy="1025.8" r="2.3"/><circle cx="405.6" cy="1007" r="2.3"/><circle cx="403.9" cy="1012.5" r="2.3"/><circle cx="401.3" cy="986.4" r="2.3"/><circle cx="394.3" cy="981" r="2.3"/><circle cx="395.1" cy="977.9" r="2.3"/><circle cx="391.5" cy="1010.7" r="2.3"/><circle cx="333.1" cy="1014.9" r="2.3"/><circle cx="329.2" cy="1006.8" r="2.3"/><circle cx="328" cy="1003.3" r="2.3"/><circle cx="328.9" cy="988.7" r="2.3"/><circle cx="327.5" cy="964.5" r="2.3"/><circle cx="320.6" cy="986.9" r="2.3"/><circle cx="313.7" cy="990" r="2.3"/><circle cx="303" cy="984.8" r="2.3"/><circle cx="291.3" cy="936.1" r="2.3"/><circle cx="283.9" cy="892.3" r="2.3"/><circle cx="283.5" cy="886.3" r="2.3"/><circle cx="286.9" cy="894" r="2.3"/><circle cx="273.6" cy="841.4" r="2.3"/><circle cx="253.4" cy="811.4" r="2.3"/><circle cx="273" cy="818" r="2.3"/><circle cx="264.2" cy="854.1" r="2.3"/><circle cx="220" cy="871" r="2.3"/><circle cx="258.8" cy="846.1" r="2.3"/><circle cx="242.1" cy="865.2" r="2.3"/><circle cx="255" cy="867.1" r="2.3"/><circle cx="237.4" cy="861.6" r="2.3"/><circle cx="219.7" cy="888.1" r="2.3"/><circle cx="242.3" cy="865.8" r="2.3"/><circle cx="228.7" cy="838.8" r="2.3"/><circle cx="266.9" cy="858.5" r="2.3"/><circle cx="258.9" cy="858.9" r="2.3"/><circle cx="236.6" cy="831" r="2.3"/><circle cx="219.9" cy="864.1" r="2.3"/><circle cx="218.9" cy="865.8" r="2.3"/><circle cx="274.2" cy="843.2" r="2.3"/><circle cx="251.8" cy="833.4" r="2.3"/><circle cx="234.9" cy="832.2" r="2.3"/><circle cx="274.3" cy="836.6" r="2.3"/><circle cx="231.9" cy="866.8" r="2.3"/><circle cx="251" cy="839.5" r="2.3"/><circle cx="263.1" cy="831" r="2.3"/><circle cx="273.4" cy="816.3" r="2.3"/><circle cx="268.6" cy="826.1" r="2.3"/><circle cx="244.5" cy="849.8" r="2.3"/><circle cx="231.4" cy="850.9" r="2.3"/><circle cx="232.5" cy="879.5" r="2.3"/><circle cx="261.2" cy="867.8" r="2.3"/><circle cx="223.4" cy="872.6" r="2.3"/><circle cx="249.2" cy="860" r="2.3"/><circle cx="272.9" cy="848.4" r="2.3"/><circle cx="255.2" cy="822.9" r="2.3"/><circle cx="251.5" cy="829" r="2.3"/><circle cx="270.1" cy="822.2" r="2.3"/><circle cx="221.5" cy="893.1" r="2.3"/><circle cx="223.2" cy="869.5" r="2.3"/><circle cx="245" cy="841.9" r="2.3"/><circle cx="217.3" cy="867.7" r="2.3"/><circle cx="222.5" cy="869.9" r="2.3"/><circle cx="257.1" cy="830" r="2.3"/><circle cx="261.3" cy="855.4" r="2.3"/><circle cx="240.1" cy="850" r="2.3"/><circle cx="268.2" cy="832" r="2.3"/><circle cx="261.2" cy="833.8" r="2.3"/><circle cx="240.5" cy="833.9" r="2.3"/><circle cx="271.9" cy="828.4" r="2.3"/><circle cx="264.5" cy="850.7" r="2.3"/><circle cx="218.6" cy="867.9" r="2.3"/><circle cx="229.4" cy="866.4" r="2.3"/><circle cx="270.2" cy="851.5" r="2.3"/><circle cx="267.7" cy="832.4" r="2.3"/><circle cx="227.7" cy="840.6" r="2.3"/><circle cx="252.1" cy="863.5" r="2.3"/><circle cx="221.4" cy="850.9" r="2.3"/><circle cx="263.4" cy="823.2" r="2.3"/><circle cx="264.3" cy="821.3" r="2.3"/><circle cx="238.9" cy="877.2" r="2.3"/><circle cx="247.4" cy="869.2" r="2.3"/><circle cx="256.7" cy="838.9" r="2.3"/><circle cx="267.7" cy="836.1" r="2.3"/><circle cx="273.8" cy="813.7" r="2.3"/><circle cx="263.1" cy="858.2" r="2.3"/><circle cx="253.6" cy="810.4" r="2.3"/><circle cx="223.6" cy="856.9" r="2.3"/><circle cx="253.7" cy="878" r="2.3"/><circle cx="263.4" cy="846.2" r="2.3"/><circle cx="219" cy="874.3" r="2.3"/><circle cx="232.8" cy="840.3" r="2.3"/><circle cx="270.2" cy="824.1" r="2.3"/><circle cx="240.3" cy="879.7" r="2.3"/><circle cx="242.7" cy="841.4" r="2.3"/><circle cx="218.9" cy="876.8" r="2.3"/><circle cx="249.3" cy="838" r="2.3"/><circle cx="224.2" cy="843.1" r="2.3"/><circle cx="223.8" cy="880.7" r="2.3"/><circle cx="232" cy="882" r="2.3"/><circle cx="250.2" cy="862.3" r="2.3"/><circle cx="227.5" cy="840.4" r="2.3"/><circle cx="250.6" cy="822.8" r="2.3"/><circle cx="259.8" cy="824.9" r="2.3"/><circle cx="251.5" cy="825.9" r="2.3"/><circle cx="260.5" cy="822.7" r="2.3"/><circle cx="268.4" cy="831.6" r="2.3"/><circle cx="230.9" cy="862.3" r="2.3"/><circle cx="260.3" cy="824.2" r="2.3"/><circle cx="250.1" cy="829.4" r="2.3"/><circle cx="238.1" cy="854.5" r="2.3"/><circle cx="230.3" cy="861.8" r="2.3"/><circle cx="237.3" cy="840.6" r="2.3"/><circle cx="265.7" cy="852.1" r="2.3"/><circle cx="246.3" cy="858.1" r="2.3"/><circle cx="248.3" cy="865.5" r="2.3"/><circle cx="248.6" cy="852.7" r="2.3"/><circle cx="271.6" cy="826.3" r="2.3"/><circle cx="249.6" cy="849.2" r="2.3"/><circle cx="225.8" cy="861.9" r="2.3"/><circle cx="251.1" cy="860.1" r="2.3"/><circle cx="244" cy="858.8" r="2.3"/><circle cx="233.1" cy="843.7" r="2.3"/><circle cx="256.3" cy="818.4" r="2.3"/><circle cx="259" cy="856.1" r="2.3"/><circle cx="248.1" cy="874.7" r="2.3"/><circle cx="232.7" cy="834.4" r="2.3"/><circle cx="241.2" cy="871.3" r="2.3"/><circle cx="258.2" cy="815.3" r="2.3"/><circle cx="252.4" cy="835.6" r="2.3"/><circle cx="250.6" cy="869.6" r="2.3"/><circle cx="252.1" cy="876.2" r="2.3"/><circle cx="241.4" cy="872" r="2.3"/><circle cx="251.3" cy="861" r="2.3"/><circle cx="248.1" cy="864.4" r="2.3"/><circle cx="255.5" cy="868.1" r="2.3"/><circle cx="245.9" cy="832.9" r="2.3"/><circle cx="225.4" cy="886.9" r="2.3"/><circle cx="226.1" cy="869" r="2.3"/><circle cx="225.7" cy="849.1" r="2.3"/><circle cx="274.6" cy="805.5" r="2.3"/><circle cx="242.2" cy="861.4" r="2.3"/><circle cx="236.7" cy="841.4" r="2.3"/><circle cx="247.5" cy="844.4" r="2.3"/><circle cx="248.3" cy="877.1" r="2.3"/><circle cx="251.1" cy="829.4" r="2.3"/><circle cx="231.7" cy="852.2" r="2.3"/><circle cx="253.9" cy="846.1" r="2.3"/><circle cx="229.4" cy="841" r="2.3"/><circle cx="240.6" cy="857.7" r="2.3"/><circle cx="231.6" cy="859.6" r="2.3"/><circle cx="243.6" cy="877.5" r="2.3"/><circle cx="263.2" cy="820.6" r="2.3"/><circle cx="257.8" cy="840.9" r="2.3"/><circle cx="256.1" cy="822.5" r="2.3"/><circle cx="266.5" cy="823.4" r="2.3"/><circle cx="267.1" cy="841.1" r="2.3"/><circle cx="239.4" cy="855.3" r="2.3"/><circle cx="246.6" cy="852.2" r="2.3"/><circle cx="274" cy="798" r="2.3"/><circle cx="218.8" cy="879.8" r="2.3"/><circle cx="226.1" cy="846.9" r="2.3"/><circle cx="255.4" cy="820.9" r="2.3"/><circle cx="237.7" cy="845.3" r="2.3"/><circle cx="222.2" cy="890.6" r="2.3"/><circle cx="244.7" cy="878.5" r="2.3"/><circle cx="231.8" cy="856.3" r="2.3"/><circle cx="226.7" cy="847.9" r="2.3"/><circle cx="256.3" cy="819.6" r="2.3"/><circle cx="256.4" cy="856.1" r="2.3"/><circle cx="242.6" cy="848.3" r="2.3"/><circle cx="231.2" cy="874.6" r="2.3"/><circle cx="252.4" cy="841.8" r="2.3"/><circle cx="247.5" cy="868" r="2.3"/><circle cx="230.3" cy="875.9" r="2.3"/><circle cx="248.8" cy="825.3" r="2.3"/><circle cx="271.4" cy="840.6" r="2.3"/><circle cx="242.4" cy="874.7" r="2.3"/><circle cx="244.7" cy="837.1" r="2.3"/><circle cx="223" cy="863.5" r="2.3"/><circle cx="234.4" cy="849.9" r="2.3"/><circle cx="236.7" cy="836.3" r="2.3"/><circle cx="244.1" cy="848.6" r="2.3"/><circle cx="224.4" cy="871" r="2.3"/><circle cx="230.6" cy="837.5" r="2.3"/><circle cx="230.3" cy="857.3" r="2.3"/><circle cx="241.1" cy="866.1" r="2.3"/><circle cx="240.8" cy="876.3" r="2.3"/><circle cx="244" cy="871.7" r="2.3"/><circle cx="224.9" cy="860.6" r="2.3"/><circle cx="259" cy="863.9" r="2.3"/><circle cx="218.3" cy="874.5" r="2.3"/><circle cx="229.5" cy="848.2" r="2.3"/><circle cx="263" cy="857.9" r="2.3"/><circle cx="246.7" cy="857.1" r="2.3"/><circle cx="242.9" cy="861.2" r="2.3"/><circle cx="249" cy="862.2" r="2.3"/><circle cx="261.3" cy="866.7" r="2.3"/><circle cx="221.7" cy="863.8" r="2.3"/><circle cx="230.3" cy="858.8" r="2.3"/><circle cx="248.1" cy="858.3" r="2.3"/><circle cx="233.6" cy="867.4" r="2.3"/><circle cx="268" cy="828.9" r="2.3"/><circle cx="234.2" cy="842" r="2.3"/><circle cx="241" cy="860.8" r="2.3"/><circle cx="273.1" cy="842.1" r="2.3"/><circle cx="242.1" cy="862.8" r="2.3"/><circle cx="234.2" cy="880.9" r="2.3"/><circle cx="240.4" cy="853.2" r="2.3"/><circle cx="246.4" cy="833.5" r="2.3"/><circle cx="223.8" cy="888.4" r="2.3"/><circle cx="264.9" cy="814.6" r="2.3"/><circle cx="238" cy="846.9" r="2.3"/><circle cx="264" cy="825.9" r="2.3"/><circle cx="255" cy="810.8" r="2.3"/><circle cx="250" cy="856.1" r="2.3"/><circle cx="257.8" cy="839.2" r="2.3"/><circle cx="248.2" cy="857.5" r="2.3"/><circle cx="260.7" cy="860.4" r="2.3"/><circle cx="266.2" cy="852.6" r="2.3"/><circle cx="230.8" cy="844.3" r="2.3"/><circle cx="243.2" cy="832.3" r="2.3"/><circle cx="259.2" cy="837.4" r="2.3"/><circle cx="269" cy="858.4" r="2.3"/><circle cx="254.6" cy="825.6" r="2.3"/><circle cx="268.8" cy="831.9" r="2.3"/><circle cx="265.6" cy="821.3" r="2.3"/><circle cx="226.2" cy="871" r="2.3"/><circle cx="238" cy="830.5" r="2.3"/><circle cx="262.7" cy="832.5" r="2.3"/><circle cx="257.7" cy="840" r="2.3"/><circle cx="240.1" cy="856.8" r="2.3"/><circle cx="235" cy="859.8" r="2.3"/><circle cx="216.1" cy="873.3" r="2.3"/><circle cx="255" cy="820.4" r="2.3"/><circle cx="252.1" cy="838.5" r="2.3"/><circle cx="272.1" cy="842.2" r="2.3"/><circle cx="272.2" cy="831.9" r="2.3"/><circle cx="230" cy="850.9" r="2.3"/><circle cx="258.4" cy="846.9" r="2.3"/><circle cx="256.5" cy="865.1" r="2.3"/><circle cx="246.7" cy="873.6" r="2.3"/><circle cx="223.9" cy="846.4" r="2.3"/><circle cx="233.2" cy="876.4" r="2.3"/><circle cx="245.6" cy="849.7" r="2.3"/><circle cx="264.2" cy="836.1" r="2.3"/><circle cx="241.2" cy="851.4" r="2.3"/><circle cx="259" cy="857.7" r="2.3"/><circle cx="253.6" cy="841.6" r="2.3"/><circle cx="260.7" cy="845.2" r="2.3"/><circle cx="232.6" cy="876" r="2.3"/><circle cx="247.5" cy="865.9" r="2.3"/><circle cx="251.8" cy="838.1" r="2.3"/><circle cx="254.2" cy="831.4" r="2.3"/><circle cx="254.4" cy="817.6" r="2.3"/><circle cx="244.6" cy="840" r="2.3"/><circle cx="230" cy="869.3" r="2.3"/><circle cx="225.5" cy="845" r="2.3"/><circle cx="272.9" cy="835.9" r="2.3"/><circle cx="239" cy="873.3" r="2.3"/><circle cx="231.7" cy="853.1" r="2.3"/><circle cx="245.6" cy="866.9" r="2.3"/><circle cx="220.3" cy="863.6" r="2.3"/><circle cx="244.6" cy="848.5" r="2.3"/><circle cx="227.3" cy="877.4" r="2.3"/><circle cx="254.1" cy="814.8" r="2.3"/><circle cx="271.9" cy="815" r="2.3"/><circle cx="245.7" cy="843.3" r="2.3"/><circle cx="218.1" cy="862.2" r="2.3"/><circle cx="255" cy="822" r="2.3"/><circle cx="271.9" cy="839.5" r="2.3"/><circle cx="254" cy="843.9" r="2.3"/><circle cx="259.8" cy="871.8" r="2.3"/><circle cx="258.9" cy="872.6" r="2.3"/><circle cx="262.8" cy="859.8" r="2.3"/><circle cx="237.2" cy="871.1" r="2.3"/><circle cx="252.9" cy="819.8" r="2.3"/><circle cx="220.5" cy="881.7" r="2.3"/><circle cx="227.9" cy="872.9" r="2.3"/><circle cx="259" cy="874.1" r="2.3"/><circle cx="269.4" cy="854.1" r="2.3"/><circle cx="220.7" cy="871.8" r="2.3"/><circle cx="260.5" cy="847.6" r="2.3"/><circle cx="273.4" cy="843.5" r="2.3"/><circle cx="242" cy="861.3" r="2.3"/><circle cx="262.2" cy="856.3" r="2.3"/><circle cx="271.3" cy="824.1" r="2.3"/><circle cx="251.2" cy="859.6" r="2.3"/><circle cx="272.4" cy="853.3" r="2.3"/><circle cx="258.4" cy="873.8" r="2.3"/><circle cx="225.6" cy="864.4" r="2.3"/><circle cx="231.9" cy="833.4" r="2.3"/><circle cx="259.1" cy="852.7" r="2.3"/><circle cx="264.3" cy="817.3" r="2.3"/><circle cx="251.5" cy="858" r="2.3"/><circle cx="248.8" cy="849.7" r="2.3"/><circle cx="224.9" cy="845.6" r="2.3"/><circle cx="237.3" cy="856.1" r="2.3"/><circle cx="255.5" cy="824.5" r="2.3"/><circle cx="251.5" cy="822.7" r="2.3"/><circle cx="259.7" cy="817.2" r="2.3"/><circle cx="250.8" cy="871.4" r="2.3"/><circle cx="262.9" cy="850.5" r="2.3"/><circle cx="262.5" cy="833" r="2.3"/><circle cx="231.4" cy="860.2" r="2.3"/><circle cx="221.2" cy="862.7" r="2.3"/><circle cx="263.3" cy="850.6" r="2.3"/><circle cx="235.8" cy="829.1" r="2.3"/><circle cx="267.2" cy="826.8" r="2.3"/><circle cx="238.1" cy="875.3" r="2.3"/><circle cx="269.9" cy="830.9" r="2.3"/><circle cx="269.8" cy="850.5" r="2.3"/><circle cx="221.1" cy="875.6" r="2.3"/><circle cx="245.6" cy="876.1" r="2.3"/><circle cx="253.1" cy="854.1" r="2.3"/><circle cx="218.5" cy="873.8" r="2.3"/><circle cx="270.2" cy="818.8" r="2.3"/><circle cx="250.8" cy="856" r="2.3"/><circle cx="239.3" cy="832.1" r="2.3"/><circle cx="224" cy="867.3" r="2.3"/><circle cx="237.6" cy="857.6" r="2.3"/><circle cx="240.7" cy="832.4" r="2.3"/><circle cx="227.3" cy="843.1" r="2.3"/><circle cx="245.7" cy="851.2" r="2.3"/><circle cx="228.2" cy="855.8" r="2.3"/><circle cx="234.1" cy="868" r="2.3"/><circle cx="218.8" cy="882.1" r="2.3"/><circle cx="232.9" cy="860.4" r="2.3"/><circle cx="221.3" cy="889.4" r="2.3"/><circle cx="228.7" cy="838.2" r="2.3"/><circle cx="272.5" cy="815.4" r="2.3"/><circle cx="226.2" cy="852.1" r="2.3"/><circle cx="253.5" cy="811" r="2.3"/><circle cx="228.6" cy="858" r="2.3"/><circle cx="251.1" cy="859.2" r="2.3"/><circle cx="252.7" cy="852.8" r="2.3"/><circle cx="238.3" cy="833.2" r="2.3"/><circle cx="242.2" cy="845.5" r="2.3"/><circle cx="268" cy="847.3" r="2.3"/><circle cx="263" cy="832.4" r="2.3"/><circle cx="236.5" cy="871.8" r="2.3"/><circle cx="258.1" cy="822.1" r="2.3"/><circle cx="245.1" cy="878.8" r="2.3"/><circle cx="258.5" cy="867" r="2.3"/><circle cx="259.4" cy="866.8" r="2.3"/><circle cx="270" cy="857" r="2.3"/><circle cx="254.7" cy="852.4" r="2.3"/><circle cx="257.9" cy="861.2" r="2.3"/><circle cx="252.2" cy="836.8" r="2.3"/><circle cx="255.8" cy="844.2" r="2.3"/><circle cx="222.2" cy="866.7" r="2.3"/><circle cx="273.2" cy="805.8" r="2.3"/><circle cx="252.1" cy="858.9" r="2.3"/><circle cx="210.6" cy="768.4" r="2.3"/><circle cx="210.1" cy="781.1" r="2.3"/><circle cx="212.6" cy="778.6" r="2.3"/><circle cx="211.8" cy="793.9" r="2.3"/><circle cx="211.8" cy="805.3" r="2.3"/><circle cx="213.1" cy="815.5" r="2.3"/><circle cx="206.7" cy="817.6" r="2.3"/><circle cx="212.6" cy="832.1" r="2.3"/><circle cx="214.4" cy="836.7" r="2.3"/><circle cx="218.2" cy="898.3" r="2.3"/><circle cx="219.5" cy="903.4" r="2.3"/><circle cx="220.8" cy="913.6" r="2.3"/><circle cx="221.3" cy="918.7" r="2.3"/><circle cx="216.9" cy="867.7" r="2.3"/><circle cx="217.7" cy="872.8" r="2.3"/><circle cx="224.6" cy="951.8" r="2.3"/><circle cx="225.3" cy="967.1" r="2.3"/><circle cx="253.9" cy="764.6" r="2.3"/><circle cx="264.8" cy="907.2" r="2.3"/><circle cx="233.5" cy="898.3" r="2.3"/><circle cx="299.7" cy="1000.2" r="2.3"/><circle cx="321.4" cy="998.9" r="2.3"/><circle cx="475.5" cy="844.8" r="2.3"/><circle cx="534" cy="852.5" r="2.3"/><circle cx="401.6" cy="855" r="2.3"/><circle cx="402.9" cy="857.5" r="2.3"/><circle cx="439.8" cy="883" r="2.3"/><circle cx="499.7" cy="886.8" r="2.3"/><circle cx="360.8" cy="900.8" r="2.3"/><circle cx="339.2" cy="903.4" r="2.3"/><circle cx="315" cy="865.2" r="2.3"/><circle cx="325.2" cy="870.3" r="2.3"/><circle cx="301" cy="816.8" r="2.3"/><circle cx="294.6" cy="810.4" r="2.3"/><circle cx="289.5" cy="732.7" r="2.3"/><circle cx="289" cy="758.2" r="2.3"/><circle cx="290" cy="768.4" r="2.3"/><circle cx="627.9" cy="925.1" r="2.3"/><circle cx="566.7" cy="917.5" r="2.3"/><circle cx="566.7" cy="923.9" r="2.3"/><circle cx="666.1" cy="1093.3" r="2.3"/><circle cx="686.5" cy="1116.2" r="2.3"/><circle cx="703" cy="1104.7" r="2.3"/><circle cx="773.1" cy="1094.5" r="2.3"/><circle cx="773.1" cy="1104.7" r="2.3"/><circle cx="813.8" cy="1092" r="2.3"/><circle cx="829.1" cy="1093.3" r="2.3"/><circle cx="576.9" cy="1037.2" r="2.3"/><circle cx="798.5" cy="1228.2" r="2.3"/><circle cx="457.5" cy="1062.5" r="2.3"/></g>
<path d="M271.7,804.1 L274.2,783.7 L278.1,745.5 L280.6,730.2 L284.4,735.3 L288.3,745.5 L290.8,791.3 L294.6,809.1 L297.2,834.6 L297.4,860 L300.1,886.8 L306.8,892.2 L326.9,906.9 L333.6,920.3 L337.7,935.1 L347,937.8 L355.1,919 L361.8,917.7 L368.5,927 L376.5,944.5 L385.9,945.8 L392.6,932.4 L395.3,900.2 L400.7,889.5 L406,892.2 L408.7,913.6 L410.1,940.5 L418.1,945.8 L422.1,936.4 L431.5,932.4 L438.2,916.3 L443.6,937.8 L451.6,937.8 L459.7,947.2 L465,947.2 L470.4,940.5 L478.4,945.8 L483.8,929.7 L491.9,908.3 L499.9,913.6 L502.6,933.7 L507.9,953.9 L516.7,956.3 L523.4,930.8 L530.1,892 L532.8,889.3 L539.5,908 L547.5,933.5 L550.2,956.3 L556.9,944.2 L566.3,936.2 L573,940.2 L577,953.6 L582.4,976.4 L590.5,993.9 L595.8,1007.3 L601.2,983.1 L606.5,985.8 L611.9,993.9 L615.9,977.8 L621.3,960.3 L626.7,933.5 L634.7,934.9 L638.7,956.3 L644.1,983.1 L649.4,1000.6 L653.5,985.8 L657.5,975.1 L661.5,972.4 L665.5,1000.6 L666.9,1020.7 L673.6,1034.1 L680.3,1047.5 L684.3,1060.9 L691,1067.6 L697.7,1060.9 L703.1,1047.5 L704.4,1074.3 L708.1,1114.9 L715.8,1099.6 L725.9,1092 L741.2,1099.6 L748.9,1102.2 L759.1,1127.6 L764.1,1140.4 L771.8,1120 L779.4,1114.9 L787.1,1140.4 L794.7,1155.7 L802.4,1170.9 L807.4,1165.8 L811.3,1127.6 L815.1,1094.5 L822.7,1094.5 L829.1,1094.5 L830.9,1130.2 L830.4,1155.7 L825.3,1160.7 L815.1,1176 L810,1211.7 L803.6,1238.4 L797.3,1227 L789.6,1211.7 L782,1196.4 L774.3,1168.4 L766.7,1186.2 L756.5,1186.2 L743.8,1186.2 L733.6,1170.9 L720.8,1155.7 L713.2,1150.6 L708.1,1140.4 L704.4,1100.1 L697.7,1098.4 L684.3,1100.1 L670.9,1087.7 L664.2,1078.3 L657.5,1070.3 L652.1,1066.3 L646.8,1034.1 L641.4,1020.7 L634.7,980.5 L628,993.9 L622.6,1007.3 L617.3,1020.7 L611.9,1034.1 L603.9,1044.8 L597.2,1055.5 L590.5,1040.8 L583.7,1030.1 L571.7,1018 L567.7,1020.7 L566.3,1047.5 L558.3,1060.9 L550.2,1054.2 L540.8,1026 L536.8,1007.3 L531.5,972.4 L526.1,980.5 L520.7,1034.1 L515.4,1046.2 L510,1044.8 L514.6,1046.4 L507.9,1039.7 L499.9,1024.9 L497.2,1007.5 L489.2,1028.9 L481.1,1014.2 L474.4,1007.5 L467.7,1027.6 L458.3,1034.3 L447.6,1031.6 L438.2,1020.9 L434.2,994.1 L430.2,991.4 L424.8,1018.2 L414.1,1020.9 L406,1007.5 L400.7,980.7 L398,964.6 L395.3,974 L391.3,1000.8 L381.9,1019.6 L373.9,1007.5 L365.8,1012.9 L356.4,1007.5 L349.7,1000.8 L344.4,1027.6 L337.7,1011.5 L331,1004.8 L328.3,984.7 L326.9,953.9 L324.2,967.3 L320.2,984.7 L310.8,986 L301.5,975.3 L293.4,940.5 L285.4,886.8 L281.9,842.3 L274.2,844.8 L271.7,827 Z" fill="#000"/>
<g fill="#000"><circle cx="271.5" cy="804.3" r="2.3"/><circle cx="273.8" cy="801" r="2.3"/><circle cx="272.5" cy="798.6" r="2.3"/><circle cx="271.5" cy="795.4" r="2.3"/><circle cx="273.7" cy="793.6" r="2.3"/><circle cx="271.9" cy="788.7" r="2.3"/><circle cx="272.2" cy="787.8" r="2.3"/><circle cx="275" cy="781.8" r="2.3"/><circle cx="276.5" cy="782.6" r="2.3"/><circle cx="275.4" cy="778.3" r="2.3"/><circle cx="273.8" cy="772.9" r="2.3"/><circle cx="275.5" cy="770.2" r="2.3"/><circle cx="274.5" cy="768" r="2.3"/><circle cx="274.1" cy="765.9" r="2.3"/><circle cx="276.1" cy="764.5" r="2.3"/><circle cx="276.7" cy="760.7" r="2.3"/><circle cx="276.9" cy="757.9" r="2.3"/><circle cx="277" cy="753.4" r="2.3"/><circle cx="279.5" cy="753.3" r="2.3"/><circle cx="279.1" cy="749.2" r="2.3"/><circle cx="277.3" cy="744.4" r="2.3"/><circle cx="277.6" cy="741.2" r="2.3"/><circle cx="280" cy="740" r="2.3"/><circle cx="280.7" cy="737.4" r="2.3"/><circle cx="281.6" cy="736.7" r="2.3"/><circle cx="278.2" cy="731.6" r="2.3"/><circle cx="282.3" cy="730.1" r="2.3"/><circle cx="283.8" cy="731.5" r="2.3"/><circle cx="281.5" cy="734.1" r="2.3"/><circle cx="285.5" cy="734.4" r="2.3"/><circle cx="283.7" cy="737.2" r="2.3"/><circle cx="288.2" cy="741.4" r="2.3"/><circle cx="285.8" cy="741.9" r="2.3"/><circle cx="286.7" cy="743.7" r="2.3"/><circle cx="289.6" cy="747" r="2.3"/><circle cx="288.8" cy="751" r="2.3"/><circle cx="287.5" cy="755" r="2.3"/><circle cx="287.4" cy="757.5" r="2.3"/><circle cx="287.5" cy="759.5" r="2.3"/><circle cx="288.1" cy="761.7" r="2.3"/><circle cx="291.3" cy="766.7" r="2.3"/><circle cx="288.7" cy="769.9" r="2.3"/><circle cx="288.5" cy="770.8" r="2.3"/><circle cx="291.3" cy="774.7" r="2.3"/><circle cx="288.4" cy="778.9" r="2.3"/><circle cx="289" cy="778.9" r="2.3"/><circle cx="291.4" cy="782" r="2.3"/><circle cx="289.7" cy="783.9" r="2.3"/><circle cx="289" cy="788.8" r="2.3"/><circle cx="289.8" cy="791.7" r="2.3"/><circle cx="290.8" cy="793.7" r="2.3"/><circle cx="293.7" cy="796.3" r="2.3"/><circle cx="292.7" cy="800.4" r="2.3"/><circle cx="291.7" cy="800.1" r="2.3"/><circle cx="295.2" cy="805.3" r="2.3"/><circle cx="293.1" cy="805.4" r="2.3"/><circle cx="295.6" cy="810.9" r="2.3"/><circle cx="293.7" cy="813.8" r="2.3"/><circle cx="296.7" cy="815.2" r="2.3"/><circle cx="295.2" cy="816.1" r="2.3"/><circle cx="293.9" cy="822.3" r="2.3"/><circle cx="295" cy="824.1" r="2.3"/><circle cx="295.3" cy="827.4" r="2.3"/><circle cx="297" cy="828.1" r="2.3"/><circle cx="295.6" cy="832.7" r="2.3"/><circle cx="295.4" cy="833.5" r="2.3"/><circle cx="297.4" cy="838.9" r="2.3"/><circle cx="297.7" cy="839.4" r="2.3"/><circle cx="298.9" cy="841.9" r="2.3"/><circle cx="295.4" cy="845" r="2.3"/><circle cx="297.1" cy="847" r="2.3"/><circle cx="296" cy="851" r="2.3"/><circle cx="297.7" cy="852.9" r="2.3"/><circle cx="296.9" cy="858.7" r="2.3"/><circle cx="299.4" cy="860.6" r="2.3"/><circle cx="298.5" cy="863.3" r="2.3"/><circle cx="296.6" cy="864.1" r="2.3"/><circle cx="296.4" cy="870.6" r="2.3"/><circle cx="299.4" cy="873.8" r="2.3"/><circle cx="297" cy="875.4" r="2.3"/><circle cx="299.1" cy="878.8" r="2.3"/><circle cx="298.8" cy="882.9" r="2.3"/><circle cx="298.1" cy="884" r="2.3"/><circle cx="301.1" cy="888.4" r="2.3"/><circle cx="303.3" cy="889.4" r="2.3"/><circle cx="305.8" cy="892.1" r="2.3"/><circle cx="306.2" cy="892.9" r="2.3"/><circle cx="310.7" cy="895.3" r="2.3"/><circle cx="311" cy="896.6" r="2.3"/><circle cx="315" cy="897.4" r="2.3"/><circle cx="316.3" cy="898.3" r="2.3"/><circle cx="318.3" cy="900.8" r="2.3"/><circle cx="318.5" cy="902.6" r="2.3"/><circle cx="324.4" cy="905.2" r="2.3"/><circle cx="325.6" cy="904.8" r="2.3"/><circle cx="327.9" cy="907.3" r="2.3"/><circle cx="328" cy="911" r="2.3"/><circle cx="327.9" cy="913.3" r="2.3"/><circle cx="329.1" cy="915.4" r="2.3"/><circle cx="332.2" cy="916.6" r="2.3"/><circle cx="334.4" cy="920.3" r="2.3"/><circle cx="334.8" cy="924.5" r="2.3"/><circle cx="334" cy="923.3" r="2.3"/><circle cx="334.8" cy="928.4" r="2.3"/><circle cx="335.1" cy="928.8" r="2.3"/><circle cx="338.6" cy="933.3" r="2.3"/><circle cx="337.4" cy="936.7" r="2.3"/><circle cx="339.3" cy="936.4" r="2.3"/><circle cx="341.1" cy="936.2" r="2.3"/><circle cx="345.9" cy="938.8" r="2.3"/><circle cx="348.6" cy="937.3" r="2.3"/><circle cx="348.5" cy="934.4" r="2.3"/><circle cx="347.9" cy="932.4" r="2.3"/><circle cx="351.8" cy="931.1" r="2.3"/><circle cx="352.5" cy="928.8" r="2.3"/><circle cx="351.9" cy="923" r="2.3"/><circle cx="353.7" cy="920.8" r="2.3"/><circle cx="353.9" cy="918.7" r="2.3"/><circle cx="357.8" cy="918.5" r="2.3"/><circle cx="358.8" cy="919.5" r="2.3"/><circle cx="363.7" cy="917.5" r="2.3"/><circle cx="361.8" cy="918.1" r="2.3"/><circle cx="366.6" cy="920.5" r="2.3"/><circle cx="367.7" cy="925" r="2.3"/><circle cx="367.7" cy="928.2" r="2.3"/><circle cx="367.7" cy="928.1" r="2.3"/><circle cx="370.6" cy="930.1" r="2.3"/><circle cx="373.3" cy="933.5" r="2.3"/><circle cx="371.7" cy="935.2" r="2.3"/><circle cx="374.8" cy="939.3" r="2.3"/><circle cx="375.9" cy="942.6" r="2.3"/><circle cx="377.8" cy="946.3" r="2.3"/><circle cx="379.6" cy="943.6" r="2.3"/><circle cx="381.1" cy="943.9" r="2.3"/><circle cx="381.6" cy="945.4" r="2.3"/><circle cx="386.8" cy="944.5" r="2.3"/><circle cx="386.4" cy="942.5" r="2.3"/><circle cx="389.4" cy="940.5" r="2.3"/><circle cx="390.4" cy="938.8" r="2.3"/><circle cx="390.9" cy="936.3" r="2.3"/><circle cx="394.3" cy="930.8" r="2.3"/><circle cx="394.6" cy="930.4" r="2.3"/><circle cx="391.6" cy="926.4" r="2.3"/><circle cx="393.9" cy="925.3" r="2.3"/><circle cx="393.1" cy="921" r="2.3"/><circle cx="395.4" cy="919" r="2.3"/><circle cx="395.9" cy="914.7" r="2.3"/><circle cx="394.9" cy="910.7" r="2.3"/><circle cx="395.5" cy="910.3" r="2.3"/><circle cx="395.4" cy="906.9" r="2.3"/><circle cx="393.9" cy="904.8" r="2.3"/><circle cx="397.2" cy="902.1" r="2.3"/><circle cx="396.8" cy="898.7" r="2.3"/><circle cx="397.3" cy="896.5" r="2.3"/><circle cx="400.8" cy="891.6" r="2.3"/><circle cx="399" cy="889.3" r="2.3"/><circle cx="403.6" cy="891.9" r="2.3"/><circle cx="406" cy="890.3" r="2.3"/><circle cx="407.6" cy="893.1" r="2.3"/><circle cx="407.9" cy="896.2" r="2.3"/><circle cx="406.4" cy="901.4" r="2.3"/><circle cx="405.9" cy="901.5" r="2.3"/><circle cx="407.8" cy="906.5" r="2.3"/><circle cx="409.4" cy="909" r="2.3"/><circle cx="410.2" cy="910.9" r="2.3"/><circle cx="410.5" cy="912" r="2.3"/><circle cx="407.8" cy="916.7" r="2.3"/><circle cx="408.2" cy="920.5" r="2.3"/><circle cx="409.7" cy="922.7" r="2.3"/><circle cx="410.7" cy="925.8" r="2.3"/><circle cx="408.7" cy="928.1" r="2.3"/><circle cx="411" cy="933.1" r="2.3"/><circle cx="408.6" cy="935.9" r="2.3"/><circle cx="411.8" cy="937.6" r="2.3"/><circle cx="410.4" cy="939.3" r="2.3"/><circle cx="412.2" cy="941.8" r="2.3"/><circle cx="414.5" cy="941.2" r="2.3"/><circle cx="418" cy="944.5" r="2.3"/><circle cx="417.7" cy="947" r="2.3"/><circle cx="419.4" cy="943.4" r="2.3"/><circle cx="420.9" cy="939.4" r="2.3"/><circle cx="421.3" cy="938.4" r="2.3"/><circle cx="424" cy="938.1" r="2.3"/><circle cx="423.6" cy="935.3" r="2.3"/><circle cx="425.3" cy="934.2" r="2.3"/><circle cx="430.4" cy="935" r="2.3"/><circle cx="431.4" cy="931.7" r="2.3"/><circle cx="431.4" cy="930.2" r="2.3"/><circle cx="435.5" cy="925.6" r="2.3"/><circle cx="436" cy="922.5" r="2.3"/><circle cx="434.8" cy="920.6" r="2.3"/><circle cx="437.9" cy="918.3" r="2.3"/><circle cx="437.6" cy="916.8" r="2.3"/><circle cx="437.3" cy="919.9" r="2.3"/><circle cx="438.1" cy="921.7" r="2.3"/><circle cx="439.2" cy="923.2" r="2.3"/><circle cx="441" cy="926.8" r="2.3"/><circle cx="441.1" cy="929.4" r="2.3"/><circle cx="442.4" cy="931" r="2.3"/><circle cx="441.7" cy="935.6" r="2.3"/><circle cx="444.1" cy="937.9" r="2.3"/><circle cx="447.7" cy="938.2" r="2.3"/><circle cx="450.4" cy="936.7" r="2.3"/><circle cx="452.6" cy="939" r="2.3"/><circle cx="454.8" cy="938.9" r="2.3"/><circle cx="454.1" cy="943.2" r="2.3"/><circle cx="455.3" cy="945.4" r="2.3"/><circle cx="459.6" cy="943.8" r="2.3"/><circle cx="458.6" cy="948.1" r="2.3"/><circle cx="461.4" cy="945.5" r="2.3"/><circle cx="466.4" cy="946.8" r="2.3"/><circle cx="468" cy="943.4" r="2.3"/><circle cx="468.2" cy="943.4" r="2.3"/><circle cx="468.5" cy="939.3" r="2.3"/><circle cx="473.1" cy="943.4" r="2.3"/><circle cx="476.3" cy="941.6" r="2.3"/><circle cx="476.5" cy="945.5" r="2.3"/><circle cx="478.5" cy="946.6" r="2.3"/><circle cx="478.1" cy="941.4" r="2.3"/><circle cx="478.7" cy="938.6" r="2.3"/><circle cx="481.3" cy="937.8" r="2.3"/><circle cx="482.3" cy="933.7" r="2.3"/><circle cx="481.7" cy="931.2" r="2.3"/><circle cx="485.2" cy="931.7" r="2.3"/><circle cx="486.5" cy="925.4" r="2.3"/><circle cx="484.1" cy="926.2" r="2.3"/><circle cx="486.7" cy="922.7" r="2.3"/><circle cx="487.1" cy="918.9" r="2.3"/><circle cx="488.9" cy="916" r="2.3"/><circle cx="490.2" cy="911.7" r="2.3"/><circle cx="491.7" cy="912.3" r="2.3"/><circle cx="490.6" cy="908.1" r="2.3"/><circle cx="494.8" cy="909.2" r="2.3"/><circle cx="494.7" cy="909.6" r="2.3"/><circle cx="497.9" cy="910.4" r="2.3"/><circle cx="501.5" cy="914.8" r="2.3"/><circle cx="501.1" cy="917.9" r="2.3"/><circle cx="501.2" cy="919" r="2.3"/><circle cx="501.4" cy="922.3" r="2.3"/><circle cx="503.4" cy="926.3" r="2.3"/><circle cx="500.8" cy="929.6" r="2.3"/><circle cx="503.2" cy="932" r="2.3"/><circle cx="503.8" cy="933.4" r="2.3"/><circle cx="504.9" cy="938.1" r="2.3"/><circle cx="504.9" cy="940.6" r="2.3"/><circle cx="505.9" cy="942" r="2.3"/><circle cx="506.5" cy="943.5" r="2.3"/><circle cx="505.8" cy="948" r="2.3"/><circle cx="505.2" cy="950.4" r="2.3"/><circle cx="508.5" cy="954.4" r="2.3"/><circle cx="509.1" cy="956.3" r="2.3"/><circle cx="513" cy="954.4" r="2.3"/><circle cx="515.2" cy="956" r="2.3"/><circle cx="516.8" cy="955.9" r="2.3"/><circle cx="519.4" cy="954.1" r="2.3"/><circle cx="519" cy="951.7" r="2.3"/><circle cx="520.9" cy="945.9" r="2.3"/><circle cx="520.1" cy="945.9" r="2.3"/><circle cx="519.5" cy="941.8" r="2.3"/><circle cx="519.4" cy="938.1" r="2.3"/><circle cx="521.4" cy="934.9" r="2.3"/><circle cx="521.7" cy="935.3" r="2.3"/><circle cx="523.6" cy="930.9" r="2.3"/><circle cx="525.8" cy="928.3" r="2.3"/><circle cx="526.3" cy="925.8" r="2.3"/><circle cx="526.1" cy="920.8" r="2.3"/><circle cx="525.7" cy="920.8" r="2.3"/><circle cx="524" cy="918.7" r="2.3"/><circle cx="524.9" cy="914.1" r="2.3"/><circle cx="525.4" cy="911.4" r="2.3"/><circle cx="527.7" cy="906.9" r="2.3"/><circle cx="529.5" cy="905.5" r="2.3"/><circle cx="528.3" cy="903.5" r="2.3"/><circle cx="528.1" cy="899.4" r="2.3"/><circle cx="529.8" cy="897.8" r="2.3"/><circle cx="528.8" cy="895.6" r="2.3"/><circle cx="529.3" cy="890" r="2.3"/><circle cx="530.4" cy="888.8" r="2.3"/><circle cx="531.4" cy="890.3" r="2.3"/><circle cx="533.3" cy="893.5" r="2.3"/><circle cx="535.7" cy="892.8" r="2.3"/><circle cx="537.6" cy="899.1" r="2.3"/><circle cx="534.9" cy="901.6" r="2.3"/><circle cx="537.3" cy="902.6" r="2.3"/><circle cx="540.4" cy="904.3" r="2.3"/><circle cx="539.6" cy="909.8" r="2.3"/><circle cx="541.3" cy="910.7" r="2.3"/><circle cx="543.2" cy="915" r="2.3"/><circle cx="542.6" cy="915" r="2.3"/><circle cx="543.6" cy="919.2" r="2.3"/><circle cx="542.8" cy="920.4" r="2.3"/><circle cx="545" cy="923.5" r="2.3"/><circle cx="545.5" cy="928.5" r="2.3"/><circle cx="546.5" cy="929.7" r="2.3"/><circle cx="547.9" cy="933.2" r="2.3"/><circle cx="549" cy="936.5" r="2.3"/><circle cx="550.2" cy="941" r="2.3"/><circle cx="549.5" cy="941" r="2.3"/><circle cx="547.3" cy="946.5" r="2.3"/><circle cx="550.4" cy="948.3" r="2.3"/><circle cx="549" cy="949.7" r="2.3"/><circle cx="550.6" cy="953.7" r="2.3"/><circle cx="550.6" cy="956.8" r="2.3"/><circle cx="552.6" cy="952.7" r="2.3"/><circle cx="551.9" cy="953.4" r="2.3"/><circle cx="555.9" cy="950.6" r="2.3"/><circle cx="553.7" cy="944.9" r="2.3"/><circle cx="556" cy="943.9" r="2.3"/><circle cx="559.3" cy="941" r="2.3"/><circle cx="560.9" cy="939.3" r="2.3"/><circle cx="560.9" cy="940.1" r="2.3"/><circle cx="564.6" cy="938.3" r="2.3"/><circle cx="565.8" cy="936.1" r="2.3"/><circle cx="567.4" cy="936.9" r="2.3"/><circle cx="571.8" cy="940.2" r="2.3"/><circle cx="571.3" cy="938.7" r="2.3"/><circle cx="575.1" cy="943.4" r="2.3"/><circle cx="575.7" cy="944.4" r="2.3"/><circle cx="575.1" cy="947.3" r="2.3"/><circle cx="577.5" cy="950.4" r="2.3"/><circle cx="577.7" cy="955.6" r="2.3"/><circle cx="577" cy="956.7" r="2.3"/><circle cx="579.4" cy="961" r="2.3"/><circle cx="578.8" cy="961.7" r="2.3"/><circle cx="578.1" cy="966.5" r="2.3"/><circle cx="578.7" cy="966.2" r="2.3"/><circle cx="581.3" cy="970.7" r="2.3"/><circle cx="582.5" cy="972.8" r="2.3"/><circle cx="583.5" cy="974.7" r="2.3"/><circle cx="582.4" cy="979.6" r="2.3"/><circle cx="583" cy="980.6" r="2.3"/><circle cx="586.8" cy="984.7" r="2.3"/><circle cx="586.1" cy="985" r="2.3"/><circle cx="587.6" cy="989.8" r="2.3"/><circle cx="588.8" cy="989.8" r="2.3"/><circle cx="591.3" cy="994.1" r="2.3"/><circle cx="593.2" cy="998.3" r="2.3"/><circle cx="594.2" cy="999" r="2.3"/><circle cx="594.9" cy="1001.1" r="2.3"/><circle cx="594" cy="1004.2" r="2.3"/><circle cx="597.6" cy="1008.8" r="2.3"/><circle cx="595.4" cy="1004" r="2.3"/><circle cx="596.5" cy="1001.4" r="2.3"/><circle cx="597.2" cy="998.8" r="2.3"/><circle cx="597" cy="996.8" r="2.3"/><circle cx="600" cy="994" r="2.3"/><circle cx="600.7" cy="991.4" r="2.3"/><circle cx="598.7" cy="989.5" r="2.3"/><circle cx="602.1" cy="984.9" r="2.3"/><circle cx="599.3" cy="983.2" r="2.3"/><circle cx="604" cy="984.7" r="2.3"/><circle cx="608.4" cy="986.4" r="2.3"/><circle cx="609.1" cy="986.1" r="2.3"/><circle cx="609.4" cy="991" r="2.3"/><circle cx="608.9" cy="990.2" r="2.3"/><circle cx="612.9" cy="995.5" r="2.3"/><circle cx="610.9" cy="991.7" r="2.3"/><circle cx="611.8" cy="989.5" r="2.3"/><circle cx="614.5" cy="984.8" r="2.3"/><circle cx="613.5" cy="984.2" r="2.3"/><circle cx="615.3" cy="981.5" r="2.3"/><circle cx="615.5" cy="977.1" r="2.3"/><circle cx="618.6" cy="976" r="2.3"/><circle cx="617.4" cy="972.9" r="2.3"/><circle cx="619.1" cy="971.1" r="2.3"/><circle cx="620.7" cy="967.5" r="2.3"/><circle cx="621.1" cy="966" r="2.3"/><circle cx="621.9" cy="964.1" r="2.3"/><circle cx="622.6" cy="961.9" r="2.3"/><circle cx="623.7" cy="958.2" r="2.3"/><circle cx="622.5" cy="955.8" r="2.3"/><circle cx="624.1" cy="952" r="2.3"/><circle cx="623.1" cy="948.2" r="2.3"/><circle cx="624.9" cy="948.9" r="2.3"/><circle cx="624" cy="942.9" r="2.3"/><circle cx="623.9" cy="941.3" r="2.3"/><circle cx="624.7" cy="940.8" r="2.3"/><circle cx="624.4" cy="935.4" r="2.3"/><circle cx="625.1" cy="934.1" r="2.3"/><circle cx="630.4" cy="932.7" r="2.3"/><circle cx="630.3" cy="934.2" r="2.3"/><circle cx="635" cy="936.5" r="2.3"/><circle cx="633.3" cy="936" r="2.3"/><circle cx="634.4" cy="939.1" r="2.3"/><circle cx="635.1" cy="943.8" r="2.3"/><circle cx="637.1" cy="944.5" r="2.3"/><circle cx="636" cy="947.4" r="2.3"/><circle cx="636.4" cy="952" r="2.3"/><circle cx="637.5" cy="953.8" r="2.3"/><circle cx="640" cy="956.2" r="2.3"/><circle cx="638.3" cy="960.5" r="2.3"/><circle cx="641.5" cy="961" r="2.3"/><circle cx="640.5" cy="966.2" r="2.3"/><circle cx="640.8" cy="965.9" r="2.3"/><circle cx="639.6" cy="971.5" r="2.3"/><circle cx="643.1" cy="971.9" r="2.3"/><circle cx="642.6" cy="975.2" r="2.3"/><circle cx="642.1" cy="979.7" r="2.3"/><circle cx="644.2" cy="979.4" r="2.3"/><circle cx="642.1" cy="983" r="2.3"/><circle cx="644.3" cy="986.8" r="2.3"/><circle cx="646.5" cy="988.5" r="2.3"/><circle cx="645" cy="989.2" r="2.3"/><circle cx="646.4" cy="992.1" r="2.3"/><circle cx="649.4" cy="995.6" r="2.3"/><circle cx="649.2" cy="1000" r="2.3"/><circle cx="648.5" cy="1000.7" r="2.3"/><circle cx="648.7" cy="999.2" r="2.3"/><circle cx="648.8" cy="996.9" r="2.3"/><circle cx="652.8" cy="994.5" r="2.3"/><circle cx="650.5" cy="989.8" r="2.3"/><circle cx="653.7" cy="986.7" r="2.3"/><circle cx="653.4" cy="985.7" r="2.3"/><circle cx="656.3" cy="983.5" r="2.3"/><circle cx="656.9" cy="979.7" r="2.3"/><circle cx="657.6" cy="977.4" r="2.3"/><circle cx="659.2" cy="973.5" r="2.3"/><circle cx="660.8" cy="972.6" r="2.3"/><circle cx="661.7" cy="972.5" r="2.3"/><circle cx="660.5" cy="976.5" r="2.3"/><circle cx="661.6" cy="977.3" r="2.3"/><circle cx="661" cy="980.1" r="2.3"/><circle cx="663" cy="984.5" r="2.3"/><circle cx="663" cy="987.2" r="2.3"/><circle cx="662.4" cy="988.9" r="2.3"/><circle cx="664.2" cy="994" r="2.3"/><circle cx="666.1" cy="995.5" r="2.3"/><circle cx="663.2" cy="997.3" r="2.3"/><circle cx="666.4" cy="999.5" r="2.3"/><circle cx="666" cy="1003.3" r="2.3"/><circle cx="664" cy="1008.3" r="2.3"/><circle cx="667.3" cy="1008" r="2.3"/><circle cx="666.8" cy="1011.2" r="2.3"/><circle cx="666" cy="1015.1" r="2.3"/><circle cx="665.9" cy="1017.2" r="2.3"/><circle cx="666.4" cy="1021.3" r="2.3"/><circle cx="667.2" cy="1022.2" r="2.3"/><circle cx="670.5" cy="1025.4" r="2.3"/><circle cx="672.7" cy="1029" r="2.3"/><circle cx="673.1" cy="1030.7" r="2.3"/><circle cx="674.9" cy="1032.5" r="2.3"/><circle cx="673.5" cy="1035.1" r="2.3"/><circle cx="677" cy="1040.3" r="2.3"/><circle cx="676.3" cy="1041.7" r="2.3"/><circle cx="680.3" cy="1045.2" r="2.3"/><circle cx="678.6" cy="1046.4" r="2.3"/><circle cx="679.7" cy="1048.7" r="2.3"/><circle cx="681.5" cy="1051.1" r="2.3"/><circle cx="684.4" cy="1055.2" r="2.3"/><circle cx="683.6" cy="1058.8" r="2.3"/><circle cx="685.4" cy="1062.2" r="2.3"/><circle cx="685.5" cy="1061.9" r="2.3"/><circle cx="687.3" cy="1062.3" r="2.3"/><circle cx="688.9" cy="1066.7" r="2.3"/><circle cx="692.9" cy="1068.8" r="2.3"/><circle cx="693.3" cy="1066.4" r="2.3"/><circle cx="692.4" cy="1063.6" r="2.3"/><circle cx="695.4" cy="1063.2" r="2.3"/><circle cx="696.1" cy="1060.4" r="2.3"/><circle cx="698.8" cy="1059.4" r="2.3"/><circle cx="701.2" cy="1056" r="2.3"/><circle cx="699.6" cy="1053.9" r="2.3"/><circle cx="703.6" cy="1050.4" r="2.3"/><circle cx="702.5" cy="1047.5" r="2.3"/><circle cx="701.8" cy="1051.3" r="2.3"/><circle cx="705.3" cy="1053.5" r="2.3"/><circle cx="704.4" cy="1057.8" r="2.3"/><circle cx="702.5" cy="1061.2" r="2.3"/><circle cx="704.3" cy="1061.2" r="2.3"/><circle cx="702.3" cy="1064.3" r="2.3"/><circle cx="704.4" cy="1069.1" r="2.3"/><circle cx="703.6" cy="1073" r="2.3"/><circle cx="703.9" cy="1074.2" r="2.3"/><circle cx="703.2" cy="1079.1" r="2.3"/><circle cx="703.5" cy="1081.7" r="2.3"/><circle cx="705.4" cy="1083.3" r="2.3"/><circle cx="705.7" cy="1085" r="2.3"/><circle cx="707.4" cy="1090.8" r="2.3"/><circle cx="707.3" cy="1092.1" r="2.3"/><circle cx="704.8" cy="1095.9" r="2.3"/><circle cx="705.7" cy="1099.1" r="2.3"/><circle cx="705.8" cy="1100.7" r="2.3"/><circle cx="708.4" cy="1102" r="2.3"/><circle cx="707.5" cy="1104.5" r="2.3"/><circle cx="705.7" cy="1107.8" r="2.3"/><circle cx="709.8" cy="1113.8" r="2.3"/><circle cx="708.7" cy="1114.1" r="2.3"/><circle cx="710.1" cy="1113.3" r="2.3"/><circle cx="710.2" cy="1110.2" r="2.3"/><circle cx="713.1" cy="1105.3" r="2.3"/><circle cx="712" cy="1104.6" r="2.3"/><circle cx="713" cy="1101.7" r="2.3"/><circle cx="716" cy="1098.3" r="2.3"/><circle cx="717.9" cy="1097.1" r="2.3"/><circle cx="720.1" cy="1095.9" r="2.3"/><circle cx="722.4" cy="1093.2" r="2.3"/><circle cx="724.6" cy="1092.1" r="2.3"/><circle cx="727.8" cy="1092.4" r="2.3"/><circle cx="728.4" cy="1092.9" r="2.3"/><circle cx="731.5" cy="1095.3" r="2.3"/><circle cx="734.6" cy="1096.8" r="2.3"/><circle cx="736.1" cy="1099" r="2.3"/><circle cx="740" cy="1099.8" r="2.3"/><circle cx="740.9" cy="1099.4" r="2.3"/><circle cx="744" cy="1102.1" r="2.3"/><circle cx="746.4" cy="1101.4" r="2.3"/><circle cx="748.6" cy="1103.8" r="2.3"/><circle cx="749.2" cy="1102.9" r="2.3"/><circle cx="751.8" cy="1108.9" r="2.3"/><circle cx="752.8" cy="1110.2" r="2.3"/><circle cx="753.9" cy="1111.6" r="2.3"/><circle cx="754.3" cy="1113.2" r="2.3"/><circle cx="753.5" cy="1117.2" r="2.3"/><circle cx="756" cy="1119.6" r="2.3"/><circle cx="755.2" cy="1123.3" r="2.3"/><circle cx="758.1" cy="1124" r="2.3"/><circle cx="758.3" cy="1127.2" r="2.3"/><circle cx="759" cy="1128.5" r="2.3"/><circle cx="762.7" cy="1134.6" r="2.3"/><circle cx="762.8" cy="1136.7" r="2.3"/><circle cx="762.8" cy="1139" r="2.3"/><circle cx="763" cy="1141.4" r="2.3"/><circle cx="765.4" cy="1139.4" r="2.3"/><circle cx="764.5" cy="1136.4" r="2.3"/><circle cx="765.5" cy="1132.9" r="2.3"/><circle cx="769.8" cy="1128.2" r="2.3"/><circle cx="767.9" cy="1126.8" r="2.3"/><circle cx="769.2" cy="1123.3" r="2.3"/><circle cx="772.4" cy="1123.8" r="2.3"/><circle cx="771.4" cy="1119.4" r="2.3"/><circle cx="774" cy="1116.9" r="2.3"/><circle cx="773.7" cy="1119" r="2.3"/><circle cx="776.8" cy="1116.2" r="2.3"/><circle cx="781.2" cy="1116.8" r="2.3"/><circle cx="780.2" cy="1116.6" r="2.3"/><circle cx="780.3" cy="1122.3" r="2.3"/><circle cx="783.6" cy="1122.2" r="2.3"/><circle cx="784.2" cy="1125.6" r="2.3"/><circle cx="783.6" cy="1127.7" r="2.3"/><circle cx="786" cy="1133.9" r="2.3"/><circle cx="784.2" cy="1135.2" r="2.3"/><circle cx="785" cy="1139.1" r="2.3"/><circle cx="785.3" cy="1138.8" r="2.3"/><circle cx="789.2" cy="1142.2" r="2.3"/><circle cx="791.2" cy="1146.9" r="2.3"/><circle cx="791.7" cy="1146.6" r="2.3"/><circle cx="792.9" cy="1152.3" r="2.3"/><circle cx="793.2" cy="1151.4" r="2.3"/><circle cx="793.6" cy="1154.9" r="2.3"/><circle cx="796.8" cy="1157" r="2.3"/><circle cx="796" cy="1159.7" r="2.3"/><circle cx="799.2" cy="1164.5" r="2.3"/><circle cx="799.3" cy="1166.5" r="2.3"/><circle cx="802.6" cy="1168.7" r="2.3"/><circle cx="801.3" cy="1170.1" r="2.3"/><circle cx="805.8" cy="1169.9" r="2.3"/><circle cx="804.9" cy="1168.1" r="2.3"/><circle cx="805.8" cy="1167.8" r="2.3"/><circle cx="807.5" cy="1163" r="2.3"/><circle cx="808.2" cy="1158.1" r="2.3"/><circle cx="808.7" cy="1156.2" r="2.3"/><circle cx="807.6" cy="1155.3" r="2.3"/><circle cx="807.3" cy="1150.3" r="2.3"/><circle cx="810.2" cy="1147.2" r="2.3"/><circle cx="808.6" cy="1145.5" r="2.3"/><circle cx="808.5" cy="1143.9" r="2.3"/><circle cx="812" cy="1137.5" r="2.3"/><circle cx="810.2" cy="1137.5" r="2.3"/><circle cx="810.2" cy="1135.2" r="2.3"/><circle cx="811" cy="1129.3" r="2.3"/><circle cx="811.5" cy="1128.2" r="2.3"/><circle cx="811" cy="1125.5" r="2.3"/><circle cx="813" cy="1122.2" r="2.3"/><circle cx="812.2" cy="1120.7" r="2.3"/><circle cx="813.3" cy="1116.7" r="2.3"/><circle cx="814.7" cy="1112.5" r="2.3"/><circle cx="814.3" cy="1109.7" r="2.3"/><circle cx="813.9" cy="1107.3" r="2.3"/><circle cx="813.6" cy="1106.7" r="2.3"/><circle cx="815.3" cy="1104" r="2.3"/><circle cx="813.4" cy="1100" r="2.3"/><circle cx="813.7" cy="1097.6" r="2.3"/><circle cx="815.1" cy="1092.7" r="2.3"/><circle cx="818" cy="1095.4" r="2.3"/><circle cx="820.5" cy="1096" r="2.3"/><circle cx="821.5" cy="1093.1" r="2.3"/><circle cx="822.9" cy="1094.5" r="2.3"/><circle cx="826.7" cy="1094.3" r="2.3"/><circle cx="828.2" cy="1095.7" r="2.3"/><circle cx="827.5" cy="1099.1" r="2.3"/><circle cx="829.7" cy="1100.6" r="2.3"/><circle cx="830.7" cy="1102.4" r="2.3"/><circle cx="828.3" cy="1105.7" r="2.3"/><circle cx="828" cy="1108.6" r="2.3"/><circle cx="830.5" cy="1112.5" r="2.3"/><circle cx="829.2" cy="1115.7" r="2.3"/><circle cx="828.6" cy="1119.6" r="2.3"/><circle cx="829.1" cy="1120.3" r="2.3"/><circle cx="829.2" cy="1125" r="2.3"/><circle cx="832.1" cy="1128.4" r="2.3"/><circle cx="829.1" cy="1129.8" r="2.3"/><circle cx="830.3" cy="1131.9" r="2.3"/><circle cx="832.7" cy="1134" r="2.3"/><circle cx="830.7" cy="1139.7" r="2.3"/><circle cx="832.6" cy="1140.1" r="2.3"/><circle cx="830.4" cy="1145.3" r="2.3"/><circle cx="828.7" cy="1146.1" r="2.3"/><circle cx="832" cy="1148.6" r="2.3"/><circle cx="830" cy="1152" r="2.3"/><circle cx="830.1" cy="1154" r="2.3"/><circle cx="826.8" cy="1159.3" r="2.3"/><circle cx="828" cy="1160" r="2.3"/><circle cx="824.2" cy="1159.8" r="2.3"/><circle cx="824" cy="1161.9" r="2.3"/><circle cx="822.2" cy="1166.8" r="2.3"/><circle cx="820.4" cy="1166.6" r="2.3"/><circle cx="821.4" cy="1169.9" r="2.3"/><circle cx="816.2" cy="1171.3" r="2.3"/><circle cx="817.1" cy="1172.1" r="2.3"/><circle cx="814.5" cy="1176.8" r="2.3"/><circle cx="816.2" cy="1179.1" r="2.3"/><circle cx="815.9" cy="1181.4" r="2.3"/><circle cx="813.5" cy="1185.6" r="2.3"/><circle cx="813" cy="1188.1" r="2.3"/><circle cx="812" cy="1189.1" r="2.3"/><circle cx="811.5" cy="1192.7" r="2.3"/><circle cx="811" cy="1194" r="2.3"/><circle cx="810.8" cy="1197.8" r="2.3"/><circle cx="810.8" cy="1200.5" r="2.3"/><circle cx="813.1" cy="1204.2" r="2.3"/><circle cx="812.2" cy="1205" r="2.3"/><circle cx="809.9" cy="1207.2" r="2.3"/><circle cx="810.8" cy="1211.1" r="2.3"/><circle cx="808.5" cy="1212.4" r="2.3"/><circle cx="807.4" cy="1216.1" r="2.3"/><circle cx="807.7" cy="1221.4" r="2.3"/><circle cx="808.3" cy="1221.5" r="2.3"/><circle cx="806.3" cy="1223.7" r="2.3"/><circle cx="807.9" cy="1227.2" r="2.3"/><circle cx="806.6" cy="1231.3" r="2.3"/><circle cx="806.5" cy="1231.2" r="2.3"/><circle cx="803.6" cy="1235.3" r="2.3"/><circle cx="802" cy="1240" r="2.3"/><circle cx="801.7" cy="1237.2" r="2.3"/><circle cx="801.2" cy="1232.1" r="2.3"/><circle cx="799.4" cy="1230.5" r="2.3"/><circle cx="796.7" cy="1227.9" r="2.3"/><circle cx="797.6" cy="1225.1" r="2.3"/><circle cx="795.2" cy="1224.1" r="2.3"/><circle cx="794.9" cy="1220.4" r="2.3"/><circle cx="794.3" cy="1218.4" r="2.3"/><circle cx="793.1" cy="1217.5" r="2.3"/><circle cx="789.5" cy="1213.1" r="2.3"/><circle cx="788.7" cy="1212.5" r="2.3"/><circle cx="788" cy="1208.7" r="2.3"/><circle cx="788.5" cy="1205.5" r="2.3"/><circle cx="785" cy="1203.4" r="2.3"/><circle cx="783.4" cy="1199.7" r="2.3"/><circle cx="781.3" cy="1199.5" r="2.3"/><circle cx="782.2" cy="1197.6" r="2.3"/><circle cx="783.1" cy="1192.8" r="2.3"/><circle cx="781.1" cy="1192.5" r="2.3"/><circle cx="778.5" cy="1188.8" r="2.3"/><circle cx="779.6" cy="1187" r="2.3"/><circle cx="779.6" cy="1181.3" r="2.3"/><circle cx="777.9" cy="1178" r="2.3"/><circle cx="776.3" cy="1176.4" r="2.3"/><circle cx="774.1" cy="1173.5" r="2.3"/><circle cx="774.4" cy="1171.2" r="2.3"/><circle cx="773.5" cy="1167" r="2.3"/><circle cx="772.9" cy="1170.8" r="2.3"/><circle cx="770.8" cy="1174.1" r="2.3"/><circle cx="770" cy="1174.4" r="2.3"/><circle cx="769.3" cy="1178.3" r="2.3"/><circle cx="767.5" cy="1181.5" r="2.3"/><circle cx="768.6" cy="1183.9" r="2.3"/><circle cx="767.5" cy="1184.3" r="2.3"/><circle cx="763.7" cy="1185.7" r="2.3"/><circle cx="759.9" cy="1185.8" r="2.3"/><circle cx="757.3" cy="1186.2" r="2.3"/><circle cx="756.8" cy="1186.1" r="2.3"/><circle cx="753.3" cy="1185.2" r="2.3"/><circle cx="749.5" cy="1185.6" r="2.3"/><circle cx="750.4" cy="1186.5" r="2.3"/><circle cx="745.4" cy="1186.9" r="2.3"/><circle cx="742.5" cy="1186.1" r="2.3"/><circle cx="742.8" cy="1185.9" r="2.3"/><circle cx="740.3" cy="1182.2" r="2.3"/><circle cx="741.2" cy="1180.8" r="2.3"/><circle cx="738.5" cy="1178" r="2.3"/><circle cx="736.1" cy="1175" r="2.3"/><circle cx="734.1" cy="1174.4" r="2.3"/><circle cx="735.1" cy="1170.5" r="2.3"/><circle cx="733.4" cy="1166.9" r="2.3"/><circle cx="728.5" cy="1166.6" r="2.3"/><circle cx="727.4" cy="1163.8" r="2.3"/><circle cx="728.2" cy="1160.8" r="2.3"/><circle cx="723.3" cy="1158.9" r="2.3"/><circle cx="723.4" cy="1156.8" r="2.3"/><circle cx="718.8" cy="1155.8" r="2.3"/><circle cx="718.5" cy="1153.3" r="2.3"/><circle cx="717" cy="1153.7" r="2.3"/><circle cx="715.3" cy="1152.3" r="2.3"/><circle cx="713.4" cy="1151.9" r="2.3"/><circle cx="713.8" cy="1147.3" r="2.3"/><circle cx="710" cy="1147" r="2.3"/><circle cx="708.6" cy="1143.8" r="2.3"/><circle cx="708.9" cy="1141.1" r="2.3"/><circle cx="709.7" cy="1138.8" r="2.3"/><circle cx="706.2" cy="1135.1" r="2.3"/><circle cx="707.3" cy="1132" r="2.3"/><circle cx="706.5" cy="1128" r="2.3"/><circle cx="707.8" cy="1126.1" r="2.3"/><circle cx="705.5" cy="1122.1" r="2.3"/><circle cx="705.6" cy="1118.9" r="2.3"/><circle cx="706.1" cy="1115.8" r="2.3"/><circle cx="704" cy="1112.7" r="2.3"/><circle cx="703.9" cy="1112.4" r="2.3"/><circle cx="703.7" cy="1108.5" r="2.3"/><circle cx="706" cy="1105.7" r="2.3"/><circle cx="703.3" cy="1104.4" r="2.3"/><circle cx="705.9" cy="1098.3" r="2.3"/><circle cx="701.2" cy="1099.5" r="2.3"/><circle cx="701.1" cy="1098.6" r="2.3"/><circle cx="698.6" cy="1097.5" r="2.3"/><circle cx="695.9" cy="1098.1" r="2.3"/><circle cx="691.7" cy="1100.1" r="2.3"/><circle cx="691" cy="1100.7" r="2.3"/><circle cx="687.3" cy="1099.4" r="2.3"/><circle cx="685.1" cy="1100.5" r="2.3"/><circle cx="683.7" cy="1099.5" r="2.3"/><circle cx="679" cy="1096" r="2.3"/><circle cx="679.2" cy="1093.7" r="2.3"/><circle cx="675.4" cy="1091.1" r="2.3"/><circle cx="675.1" cy="1093" r="2.3"/><circle cx="674.7" cy="1088" r="2.3"/><circle cx="671.7" cy="1087.4" r="2.3"/><circle cx="669.8" cy="1085" r="2.3"/><circle cx="669.3" cy="1085" r="2.3"/><circle cx="664.1" cy="1081.5" r="2.3"/><circle cx="662.7" cy="1076.5" r="2.3"/><circle cx="661.7" cy="1077.2" r="2.3"/><circle cx="662.8" cy="1072.8" r="2.3"/><circle cx="658.5" cy="1070.4" r="2.3"/><circle cx="657.7" cy="1070.2" r="2.3"/><circle cx="655.2" cy="1068.2" r="2.3"/><circle cx="655.1" cy="1069" r="2.3"/><circle cx="651.3" cy="1065.8" r="2.3"/><circle cx="652.1" cy="1064.4" r="2.3"/><circle cx="653.1" cy="1060" r="2.3"/><circle cx="651.4" cy="1057.7" r="2.3"/><circle cx="651.4" cy="1053.2" r="2.3"/><circle cx="648.4" cy="1050.1" r="2.3"/><circle cx="650.9" cy="1047.7" r="2.3"/><circle cx="648.7" cy="1044.3" r="2.3"/><circle cx="647.5" cy="1040.9" r="2.3"/><circle cx="648" cy="1038.5" r="2.3"/><circle cx="647.8" cy="1036.1" r="2.3"/><circle cx="645.7" cy="1034" r="2.3"/><circle cx="645.2" cy="1030.4" r="2.3"/><circle cx="642.8" cy="1027" r="2.3"/><circle cx="645.1" cy="1025.3" r="2.3"/><circle cx="640.8" cy="1022.1" r="2.3"/><circle cx="641.3" cy="1022.7" r="2.3"/><circle cx="639.7" cy="1019.3" r="2.3"/><circle cx="640.4" cy="1014.6" r="2.3"/><circle cx="641.2" cy="1011.6" r="2.3"/><circle cx="637.7" cy="1009.4" r="2.3"/><circle cx="639.6" cy="1006.8" r="2.3"/><circle cx="637.6" cy="1005.2" r="2.3"/><circle cx="639.5" cy="1002.5" r="2.3"/><circle cx="637.3" cy="999" r="2.3"/><circle cx="638" cy="993.5" r="2.3"/><circle cx="634.7" cy="990.6" r="2.3"/><circle cx="634.6" cy="987.4" r="2.3"/><circle cx="635.1" cy="987.2" r="2.3"/><circle cx="634.4" cy="983.4" r="2.3"/><circle cx="632.7" cy="979.3" r="2.3"/><circle cx="635.2" cy="981.2" r="2.3"/><circle cx="632.1" cy="987.1" r="2.3"/><circle cx="631.8" cy="989.4" r="2.3"/><circle cx="628.9" cy="992.4" r="2.3"/><circle cx="629.3" cy="994.9" r="2.3"/><circle cx="628.9" cy="994.9" r="2.3"/><circle cx="627.7" cy="998.8" r="2.3"/><circle cx="625.6" cy="1000.9" r="2.3"/><circle cx="625.3" cy="1002.7" r="2.3"/><circle cx="622.9" cy="1006.2" r="2.3"/><circle cx="621.1" cy="1009.4" r="2.3"/><circle cx="621.1" cy="1013.9" r="2.3"/><circle cx="618.9" cy="1015.9" r="2.3"/><circle cx="617.8" cy="1017.1" r="2.3"/><circle cx="618.9" cy="1020" r="2.3"/><circle cx="614.6" cy="1022.7" r="2.3"/><circle cx="616.1" cy="1024.9" r="2.3"/><circle cx="615" cy="1028.9" r="2.3"/><circle cx="613.7" cy="1030.1" r="2.3"/><circle cx="610.3" cy="1032.7" r="2.3"/><circle cx="609.7" cy="1036" r="2.3"/><circle cx="606.7" cy="1038.4" r="2.3"/><circle cx="606.7" cy="1039.8" r="2.3"/><circle cx="605.6" cy="1044.5" r="2.3"/><circle cx="602.7" cy="1046.3" r="2.3"/><circle cx="601.8" cy="1048" r="2.3"/><circle cx="599.6" cy="1051.1" r="2.3"/><circle cx="599.6" cy="1053.1" r="2.3"/><circle cx="597.4" cy="1053" r="2.3"/><circle cx="598" cy="1054.2" r="2.3"/><circle cx="595.1" cy="1053.8" r="2.3"/><circle cx="596.7" cy="1049.9" r="2.3"/><circle cx="592.5" cy="1047.6" r="2.3"/><circle cx="594.6" cy="1044.3" r="2.3"/><circle cx="592.1" cy="1042.8" r="2.3"/><circle cx="591" cy="1039.6" r="2.3"/><circle cx="589.6" cy="1040.2" r="2.3"/><circle cx="589.2" cy="1037" r="2.3"/><circle cx="586.4" cy="1034.6" r="2.3"/><circle cx="583.5" cy="1033.6" r="2.3"/><circle cx="584.5" cy="1029.9" r="2.3"/><circle cx="582.4" cy="1027.7" r="2.3"/><circle cx="579.3" cy="1025" r="2.3"/><circle cx="578.1" cy="1024.3" r="2.3"/><circle cx="575.8" cy="1020.1" r="2.3"/><circle cx="574.2" cy="1019.8" r="2.3"/><circle cx="572.1" cy="1018.4" r="2.3"/><circle cx="571.4" cy="1017.9" r="2.3"/><circle cx="567.5" cy="1022.6" r="2.3"/><circle cx="568.5" cy="1022.9" r="2.3"/><circle cx="568.3" cy="1028.6" r="2.3"/><circle cx="566.8" cy="1031.1" r="2.3"/><circle cx="565.6" cy="1034.6" r="2.3"/><circle cx="566.9" cy="1034.5" r="2.3"/><circle cx="568.1" cy="1039.2" r="2.3"/><circle cx="568.4" cy="1042.9" r="2.3"/><circle cx="567.7" cy="1044.6" r="2.3"/><circle cx="568.3" cy="1045.8" r="2.3"/><circle cx="566.5" cy="1050.6" r="2.3"/><circle cx="562.6" cy="1053.2" r="2.3"/><circle cx="562.1" cy="1054.3" r="2.3"/><circle cx="562.4" cy="1055.2" r="2.3"/><circle cx="558.7" cy="1059.2" r="2.3"/><circle cx="556.6" cy="1061.1" r="2.3"/><circle cx="557.4" cy="1059.2" r="2.3"/><circle cx="553.2" cy="1058.7" r="2.3"/><circle cx="553.7" cy="1057" r="2.3"/><circle cx="550.4" cy="1055.8" r="2.3"/><circle cx="550.5" cy="1050" r="2.3"/><circle cx="547.8" cy="1047" r="2.3"/><circle cx="545.6" cy="1045.1" r="2.3"/><circle cx="547.9" cy="1044.3" r="2.3"/><circle cx="544" cy="1038.8" r="2.3"/><circle cx="544.1" cy="1038.7" r="2.3"/><circle cx="544.1" cy="1036.1" r="2.3"/><circle cx="541" cy="1033.6" r="2.3"/><circle cx="540.6" cy="1029.4" r="2.3"/><circle cx="542.3" cy="1026.9" r="2.3"/><circle cx="539.1" cy="1024" r="2.3"/><circle cx="539.4" cy="1018.7" r="2.3"/><circle cx="538.5" cy="1017.3" r="2.3"/><circle cx="539.1" cy="1014.4" r="2.3"/><circle cx="538.4" cy="1013.4" r="2.3"/><circle cx="536.1" cy="1008.5" r="2.3"/><circle cx="537.6" cy="1007.1" r="2.3"/><circle cx="534.9" cy="1002.8" r="2.3"/><circle cx="537.7" cy="1001.9" r="2.3"/><circle cx="534.9" cy="997.3" r="2.3"/><circle cx="537" cy="996.4" r="2.3"/><circle cx="535.5" cy="992.2" r="2.3"/><circle cx="533.4" cy="989.5" r="2.3"/><circle cx="532.3" cy="987.5" r="2.3"/><circle cx="532.9" cy="985.3" r="2.3"/><circle cx="532.4" cy="980.9" r="2.3"/><circle cx="532.4" cy="980" r="2.3"/><circle cx="531.3" cy="976.1" r="2.3"/><circle cx="530.4" cy="972.7" r="2.3"/><circle cx="529.3" cy="975.9" r="2.3"/><circle cx="527.9" cy="977.8" r="2.3"/><circle cx="528.1" cy="978.3" r="2.3"/><circle cx="527.8" cy="980" r="2.3"/><circle cx="526.8" cy="983.8" r="2.3"/><circle cx="525.3" cy="984.7" r="2.3"/><circle cx="524.9" cy="988.5" r="2.3"/><circle cx="524.7" cy="994.2" r="2.3"/><circle cx="523.8" cy="996.1" r="2.3"/><circle cx="525" cy="997.3" r="2.3"/><circle cx="523.7" cy="999.8" r="2.3"/><circle cx="525.3" cy="1003.3" r="2.3"/><circle cx="523.1" cy="1006.6" r="2.3"/><circle cx="524.4" cy="1011.6" r="2.3"/><circle cx="523.2" cy="1013.4" r="2.3"/><circle cx="520.9" cy="1017.8" r="2.3"/><circle cx="520.6" cy="1018.6" r="2.3"/><circle cx="521.4" cy="1023.1" r="2.3"/><circle cx="522.3" cy="1024.5" r="2.3"/><circle cx="522.9" cy="1029.9" r="2.3"/><circle cx="519.1" cy="1031.6" r="2.3"/><circle cx="520.6" cy="1033.5" r="2.3"/><circle cx="519.5" cy="1035.8" r="2.3"/><circle cx="519.3" cy="1039.3" r="2.3"/><circle cx="519.4" cy="1043.2" r="2.3"/><circle cx="518.4" cy="1043.3" r="2.3"/><circle cx="516.7" cy="1046.8" r="2.3"/><circle cx="513.5" cy="1047.5" r="2.3"/><circle cx="508.3" cy="1044.7" r="2.3"/><circle cx="511.9" cy="1046.2" r="2.3"/><circle cx="513.5" cy="1048.3" r="2.3"/><circle cx="511.8" cy="1044.2" r="2.3"/><circle cx="509.9" cy="1042.6" r="2.3"/><circle cx="510.6" cy="1039.7" r="2.3"/><circle cx="506.6" cy="1040.3" r="2.3"/><circle cx="507.1" cy="1038.2" r="2.3"/><circle cx="504.3" cy="1036" r="2.3"/><circle cx="504.8" cy="1033.4" r="2.3"/><circle cx="501.1" cy="1029.7" r="2.3"/><circle cx="499.3" cy="1028.8" r="2.3"/><circle cx="501.7" cy="1026.5" r="2.3"/><circle cx="497.5" cy="1021.4" r="2.3"/><circle cx="499.1" cy="1019.2" r="2.3"/><circle cx="497" cy="1017.4" r="2.3"/><circle cx="497.3" cy="1013.3" r="2.3"/><circle cx="496.2" cy="1010.7" r="2.3"/><circle cx="495.7" cy="1005.8" r="2.3"/><circle cx="496.3" cy="1009.4" r="2.3"/><circle cx="496.3" cy="1011.8" r="2.3"/><circle cx="493.9" cy="1013.8" r="2.3"/><circle cx="492.1" cy="1018" r="2.3"/><circle cx="492.4" cy="1020.7" r="2.3"/><circle cx="492.6" cy="1022" r="2.3"/><circle cx="491.6" cy="1024.9" r="2.3"/><circle cx="491.1" cy="1029" r="2.3"/><circle cx="487.5" cy="1026.9" r="2.3"/><circle cx="487.9" cy="1025.9" r="2.3"/><circle cx="484.8" cy="1019.6" r="2.3"/><circle cx="482.4" cy="1020.4" r="2.3"/><circle cx="483.4" cy="1017.5" r="2.3"/><circle cx="479.8" cy="1014.3" r="2.3"/><circle cx="477.6" cy="1011" r="2.3"/><circle cx="477" cy="1012.7" r="2.3"/><circle cx="476.7" cy="1010.6" r="2.3"/><circle cx="472.6" cy="1007.2" r="2.3"/><circle cx="471.9" cy="1009.1" r="2.3"/><circle cx="471.2" cy="1014.2" r="2.3"/><circle cx="471.2" cy="1015" r="2.3"/><circle cx="471.7" cy="1019.1" r="2.3"/><circle cx="472" cy="1020.3" r="2.3"/><circle cx="469.4" cy="1024.2" r="2.3"/><circle cx="468.1" cy="1024.3" r="2.3"/><circle cx="468.7" cy="1026.6" r="2.3"/><circle cx="464.8" cy="1029" r="2.3"/><circle cx="462.9" cy="1030.4" r="2.3"/><circle cx="460.4" cy="1032.4" r="2.3"/><circle cx="456.5" cy="1035.7" r="2.3"/><circle cx="453.9" cy="1033.8" r="2.3"/><circle cx="453.2" cy="1032.6" r="2.3"/><circle cx="449.2" cy="1030.7" r="2.3"/><circle cx="447.1" cy="1030.9" r="2.3"/><circle cx="445.7" cy="1028.4" r="2.3"/><circle cx="444.8" cy="1027.3" r="2.3"/><circle cx="440" cy="1024.8" r="2.3"/><circle cx="442" cy="1021.1" r="2.3"/><circle cx="438.6" cy="1022.7" r="2.3"/><circle cx="437.3" cy="1018.6" r="2.3"/><circle cx="436.9" cy="1014.7" r="2.3"/><circle cx="437.4" cy="1013.2" r="2.3"/><circle cx="435.9" cy="1010.2" r="2.3"/><circle cx="436.3" cy="1008.5" r="2.3"/><circle cx="434" cy="1003.2" r="2.3"/><circle cx="434.4" cy="1001.2" r="2.3"/><circle cx="436.2" cy="999.1" r="2.3"/><circle cx="436" cy="996.4" r="2.3"/><circle cx="433.3" cy="994.8" r="2.3"/><circle cx="430.5" cy="994.7" r="2.3"/><circle cx="431.5" cy="990.7" r="2.3"/><circle cx="428.9" cy="995.4" r="2.3"/><circle cx="430.3" cy="997.3" r="2.3"/><circle cx="426.8" cy="1000.5" r="2.3"/><circle cx="426.2" cy="1002.6" r="2.3"/><circle cx="427.7" cy="1006.5" r="2.3"/><circle cx="427.5" cy="1005.6" r="2.3"/><circle cx="428.2" cy="1011.2" r="2.3"/><circle cx="426.2" cy="1010.9" r="2.3"/><circle cx="426.3" cy="1015.2" r="2.3"/><circle cx="425.5" cy="1020.2" r="2.3"/><circle cx="423.8" cy="1017.2" r="2.3"/><circle cx="420.6" cy="1019.3" r="2.3"/><circle cx="417.8" cy="1019.7" r="2.3"/><circle cx="413.9" cy="1020.6" r="2.3"/><circle cx="411.2" cy="1017.9" r="2.3"/><circle cx="412.3" cy="1014.7" r="2.3"/><circle cx="408.5" cy="1015.5" r="2.3"/><circle cx="409.4" cy="1012.2" r="2.3"/><circle cx="405.8" cy="1008.2" r="2.3"/><circle cx="405.3" cy="1009.3" r="2.3"/><circle cx="405.7" cy="1006.5" r="2.3"/><circle cx="403.8" cy="1001.8" r="2.3"/><circle cx="404.6" cy="1000.8" r="2.3"/><circle cx="402.4" cy="998.3" r="2.3"/><circle cx="403.2" cy="992.2" r="2.3"/><circle cx="402.5" cy="990.9" r="2.3"/><circle cx="403" cy="990.4" r="2.3"/><circle cx="401.7" cy="986.8" r="2.3"/><circle cx="400.8" cy="984.5" r="2.3"/><circle cx="399.1" cy="981.6" r="2.3"/><circle cx="398.9" cy="978.3" r="2.3"/><circle cx="398.6" cy="974.7" r="2.3"/><circle cx="398" cy="972" r="2.3"/><circle cx="399.3" cy="970" r="2.3"/><circle cx="398" cy="967.6" r="2.3"/><circle cx="399.4" cy="964" r="2.3"/><circle cx="397.7" cy="966.9" r="2.3"/><circle cx="398.6" cy="968.6" r="2.3"/><circle cx="396.8" cy="970.6" r="2.3"/><circle cx="394.4" cy="974.9" r="2.3"/><circle cx="395.2" cy="975.7" r="2.3"/><circle cx="392.8" cy="980.6" r="2.3"/><circle cx="393.6" cy="982.9" r="2.3"/><circle cx="393.4" cy="985.2" r="2.3"/><circle cx="393.5" cy="989.3" r="2.3"/><circle cx="394.5" cy="989.9" r="2.3"/><circle cx="392.4" cy="991.7" r="2.3"/><circle cx="393.1" cy="993.8" r="2.3"/><circle cx="390.9" cy="999.5" r="2.3"/><circle cx="389.4" cy="1001.6" r="2.3"/><circle cx="390.2" cy="1003.7" r="2.3"/><circle cx="387.9" cy="1004.8" r="2.3"/><circle cx="389.1" cy="1009.9" r="2.3"/><circle cx="387.1" cy="1009.9" r="2.3"/><circle cx="385.7" cy="1013.1" r="2.3"/><circle cx="382" cy="1017" r="2.3"/><circle cx="382.3" cy="1018" r="2.3"/><circle cx="381.4" cy="1017.5" r="2.3"/><circle cx="380.3" cy="1016.4" r="2.3"/><circle cx="377.8" cy="1011.8" r="2.3"/><circle cx="377.3" cy="1010.8" r="2.3"/><circle cx="373" cy="1008.9" r="2.3"/><circle cx="372.8" cy="1007.9" r="2.3"/><circle cx="368.8" cy="1008.3" r="2.3"/><circle cx="368" cy="1010.5" r="2.3"/><circle cx="365" cy="1011.9" r="2.3"/><circle cx="362" cy="1011.5" r="2.3"/><circle cx="360.2" cy="1009.3" r="2.3"/><circle cx="357.9" cy="1008.9" r="2.3"/><circle cx="357.9" cy="1006.1" r="2.3"/><circle cx="356.2" cy="1007.2" r="2.3"/><circle cx="353.5" cy="1004.3" r="2.3"/><circle cx="352.3" cy="1002.6" r="2.3"/><circle cx="350.4" cy="1002.5" r="2.3"/><circle cx="350.3" cy="1002.5" r="2.3"/><circle cx="346.9" cy="1007.9" r="2.3"/><circle cx="347.6" cy="1010" r="2.3"/><circle cx="346.5" cy="1011.3" r="2.3"/><circle cx="346.5" cy="1015.1" r="2.3"/><circle cx="348.3" cy="1016.9" r="2.3"/><circle cx="346.2" cy="1019" r="2.3"/><circle cx="344.4" cy="1024" r="2.3"/><circle cx="343.3" cy="1026.7" r="2.3"/><circle cx="345" cy="1025.9" r="2.3"/><circle cx="344.8" cy="1023.3" r="2.3"/><circle cx="342.4" cy="1020.7" r="2.3"/><circle cx="343" cy="1018.8" r="2.3"/><circle cx="341.4" cy="1015.1" r="2.3"/><circle cx="339.4" cy="1012.5" r="2.3"/><circle cx="335.8" cy="1011.8" r="2.3"/><circle cx="337.9" cy="1010.6" r="2.3"/><circle cx="335.7" cy="1009.3" r="2.3"/><circle cx="332.7" cy="1004.8" r="2.3"/><circle cx="331.1" cy="1003.5" r="2.3"/><circle cx="330.7" cy="1001.4" r="2.3"/><circle cx="330.2" cy="997.9" r="2.3"/><circle cx="330.6" cy="995.9" r="2.3"/><circle cx="329.4" cy="991.6" r="2.3"/><circle cx="329" cy="990.7" r="2.3"/><circle cx="330.5" cy="987.8" r="2.3"/><circle cx="326.8" cy="983.9" r="2.3"/><circle cx="327.5" cy="982.7" r="2.3"/><circle cx="329.8" cy="981" r="2.3"/><circle cx="329.7" cy="978" r="2.3"/><circle cx="329.2" cy="975.2" r="2.3"/><circle cx="325.7" cy="970.6" r="2.3"/><circle cx="327.9" cy="968.6" r="2.3"/><circle cx="327.9" cy="965.5" r="2.3"/><circle cx="329" cy="960.6" r="2.3"/><circle cx="327.3" cy="961.3" r="2.3"/><circle cx="325.2" cy="955.1" r="2.3"/><circle cx="328.4" cy="955.7" r="2.3"/><circle cx="324.5" cy="954.7" r="2.3"/><circle cx="327.2" cy="960" r="2.3"/><circle cx="325.4" cy="962.2" r="2.3"/><circle cx="325.8" cy="965.8" r="2.3"/><circle cx="322.3" cy="965.5" r="2.3"/><circle cx="324.8" cy="972.1" r="2.3"/><circle cx="324.2" cy="972.7" r="2.3"/><circle cx="321.6" cy="975.4" r="2.3"/><circle cx="319.6" cy="980" r="2.3"/><circle cx="319.9" cy="982.1" r="2.3"/><circle cx="320.3" cy="984" r="2.3"/><circle cx="318.6" cy="984.9" r="2.3"/><circle cx="314.5" cy="986.9" r="2.3"/><circle cx="311.9" cy="984.3" r="2.3"/><circle cx="309.9" cy="986" r="2.3"/><circle cx="310.1" cy="983.2" r="2.3"/><circle cx="306" cy="982.4" r="2.3"/><circle cx="304.2" cy="979.7" r="2.3"/><circle cx="302.4" cy="979" r="2.3"/><circle cx="300.2" cy="974.2" r="2.3"/><circle cx="300" cy="971.7" r="2.3"/><circle cx="301" cy="970.2" r="2.3"/><circle cx="300.6" cy="966.8" r="2.3"/><circle cx="297.1" cy="964.7" r="2.3"/><circle cx="297.1" cy="959.7" r="2.3"/><circle cx="297.1" cy="959.8" r="2.3"/><circle cx="296.2" cy="954.4" r="2.3"/><circle cx="297.7" cy="954" r="2.3"/><circle cx="295" cy="947.7" r="2.3"/><circle cx="295.9" cy="947.4" r="2.3"/><circle cx="293.4" cy="944.5" r="2.3"/><circle cx="292.9" cy="939.6" r="2.3"/><circle cx="293.4" cy="938.6" r="2.3"/><circle cx="292.5" cy="936.1" r="2.3"/><circle cx="290.2" cy="932" r="2.3"/><circle cx="291.2" cy="927.4" r="2.3"/><circle cx="292.9" cy="924.9" r="2.3"/><circle cx="289.7" cy="925" r="2.3"/><circle cx="292.3" cy="922.4" r="2.3"/><circle cx="289.4" cy="919.6" r="2.3"/><circle cx="288.2" cy="915.9" r="2.3"/><circle cx="291" cy="911" r="2.3"/><circle cx="287.3" cy="910.1" r="2.3"/><circle cx="289.9" cy="907.5" r="2.3"/><circle cx="289.7" cy="903.6" r="2.3"/><circle cx="287" cy="899.4" r="2.3"/><circle cx="286.1" cy="899.9" r="2.3"/><circle cx="284.9" cy="894" r="2.3"/><circle cx="285.6" cy="890.7" r="2.3"/><circle cx="285" cy="888.4" r="2.3"/><circle cx="283.9" cy="886.9" r="2.3"/><circle cx="285.3" cy="884.1" r="2.3"/><circle cx="285.9" cy="881" r="2.3"/><circle cx="286.5" cy="876.2" r="2.3"/><circle cx="283.3" cy="873.2" r="2.3"/><circle cx="283.4" cy="873" r="2.3"/><circle cx="285.7" cy="869" r="2.3"/><circle cx="282.4" cy="865.3" r="2.3"/><circle cx="283.8" cy="862.2" r="2.3"/><circle cx="284.4" cy="862" r="2.3"/><circle cx="282.9" cy="857.5" r="2.3"/><circle cx="284.2" cy="854" r="2.3"/><circle cx="281.3" cy="852.9" r="2.3"/><circle cx="284.3" cy="846.3" r="2.3"/><circle cx="283.2" cy="844.8" r="2.3"/><circle cx="280.1" cy="840.9" r="2.3"/><circle cx="278" cy="844.1" r="2.3"/><circle cx="275.6" cy="842" r="2.3"/><circle cx="273.1" cy="846" r="2.3"/><circle cx="273.9" cy="842.9" r="2.3"/><circle cx="273.4" cy="838.4" r="2.3"/><circle cx="271.2" cy="836.4" r="2.3"/><circle cx="271" cy="833.7" r="2.3"/><circle cx="272.9" cy="831.6" r="2.3"/><circle cx="272" cy="830" r="2.3"/><circle cx="271" cy="826.4" r="2.3"/><circle cx="273.2" cy="824.4" r="2.3"/><circle cx="271.4" cy="821.4" r="2.3"/><circle cx="271.5" cy="817.7" r="2.3"/><circle cx="273.4" cy="814.5" r="2.3"/><circle cx="273.4" cy="814.1" r="2.3"/><circle cx="273.2" cy="808.4" r="2.3"/><circle cx="271.7" cy="808.9" r="2.3"/><circle cx="273" cy="794.5" r="2.3"/><circle cx="273.2" cy="780.5" r="2.3"/><circle cx="276.4" cy="747.3" r="2.3"/><circle cx="274.2" cy="777.1" r="2.3"/><circle cx="276.1" cy="753.3" r="2.3"/><circle cx="277.5" cy="725.3" r="2.3"/><circle cx="281.4" cy="726.5" r="2.3"/><circle cx="288.3" cy="731.6" r="2.3"/><circle cx="290.4" cy="776.6" r="2.3"/><circle cx="290.1" cy="741.9" r="2.3"/><circle cx="293.1" cy="799.7" r="2.3"/><circle cx="292.1" cy="787.2" r="2.3"/><circle cx="294.8" cy="810.4" r="2.3"/><circle cx="298" cy="826.5" r="2.3"/><circle cx="295.6" cy="838.8" r="2.3"/><circle cx="312" cy="892.3" r="2.3"/><circle cx="321.1" cy="889.8" r="2.3"/><circle cx="311.1" cy="884.8" r="2.3"/><circle cx="334.8" cy="912.6" r="2.3"/><circle cx="340.4" cy="926.5" r="2.3"/><circle cx="354.1" cy="912.4" r="2.3"/><circle cx="349" cy="927.9" r="2.3"/><circle cx="345.8" cy="928.8" r="2.3"/><circle cx="363.5" cy="912.3" r="2.3"/><circle cx="372.7" cy="921.7" r="2.3"/><circle cx="391.5" cy="928.7" r="2.3"/><circle cx="389.3" cy="930.6" r="2.3"/><circle cx="395.5" cy="902.1" r="2.3"/><circle cx="392.8" cy="913.6" r="2.3"/><circle cx="394.8" cy="887.4" r="2.3"/><circle cx="401.1" cy="879.4" r="2.3"/><circle cx="408.5" cy="895.1" r="2.3"/><circle cx="406.5" cy="903.7" r="2.3"/><circle cx="408.4" cy="906.5" r="2.3"/><circle cx="411.4" cy="929.9" r="2.3"/><circle cx="408.5" cy="933.1" r="2.3"/><circle cx="409.9" cy="928.5" r="2.3"/><circle cx="416.2" cy="931.9" r="2.3"/><circle cx="419.3" cy="933.5" r="2.3"/><circle cx="420.3" cy="933" r="2.3"/><circle cx="444.9" cy="922.4" r="2.3"/><circle cx="442.8" cy="923.9" r="2.3"/><circle cx="455.8" cy="930.9" r="2.3"/><circle cx="461.6" cy="938.7" r="2.3"/><circle cx="467.2" cy="934.9" r="2.3"/><circle cx="476" cy="934.8" r="2.3"/><circle cx="482.5" cy="923.4" r="2.3"/><circle cx="489.7" cy="904.5" r="2.3"/><circle cx="497.4" cy="900" r="2.3"/><circle cx="501.5" cy="915.6" r="2.3"/><circle cx="503.1" cy="914.6" r="2.3"/><circle cx="501.7" cy="925" r="2.3"/><circle cx="512.9" cy="948.8" r="2.3"/><circle cx="518" cy="939.4" r="2.3"/><circle cx="519.8" cy="941.8" r="2.3"/><circle cx="531" cy="890.7" r="2.3"/><circle cx="522.5" cy="912.9" r="2.3"/><circle cx="527.5" cy="908.5" r="2.3"/><circle cx="528.9" cy="896.1" r="2.3"/><circle cx="535.2" cy="889.4" r="2.3"/><circle cx="541.8" cy="908.8" r="2.3"/><circle cx="542.8" cy="905.5" r="2.3"/><circle cx="549.3" cy="935.8" r="2.3"/><circle cx="551.6" cy="939.6" r="2.3"/><circle cx="553.1" cy="934" r="2.3"/><circle cx="556.8" cy="928.1" r="2.3"/><circle cx="565.1" cy="924.6" r="2.3"/><circle cx="574.8" cy="931.8" r="2.3"/><circle cx="574.1" cy="936.2" r="2.3"/><circle cx="573.5" cy="938.3" r="2.3"/><circle cx="576.4" cy="943.3" r="2.3"/><circle cx="579" cy="947.1" r="2.3"/><circle cx="582.8" cy="962.8" r="2.3"/><circle cx="585.6" cy="974.1" r="2.3"/><circle cx="595.1" cy="1003.3" r="2.3"/><circle cx="598.3" cy="988.8" r="2.3"/><circle cx="615.6" cy="969.1" r="2.3"/><circle cx="619.1" cy="963.4" r="2.3"/><circle cx="620.6" cy="946.9" r="2.3"/><circle cx="624.7" cy="928.8" r="2.3"/><circle cx="623.2" cy="932.9" r="2.3"/><circle cx="625.7" cy="929.3" r="2.3"/><circle cx="625.4" cy="936.1" r="2.3"/><circle cx="630.4" cy="926.7" r="2.3"/><circle cx="636.2" cy="933.8" r="2.3"/><circle cx="637.1" cy="935.8" r="2.3"/><circle cx="641.2" cy="959.8" r="2.3"/><circle cx="640.1" cy="952.4" r="2.3"/><circle cx="637.5" cy="948" r="2.3"/><circle cx="646.8" cy="982.3" r="2.3"/><circle cx="651.2" cy="978.5" r="2.3"/><circle cx="651.1" cy="980.6" r="2.3"/><circle cx="656.3" cy="971.1" r="2.3"/><circle cx="657.2" cy="967.8" r="2.3"/><circle cx="666.5" cy="1011.2" r="2.3"/><circle cx="664.4" cy="1007.9" r="2.3"/><circle cx="667.7" cy="1014.4" r="2.3"/><circle cx="670.2" cy="1014.4" r="2.3"/><circle cx="675.8" cy="1032.6" r="2.3"/><circle cx="680.9" cy="1036.1" r="2.3"/><circle cx="695.1" cy="1057" r="2.3"/><circle cx="692.7" cy="1059.5" r="2.3"/><circle cx="699.4" cy="1049.5" r="2.3"/><circle cx="697.5" cy="1053.9" r="2.3"/><circle cx="703.9" cy="1047.7" r="2.3"/><circle cx="703.3" cy="1056.9" r="2.3"/><circle cx="701.9" cy="1049.2" r="2.3"/><circle cx="703.7" cy="1073.4" r="2.3"/><circle cx="708.2" cy="1091.6" r="2.3"/><circle cx="706.5" cy="1090.9" r="2.3"/><circle cx="704.6" cy="1073.1" r="2.3"/><circle cx="712.5" cy="1095.9" r="2.3"/><circle cx="726.7" cy="1077.9" r="2.3"/><circle cx="723.8" cy="1080.3" r="2.3"/><circle cx="753.2" cy="1107.7" r="2.3"/><circle cx="754.4" cy="1111" r="2.3"/><circle cx="754.9" cy="1097.7" r="2.3"/><circle cx="761.7" cy="1126.8" r="2.3"/><circle cx="761.2" cy="1131.7" r="2.3"/><circle cx="763.5" cy="1133.8" r="2.3"/><circle cx="768.5" cy="1116.5" r="2.3"/><circle cx="781.4" cy="1115.9" r="2.3"/><circle cx="794.9" cy="1146.7" r="2.3"/><circle cx="787" cy="1135.5" r="2.3"/><circle cx="801" cy="1161.5" r="2.3"/><circle cx="808.4" cy="1158.2" r="2.3"/><circle cx="806.2" cy="1160.9" r="2.3"/><circle cx="814.9" cy="1100.2" r="2.3"/><circle cx="814.7" cy="1090.9" r="2.3"/><circle cx="821.5" cy="1085.4" r="2.3"/><circle cx="824.8" cy="1083.7" r="2.3"/><circle cx="829.8" cy="1087.3" r="2.3"/><circle cx="829.9" cy="1097.3" r="2.3"/><circle cx="830.7" cy="1119.2" r="2.3"/><circle cx="819.5" cy="1176" r="2.3"/><circle cx="814" cy="1189.8" r="2.3"/><circle cx="814.8" cy="1194.1" r="2.3"/><circle cx="810.5" cy="1211.8" r="2.3"/><circle cx="805.3" cy="1239.1" r="2.3"/><circle cx="807.6" cy="1227.1" r="2.3"/><circle cx="797.1" cy="1232.8" r="2.3"/><circle cx="789.7" cy="1218.2" r="2.3"/><circle cx="775.4" cy="1189.7" r="2.3"/><circle cx="760.1" cy="1194.1" r="2.3"/><circle cx="737.4" cy="1182.3" r="2.3"/><circle cx="711.4" cy="1160" r="2.3"/><circle cx="704.9" cy="1105.2" r="2.3"/><circle cx="637.7" cy="1018.2" r="2.3"/><circle cx="641" cy="1026" r="2.3"/><circle cx="634" cy="988.9" r="2.3"/><circle cx="620.8" cy="1016.7" r="2.3"/><circle cx="615.1" cy="1035.2" r="2.3"/><circle cx="614.9" cy="1032.4" r="2.3"/><circle cx="608.7" cy="1044.8" r="2.3"/><circle cx="600.5" cy="1061.1" r="2.3"/><circle cx="583.4" cy="1040.1" r="2.3"/><circle cx="589.5" cy="1044.2" r="2.3"/><circle cx="561.7" cy="1062.2" r="2.3"/><circle cx="547.1" cy="1054.6" r="2.3"/><circle cx="532" cy="990.7" r="2.3"/><circle cx="532.3" cy="999.1" r="2.3"/><circle cx="531.1" cy="982.9" r="2.3"/><circle cx="522.6" cy="1014.3" r="2.3"/><circle cx="524.1" cy="995.6" r="2.3"/><circle cx="522.1" cy="1039.8" r="2.3"/><circle cx="523.6" cy="1029.3" r="2.3"/><circle cx="509.2" cy="1050.1" r="2.3"/><circle cx="504.1" cy="1043.3" r="2.3"/><circle cx="480.4" cy="1020.1" r="2.3"/><circle cx="473.6" cy="1020.6" r="2.3"/><circle cx="471.8" cy="1019.7" r="2.3"/><circle cx="463.5" cy="1038" r="2.3"/><circle cx="464.8" cy="1038.2" r="2.3"/><circle cx="451.7" cy="1036.1" r="2.3"/><circle cx="456" cy="1043.1" r="2.3"/><circle cx="436.6" cy="1007.6" r="2.3"/><circle cx="423.7" cy="1028.2" r="2.3"/><circle cx="428.3" cy="1010.1" r="2.3"/><circle cx="416.6" cy="1028.2" r="2.3"/><circle cx="420.9" cy="1025.8" r="2.3"/><circle cx="405.6" cy="1007" r="2.3"/><circle cx="403.9" cy="1012.5" r="2.3"/><circle cx="401.3" cy="986.4" r="2.3"/><circle cx="394.3" cy="981" r="2.3"/><circle cx="395.1" cy="977.9" r="2.3"/><circle cx="391.5" cy="1010.7" r="2.3"/><circle cx="333.1" cy="1014.9" r="2.3"/><circle cx="329.2" cy="1006.8" r="2.3"/><circle cx="328" cy="1003.3" r="2.3"/><circle cx="328.9" cy="988.7" r="2.3"/><circle cx="327.5" cy="964.5" r="2.3"/><circle cx="320.6" cy="986.9" r="2.3"/><circle cx="313.7" cy="990" r="2.3"/><circle cx="303" cy="984.8" r="2.3"/><circle cx="291.3" cy="936.1" r="2.3"/><circle cx="283.9" cy="892.3" r="2.3"/><circle cx="283.5" cy="886.3" r="2.3"/><circle cx="286.9" cy="894" r="2.3"/><circle cx="273.6" cy="841.4" r="2.3"/><circle cx="253.4" cy="811.4" r="2.3"/><circle cx="273" cy="818" r="2.3"/><circle cx="264.2" cy="854.1" r="2.3"/><circle cx="220" cy="871" r="2.3"/><circle cx="258.8" cy="846.1" r="2.3"/><circle cx="242.1" cy="865.2" r="2.3"/><circle cx="255" cy="867.1" r="2.3"/><circle cx="237.4" cy="861.6" r="2.3"/><circle cx="219.7" cy="888.1" r="2.3"/><circle cx="242.3" cy="865.8" r="2.3"/><circle cx="228.7" cy="838.8" r="2.3"/><circle cx="266.9" cy="858.5" r="2.3"/><circle cx="258.9" cy="858.9" r="2.3"/><circle cx="236.6" cy="831" r="2.3"/><circle cx="219.9" cy="864.1" r="2.3"/><circle cx="218.9" cy="865.8" r="2.3"/><circle cx="274.2" cy="843.2" r="2.3"/><circle cx="251.8" cy="833.4" r="2.3"/><circle cx="234.9" cy="832.2" r="2.3"/><circle cx="274.3" cy="836.6" r="2.3"/><circle cx="231.9" cy="866.8" r="2.3"/><circle cx="251" cy="839.5" r="2.3"/><circle cx="263.1" cy="831" r="2.3"/><circle cx="273.4" cy="816.3" r="2.3"/><circle cx="268.6" cy="826.1" r="2.3"/><circle cx="244.5" cy="849.8" r="2.3"/><circle cx="231.4" cy="850.9" r="2.3"/><circle cx="232.5" cy="879.5" r="2.3"/><circle cx="261.2" cy="867.8" r="2.3"/><circle cx="223.4" cy="872.6" r="2.3"/><circle cx="249.2" cy="860" r="2.3"/><circle cx="272.9" cy="848.4" r="2.3"/><circle cx="255.2" cy="822.9" r="2.3"/><circle cx="251.5" cy="829" r="2.3"/><circle cx="270.1" cy="822.2" r="2.3"/><circle cx="221.5" cy="893.1" r="2.3"/><circle cx="223.2" cy="869.5" r="2.3"/><circle cx="245" cy="841.9" r="2.3"/><circle cx="217.3" cy="867.7" r="2.3"/><circle cx="222.5" cy="869.9" r="2.3"/><circle cx="257.1" cy="830" r="2.3"/><circle cx="261.3" cy="855.4" r="2.3"/><circle cx="240.1" cy="850" r="2.3"/><circle cx="268.2" cy="832" r="2.3"/><circle cx="261.2" cy="833.8" r="2.3"/><circle cx="240.5" cy="833.9" r="2.3"/><circle cx="271.9" cy="828.4" r="2.3"/><circle cx="264.5" cy="850.7" r="2.3"/><circle cx="218.6" cy="867.9" r="2.3"/><circle cx="229.4" cy="866.4" r="2.3"/><circle cx="270.2" cy="851.5" r="2.3"/><circle cx="267.7" cy="832.4" r="2.3"/><circle cx="227.7" cy="840.6" r="2.3"/><circle cx="252.1" cy="863.5" r="2.3"/><circle cx="221.4" cy="850.9" r="2.3"/><circle cx="263.4" cy="823.2" r="2.3"/><circle cx="264.3" cy="821.3" r="2.3"/><circle cx="238.9" cy="877.2" r="2.3"/><circle cx="247.4" cy="869.2" r="2.3"/><circle cx="256.7" cy="838.9" r="2.3"/><circle cx="267.7" cy="836.1" r="2.3"/><circle cx="273.8" cy="813.7" r="2.3"/><circle cx="263.1" cy="858.2" r="2.3"/><circle cx="253.6" cy="810.4" r="2.3"/><circle cx="223.6" cy="856.9" r="2.3"/><circle cx="253.7" cy="878" r="2.3"/><circle cx="263.4" cy="846.2" r="2.3"/><circle cx="219" cy="874.3" r="2.3"/><circle cx="232.8" cy="840.3" r="2.3"/><circle cx="270.2" cy="824.1" r="2.3"/><circle cx="240.3" cy="879.7" r="2.3"/><circle cx="242.7" cy="841.4" r="2.3"/><circle cx="218.9" cy="876.8" r="2.3"/><circle cx="249.3" cy="838" r="2.3"/><circle cx="224.2" cy="843.1" r="2.3"/><circle cx="223.8" cy="880.7" r="2.3"/><circle cx="232" cy="882" r="2.3"/><circle cx="250.2" cy="862.3" r="2.3"/><circle cx="227.5" cy="840.4" r="2.3"/><circle cx="250.6" cy="822.8" r="2.3"/><circle cx="259.8" cy="824.9" r="2.3"/><circle cx="251.5" cy="825.9" r="2.3"/><circle cx="260.5" cy="822.7" r="2.3"/><circle cx="268.4" cy="831.6" r="2.3"/><circle cx="230.9" cy="862.3" r="2.3"/><circle cx="260.3" cy="824.2" r="2.3"/><circle cx="250.1" cy="829.4" r="2.3"/><circle cx="238.1" cy="854.5" r="2.3"/><circle cx="230.3" cy="861.8" r="2.3"/><circle cx="237.3" cy="840.6" r="2.3"/><circle cx="265.7" cy="852.1" r="2.3"/><circle cx="246.3" cy="858.1" r="2.3"/><circle cx="248.3" cy="865.5" r="2.3"/><circle cx="248.6" cy="852.7" r="2.3"/><circle cx="271.6" cy="826.3" r="2.3"/><circle cx="249.6" cy="849.2" r="2.3"/><circle cx="225.8" cy="861.9" r="2.3"/><circle cx="251.1" cy="860.1" r="2.3"/><circle cx="244" cy="858.8" r="2.3"/><circle cx="233.1" cy="843.7" r="2.3"/><circle cx="256.3" cy="818.4" r="2.3"/><circle cx="259" cy="856.1" r="2.3"/><circle cx="248.1" cy="874.7" r="2.3"/><circle cx="232.7" cy="834.4" r="2.3"/><circle cx="241.2" cy="871.3" r="2.3"/><circle cx="258.2" cy="815.3" r="2.3"/><circle cx="252.4" cy="835.6" r="2.3"/><circle cx="250.6" cy="869.6" r="2.3"/><circle cx="252.1" cy="876.2" r="2.3"/><circle cx="241.4" cy="872" r="2.3"/><circle cx="251.3" cy="861" r="2.3"/><circle cx="248.1" cy="864.4" r="2.3"/><circle cx="255.5" cy="868.1" r="2.3"/><circle cx="245.9" cy="832.9" r="2.3"/><circle cx="225.4" cy="886.9" r="2.3"/><circle cx="226.1" cy="869" r="2.3"/><circle cx="225.7" cy="849.1" r="2.3"/><circle cx="274.6" cy="805.5" r="2.3"/><circle cx="242.2" cy="861.4" r="2.3"/><circle cx="236.7" cy="841.4" r="2.3"/><circle cx="247.5" cy="844.4" r="2.3"/><circle cx="248.3" cy="877.1" r="2.3"/><circle cx="251.1" cy="829.4" r="2.3"/><circle cx="231.7" cy="852.2" r="2.3"/><circle cx="253.9" cy="846.1" r="2.3"/><circle cx="229.4" cy="841" r="2.3"/><circle cx="240.6" cy="857.7" r="2.3"/><circle cx="231.6" cy="859.6" r="2.3"/><circle cx="243.6" cy="877.5" r="2.3"/><circle cx="263.2" cy="820.6" r="2.3"/><circle cx="257.8" cy="840.9" r="2.3"/><circle cx="256.1" cy="822.5" r="2.3"/><circle cx="266.5" cy="823.4" r="2.3"/><circle cx="267.1" cy="841.1" r="2.3"/><circle cx="239.4" cy="855.3" r="2.3"/><circle cx="246.6" cy="852.2" r="2.3"/><circle cx="274" cy="798" r="2.3"/><circle cx="218.8" cy="879.8" r="2.3"/><circle cx="226.1" cy="846.9" r="2.3"/><circle cx="255.4" cy="820.9" r="2.3"/><circle cx="237.7" cy="845.3" r="2.3"/><circle cx="222.2" cy="890.6" r="2.3"/><circle cx="244.7" cy="878.5" r="2.3"/><circle cx="231.8" cy="856.3" r="2.3"/><circle cx="226.7" cy="847.9" r="2.3"/><circle cx="256.3" cy="819.6" r="2.3"/><circle cx="256.4" cy="856.1" r="2.3"/><circle cx="242.6" cy="848.3" r="2.3"/><circle cx="231.2" cy="874.6" r="2.3"/><circle cx="252.4" cy="841.8" r="2.3"/><circle cx="247.5" cy="868" r="2.3"/><circle cx="230.3" cy="875.9" r="2.3"/><circle cx="248.8" cy="825.3" r="2.3"/><circle cx="271.4" cy="840.6" r="2.3"/><circle cx="242.4" cy="874.7" r="2.3"/><circle cx="244.7" cy="837.1" r="2.3"/><circle cx="223" cy="863.5" r="2.3"/><circle cx="234.4" cy="849.9" r="2.3"/><circle cx="236.7" cy="836.3" r="2.3"/><circle cx="244.1" cy="848.6" r="2.3"/><circle cx="224.4" cy="871" r="2.3"/><circle cx="230.6" cy="837.5" r="2.3"/><circle cx="230.3" cy="857.3" r="2.3"/><circle cx="241.1" cy="866.1" r="2.3"/><circle cx="240.8" cy="876.3" r="2.3"/><circle cx="244" cy="871.7" r="2.3"/><circle cx="224.9" cy="860.6" r="2.3"/><circle cx="259" cy="863.9" r="2.3"/><circle cx="218.3" cy="874.5" r="2.3"/><circle cx="229.5" cy="848.2" r="2.3"/><circle cx="263" cy="857.9" r="2.3"/><circle cx="246.7" cy="857.1" r="2.3"/><circle cx="242.9" cy="861.2" r="2.3"/><circle cx="249" cy="862.2" r="2.3"/><circle cx="261.3" cy="866.7" r="2.3"/><circle cx="221.7" cy="863.8" r="2.3"/><circle cx="230.3" cy="858.8" r="2.3"/><circle cx="248.1" cy="858.3" r="2.3"/><circle cx="233.6" cy="867.4" r="2.3"/><circle cx="268" cy="828.9" r="2.3"/><circle cx="234.2" cy="842" r="2.3"/><circle cx="241" cy="860.8" r="2.3"/><circle cx="273.1" cy="842.1" r="2.3"/><circle cx="242.1" cy="862.8" r="2.3"/><circle cx="234.2" cy="880.9" r="2.3"/><circle cx="240.4" cy="853.2" r="2.3"/><circle cx="246.4" cy="833.5" r="2.3"/><circle cx="223.8" cy="888.4" r="2.3"/><circle cx="264.9" cy="814.6" r="2.3"/><circle cx="238" cy="846.9" r="2.3"/><circle cx="264" cy="825.9" r="2.3"/><circle cx="255" cy="810.8" r="2.3"/><circle cx="250" cy="856.1" r="2.3"/><circle cx="257.8" cy="839.2" r="2.3"/><circle cx="248.2" cy="857.5" r="2.3"/><circle cx="260.7" cy="860.4" r="2.3"/><circle cx="266.2" cy="852.6" r="2.3"/><circle cx="230.8" cy="844.3" r="2.3"/><circle cx="243.2" cy="832.3" r="2.3"/><circle cx="259.2" cy="837.4" r="2.3"/><circle cx="269" cy="858.4" r="2.3"/><circle cx="254.6" cy="825.6" r="2.3"/><circle cx="268.8" cy="831.9" r="2.3"/><circle cx="265.6" cy="821.3" r="2.3"/><circle cx="226.2" cy="871" r="2.3"/><circle cx="238" cy="830.5" r="2.3"/><circle cx="262.7" cy="832.5" r="2.3"/><circle cx="257.7" cy="840" r="2.3"/><circle cx="240.1" cy="856.8" r="2.3"/><circle cx="235" cy="859.8" r="2.3"/><circle cx="216.1" cy="873.3" r="2.3"/><circle cx="255" cy="820.4" r="2.3"/><circle cx="252.1" cy="838.5" r="2.3"/><circle cx="272.1" cy="842.2" r="2.3"/><circle cx="272.2" cy="831.9" r="2.3"/><circle cx="230" cy="850.9" r="2.3"/><circle cx="258.4" cy="846.9" r="2.3"/><circle cx="256.5" cy="865.1" r="2.3"/><circle cx="246.7" cy="873.6" r="2.3"/><circle cx="223.9" cy="846.4" r="2.3"/><circle cx="233.2" cy="876.4" r="2.3"/><circle cx="245.6" cy="849.7" r="2.3"/><circle cx="264.2" cy="836.1" r="2.3"/><circle cx="241.2" cy="851.4" r="2.3"/><circle cx="259" cy="857.7" r="2.3"/><circle cx="253.6" cy="841.6" r="2.3"/><circle cx="260.7" cy="845.2" r="2.3"/><circle cx="232.6" cy="876" r="2.3"/><circle cx="247.5" cy="865.9" r="2.3"/><circle cx="251.8" cy="838.1" r="2.3"/><circle cx="254.2" cy="831.4" r="2.3"/><circle cx="254.4" cy="817.6" r="2.3"/><circle cx="244.6" cy="840" r="2.3"/><circle cx="230" cy="869.3" r="2.3"/><circle cx="225.5" cy="845" r="2.3"/><circle cx="272.9" cy="835.9" r="2.3"/><circle cx="239" cy="873.3" r="2.3"/><circle cx="231.7" cy="853.1" r="2.3"/><circle cx="245.6" cy="866.9" r="2.3"/><circle cx="220.3" cy="863.6" r="2.3"/><circle cx="244.6" cy="848.5" r="2.3"/><circle cx="227.3" cy="877.4" r="2.3"/><circle cx="254.1" cy="814.8" r="2.3"/><circle cx="271.9" cy="815" r="2.3"/><circle cx="245.7" cy="843.3" r="2.3"/><circle cx="218.1" cy="862.2" r="2.3"/><circle cx="255" cy="822" r="2.3"/><circle cx="271.9" cy="839.5" r="2.3"/><circle cx="254" cy="843.9" r="2.3"/><circle cx="259.8" cy="871.8" r="2.3"/><circle cx="258.9" cy="872.6" r="2.3"/><circle cx="262.8" cy="859.8" r="2.3"/><circle cx="237.2" cy="871.1" r="2.3"/><circle cx="252.9" cy="819.8" r="2.3"/><circle cx="220.5" cy="881.7" r="2.3"/><circle cx="227.9" cy="872.9" r="2.3"/><circle cx="259" cy="874.1" r="2.3"/><circle cx="269.4" cy="854.1" r="2.3"/><circle cx="220.7" cy="871.8" r="2.3"/><circle cx="260.5" cy="847.6" r="2.3"/><circle cx="273.4" cy="843.5" r="2.3"/><circle cx="242" cy="861.3" r="2.3"/><circle cx="262.2" cy="856.3" r="2.3"/><circle cx="271.3" cy="824.1" r="2.3"/><circle cx="251.2" cy="859.6" r="2.3"/><circle cx="272.4" cy="853.3" r="2.3"/><circle cx="258.4" cy="873.8" r="2.3"/><circle cx="225.6" cy="864.4" r="2.3"/><circle cx="231.9" cy="833.4" r="2.3"/><circle cx="259.1" cy="852.7" r="2.3"/><circle cx="264.3" cy="817.3" r="2.3"/><circle cx="251.5" cy="858" r="2.3"/><circle cx="248.8" cy="849.7" r="2.3"/><circle cx="224.9" cy="845.6" r="2.3"/><circle cx="237.3" cy="856.1" r="2.3"/><circle cx="255.5" cy="824.5" r="2.3"/><circle cx="251.5" cy="822.7" r="2.3"/><circle cx="259.7" cy="817.2" r="2.3"/><circle cx="250.8" cy="871.4" r="2.3"/><circle cx="262.9" cy="850.5" r="2.3"/><circle cx="262.5" cy="833" r="2.3"/><circle cx="231.4" cy="860.2" r="2.3"/><circle cx="221.2" cy="862.7" r="2.3"/><circle cx="263.3" cy="850.6" r="2.3"/><circle cx="235.8" cy="829.1" r="2.3"/><circle cx="267.2" cy="826.8" r="2.3"/><circle cx="238.1" cy="875.3" r="2.3"/><circle cx="269.9" cy="830.9" r="2.3"/><circle cx="269.8" cy="850.5" r="2.3"/><circle cx="221.1" cy="875.6" r="2.3"/><circle cx="245.6" cy="876.1" r="2.3"/><circle cx="253.1" cy="854.1" r="2.3"/><circle cx="218.5" cy="873.8" r="2.3"/><circle cx="270.2" cy="818.8" r="2.3"/><circle cx="250.8" cy="856" r="2.3"/><circle cx="239.3" cy="832.1" r="2.3"/><circle cx="224" cy="867.3" r="2.3"/><circle cx="237.6" cy="857.6" r="2.3"/><circle cx="240.7" cy="832.4" r="2.3"/><circle cx="227.3" cy="843.1" r="2.3"/><circle cx="245.7" cy="851.2" r="2.3"/><circle cx="228.2" cy="855.8" r="2.3"/><circle cx="234.1" cy="868" r="2.3"/><circle cx="218.8" cy="882.1" r="2.3"/><circle cx="232.9" cy="860.4" r="2.3"/><circle cx="221.3" cy="889.4" r="2.3"/><circle cx="228.7" cy="838.2" r="2.3"/><circle cx="272.5" cy="815.4" r="2.3"/><circle cx="226.2" cy="852.1" r="2.3"/><circle cx="253.5" cy="811" r="2.3"/><circle cx="228.6" cy="858" r="2.3"/><circle cx="251.1" cy="859.2" r="2.3"/><circle cx="252.7" cy="852.8" r="2.3"/><circle cx="238.3" cy="833.2" r="2.3"/><circle cx="242.2" cy="845.5" r="2.3"/><circle cx="268" cy="847.3" r="2.3"/><circle cx="263" cy="832.4" r="2.3"/><circle cx="236.5" cy="871.8" r="2.3"/><circle cx="258.1" cy="822.1" r="2.3"/><circle cx="245.1" cy="878.8" r="2.3"/><circle cx="258.5" cy="867" r="2.3"/><circle cx="259.4" cy="866.8" r="2.3"/><circle cx="270" cy="857" r="2.3"/><circle cx="254.7" cy="852.4" r="2.3"/><circle cx="257.9" cy="861.2" r="2.3"/><circle cx="252.2" cy="836.8" r="2.3"/><circle cx="255.8" cy="844.2" r="2.3"/><circle cx="222.2" cy="866.7" r="2.3"/><circle cx="273.2" cy="805.8" r="2.3"/><circle cx="252.1" cy="858.9" r="2.3"/><circle cx="210.6" cy="768.4" r="2.3"/><circle cx="210.1" cy="781.1" r="2.3"/><circle cx="212.6" cy="778.6" r="2.3"/><circle cx="211.8" cy="793.9" r="2.3"/><circle cx="211.8" cy="805.3" r="2.3"/><circle cx="213.1" cy="815.5" r="2.3"/><circle cx="206.7" cy="817.6" r="2.3"/><circle cx="212.6" cy="832.1" r="2.3"/><circle cx="214.4" cy="836.7" r="2.3"/><circle cx="218.2" cy="898.3" r="2.3"/><circle cx="219.5" cy="903.4" r="2.3"/><circle cx="220.8" cy="913.6" r="2.3"/><circle cx="221.3" cy="918.7" r="2.3"/><circle cx="216.9" cy="867.7" r="2.3"/><circle cx="217.7" cy="872.8" r="2.3"/><circle cx="224.6" cy="951.8" r="2.3"/><circle cx="225.3" cy="967.1" r="2.3"/><circle cx="253.9" cy="764.6" r="2.3"/><circle cx="264.8" cy="907.2" r="2.3"/><circle cx="233.5" cy="898.3" r="2.3"/><circle cx="299.7" cy="1000.2" r="2.3"/><circle cx="321.4" cy="998.9" r="2.3"/><circle cx="475.5" cy="844.8" r="2.3"/><circle cx="534" cy="852.5" r="2.3"/><circle cx="401.6" cy="855" r="2.3"/><circle cx="402.9" cy="857.5" r="2.3"/><circle cx="439.8" cy="883" r="2.3"/><circle cx="499.7" cy="886.8" r="2.3"/><circle cx="360.8" cy="900.8" r="2.3"/><circle cx="339.2" cy="903.4" r="2.3"/><circle cx="315" cy="865.2" r="2.3"/><circle cx="325.2" cy="870.3" r="2.3"/><circle cx="301" cy="816.8" r="2.3"/><circle cx="294.6" cy="810.4" r="2.3"/><circle cx="289.5" cy="732.7" r="2.3"/><circle cx="289" cy="758.2" r="2.3"/><circle cx="290" cy="768.4" r="2.3"/><circle cx="627.9" cy="925.1" r="2.3"/><circle cx="566.7" cy="917.5" r="2.3"/><circle cx="566.7" cy="923.9" r="2.3"/><circle cx="666.1" cy="1093.3" r="2.3"/><circle cx="686.5" cy="1116.2" r="2.3"/><circle cx="703" cy="1104.7" r="2.3"/><circle cx="773.1" cy="1094.5" r="2.3"/><circle cx="773.1" cy="1104.7" r="2.3"/><circle cx="813.8" cy="1092" r="2.3"/><circle cx="829.1" cy="1093.3" r="2.3"/><circle cx="576.9" cy="1037.2" r="2.3"/><circle cx="798.5" cy="1228.2" r="2.3"/><circle cx="457.5" cy="1062.5" r="2.3"/></g>
<line x1="191.3" y1="1309.5" x2="201.8" y2="1309.5" stroke="#000" stroke-width="2.3"/>
<line x1="914.6" y1="1309.5" x2="904.1" y2="1309.5" stroke="#000" stroke-width="2.3"/>
<line x1="191.3" y1="1251.4" x2="196.8" y2="1251.4" stroke="#000" stroke-width="2.3"/>
<line x1="914.6" y1="1251.4" x2="909.1" y2="1251.4" stroke="#000" stroke-width="2.3"/>
<line x1="191.3" y1="1193.4" x2="201.8" y2="1193.4" stroke="#000" stroke-width="2.3"/>
<line x1="914.6" y1="1193.4" x2="904.1" y2="1193.4" stroke="#000" stroke-width="2.3"/>
<line x1="191.3" y1="1135.3" x2="196.8" y2="1135.3" stroke="#000" stroke-width="2.3"/>
<line x1="914.6" y1="1135.3" x2="909.1" y2="1135.3" stroke="#000" stroke-width="2.3"/>
<line x1="191.3" y1="1077.2" x2="201.8" y2="1077.2" stroke="#000" stroke-width="2.3"/>
<line x1="914.6" y1="1077.2" x2="904.1" y2="1077.2" stroke="#000" stroke-width="2.3"/>
<line x1="191.3" y1="1019.1" x2="196.8" y2="1019.1" stroke="#000" stroke-width="2.3"/>
<line x1="914.6" y1="1019.1" x2="909.1" y2="1019.1" stroke="#000" stroke-width="2.3"/>
<line x1="191.3" y1="961.1" x2="201.8" y2="961.1" stroke="#000" stroke-width="2.3"/>
<line x1="914.6" y1="961.1" x2="904.1" y2="961.1" stroke="#000" stroke-width="2.3"/>
<line x1="191.3" y1="903" x2="196.8" y2="903" stroke="#000" stroke-width="2.3"/>
<line x1="914.6" y1="903" x2="909.1" y2="903" stroke="#000" stroke-width="2.3"/>
<line x1="191.3" y1="844.9" x2="201.8" y2="844.9" stroke="#000" stroke-width="2.3"/>
<line x1="914.6" y1="844.9" x2="904.1" y2="844.9" stroke="#000" stroke-width="2.3"/>
<line x1="191.3" y1="786.9" x2="196.8" y2="786.9" stroke="#000" stroke-width="2.3"/>
<line x1="914.6" y1="786.9" x2="909.1" y2="786.9" stroke="#000" stroke-width="2.3"/>
<line x1="191.3" y1="728.8" x2="201.8" y2="728.8" stroke="#000" stroke-width="2.3"/>
<line x1="914.6" y1="728.8" x2="904.1" y2="728.8" stroke="#000" stroke-width="2.3"/>
<line x1="191.3" y1="728.8" x2="191.3" y2="738.8" stroke="#000" stroke-width="2.3"/>
<line x1="191.3" y1="1309.5" x2="191.3" y2="1299.5" stroke="#000" stroke-width="2.3"/>
<line x1="243" y1="728.8" x2="243" y2="734.3" stroke="#000" stroke-width="2.3"/>
<line x1="243" y1="1309.5" x2="243" y2="1304" stroke="#000" stroke-width="2.3"/>
<line x1="294.6" y1="728.8" x2="294.6" y2="738.8" stroke="#000" stroke-width="2.3"/>
<line x1="294.6" y1="1309.5" x2="294.6" y2="1299.5" stroke="#000" stroke-width="2.3"/>
<line x1="346.3" y1="728.8" x2="346.3" y2="734.3" stroke="#000" stroke-width="2.3"/>
<line x1="346.3" y1="1309.5" x2="346.3" y2="1304" stroke="#000" stroke-width="2.3"/>
<line x1="398" y1="728.8" x2="398" y2="738.8" stroke="#000" stroke-width="2.3"/>
<line x1="398" y1="1309.5" x2="398" y2="1299.5" stroke="#000" stroke-width="2.3"/>
<line x1="449.6" y1="728.8" x2="449.6" y2="734.3" stroke="#000" stroke-width="2.3"/>
<line x1="449.6" y1="1309.5" x2="449.6" y2="1304" stroke="#000" stroke-width="2.3"/>
<line x1="501.3" y1="728.8" x2="501.3" y2="738.8" stroke="#000" stroke-width="2.3"/>
<line x1="501.3" y1="1309.5" x2="501.3" y2="1299.5" stroke="#000" stroke-width="2.3"/>
<line x1="553" y1="728.8" x2="553" y2="734.3" stroke="#000" stroke-width="2.3"/>
<line x1="553" y1="1309.5" x2="553" y2="1304" stroke="#000" stroke-width="2.3"/>
<line x1="604.6" y1="728.8" x2="604.6" y2="738.8" stroke="#000" stroke-width="2.3"/>
<line x1="604.6" y1="1309.5" x2="604.6" y2="1299.5" stroke="#000" stroke-width="2.3"/>
<line x1="656.3" y1="728.8" x2="656.3" y2="734.3" stroke="#000" stroke-width="2.3"/>
<line x1="656.3" y1="1309.5" x2="656.3" y2="1304" stroke="#000" stroke-width="2.3"/>
<line x1="708" y1="728.8" x2="708" y2="738.8" stroke="#000" stroke-width="2.3"/>
<line x1="708" y1="1309.5" x2="708" y2="1299.5" stroke="#000" stroke-width="2.3"/>
<line x1="759.6" y1="728.8" x2="759.6" y2="734.3" stroke="#000" stroke-width="2.3"/>
<line x1="759.6" y1="1309.5" x2="759.6" y2="1304" stroke="#000" stroke-width="2.3"/>
<line x1="811.3" y1="728.8" x2="811.3" y2="738.8" stroke="#000" stroke-width="2.3"/>
<line x1="811.3" y1="1309.5" x2="811.3" y2="1299.5" stroke="#000" stroke-width="2.3"/>
<line x1="862.9" y1="728.8" x2="862.9" y2="734.3" stroke="#000" stroke-width="2.3"/>
<line x1="862.9" y1="1309.5" x2="862.9" y2="1304" stroke="#000" stroke-width="2.3"/>
<line x1="914.6" y1="728.8" x2="914.6" y2="738.8" stroke="#000" stroke-width="2.3"/>
<line x1="914.6" y1="1309.5" x2="914.6" y2="1299.5" stroke="#000" stroke-width="2.3"/>
<rect x="191.3" y="728.8" width="723.3" height="580.7" fill="none" stroke="#000" stroke-width="2.4"/>
<text transform="translate(178.5,1318) scale(0.9,1)" style="font-family:'Liberation Serif',serif;font-size:25px" text-anchor="end">1</text>
<text transform="translate(178.5,1201.9) scale(0.9,1)" style="font-family:'Liberation Serif',serif;font-size:25px" text-anchor="end">2</text>
<text transform="translate(178.5,1085.7) scale(0.9,1)" style="font-family:'Liberation Serif',serif;font-size:25px" text-anchor="end">3</text>
<text transform="translate(178.5,969.6) scale(0.9,1)" style="font-family:'Liberation Serif',serif;font-size:25px" text-anchor="end">4</text>
<text transform="translate(178.5,853.4) scale(0.9,1)" style="font-family:'Liberation Serif',serif;font-size:25px" text-anchor="end">5</text>
<text transform="translate(178.5,737.3) scale(0.9,1)" style="font-family:'Liberation Serif',serif;font-size:25px" text-anchor="end">6</text>
<text transform="translate(191.3,1342) scale(0.9,1)" style="font-family:'Liberation Serif',serif;font-size:25px" text-anchor="middle">0</text>
<text transform="translate(294.6,1342) scale(0.9,1)" style="font-family:'Liberation Serif',serif;font-size:25px" text-anchor="middle">1</text>
<text transform="translate(398,1342) scale(0.9,1)" style="font-family:'Liberation Serif',serif;font-size:25px" text-anchor="middle">2</text>
<text transform="translate(501.3,1342) scale(0.9,1)" style="font-family:'Liberation Serif',serif;font-size:25px" text-anchor="middle">3</text>
<text transform="translate(604.6,1342) scale(0.9,1)" style="font-family:'Liberation Serif',serif;font-size:25px" text-anchor="middle">4</text>
<text transform="translate(708,1342) scale(0.9,1)" style="font-family:'Liberation Serif',serif;font-size:25px" text-anchor="middle">5</text>
<text transform="translate(811.3,1342) scale(0.9,1)" style="font-family:'Liberation Serif',serif;font-size:25px" text-anchor="middle">6</text>
<text transform="translate(914.6,1342) scale(0.9,1)" style="font-family:'Liberation Serif',serif;font-size:25px" text-anchor="middle">7</text>
<text transform="translate(552.8,1388.2)" style="font-family:'Liberation Serif',serif;font-size:30px" text-anchor="middle">Frequency (THz)</text>
<text transform="translate(153.8,1080.6) rotate(-90)" style="font-family:'Liberation Serif',serif;font-size:31px">P3 (×10<tspan dy="-12" style="font-size:19px">-8</tspan><tspan dy="12">)</tspan></text>
<text transform="translate(101,762)" style="font-family:'Liberation Sans',sans-serif;font-size:62px" text-anchor="start" stroke="#000" stroke-width="0.7">c</text>
<line x1="1160" y1="1101.6" x2="1872" y2="1101.6" stroke="#9a9a9a" stroke-width="2" stroke-dasharray="7,4,2,4"/>
<path d="M1275.1,1015.5 L1284.8,1015.5 L1287.2,1022.7 L1294.4,1032.4 L1299.2,1032.4 L1308.9,1051.7 L1317.3,1046.9 L1319.7,1019.1 L1323.4,1020.3 L1323.4,1049.3 L1330.6,1051.7 L1340.2,1051.7 L1357.1,1054.1 L1371.6,1052.9 L1398.1,1051.7 L1419.9,1063.7 L1421.1,1073.4 L1453.6,1073.4 L1479.9,1064.5 L1486,1065.4 L1483.8,1082.1 L1509.4,1078.2 L1527,1070.3 L1528.7,1073.1 L1538.6,1075.1 L1538.6,1078.2 L1524.8,1087.9 L1530.8,1101.6 L1538.6,1105.5 L1538.6,1113.2 L1519,1113.2 L1497.5,1119 L1479.9,1113.2 L1441.6,1104.8 L1424.7,1097.5 L1395.7,1085.5 L1390.9,1104.8 L1378.8,1128.9 L1392.1,1138.5 L1381.3,1140.9 L1362,1150.6 L1357.1,1133.7 L1342.7,1136.1 L1328.2,1140.9 L1313.7,1138.5 L1294.4,1116.8 L1284.8,1107.2 L1281.1,1095.1 L1277.5,1061.3 Z" fill="#2a58a8"/>
<path d="M1236.6,1297 L1231,1262 L1228.5,1242 L1227,1220 L1229,1198 L1226,1175 L1218,1150 L1222,1120 L1238,1095 L1256,1075 L1266,1070 L1276,1085 L1282,1110 L1280,1165 L1278,1183 L1269,1190.6 L1254.3,1220 L1245.4,1264.4 Z" fill="#2a58a8"/>
<path d="M1497.6,1035.2 L1501.5,1034.2 L1538.6,1046.9 L1577.7,1060.5 L1612.8,1064.5 L1622.6,1064.5 L1663.6,1072.3 L1663.6,1076.2 L1628.4,1077.1 L1624.5,1081.1 L1616.7,1080.1 L1610.9,1076.2 L1581.6,1071.3 L1538.6,1056.6 L1497.6,1039.1 Z" fill="#2a58a8"/>
<path d="M1667.5,1093.8 L1681.2,1082 L1700.7,1080.1 L1702.7,1076.2 L1732,1081.1 L1733.9,1086.9 L1778.8,1090.8 L1790.5,1092.8 L1790.5,1097.7 L1739.8,1101.6 L1732,1101.6 L1722.2,1099.6 L1720.2,1106.4 L1733.9,1113.3 L1733.9,1115.2 L1718.3,1111.3 L1716.3,1103.5 L1704.6,1105.5 L1703.6,1112.3 L1694.8,1105.5 L1685.1,1102.5 L1667.5,1098.6 Z" fill="#2a58a8"/>
<path d="M1248,1198 L1252,1200 L1254,1208 L1249,1211 L1246,1204 Z" fill="#fff"/>
<path d="M1244,1216 L1247,1215 L1249,1224 L1246,1229 L1243,1223 Z" fill="#fff"/>
<path d="M1231.1,1189.3l4,4m0,-4l-4,4M1232.4,1182.5l4,4m0,-4l-4,4M1251,1082.5l4,4m0,-4l-4,4M1229.7,1151.5l4,4m0,-4l-4,4M1238.1,1112.4l4,4m0,-4l-4,4M1241.2,1156.6l4,4m0,-4l-4,4M1234.9,1124l4,4m0,-4l-4,4M1236,1135l4,4m0,-4l-4,4M1224,1117.6l4,4m0,-4l-4,4M1222.5,1128l4,4m0,-4l-4,4M1249.2,1171.2l4,4m0,-4l-4,4M1234,1135.1l4,4m0,-4l-4,4M1253,1074.6l4,4m0,-4l-4,4M1245.7,1159.3l4,4m0,-4l-4,4M1232.2,1122.8l4,4m0,-4l-4,4M1254.4,1162l4,4m0,-4l-4,4M1252.2,1111.8l4,4m0,-4l-4,4M1236.9,1110.5l4,4m0,-4l-4,4M1232.7,1181l4,4m0,-4l-4,4M1239.4,1142.1l4,4m0,-4l-4,4M1242.9,1104.4l4,4m0,-4l-4,4M1241.8,1094.1l4,4m0,-4l-4,4M1228.1,1158.9l4,4m0,-4l-4,4M1229.6,1156.4l4,4m0,-4l-4,4M1255.5,1119.4l4,4m0,-4l-4,4M1220.5,1147.3l4,4m0,-4l-4,4M1223.8,1114.4l4,4m0,-4l-4,4M1241,1099.1l4,4m0,-4l-4,4M1226.3,1165.9l4,4m0,-4l-4,4M1225.5,1134.8l4,4m0,-4l-4,4M1228.3,1121l4,4m0,-4l-4,4M1248.4,1152.5l4,4m0,-4l-4,4M1225.1,1178.5l4,4m0,-4l-4,4M1230.6,1141.5l4,4m0,-4l-4,4M1230.6,1163.8l4,4m0,-4l-4,4M1240.6,1132.8l4,4m0,-4l-4,4M1226,1175l4,4m0,-4l-4,4M1256.6,1121.7l4,4m0,-4l-4,4M1236.8,1114.4l4,4m0,-4l-4,4M1237.1,1173.2l4,4m0,-4l-4,4M1245,1128.5l4,4m0,-4l-4,4M1221.7,1172l4,4m0,-4l-4,4M1237.8,1155l4,4m0,-4l-4,4M1241.8,1174l4,4m0,-4l-4,4M1227.3,1177.2l4,4m0,-4l-4,4M1237.2,1164.6l4,4m0,-4l-4,4M1249.5,1114.1l4,4m0,-4l-4,4M1247.9,1167.4l4,4m0,-4l-4,4M1237.5,1136.1l4,4m0,-4l-4,4M1235.7,1127.6l4,4m0,-4l-4,4M1223.7,1141.9l4,4m0,-4l-4,4M1253.4,1103.6l4,4m0,-4l-4,4M1233.2,1117.8l4,4m0,-4l-4,4M1227.6,1184.2l4,4m0,-4l-4,4M1247.5,1083.4l4,4m0,-4l-4,4M1237.8,1114.9l4,4m0,-4l-4,4M1241.7,1116.1l4,4m0,-4l-4,4M1245.2,1087.4l4,4m0,-4l-4,4M1237.8,1126.2l4,4m0,-4l-4,4M1250.2,1136.1l4,4m0,-4l-4,4M1241,1109.8l4,4m0,-4l-4,4M1221.7,1145.1l4,4m0,-4l-4,4M1221.1,1133.6l4,4m0,-4l-4,4M1216.4,1142.6l4,4m0,-4l-4,4M1219.2,1139.8l4,4m0,-4l-4,4M1237.2,1127.1l4,4m0,-4l-4,4M1222.5,1145.7l4,4m0,-4l-4,4M1221,1154.9l4,4m0,-4l-4,4M1253.3,1113.4l4,4m0,-4l-4,4M1232.8,1134.6l4,4m0,-4l-4,4M1228,1107.4l4,4m0,-4l-4,4M1226.8,1152.2l4,4m0,-4l-4,4M1238.3,1140.1l4,4m0,-4l-4,4M1242.1,1104.1l4,4m0,-4l-4,4M1237.9,1136.9l4,4m0,-4l-4,4M1242.8,1149.8l4,4m0,-4l-4,4M1237.5,1144.2l4,4m0,-4l-4,4M1221.4,1117.5l4,4m0,-4l-4,4M1225.3,1138.3l4,4m0,-4l-4,4M1246.3,1104.8l4,4m0,-4l-4,4M1235.3,1097.8l4,4m0,-4l-4,4M1232.8,1191.9l4,4m0,-4l-4,4M1254.8,1116.4l4,4m0,-4l-4,4M1232.4,1101.7l4,4m0,-4l-4,4M1244.6,1172.2l4,4m0,-4l-4,4M1242,1102.1l4,4m0,-4l-4,4M1245.5,1089l4,4m0,-4l-4,4M1233,1142.5l4,4m0,-4l-4,4M1231.4,1175.8l4,4m0,-4l-4,4M1223.4,1129.7l4,4m0,-4l-4,4M1242.1,1095.3l4,4m0,-4l-4,4M1231.2,1177l4,4m0,-4l-4,4M1250.4,1140l4,4m0,-4l-4,4M1224.9,1115.7l4,4m0,-4l-4,4M1216.6,1127l4,4m0,-4l-4,4M1242.2,1152.8l4,4m0,-4l-4,4M1242,1134.4l4,4m0,-4l-4,4M1252.5,1102l4,4m0,-4l-4,4M1227.6,1177.3l4,4m0,-4l-4,4M1235,1182.4l4,4m0,-4l-4,4M1236.4,1119.5l4,4m0,-4l-4,4M1236,1115.2l4,4m0,-4l-4,4M1236.2,1121.9l4,4m0,-4l-4,4M1244.5,1151l4,4m0,-4l-4,4M1233.1,1117.6l4,4m0,-4l-4,4M1222.5,1170.1l4,4m0,-4l-4,4M1229.1,1182.6l4,4m0,-4l-4,4M1236.1,1091.7l4,4m0,-4l-4,4M1223.8,1109.9l4,4m0,-4l-4,4M1225.1,1159.7l4,4m0,-4l-4,4M1217.9,1143.3l4,4m0,-4l-4,4M1252.6,1128.2l4,4m0,-4l-4,4M1246,1140.4l4,4m0,-4l-4,4M1241.2,1159.9l4,4m0,-4l-4,4M1246.4,1172.3l4,4m0,-4l-4,4M1232.7,1150.8l4,4m0,-4l-4,4M1233.1,1175.9l4,4m0,-4l-4,4M1251.7,1112.9l4,4m0,-4l-4,4M1247.8,1099.8l4,4m0,-4l-4,4M1226.4,1169.5l4,4m0,-4l-4,4M1222.2,1146.9l4,4m0,-4l-4,4M1233.4,1151.1l4,4m0,-4l-4,4M1249,1175.7l4,4m0,-4l-4,4M1217,1125.1l4,4m0,-4l-4,4M1247.6,1105.7l4,4m0,-4l-4,4M1229.1,1146l4,4m0,-4l-4,4M1216.1,1153.4l4,4m0,-4l-4,4M1229,1184.1l4,4m0,-4l-4,4M1238.6,1092.7l4,4m0,-4l-4,4M1237.5,1100.1l4,4m0,-4l-4,4M1239.2,1153.7l4,4m0,-4l-4,4M1257.5,1102.6l4,4m0,-4l-4,4M1230.1,1124.7l4,4m0,-4l-4,4M1251.8,1142.9l4,4m0,-4l-4,4M1241,1122.1l4,4m0,-4l-4,4M1222,1173.7l4,4m0,-4l-4,4M1256.5,1140.4l4,4m0,-4l-4,4M1244.3,1125.2l4,4m0,-4l-4,4M1230.6,1143l4,4m0,-4l-4,4M1225.7,1127.6l4,4m0,-4l-4,4M1234.3,1162.8l4,4m0,-4l-4,4M1244.8,1145.4l4,4m0,-4l-4,4M1215,1147.4l4,4m0,-4l-4,4M1254.6,1155.8l4,4m0,-4l-4,4M1245.7,1102.8l4,4m0,-4l-4,4M1227.9,1139.5l4,4m0,-4l-4,4M1229.3,1138l4,4m0,-4l-4,4M1244.1,1145.1l4,4m0,-4l-4,4M1225.7,1140.1l4,4m0,-4l-4,4M1230.2,1151.5l4,4m0,-4l-4,4M1254,1120.6l4,4m0,-4l-4,4M1221.3,1149l4,4m0,-4l-4,4M1216.2,1134.9l4,4m0,-4l-4,4M1219.4,1156.8l4,4m0,-4l-4,4M1248.9,1166.4l4,4m0,-4l-4,4M1229.8,1167.7l4,4m0,-4l-4,4M1237.7,1101l4,4m0,-4l-4,4M1246.5,1099l4,4m0,-4l-4,4M1235.8,1144.5l4,4m0,-4l-4,4M1249.3,1104.2l4,4m0,-4l-4,4" stroke="#fff" stroke-width="1.3" stroke-opacity="0.85" fill="none"/>
<path d="M1315.3,1062.9l3.5,3.5m0,-3.5l-3.5,3.5M1360.8,1062.5l3.5,3.5m0,-3.5l-3.5,3.5M1320.3,1066.4l3.5,3.5m0,-3.5l-3.5,3.5M1339.1,1076.2l3.5,3.5m0,-3.5l-3.5,3.5M1355.5,1063.8l3.5,3.5m0,-3.5l-3.5,3.5M1318,1056.2l3.5,3.5m0,-3.5l-3.5,3.5M1296.4,1079.3l3.5,3.5m0,-3.5l-3.5,3.5M1354.6,1071.3l3.5,3.5m0,-3.5l-3.5,3.5M1356,1075.2l3.5,3.5m0,-3.5l-3.5,3.5M1390.2,1069.9l3.5,3.5m0,-3.5l-3.5,3.5M1353.5,1065.7l3.5,3.5m0,-3.5l-3.5,3.5M1330.9,1060.9l3.5,3.5m0,-3.5l-3.5,3.5M1287.5,1070.5l3.5,3.5m0,-3.5l-3.5,3.5M1387.6,1060.5l3.5,3.5m0,-3.5l-3.5,3.5M1284.8,1044.7l3.5,3.5m0,-3.5l-3.5,3.5M1318.6,1059.4l3.5,3.5m0,-3.5l-3.5,3.5M1356.3,1069l3.5,3.5m0,-3.5l-3.5,3.5M1320.7,1072.5l3.5,3.5m0,-3.5l-3.5,3.5M1285.3,1040.6l3.5,3.5m0,-3.5l-3.5,3.5M1383.6,1072.9l3.5,3.5m0,-3.5l-3.5,3.5M1355.1,1069.7l3.5,3.5m0,-3.5l-3.5,3.5M1373.1,1069.1l3.5,3.5m0,-3.5l-3.5,3.5M1330.5,1070.2l3.5,3.5m0,-3.5l-3.5,3.5M1292.2,1076.2l3.5,3.5m0,-3.5l-3.5,3.5M1354,1053.9l3.5,3.5m0,-3.5l-3.5,3.5M1338.8,1056.7l3.5,3.5m0,-3.5l-3.5,3.5M1293.4,1078.9l3.5,3.5m0,-3.5l-3.5,3.5M1319.5,1070.8l3.5,3.5m0,-3.5l-3.5,3.5M1303.2,1076.8l3.5,3.5m0,-3.5l-3.5,3.5M1333.3,1070.6l3.5,3.5m0,-3.5l-3.5,3.5M1303.1,1062.4l3.5,3.5m0,-3.5l-3.5,3.5M1369.5,1060.6l3.5,3.5m0,-3.5l-3.5,3.5M1319,1083.8l3.5,3.5m0,-3.5l-3.5,3.5M1313.6,1071.5l3.5,3.5m0,-3.5l-3.5,3.5M1319.6,1061l3.5,3.5m0,-3.5l-3.5,3.5M1352.8,1079.9l3.5,3.5m0,-3.5l-3.5,3.5M1314.1,1073.5l3.5,3.5m0,-3.5l-3.5,3.5M1320.7,1057l3.5,3.5m0,-3.5l-3.5,3.5M1355.6,1054.3l3.5,3.5m0,-3.5l-3.5,3.5M1336.7,1081.2l3.5,3.5m0,-3.5l-3.5,3.5M1289,1052.8l3.5,3.5m0,-3.5l-3.5,3.5M1357.5,1068.8l3.5,3.5m0,-3.5l-3.5,3.5M1331.9,1056l3.5,3.5m0,-3.5l-3.5,3.5M1312,1056l3.5,3.5m0,-3.5l-3.5,3.5M1284,1036.8l3.5,3.5m0,-3.5l-3.5,3.5M1333.2,1079.4l3.5,3.5m0,-3.5l-3.5,3.5M1322.3,1064.2l3.5,3.5m0,-3.5l-3.5,3.5M1333.5,1065.6l3.5,3.5m0,-3.5l-3.5,3.5M1286.7,1053.7l3.5,3.5m0,-3.5l-3.5,3.5M1331.4,1066.1l3.5,3.5m0,-3.5l-3.5,3.5M1390.2,1071.6l3.5,3.5m0,-3.5l-3.5,3.5M1297.9,1070.4l3.5,3.5m0,-3.5l-3.5,3.5M1356.7,1055.3l3.5,3.5m0,-3.5l-3.5,3.5M1378.6,1076.7l3.5,3.5m0,-3.5l-3.5,3.5M1323.3,1068.2l3.5,3.5m0,-3.5l-3.5,3.5M1293.4,1066.9l3.5,3.5m0,-3.5l-3.5,3.5M1309.5,1086.3l3.5,3.5m0,-3.5l-3.5,3.5M1381.9,1070.3l3.5,3.5m0,-3.5l-3.5,3.5M1331.9,1072.9l3.5,3.5m0,-3.5l-3.5,3.5M1290.9,1076.7l3.5,3.5m0,-3.5l-3.5,3.5M1340.8,1054.8l3.5,3.5m0,-3.5l-3.5,3.5M1371.5,1063.3l3.5,3.5m0,-3.5l-3.5,3.5M1375.7,1074.6l3.5,3.5m0,-3.5l-3.5,3.5M1352.9,1079l3.5,3.5m0,-3.5l-3.5,3.5M1370.5,1073l3.5,3.5m0,-3.5l-3.5,3.5M1351.7,1063.4l3.5,3.5m0,-3.5l-3.5,3.5M1377.4,1058.5l3.5,3.5m0,-3.5l-3.5,3.5M1303.9,1074.9l3.5,3.5m0,-3.5l-3.5,3.5M1302.8,1071.1l3.5,3.5m0,-3.5l-3.5,3.5M1303,1074.4l3.5,3.5m0,-3.5l-3.5,3.5M1285.3,1048.4l3.5,3.5m0,-3.5l-3.5,3.5M1299.4,1061.9l3.5,3.5m0,-3.5l-3.5,3.5M1336.9,1074l3.5,3.5m0,-3.5l-3.5,3.5M1331.3,1079.9l3.5,3.5m0,-3.5l-3.5,3.5M1289.5,1065.2l3.5,3.5m0,-3.5l-3.5,3.5M1289.6,1050.3l3.5,3.5m0,-3.5l-3.5,3.5M1299.5,1065.8l3.5,3.5m0,-3.5l-3.5,3.5M1385.1,1069.9l3.5,3.5m0,-3.5l-3.5,3.5M1326.4,1076.1l3.5,3.5m0,-3.5l-3.5,3.5M1379.5,1066.2l3.5,3.5m0,-3.5l-3.5,3.5M1286.9,1061.6l3.5,3.5m0,-3.5l-3.5,3.5M1314.2,1063.6l3.5,3.5m0,-3.5l-3.5,3.5M1342.6,1073.3l3.5,3.5m0,-3.5l-3.5,3.5M1313,1072.5l3.5,3.5m0,-3.5l-3.5,3.5M1379.6,1058.8l3.5,3.5m0,-3.5l-3.5,3.5M1294.9,1073.9l3.5,3.5m0,-3.5l-3.5,3.5M1353.6,1083.6l3.5,3.5m0,-3.5l-3.5,3.5M1316,1086.2l3.5,3.5m0,-3.5l-3.5,3.5M1303.7,1079.3l3.5,3.5m0,-3.5l-3.5,3.5M1355.3,1074.8l3.5,3.5m0,-3.5l-3.5,3.5M1292.5,1068.5l3.5,3.5m0,-3.5l-3.5,3.5M1336.8,1053.3l3.5,3.5m0,-3.5l-3.5,3.5M1318.7,1064.7l3.5,3.5m0,-3.5l-3.5,3.5M1345.2,1071.6l3.5,3.5m0,-3.5l-3.5,3.5M1346.9,1057.8l3.5,3.5m0,-3.5l-3.5,3.5M1391.6,1059.3l3.5,3.5m0,-3.5l-3.5,3.5M1338.5,1076.2l3.5,3.5m0,-3.5l-3.5,3.5M1392.7,1069.4l3.5,3.5m0,-3.5l-3.5,3.5M1287.2,1039.6l3.5,3.5m0,-3.5l-3.5,3.5M1328.4,1073.9l3.5,3.5m0,-3.5l-3.5,3.5M1336.1,1056.3l3.5,3.5m0,-3.5l-3.5,3.5M1345.8,1065.8l3.5,3.5m0,-3.5l-3.5,3.5M1297,1080.9l3.5,3.5m0,-3.5l-3.5,3.5M1288.7,1043.5l3.5,3.5m0,-3.5l-3.5,3.5M1347.9,1058l3.5,3.5m0,-3.5l-3.5,3.5M1388.9,1078.2l3.5,3.5m0,-3.5l-3.5,3.5M1322.8,1068.4l3.5,3.5m0,-3.5l-3.5,3.5M1307.9,1085.4l3.5,3.5m0,-3.5l-3.5,3.5M1381.1,1069.5l3.5,3.5m0,-3.5l-3.5,3.5M1336.1,1054.8l3.5,3.5m0,-3.5l-3.5,3.5M1355,1075.6l3.5,3.5m0,-3.5l-3.5,3.5M1393.6,1072.1l3.5,3.5m0,-3.5l-3.5,3.5M1328.4,1066.5l3.5,3.5m0,-3.5l-3.5,3.5M1292.7,1072.4l3.5,3.5m0,-3.5l-3.5,3.5M1378.4,1062.4l3.5,3.5m0,-3.5l-3.5,3.5M1294.5,1076.5l3.5,3.5m0,-3.5l-3.5,3.5M1373.7,1063.7l3.5,3.5m0,-3.5l-3.5,3.5M1343.6,1060.5l3.5,3.5m0,-3.5l-3.5,3.5M1392,1059.2l3.5,3.5m0,-3.5l-3.5,3.5M1373,1075.7l3.5,3.5m0,-3.5l-3.5,3.5M1392.4,1074.6l3.5,3.5m0,-3.5l-3.5,3.5M1320.9,1085.4l3.5,3.5m0,-3.5l-3.5,3.5M1390.3,1063.4l3.5,3.5m0,-3.5l-3.5,3.5M1323.1,1066.9l3.5,3.5m0,-3.5l-3.5,3.5M1336.6,1061.8l3.5,3.5m0,-3.5l-3.5,3.5M1385.8,1068.1l3.5,3.5m0,-3.5l-3.5,3.5M1333,1058.7l3.5,3.5m0,-3.5l-3.5,3.5M1371.1,1067.3l3.5,3.5m0,-3.5l-3.5,3.5M1365.2,1068.4l3.5,3.5m0,-3.5l-3.5,3.5M1362.7,1079.4l3.5,3.5m0,-3.5l-3.5,3.5M1293.8,1066.1l3.5,3.5m0,-3.5l-3.5,3.5M1377.9,1079.3l3.5,3.5m0,-3.5l-3.5,3.5M1321.5,1075.2l3.5,3.5m0,-3.5l-3.5,3.5M1318.2,1058l3.5,3.5m0,-3.5l-3.5,3.5M1306.5,1068.2l3.5,3.5m0,-3.5l-3.5,3.5M1380.8,1059.3l3.5,3.5m0,-3.5l-3.5,3.5M1347.9,1078.2l3.5,3.5m0,-3.5l-3.5,3.5M1381.1,1057.6l3.5,3.5m0,-3.5l-3.5,3.5M1309.9,1061.9l3.5,3.5m0,-3.5l-3.5,3.5M1312.5,1055.2l3.5,3.5m0,-3.5l-3.5,3.5" stroke="#fff" stroke-width="0.9" stroke-opacity="0.45" fill="none"/>
<path d="M1240.8,722.1l4.4,4.4m0,-4.4l-4.4,4.4M1241.8,736.1l4.4,4.4m0,-4.4l-4.4,4.4M1242.9,750.1l4.4,4.4m0,-4.4l-4.4,4.4M1243.9,760.5l4.4,4.4m0,-4.4l-4.4,4.4M1245,770.9l4.4,4.4m0,-4.4l-4.4,4.4M1246,781.3l4.4,4.4m0,-4.4l-4.4,4.4M1247,791.7l4.4,4.4m0,-4.4l-4.4,4.4M1247.7,798.6l4.4,4.4m0,-4.4l-4.4,4.4M1248.4,805.6l4.4,4.4m0,-4.4l-4.4,4.4M1249.1,812.5l4.4,4.4m0,-4.4l-4.4,4.4M1250.2,819.4l4.4,4.4m0,-4.4l-4.4,4.4M1251.2,826.3l4.4,4.4m0,-4.4l-4.4,4.4M1252.2,833.3l4.4,4.4m0,-4.4l-4.4,4.4M1253.3,840.2l4.4,4.4m0,-4.4l-4.4,4.4M1254.3,847.1l4.4,4.4m0,-4.4l-4.4,4.4M1254.9,854.1l4.4,4.4m0,-4.4l-4.4,4.4M1256.5,857l4.4,4.4m0,-4.4l-4.4,4.4M1255.9,860l4.4,4.4m0,-4.4l-4.4,4.4M1257.4,863l4.4,4.4m0,-4.4l-4.4,4.4M1257.4,865.9l4.4,4.4m0,-4.4l-4.4,4.4M1258.2,868.9l4.4,4.4m0,-4.4l-4.4,4.4M1258,871.9l4.4,4.4m0,-4.4l-4.4,4.4M1257.7,874.8l4.4,4.4m0,-4.4l-4.4,4.4M1258.4,877.8l4.4,4.4m0,-4.4l-4.4,4.4M1258.7,880.8l4.4,4.4m0,-4.4l-4.4,4.4M1259.2,883.7l4.4,4.4m0,-4.4l-4.4,4.4M1259.5,886.7l4.4,4.4m0,-4.4l-4.4,4.4M1260.3,889.7l4.4,4.4m0,-4.4l-4.4,4.4M1261.1,892.6l4.4,4.4m0,-4.4l-4.4,4.4M1261.9,895.6l4.4,4.4m0,-4.4l-4.4,4.4M1261.5,898.6l4.4,4.4m0,-4.4l-4.4,4.4M1262.3,901.6l4.4,4.4m0,-4.4l-4.4,4.4M1263.3,904.5l4.4,4.4m0,-4.4l-4.4,4.4M1262.7,907.5l4.4,4.4m0,-4.4l-4.4,4.4M1264.1,910.5l4.4,4.4m0,-4.4l-4.4,4.4M1263.6,913.4l4.4,4.4m0,-4.4l-4.4,4.4M1263.9,916.4l4.4,4.4m0,-4.4l-4.4,4.4M1265.6,919.4l4.4,4.4m0,-4.4l-4.4,4.4M1265.7,922.3l4.4,4.4m0,-4.4l-4.4,4.4M1266.2,925.3l4.4,4.4m0,-4.4l-4.4,4.4M1266.2,928.3l4.4,4.4m0,-4.4l-4.4,4.4M1266.4,931.2l4.4,4.4m0,-4.4l-4.4,4.4M1267.5,934.2l4.4,4.4m0,-4.4l-4.4,4.4M1267.5,937.2l4.4,4.4m0,-4.4l-4.4,4.4M1268.9,940.1l4.4,4.4m0,-4.4l-4.4,4.4M1268.9,943.1l4.4,4.4m0,-4.4l-4.4,4.4M1269.3,946.1l4.4,4.4m0,-4.4l-4.4,4.4M1268.5,949.1l4.4,4.4m0,-4.4l-4.4,4.4M1269.1,952l4.4,4.4m0,-4.4l-4.4,4.4M1269.4,955l4.4,4.4m0,-4.4l-4.4,4.4M1269.3,958l4.4,4.4m0,-4.4l-4.4,4.4M1270.2,960.9l4.4,4.4m0,-4.4l-4.4,4.4M1270.7,963.9l4.4,4.4m0,-4.4l-4.4,4.4M1270.5,966.9l4.4,4.4m0,-4.4l-4.4,4.4M1270.6,969.8l4.4,4.4m0,-4.4l-4.4,4.4M1270.6,972.8l4.4,4.4m0,-4.4l-4.4,4.4M1271.3,975.8l4.4,4.4m0,-4.4l-4.4,4.4M1272,978.7l4.4,4.4m0,-4.4l-4.4,4.4M1273,981.9l4.4,4.4m0,-4.4l-4.4,4.4M1272.8,985.1l4.4,4.4m0,-4.4l-4.4,4.4M1272.3,988.3l4.4,4.4m0,-4.4l-4.4,4.4M1272.6,991.5l4.4,4.4m0,-4.4l-4.4,4.4M1272.7,994.7l4.4,4.4m0,-4.4l-4.4,4.4M1274,997.9l4.4,4.4m0,-4.4l-4.4,4.4M1272.2,995l4.4,4.4m0,-4.4l-4.4,4.4M1273.2,992.2l4.4,4.4m0,-4.4l-4.4,4.4M1272.5,989.3l4.4,4.4m0,-4.4l-4.4,4.4M1271.3,986.5l4.4,4.4m0,-4.4l-4.4,4.4M1271.2,983.6l4.4,4.4m0,-4.4l-4.4,4.4M1270,980.8l4.4,4.4m0,-4.4l-4.4,4.4M1270.5,978l4.4,4.4m0,-4.4l-4.4,4.4M1269.1,975.1l4.4,4.4m0,-4.4l-4.4,4.4M1270,972.3l4.4,4.4m0,-4.4l-4.4,4.4M1269.4,975.4l4.4,4.4m0,-4.4l-4.4,4.4M1270,978.5l4.4,4.4m0,-4.4l-4.4,4.4M1270.8,981.6l4.4,4.4m0,-4.4l-4.4,4.4M1270.9,984.7l4.4,4.4m0,-4.4l-4.4,4.4M1271,987.8l4.4,4.4m0,-4.4l-4.4,4.4M1270.9,990.9l4.4,4.4m0,-4.4l-4.4,4.4M1270.8,994l4.4,4.4m0,-4.4l-4.4,4.4M1271.3,996.7l4.4,4.4m0,-4.4l-4.4,4.4M1271.9,999.5l4.4,4.4m0,-4.4l-4.4,4.4M1271.5,1002.3l4.4,4.4m0,-4.4l-4.4,4.4M1272.8,1005l4.4,4.4m0,-4.4l-4.4,4.4M1272.5,1007.8l4.4,4.4m0,-4.4l-4.4,4.4M1273.3,1010.5l4.4,4.4m0,-4.4l-4.4,4.4" stroke="#2a58a8" stroke-width="1.25" fill="none"/>
<path d="M1273.9,1014.3l4.5,4.5m0,-4.5l-4.5,4.5M1277,1012.2l4.5,4.5m0,-4.5l-4.5,4.5M1279.5,1013.1l4.5,4.5m0,-4.5l-4.5,4.5M1282.6,1012.4l4.5,4.5m0,-4.5l-4.5,4.5M1282.6,1015.5l4.5,4.5m0,-4.5l-4.5,4.5M1283.4,1018l4.5,4.5m0,-4.5l-4.5,4.5M1283.8,1019.5l4.5,4.5m0,-4.5l-4.5,4.5M1287.2,1022.7l4.5,4.5m0,-4.5l-4.5,4.5M1288.6,1025.9l4.5,4.5m0,-4.5l-4.5,4.5M1290,1026.7l4.5,4.5m0,-4.5l-4.5,4.5M1292.8,1030.3l4.5,4.5m0,-4.5l-4.5,4.5M1294.9,1030.4l4.5,4.5m0,-4.5l-4.5,4.5M1298.1,1029.8l4.5,4.5m0,-4.5l-4.5,4.5M1299,1032.6l4.5,4.5m0,-4.5l-4.5,4.5M1299.9,1036l4.5,4.5m0,-4.5l-4.5,4.5M1300.7,1037.4l4.5,4.5m0,-4.5l-4.5,4.5M1302.4,1041.7l4.5,4.5m0,-4.5l-4.5,4.5M1304.1,1043.8l4.5,4.5m0,-4.5l-4.5,4.5M1305.6,1045.9l4.5,4.5m0,-4.5l-4.5,4.5M1305.9,1049l4.5,4.5m0,-4.5l-4.5,4.5M1310.2,1047.1l4.5,4.5m0,-4.5l-4.5,4.5M1311.3,1045.2l4.5,4.5m0,-4.5l-4.5,4.5M1314,1044.1l4.5,4.5m0,-4.5l-4.5,4.5M1315.5,1041.9l4.5,4.5m0,-4.5l-4.5,4.5M1315.3,1037.4l4.5,4.5m0,-4.5l-4.5,4.5M1315.5,1033.7l4.5,4.5m0,-4.5l-4.5,4.5M1316.9,1030.8l4.5,4.5m0,-4.5l-4.5,4.5M1316,1026.3l4.5,4.5m0,-4.5l-4.5,4.5M1317.6,1024.3l4.5,4.5m0,-4.5l-4.5,4.5M1318,1019.7l4.5,4.5m0,-4.5l-4.5,4.5M1317.6,1017.9l4.5,4.5m0,-4.5l-4.5,4.5M1319.5,1018.5l4.5,4.5m0,-4.5l-4.5,4.5M1320.3,1019.2l4.5,4.5m0,-4.5l-4.5,4.5M1320,1021.1l4.5,4.5m0,-4.5l-4.5,4.5M1320,1025.2l4.5,4.5m0,-4.5l-4.5,4.5M1321.6,1028.9l4.5,4.5m0,-4.5l-4.5,4.5M1321.8,1032l4.5,4.5m0,-4.5l-4.5,4.5M1321.2,1035.3l4.5,4.5m0,-4.5l-4.5,4.5M1321.7,1037l4.5,4.5m0,-4.5l-4.5,4.5M1322.2,1040.3l4.5,4.5m0,-4.5l-4.5,4.5M1320.4,1042.8l4.5,4.5m0,-4.5l-4.5,4.5M1321,1046.3l4.5,4.5m0,-4.5l-4.5,4.5M1324.6,1048.9l4.5,4.5m0,-4.5l-4.5,4.5M1325.2,1047.7l4.5,4.5m0,-4.5l-4.5,4.5M1328.4,1048.6l4.5,4.5m0,-4.5l-4.5,4.5M1331.7,1050.2l4.5,4.5m0,-4.5l-4.5,4.5M1334.2,1049.2l4.5,4.5m0,-4.5l-4.5,4.5M1339,1049.3l4.5,4.5m0,-4.5l-4.5,4.5M1341,1050.9l4.5,4.5m0,-4.5l-4.5,4.5M1345.5,1051.3l4.5,4.5m0,-4.5l-4.5,4.5M1348.6,1050.7l4.5,4.5m0,-4.5l-4.5,4.5M1352,1052.1l4.5,4.5m0,-4.5l-4.5,4.5M1355.2,1051.2l4.5,4.5m0,-4.5l-4.5,4.5M1357.3,1051.4l4.5,4.5m0,-4.5l-4.5,4.5M1361.3,1051.5l4.5,4.5m0,-4.5l-4.5,4.5M1363.7,1051.9l4.5,4.5m0,-4.5l-4.5,4.5M1365.5,1051.2l4.5,4.5m0,-4.5l-4.5,4.5M1369,1050.8l4.5,4.5m0,-4.5l-4.5,4.5M1373.5,1049.9l4.5,4.5m0,-4.5l-4.5,4.5M1377.1,1049.3l4.5,4.5m0,-4.5l-4.5,4.5M1379.5,1050.3l4.5,4.5m0,-4.5l-4.5,4.5M1382,1050.2l4.5,4.5m0,-4.5l-4.5,4.5M1385.9,1049.8l4.5,4.5m0,-4.5l-4.5,4.5M1389.8,1048.5l4.5,4.5m0,-4.5l-4.5,4.5M1392.3,1050.3l4.5,4.5m0,-4.5l-4.5,4.5M1395,1050.3l4.5,4.5m0,-4.5l-4.5,4.5M1397.9,1051.4l4.5,4.5m0,-4.5l-4.5,4.5M1400.5,1052.3l4.5,4.5m0,-4.5l-4.5,4.5M1403.8,1052.9l4.5,4.5m0,-4.5l-4.5,4.5M1407.2,1055.4l4.5,4.5m0,-4.5l-4.5,4.5M1409.9,1057.1l4.5,4.5m0,-4.5l-4.5,4.5M1412.3,1058.5l4.5,4.5m0,-4.5l-4.5,4.5M1414.4,1060.9l4.5,4.5m0,-4.5l-4.5,4.5M1416.6,1062.4l4.5,4.5m0,-4.5l-4.5,4.5M1418.9,1064.7l4.5,4.5m0,-4.5l-4.5,4.5M1419.1,1068.3l4.5,4.5m0,-4.5l-4.5,4.5M1419.1,1070.6l4.5,4.5m0,-4.5l-4.5,4.5M1421.6,1070.8l4.5,4.5m0,-4.5l-4.5,4.5M1424.9,1072.2l4.5,4.5m0,-4.5l-4.5,4.5M1428.2,1070.9l4.5,4.5m0,-4.5l-4.5,4.5M1431.6,1071.9l4.5,4.5m0,-4.5l-4.5,4.5M1435,1071.3l4.5,4.5m0,-4.5l-4.5,4.5M1437.8,1070.6l4.5,4.5m0,-4.5l-4.5,4.5M1440.6,1070.5l4.5,4.5m0,-4.5l-4.5,4.5M1444.3,1072l4.5,4.5m0,-4.5l-4.5,4.5M1448.1,1070.2l4.5,4.5m0,-4.5l-4.5,4.5M1451.3,1070.2l4.5,4.5m0,-4.5l-4.5,4.5M1454.8,1069.9l4.5,4.5m0,-4.5l-4.5,4.5M1458.8,1068.3l4.5,4.5m0,-4.5l-4.5,4.5M1462.1,1067.2l4.5,4.5m0,-4.5l-4.5,4.5M1465.7,1067l4.5,4.5m0,-4.5l-4.5,4.5M1466.7,1066.3l4.5,4.5m0,-4.5l-4.5,4.5M1470.6,1064.1l4.5,4.5m0,-4.5l-4.5,4.5M1473.5,1064.1l4.5,4.5m0,-4.5l-4.5,4.5M1476.7,1062.8l4.5,4.5m0,-4.5l-4.5,4.5M1480.4,1063.1l4.5,4.5m0,-4.5l-4.5,4.5M1483.2,1062.2l4.5,4.5m0,-4.5l-4.5,4.5M1484.3,1066.9l4.5,4.5m0,-4.5l-4.5,4.5M1482,1071l4.5,4.5m0,-4.5l-4.5,4.5M1483.4,1072.4l4.5,4.5m0,-4.5l-4.5,4.5M1480.8,1076.8l4.5,4.5m0,-4.5l-4.5,4.5M1480.7,1080.4l4.5,4.5m0,-4.5l-4.5,4.5M1484.7,1079.8l4.5,4.5m0,-4.5l-4.5,4.5M1488.1,1079.5l4.5,4.5m0,-4.5l-4.5,4.5M1491.9,1078.6l4.5,4.5m0,-4.5l-4.5,4.5M1494.5,1077.5l4.5,4.5m0,-4.5l-4.5,4.5M1496.6,1076.4l4.5,4.5m0,-4.5l-4.5,4.5M1501.6,1076.2l4.5,4.5m0,-4.5l-4.5,4.5M1503.7,1076l4.5,4.5m0,-4.5l-4.5,4.5M1507.4,1076l4.5,4.5m0,-4.5l-4.5,4.5M1510.9,1074.5l4.5,4.5m0,-4.5l-4.5,4.5M1512.6,1073.7l4.5,4.5m0,-4.5l-4.5,4.5M1516.5,1073l4.5,4.5m0,-4.5l-4.5,4.5M1518.4,1071.6l4.5,4.5m0,-4.5l-4.5,4.5M1522.9,1070.5l4.5,4.5m0,-4.5l-4.5,4.5M1523.8,1067.7l4.5,4.5m0,-4.5l-4.5,4.5M1527.1,1071.7l4.5,4.5m0,-4.5l-4.5,4.5M1528.6,1071.3l4.5,4.5m0,-4.5l-4.5,4.5M1533.5,1072.8l4.5,4.5m0,-4.5l-4.5,4.5M1536.4,1072.1l4.5,4.5m0,-4.5l-4.5,4.5M1536.1,1074.9l4.5,4.5m0,-4.5l-4.5,4.5M1533.1,1077.7l4.5,4.5m0,-4.5l-4.5,4.5M1531.6,1080l4.5,4.5m0,-4.5l-4.5,4.5M1527.8,1081.1l4.5,4.5m0,-4.5l-4.5,4.5M1524.9,1084.1l4.5,4.5m0,-4.5l-4.5,4.5M1522.4,1084.8l4.5,4.5m0,-4.5l-4.5,4.5M1524.5,1088.5l4.5,4.5m0,-4.5l-4.5,4.5M1526.1,1091.2l4.5,4.5m0,-4.5l-4.5,4.5M1526.5,1093.7l4.5,4.5m0,-4.5l-4.5,4.5M1527.6,1097.6l4.5,4.5m0,-4.5l-4.5,4.5M1529.7,1099.8l4.5,4.5m0,-4.5l-4.5,4.5M1531,1099.6l4.5,4.5m0,-4.5l-4.5,4.5M1534.5,1101.7l4.5,4.5m0,-4.5l-4.5,4.5M1536,1102.2l4.5,4.5m0,-4.5l-4.5,4.5M1535.2,1105.5l4.5,4.5m0,-4.5l-4.5,4.5M1537.4,1109l4.5,4.5m0,-4.5l-4.5,4.5M1536.8,1111.4l4.5,4.5m0,-4.5l-4.5,4.5M1532.5,1110.2l4.5,4.5m0,-4.5l-4.5,4.5M1530,1109.9l4.5,4.5m0,-4.5l-4.5,4.5M1526.7,1111l4.5,4.5m0,-4.5l-4.5,4.5M1523.4,1110l4.5,4.5m0,-4.5l-4.5,4.5M1519,1110.9l4.5,4.5m0,-4.5l-4.5,4.5M1515.9,1111.3l4.5,4.5m0,-4.5l-4.5,4.5M1513.2,1112.1l4.5,4.5m0,-4.5l-4.5,4.5M1511.2,1112.9l4.5,4.5m0,-4.5l-4.5,4.5M1507.6,1112.7l4.5,4.5m0,-4.5l-4.5,4.5M1504.1,1115.4l4.5,4.5m0,-4.5l-4.5,4.5M1500.9,1114.6l4.5,4.5m0,-4.5l-4.5,4.5M1498.3,1116l4.5,4.5m0,-4.5l-4.5,4.5M1496,1116.2l4.5,4.5m0,-4.5l-4.5,4.5M1493.5,1114.6l4.5,4.5m0,-4.5l-4.5,4.5M1490.1,1115l4.5,4.5m0,-4.5l-4.5,4.5M1487.4,1113l4.5,4.5m0,-4.5l-4.5,4.5M1484,1113.9l4.5,4.5m0,-4.5l-4.5,4.5M1481,1111l4.5,4.5m0,-4.5l-4.5,4.5M1478.7,1112.1l4.5,4.5m0,-4.5l-4.5,4.5M1473.5,1111l4.5,4.5m0,-4.5l-4.5,4.5M1470.3,1108.5l4.5,4.5m0,-4.5l-4.5,4.5M1468.8,1109.4l4.5,4.5m0,-4.5l-4.5,4.5M1466,1108.4l4.5,4.5m0,-4.5l-4.5,4.5M1461.7,1106.9l4.5,4.5m0,-4.5l-4.5,4.5M1458.7,1107.9l4.5,4.5m0,-4.5l-4.5,4.5M1455.7,1106.9l4.5,4.5m0,-4.5l-4.5,4.5M1451.4,1105.9l4.5,4.5m0,-4.5l-4.5,4.5M1449.5,1103.6l4.5,4.5m0,-4.5l-4.5,4.5M1446.5,1103.1l4.5,4.5m0,-4.5l-4.5,4.5M1441.8,1102.2l4.5,4.5m0,-4.5l-4.5,4.5M1439.7,1101.6l4.5,4.5m0,-4.5l-4.5,4.5M1437.6,1100.1l4.5,4.5m0,-4.5l-4.5,4.5M1434.4,1100.7l4.5,4.5m0,-4.5l-4.5,4.5M1431,1099.1l4.5,4.5m0,-4.5l-4.5,4.5M1428.8,1098l4.5,4.5m0,-4.5l-4.5,4.5M1424.4,1097.2l4.5,4.5m0,-4.5l-4.5,4.5M1422.1,1095.5l4.5,4.5m0,-4.5l-4.5,4.5M1419.2,1094.9l4.5,4.5m0,-4.5l-4.5,4.5M1415.8,1093.4l4.5,4.5m0,-4.5l-4.5,4.5M1411.8,1090.8l4.5,4.5m0,-4.5l-4.5,4.5M1410,1090.2l4.5,4.5m0,-4.5l-4.5,4.5M1407.1,1087.9l4.5,4.5m0,-4.5l-4.5,4.5M1403.9,1087.9l4.5,4.5m0,-4.5l-4.5,4.5M1399.1,1085l4.5,4.5m0,-4.5l-4.5,4.5M1396.9,1085.7l4.5,4.5m0,-4.5l-4.5,4.5M1393.8,1083l4.5,4.5m0,-4.5l-4.5,4.5M1392.7,1087.2l4.5,4.5m0,-4.5l-4.5,4.5M1391.9,1089.7l4.5,4.5m0,-4.5l-4.5,4.5M1391.3,1093.9l4.5,4.5m0,-4.5l-4.5,4.5M1391,1096.9l4.5,4.5m0,-4.5l-4.5,4.5M1388.9,1099.5l4.5,4.5m0,-4.5l-4.5,4.5M1389.4,1103l4.5,4.5m0,-4.5l-4.5,4.5M1388.2,1106.5l4.5,4.5m0,-4.5l-4.5,4.5M1384.7,1108.6l4.5,4.5m0,-4.5l-4.5,4.5M1383.8,1110.8l4.5,4.5m0,-4.5l-4.5,4.5M1382.6,1115.7l4.5,4.5m0,-4.5l-4.5,4.5M1381.8,1116.6l4.5,4.5m0,-4.5l-4.5,4.5M1379,1120.3l4.5,4.5m0,-4.5l-4.5,4.5M1379,1123.5l4.5,4.5m0,-4.5l-4.5,4.5M1375.8,1126.7l4.5,4.5m0,-4.5l-4.5,4.5M1378.6,1127.5l4.5,4.5m0,-4.5l-4.5,4.5M1382.1,1131.7l4.5,4.5m0,-4.5l-4.5,4.5M1385.2,1133l4.5,4.5m0,-4.5l-4.5,4.5M1386.4,1134.5l4.5,4.5m0,-4.5l-4.5,4.5M1390.2,1136.9l4.5,4.5m0,-4.5l-4.5,4.5M1387,1135.8l4.5,4.5m0,-4.5l-4.5,4.5M1385.5,1136.9l4.5,4.5m0,-4.5l-4.5,4.5M1382.3,1138l4.5,4.5m0,-4.5l-4.5,4.5M1379.7,1138.3l4.5,4.5m0,-4.5l-4.5,4.5M1375.3,1139.9l4.5,4.5m0,-4.5l-4.5,4.5M1373.4,1142.2l4.5,4.5m0,-4.5l-4.5,4.5M1370.5,1143.2l4.5,4.5m0,-4.5l-4.5,4.5M1367.7,1144.8l4.5,4.5m0,-4.5l-4.5,4.5M1364.4,1146.5l4.5,4.5m0,-4.5l-4.5,4.5M1363.5,1145.8l4.5,4.5m0,-4.5l-4.5,4.5M1360.6,1149l4.5,4.5m0,-4.5l-4.5,4.5M1359.4,1144.6l4.5,4.5m0,-4.5l-4.5,4.5M1358.7,1143.4l4.5,4.5m0,-4.5l-4.5,4.5M1357.6,1141l4.5,4.5m0,-4.5l-4.5,4.5M1357.6,1137.4l4.5,4.5m0,-4.5l-4.5,4.5M1356.7,1133.4l4.5,4.5m0,-4.5l-4.5,4.5M1354.4,1131.5l4.5,4.5m0,-4.5l-4.5,4.5M1352,1133l4.5,4.5m0,-4.5l-4.5,4.5M1349.4,1132.7l4.5,4.5m0,-4.5l-4.5,4.5M1346.5,1134l4.5,4.5m0,-4.5l-4.5,4.5M1343.1,1134l4.5,4.5m0,-4.5l-4.5,4.5M1340.6,1133.6l4.5,4.5m0,-4.5l-4.5,4.5M1337.1,1134l4.5,4.5m0,-4.5l-4.5,4.5M1333.4,1135.4l4.5,4.5m0,-4.5l-4.5,4.5M1331.2,1135.8l4.5,4.5m0,-4.5l-4.5,4.5M1328.8,1137.4l4.5,4.5m0,-4.5l-4.5,4.5M1327,1139.4l4.5,4.5m0,-4.5l-4.5,4.5M1323.4,1139l4.5,4.5m0,-4.5l-4.5,4.5M1319.6,1136.8l4.5,4.5m0,-4.5l-4.5,4.5M1317.5,1136.6l4.5,4.5m0,-4.5l-4.5,4.5M1315.5,1136.6l4.5,4.5m0,-4.5l-4.5,4.5M1312.4,1135.7l4.5,4.5m0,-4.5l-4.5,4.5M1308.3,1134.2l4.5,4.5m0,-4.5l-4.5,4.5M1307.6,1130.9l4.5,4.5m0,-4.5l-4.5,4.5M1306,1130.2l4.5,4.5m0,-4.5l-4.5,4.5M1303.3,1127.8l4.5,4.5m0,-4.5l-4.5,4.5M1301.9,1123.4l4.5,4.5m0,-4.5l-4.5,4.5M1299.1,1122.4l4.5,4.5m0,-4.5l-4.5,4.5M1297,1119l4.5,4.5m0,-4.5l-4.5,4.5M1294.4,1117.2l4.5,4.5m0,-4.5l-4.5,4.5M1293,1113.5l4.5,4.5m0,-4.5l-4.5,4.5M1289.4,1111.7l4.5,4.5m0,-4.5l-4.5,4.5M1288,1108.8l4.5,4.5m0,-4.5l-4.5,4.5M1283.9,1106.4l4.5,4.5m0,-4.5l-4.5,4.5M1281.6,1104.8l4.5,4.5m0,-4.5l-4.5,4.5M1282.5,1101.6l4.5,4.5m0,-4.5l-4.5,4.5M1279.7,1099.3l4.5,4.5m0,-4.5l-4.5,4.5M1279.4,1096l4.5,4.5m0,-4.5l-4.5,4.5M1279.5,1092.7l4.5,4.5m0,-4.5l-4.5,4.5M1279.1,1089.8l4.5,4.5m0,-4.5l-4.5,4.5M1279,1086.7l4.5,4.5m0,-4.5l-4.5,4.5M1278.8,1083.3l4.5,4.5m0,-4.5l-4.5,4.5M1276.9,1079.4l4.5,4.5m0,-4.5l-4.5,4.5M1277.7,1076.6l4.5,4.5m0,-4.5l-4.5,4.5M1277.3,1073.4l4.5,4.5m0,-4.5l-4.5,4.5M1277.1,1069.3l4.5,4.5m0,-4.5l-4.5,4.5M1276.3,1064.7l4.5,4.5m0,-4.5l-4.5,4.5M1275.6,1063l4.5,4.5m0,-4.5l-4.5,4.5M1276.3,1059.9l4.5,4.5m0,-4.5l-4.5,4.5M1274.9,1055.2l4.5,4.5m0,-4.5l-4.5,4.5M1275.8,1052.9l4.5,4.5m0,-4.5l-4.5,4.5M1274,1048.1l4.5,4.5m0,-4.5l-4.5,4.5M1275.5,1046.2l4.5,4.5m0,-4.5l-4.5,4.5M1273.5,1043.9l4.5,4.5m0,-4.5l-4.5,4.5M1274.4,1040.1l4.5,4.5m0,-4.5l-4.5,4.5M1274.8,1035.6l4.5,4.5m0,-4.5l-4.5,4.5M1273.9,1032.1l4.5,4.5m0,-4.5l-4.5,4.5M1274,1029.5l4.5,4.5m0,-4.5l-4.5,4.5M1274.2,1025.4l4.5,4.5m0,-4.5l-4.5,4.5M1272.7,1022.8l4.5,4.5m0,-4.5l-4.5,4.5M1272,1019.6l4.5,4.5m0,-4.5l-4.5,4.5M1274.1,1017.4l4.5,4.5m0,-4.5l-4.5,4.5M1494.6,1033.7l4.5,4.5m0,-4.5l-4.5,4.5M1496.6,1031.8l4.5,4.5m0,-4.5l-4.5,4.5M1499.6,1031.4l4.5,4.5m0,-4.5l-4.5,4.5M1501.6,1032l4.5,4.5m0,-4.5l-4.5,4.5M1504.6,1033.3l4.5,4.5m0,-4.5l-4.5,4.5M1509.5,1034l4.5,4.5m0,-4.5l-4.5,4.5M1511.7,1035.5l4.5,4.5m0,-4.5l-4.5,4.5M1515.2,1036l4.5,4.5m0,-4.5l-4.5,4.5M1517.5,1038.8l4.5,4.5m0,-4.5l-4.5,4.5M1519.7,1039.1l4.5,4.5m0,-4.5l-4.5,4.5M1523.6,1040.4l4.5,4.5m0,-4.5l-4.5,4.5M1527.4,1040.4l4.5,4.5m0,-4.5l-4.5,4.5M1531,1042l4.5,4.5m0,-4.5l-4.5,4.5M1533.9,1042.7l4.5,4.5m0,-4.5l-4.5,4.5M1535.4,1043.9l4.5,4.5m0,-4.5l-4.5,4.5M1538.6,1045.2l4.5,4.5m0,-4.5l-4.5,4.5M1542,1045.9l4.5,4.5m0,-4.5l-4.5,4.5M1547,1048.1l4.5,4.5m0,-4.5l-4.5,4.5M1549.4,1049.2l4.5,4.5m0,-4.5l-4.5,4.5M1553.4,1049.2l4.5,4.5m0,-4.5l-4.5,4.5M1554.8,1051.9l4.5,4.5m0,-4.5l-4.5,4.5M1557.9,1052.6l4.5,4.5m0,-4.5l-4.5,4.5M1562.7,1054.6l4.5,4.5m0,-4.5l-4.5,4.5M1564.4,1054.6l4.5,4.5m0,-4.5l-4.5,4.5M1568.4,1056.2l4.5,4.5m0,-4.5l-4.5,4.5M1571,1057.8l4.5,4.5m0,-4.5l-4.5,4.5M1576.5,1058.4l4.5,4.5m0,-4.5l-4.5,4.5M1579,1059.5l4.5,4.5m0,-4.5l-4.5,4.5M1582.6,1059.8l4.5,4.5m0,-4.5l-4.5,4.5M1585,1058.4l4.5,4.5m0,-4.5l-4.5,4.5M1588.9,1060.5l4.5,4.5m0,-4.5l-4.5,4.5M1591.9,1059.6l4.5,4.5m0,-4.5l-4.5,4.5M1595.7,1060.7l4.5,4.5m0,-4.5l-4.5,4.5M1597.3,1061.5l4.5,4.5m0,-4.5l-4.5,4.5M1600.3,1060.5l4.5,4.5m0,-4.5l-4.5,4.5M1605.1,1060.4l4.5,4.5m0,-4.5l-4.5,4.5M1608.3,1061.6l4.5,4.5m0,-4.5l-4.5,4.5M1610.7,1062.7l4.5,4.5m0,-4.5l-4.5,4.5M1614.8,1061.5l4.5,4.5m0,-4.5l-4.5,4.5M1616.1,1062.2l4.5,4.5m0,-4.5l-4.5,4.5M1619.7,1062l4.5,4.5m0,-4.5l-4.5,4.5M1622.8,1061.9l4.5,4.5m0,-4.5l-4.5,4.5M1627.3,1062.4l4.5,4.5m0,-4.5l-4.5,4.5M1630,1063.9l4.5,4.5m0,-4.5l-4.5,4.5M1633,1065.5l4.5,4.5m0,-4.5l-4.5,4.5M1638.4,1064.3l4.5,4.5m0,-4.5l-4.5,4.5M1641.6,1065.3l4.5,4.5m0,-4.5l-4.5,4.5M1644.8,1065.7l4.5,4.5m0,-4.5l-4.5,4.5M1648.3,1068.4l4.5,4.5m0,-4.5l-4.5,4.5M1650.5,1067.3l4.5,4.5m0,-4.5l-4.5,4.5M1654.1,1069.6l4.5,4.5m0,-4.5l-4.5,4.5M1658.6,1068.5l4.5,4.5m0,-4.5l-4.5,4.5M1662.3,1070.6l4.5,4.5m0,-4.5l-4.5,4.5M1662.4,1073.1l4.5,4.5m0,-4.5l-4.5,4.5M1660.5,1074.5l4.5,4.5m0,-4.5l-4.5,4.5M1657,1073.3l4.5,4.5m0,-4.5l-4.5,4.5M1655,1073.5l4.5,4.5m0,-4.5l-4.5,4.5M1651.1,1073.8l4.5,4.5m0,-4.5l-4.5,4.5M1648.5,1075.3l4.5,4.5m0,-4.5l-4.5,4.5M1645.6,1074.5l4.5,4.5m0,-4.5l-4.5,4.5M1642.7,1073.7l4.5,4.5m0,-4.5l-4.5,4.5M1639.7,1075.2l4.5,4.5m0,-4.5l-4.5,4.5M1636.5,1074.5l4.5,4.5m0,-4.5l-4.5,4.5M1632.7,1073.7l4.5,4.5m0,-4.5l-4.5,4.5M1629.3,1075.2l4.5,4.5m0,-4.5l-4.5,4.5M1627.3,1075.8l4.5,4.5m0,-4.5l-4.5,4.5M1623.8,1077.5l4.5,4.5m0,-4.5l-4.5,4.5M1623.1,1079.9l4.5,4.5m0,-4.5l-4.5,4.5M1620.1,1078.1l4.5,4.5m0,-4.5l-4.5,4.5M1618,1077l4.5,4.5m0,-4.5l-4.5,4.5M1614.6,1077.7l4.5,4.5m0,-4.5l-4.5,4.5M1613.4,1076.8l4.5,4.5m0,-4.5l-4.5,4.5M1609.8,1074.4l4.5,4.5m0,-4.5l-4.5,4.5M1607.5,1074.5l4.5,4.5m0,-4.5l-4.5,4.5M1606,1073.1l4.5,4.5m0,-4.5l-4.5,4.5M1601.4,1073l4.5,4.5m0,-4.5l-4.5,4.5M1598.1,1072.4l4.5,4.5m0,-4.5l-4.5,4.5M1595.2,1071.3l4.5,4.5m0,-4.5l-4.5,4.5M1592.8,1070.6l4.5,4.5m0,-4.5l-4.5,4.5M1588.7,1070.8l4.5,4.5m0,-4.5l-4.5,4.5M1586.9,1069.3l4.5,4.5m0,-4.5l-4.5,4.5M1582.1,1069l4.5,4.5m0,-4.5l-4.5,4.5M1578.9,1069l4.5,4.5m0,-4.5l-4.5,4.5M1576.8,1067.1l4.5,4.5m0,-4.5l-4.5,4.5M1573.2,1066.6l4.5,4.5m0,-4.5l-4.5,4.5M1569.6,1065.7l4.5,4.5m0,-4.5l-4.5,4.5M1566.3,1063.8l4.5,4.5m0,-4.5l-4.5,4.5M1563.1,1063.2l4.5,4.5m0,-4.5l-4.5,4.5M1560.2,1062.5l4.5,4.5m0,-4.5l-4.5,4.5M1556,1062.3l4.5,4.5m0,-4.5l-4.5,4.5M1552.1,1058.9l4.5,4.5m0,-4.5l-4.5,4.5M1548.7,1059.4l4.5,4.5m0,-4.5l-4.5,4.5M1545.3,1058.3l4.5,4.5m0,-4.5l-4.5,4.5M1542,1056.2l4.5,4.5m0,-4.5l-4.5,4.5M1539.9,1054.4l4.5,4.5m0,-4.5l-4.5,4.5M1536.2,1055.6l4.5,4.5m0,-4.5l-4.5,4.5M1533.7,1052.8l4.5,4.5m0,-4.5l-4.5,4.5M1531,1051.9l4.5,4.5m0,-4.5l-4.5,4.5M1527.6,1050l4.5,4.5m0,-4.5l-4.5,4.5M1523.4,1049.5l4.5,4.5m0,-4.5l-4.5,4.5M1521.2,1048.1l4.5,4.5m0,-4.5l-4.5,4.5M1516.6,1046.1l4.5,4.5m0,-4.5l-4.5,4.5M1513.8,1044.3l4.5,4.5m0,-4.5l-4.5,4.5M1510.2,1044.2l4.5,4.5m0,-4.5l-4.5,4.5M1507.1,1041.9l4.5,4.5m0,-4.5l-4.5,4.5M1503.6,1041.4l4.5,4.5m0,-4.5l-4.5,4.5M1501.9,1038.5l4.5,4.5m0,-4.5l-4.5,4.5M1499.6,1039.4l4.5,4.5m0,-4.5l-4.5,4.5M1495.9,1037.5l4.5,4.5m0,-4.5l-4.5,4.5M1495.8,1033.7l4.5,4.5m0,-4.5l-4.5,4.5M1664.7,1090.9l4.5,4.5m0,-4.5l-4.5,4.5M1666.4,1089.9l4.5,4.5m0,-4.5l-4.5,4.5M1670,1087.3l4.5,4.5m0,-4.5l-4.5,4.5M1672.7,1085l4.5,4.5m0,-4.5l-4.5,4.5M1673.8,1082.8l4.5,4.5m0,-4.5l-4.5,4.5M1676,1082.6l4.5,4.5m0,-4.5l-4.5,4.5M1678.9,1080.3l4.5,4.5m0,-4.5l-4.5,4.5M1683.1,1079.9l4.5,4.5m0,-4.5l-4.5,4.5M1685.1,1080.3l4.5,4.5m0,-4.5l-4.5,4.5M1687.7,1078.6l4.5,4.5m0,-4.5l-4.5,4.5M1692.9,1078.9l4.5,4.5m0,-4.5l-4.5,4.5M1694.8,1078.9l4.5,4.5m0,-4.5l-4.5,4.5M1699.1,1078.4l4.5,4.5m0,-4.5l-4.5,4.5M1698.9,1076.3l4.5,4.5m0,-4.5l-4.5,4.5M1700.8,1074.7l4.5,4.5m0,-4.5l-4.5,4.5M1703.7,1075.5l4.5,4.5m0,-4.5l-4.5,4.5M1707.4,1074.3l4.5,4.5m0,-4.5l-4.5,4.5M1710.4,1074.8l4.5,4.5m0,-4.5l-4.5,4.5M1713.7,1075.7l4.5,4.5m0,-4.5l-4.5,4.5M1717.9,1076.3l4.5,4.5m0,-4.5l-4.5,4.5M1720.6,1078l4.5,4.5m0,-4.5l-4.5,4.5M1722.9,1077.9l4.5,4.5m0,-4.5l-4.5,4.5M1725.8,1078l4.5,4.5m0,-4.5l-4.5,4.5M1729.6,1079.3l4.5,4.5m0,-4.5l-4.5,4.5M1730.7,1080.9l4.5,4.5m0,-4.5l-4.5,4.5M1732,1084.7l4.5,4.5m0,-4.5l-4.5,4.5M1735.2,1084.8l4.5,4.5m0,-4.5l-4.5,4.5M1739.4,1085.6l4.5,4.5m0,-4.5l-4.5,4.5M1742.4,1085.6l4.5,4.5m0,-4.5l-4.5,4.5M1745.2,1085.7l4.5,4.5m0,-4.5l-4.5,4.5M1749.4,1086l4.5,4.5m0,-4.5l-4.5,4.5M1751.4,1085.8l4.5,4.5m0,-4.5l-4.5,4.5M1754.8,1085.7l4.5,4.5m0,-4.5l-4.5,4.5M1759,1086.8l4.5,4.5m0,-4.5l-4.5,4.5M1762.7,1086.7l4.5,4.5m0,-4.5l-4.5,4.5M1765.6,1087.5l4.5,4.5m0,-4.5l-4.5,4.5M1769.2,1087.4l4.5,4.5m0,-4.5l-4.5,4.5M1773.1,1088.9l4.5,4.5m0,-4.5l-4.5,4.5M1775.5,1087.4l4.5,4.5m0,-4.5l-4.5,4.5M1779.4,1090l4.5,4.5m0,-4.5l-4.5,4.5M1782.8,1089.2l4.5,4.5m0,-4.5l-4.5,4.5M1786.5,1090.5l4.5,4.5m0,-4.5l-4.5,4.5M1789.1,1091.3l4.5,4.5m0,-4.5l-4.5,4.5M1787.2,1092.2l4.5,4.5m0,-4.5l-4.5,4.5M1789,1095.1l4.5,4.5m0,-4.5l-4.5,4.5M1785.9,1094.6l4.5,4.5m0,-4.5l-4.5,4.5M1782.6,1096.2l4.5,4.5m0,-4.5l-4.5,4.5M1777.9,1097l4.5,4.5m0,-4.5l-4.5,4.5M1774.8,1096.4l4.5,4.5m0,-4.5l-4.5,4.5M1770.6,1097.4l4.5,4.5m0,-4.5l-4.5,4.5M1767.1,1096.5l4.5,4.5m0,-4.5l-4.5,4.5M1763.6,1096.1l4.5,4.5m0,-4.5l-4.5,4.5M1760.7,1096.4l4.5,4.5m0,-4.5l-4.5,4.5M1757.8,1097.4l4.5,4.5m0,-4.5l-4.5,4.5M1753.3,1097.9l4.5,4.5m0,-4.5l-4.5,4.5M1750.5,1097.6l4.5,4.5m0,-4.5l-4.5,4.5M1747.8,1098.1l4.5,4.5m0,-4.5l-4.5,4.5M1743.2,1099.8l4.5,4.5m0,-4.5l-4.5,4.5M1742,1098.4l4.5,4.5m0,-4.5l-4.5,4.5M1737.9,1099.5l4.5,4.5m0,-4.5l-4.5,4.5M1734.3,1099.4l4.5,4.5m0,-4.5l-4.5,4.5M1731.7,1098.8l4.5,4.5m0,-4.5l-4.5,4.5M1729.6,1098.2l4.5,4.5m0,-4.5l-4.5,4.5M1725.8,1099.8l4.5,4.5m0,-4.5l-4.5,4.5M1723.8,1097.6l4.5,4.5m0,-4.5l-4.5,4.5M1721.1,1096.9l4.5,4.5m0,-4.5l-4.5,4.5M1720.1,1099.2l4.5,4.5m0,-4.5l-4.5,4.5M1719.6,1101.8l4.5,4.5m0,-4.5l-4.5,4.5M1718.9,1103.3l4.5,4.5m0,-4.5l-4.5,4.5M1720.5,1105.2l4.5,4.5m0,-4.5l-4.5,4.5M1724.1,1107.8l4.5,4.5m0,-4.5l-4.5,4.5M1725.3,1108.1l4.5,4.5m0,-4.5l-4.5,4.5M1728.1,1108.6l4.5,4.5m0,-4.5l-4.5,4.5M1730.8,1110l4.5,4.5m0,-4.5l-4.5,4.5M1731.2,1112.8l4.5,4.5m0,-4.5l-4.5,4.5M1729.5,1112.6l4.5,4.5m0,-4.5l-4.5,4.5M1726,1111l4.5,4.5m0,-4.5l-4.5,4.5M1721.9,1110.4l4.5,4.5m0,-4.5l-4.5,4.5M1718.5,1108.7l4.5,4.5m0,-4.5l-4.5,4.5M1715.5,1110.1l4.5,4.5m0,-4.5l-4.5,4.5M1714.3,1106.5l4.5,4.5m0,-4.5l-4.5,4.5M1714.1,1104.5l4.5,4.5m0,-4.5l-4.5,4.5M1713,1101.3l4.5,4.5m0,-4.5l-4.5,4.5M1711.7,1101.7l4.5,4.5m0,-4.5l-4.5,4.5M1707.4,1103.2l4.5,4.5m0,-4.5l-4.5,4.5M1704.1,1103.8l4.5,4.5m0,-4.5l-4.5,4.5M1703.1,1104.1l4.5,4.5m0,-4.5l-4.5,4.5M1702.7,1106.3l4.5,4.5m0,-4.5l-4.5,4.5M1701.7,1110l4.5,4.5m0,-4.5l-4.5,4.5M1699.4,1108.1l4.5,4.5m0,-4.5l-4.5,4.5M1697.8,1106.2l4.5,4.5m0,-4.5l-4.5,4.5M1694.9,1103.9l4.5,4.5m0,-4.5l-4.5,4.5M1691.5,1104.1l4.5,4.5m0,-4.5l-4.5,4.5M1689,1101.9l4.5,4.5m0,-4.5l-4.5,4.5M1687.2,1101.8l4.5,4.5m0,-4.5l-4.5,4.5M1682,1100.4l4.5,4.5m0,-4.5l-4.5,4.5M1679.9,1099.9l4.5,4.5m0,-4.5l-4.5,4.5M1676.4,1098.4l4.5,4.5m0,-4.5l-4.5,4.5M1675.1,1098.6l4.5,4.5m0,-4.5l-4.5,4.5M1671.2,1098.1l4.5,4.5m0,-4.5l-4.5,4.5M1668.8,1096.3l4.5,4.5m0,-4.5l-4.5,4.5M1665.9,1096.3l4.5,4.5m0,-4.5l-4.5,4.5M1664.4,1093.5l4.5,4.5m0,-4.5l-4.5,4.5M1235.5,1295.6l4.5,4.5m0,-4.5l-4.5,4.5M1234.8,1291.6l4.5,4.5m0,-4.5l-4.5,4.5M1233.7,1288.1l4.5,4.5m0,-4.5l-4.5,4.5M1233.4,1285.3l4.5,4.5m0,-4.5l-4.5,4.5M1232,1283.2l4.5,4.5m0,-4.5l-4.5,4.5M1231.8,1277.7l4.5,4.5m0,-4.5l-4.5,4.5M1232,1274.7l4.5,4.5m0,-4.5l-4.5,4.5M1230.3,1272.4l4.5,4.5m0,-4.5l-4.5,4.5M1229.6,1269.2l4.5,4.5m0,-4.5l-4.5,4.5M1229.6,1266.2l4.5,4.5m0,-4.5l-4.5,4.5M1229.6,1263.4l4.5,4.5m0,-4.5l-4.5,4.5M1227.7,1259.1l4.5,4.5m0,-4.5l-4.5,4.5M1227.4,1256l4.5,4.5m0,-4.5l-4.5,4.5M1227.8,1253.9l4.5,4.5m0,-4.5l-4.5,4.5M1226.3,1250.5l4.5,4.5m0,-4.5l-4.5,4.5M1226.3,1247l4.5,4.5m0,-4.5l-4.5,4.5M1227.5,1244.3l4.5,4.5m0,-4.5l-4.5,4.5M1226.4,1238.7l4.5,4.5m0,-4.5l-4.5,4.5M1225.5,1236.5l4.5,4.5m0,-4.5l-4.5,4.5M1226.2,1234.6l4.5,4.5m0,-4.5l-4.5,4.5M1226.5,1229.3l4.5,4.5m0,-4.5l-4.5,4.5M1224.5,1227.5l4.5,4.5m0,-4.5l-4.5,4.5M1224.5,1224.2l4.5,4.5m0,-4.5l-4.5,4.5M1225,1221l4.5,4.5m0,-4.5l-4.5,4.5M1224.4,1218.7l4.5,4.5m0,-4.5l-4.5,4.5M1224.5,1214.3l4.5,4.5m0,-4.5l-4.5,4.5M1224.5,1211l4.5,4.5m0,-4.5l-4.5,4.5M1224.7,1208.7l4.5,4.5m0,-4.5l-4.5,4.5M1224.7,1204.6l4.5,4.5m0,-4.5l-4.5,4.5M1226.9,1202.9l4.5,4.5m0,-4.5l-4.5,4.5M1226.1,1199.5l4.5,4.5m0,-4.5l-4.5,4.5M1227.5,1196.1l4.5,4.5m0,-4.5l-4.5,4.5M1226.6,1193.1l4.5,4.5m0,-4.5l-4.5,4.5M1225.5,1188.8l4.5,4.5m0,-4.5l-4.5,4.5M1224.9,1185.2l4.5,4.5m0,-4.5l-4.5,4.5M1225.1,1182.7l4.5,4.5m0,-4.5l-4.5,4.5M1223.9,1178.3l4.5,4.5m0,-4.5l-4.5,4.5M1223,1175.3l4.5,4.5m0,-4.5l-4.5,4.5M1222.9,1173l4.5,4.5m0,-4.5l-4.5,4.5M1223.5,1169.7l4.5,4.5m0,-4.5l-4.5,4.5M1222.1,1166.3l4.5,4.5m0,-4.5l-4.5,4.5M1219.7,1164l4.5,4.5m0,-4.5l-4.5,4.5M1220.4,1159.4l4.5,4.5m0,-4.5l-4.5,4.5M1218.3,1157.6l4.5,4.5m0,-4.5l-4.5,4.5M1218.2,1153.2l4.5,4.5m0,-4.5l-4.5,4.5M1216.5,1150.6l4.5,4.5m0,-4.5l-4.5,4.5M1215.9,1148.5l4.5,4.5m0,-4.5l-4.5,4.5M1215.3,1144.1l4.5,4.5m0,-4.5l-4.5,4.5M1217.7,1140.3l4.5,4.5m0,-4.5l-4.5,4.5M1216.3,1138.4l4.5,4.5m0,-4.5l-4.5,4.5M1217.8,1134.4l4.5,4.5m0,-4.5l-4.5,4.5M1217.9,1130l4.5,4.5m0,-4.5l-4.5,4.5M1218.8,1127.2l4.5,4.5m0,-4.5l-4.5,4.5M1218.7,1125.4l4.5,4.5m0,-4.5l-4.5,4.5M1219.3,1120.8l4.5,4.5m0,-4.5l-4.5,4.5M1219.4,1117.2l4.5,4.5m0,-4.5l-4.5,4.5M1221.8,1115.5l4.5,4.5m0,-4.5l-4.5,4.5M1222.4,1111l4.5,4.5m0,-4.5l-4.5,4.5M1224.8,1108.6l4.5,4.5m0,-4.5l-4.5,4.5M1227.1,1105.8l4.5,4.5m0,-4.5l-4.5,4.5M1228.6,1103.8l4.5,4.5m0,-4.5l-4.5,4.5M1231.6,1100.7l4.5,4.5m0,-4.5l-4.5,4.5M1231.6,1097.9l4.5,4.5m0,-4.5l-4.5,4.5M1234.4,1094.9l4.5,4.5m0,-4.5l-4.5,4.5M1235.1,1093.3l4.5,4.5m0,-4.5l-4.5,4.5M1238.1,1089.2l4.5,4.5m0,-4.5l-4.5,4.5M1241.1,1086.9l4.5,4.5m0,-4.5l-4.5,4.5M1242,1085.4l4.5,4.5m0,-4.5l-4.5,4.5M1244.6,1083.4l4.5,4.5m0,-4.5l-4.5,4.5M1246.2,1080.6l4.5,4.5m0,-4.5l-4.5,4.5M1248.5,1076.8l4.5,4.5m0,-4.5l-4.5,4.5M1252,1075.9l4.5,4.5m0,-4.5l-4.5,4.5M1252.8,1071.6l4.5,4.5m0,-4.5l-4.5,4.5M1255.5,1071.7l4.5,4.5m0,-4.5l-4.5,4.5M1257.6,1071.3l4.5,4.5m0,-4.5l-4.5,4.5M1260.1,1069.6l4.5,4.5m0,-4.5l-4.5,4.5M1264.5,1067.5l4.5,4.5m0,-4.5l-4.5,4.5M1266.2,1069.5l4.5,4.5m0,-4.5l-4.5,4.5M1267.7,1072.9l4.5,4.5m0,-4.5l-4.5,4.5M1269.6,1076l4.5,4.5m0,-4.5l-4.5,4.5M1271.1,1078.6l4.5,4.5m0,-4.5l-4.5,4.5M1271.5,1079.1l4.5,4.5m0,-4.5l-4.5,4.5M1273,1083.3l4.5,4.5m0,-4.5l-4.5,4.5M1274.5,1085.9l4.5,4.5m0,-4.5l-4.5,4.5M1275.2,1087.9l4.5,4.5m0,-4.5l-4.5,4.5M1277,1092.3l4.5,4.5m0,-4.5l-4.5,4.5M1277,1095.2l4.5,4.5m0,-4.5l-4.5,4.5M1278.4,1098.3l4.5,4.5m0,-4.5l-4.5,4.5M1278.3,1102.2l4.5,4.5m0,-4.5l-4.5,4.5M1278.2,1105.4l4.5,4.5m0,-4.5l-4.5,4.5M1280,1107.3l4.5,4.5m0,-4.5l-4.5,4.5M1278.8,1111.2l4.5,4.5m0,-4.5l-4.5,4.5M1279,1113.4l4.5,4.5m0,-4.5l-4.5,4.5M1280.2,1118.7l4.5,4.5m0,-4.5l-4.5,4.5M1280.2,1122.1l4.5,4.5m0,-4.5l-4.5,4.5M1278.9,1125.9l4.5,4.5m0,-4.5l-4.5,4.5M1278.4,1127.8l4.5,4.5m0,-4.5l-4.5,4.5M1278.8,1132.2l4.5,4.5m0,-4.5l-4.5,4.5M1277.8,1134.2l4.5,4.5m0,-4.5l-4.5,4.5M1279.7,1137.5l4.5,4.5m0,-4.5l-4.5,4.5M1279.1,1142.1l4.5,4.5m0,-4.5l-4.5,4.5M1279.5,1146.4l4.5,4.5m0,-4.5l-4.5,4.5M1278.2,1149.1l4.5,4.5m0,-4.5l-4.5,4.5M1278.6,1151.9l4.5,4.5m0,-4.5l-4.5,4.5M1276.8,1157.1l4.5,4.5m0,-4.5l-4.5,4.5M1278,1160l4.5,4.5m0,-4.5l-4.5,4.5M1277.8,1161.7l4.5,4.5m0,-4.5l-4.5,4.5M1276.5,1165.1l4.5,4.5m0,-4.5l-4.5,4.5M1278.2,1169.5l4.5,4.5m0,-4.5l-4.5,4.5M1276.3,1171.6l4.5,4.5m0,-4.5l-4.5,4.5M1277.5,1174.8l4.5,4.5m0,-4.5l-4.5,4.5M1275.6,1177.8l4.5,4.5m0,-4.5l-4.5,4.5M1275,1180.9l4.5,4.5m0,-4.5l-4.5,4.5M1272.5,1182.7l4.5,4.5m0,-4.5l-4.5,4.5M1270.3,1183.4l4.5,4.5m0,-4.5l-4.5,4.5M1269.6,1186.5l4.5,4.5m0,-4.5l-4.5,4.5M1265.9,1188.1l4.5,4.5m0,-4.5l-4.5,4.5M1266.2,1191l4.5,4.5m0,-4.5l-4.5,4.5M1263.3,1194.2l4.5,4.5m0,-4.5l-4.5,4.5M1263.3,1197.4l4.5,4.5m0,-4.5l-4.5,4.5M1260.8,1200.4l4.5,4.5m0,-4.5l-4.5,4.5M1259,1204.1l4.5,4.5m0,-4.5l-4.5,4.5M1257.4,1205.3l4.5,4.5m0,-4.5l-4.5,4.5M1256.4,1209.7l4.5,4.5m0,-4.5l-4.5,4.5M1255.6,1212.3l4.5,4.5m0,-4.5l-4.5,4.5M1252.3,1215.5l4.5,4.5m0,-4.5l-4.5,4.5M1253,1216.9l4.5,4.5m0,-4.5l-4.5,4.5M1250.6,1220.5l4.5,4.5m0,-4.5l-4.5,4.5M1249.8,1223.7l4.5,4.5m0,-4.5l-4.5,4.5M1250,1228.5l4.5,4.5m0,-4.5l-4.5,4.5M1249.2,1231.5l4.5,4.5m0,-4.5l-4.5,4.5M1249.1,1235.6l4.5,4.5m0,-4.5l-4.5,4.5M1249.1,1238.7l4.5,4.5m0,-4.5l-4.5,4.5M1247.3,1240.6l4.5,4.5m0,-4.5l-4.5,4.5M1246.1,1244.3l4.5,4.5m0,-4.5l-4.5,4.5M1247,1249l4.5,4.5m0,-4.5l-4.5,4.5M1244.3,1251.5l4.5,4.5m0,-4.5l-4.5,4.5M1244.3,1255.6l4.5,4.5m0,-4.5l-4.5,4.5M1245,1258.3l4.5,4.5m0,-4.5l-4.5,4.5M1243.6,1261.9l4.5,4.5m0,-4.5l-4.5,4.5M1243.2,1265.4l4.5,4.5m0,-4.5l-4.5,4.5M1242,1268.9l4.5,4.5m0,-4.5l-4.5,4.5M1241,1272.5l4.5,4.5m0,-4.5l-4.5,4.5M1239.4,1275.1l4.5,4.5m0,-4.5l-4.5,4.5M1239,1279l4.5,4.5m0,-4.5l-4.5,4.5M1238.1,1281.4l4.5,4.5m0,-4.5l-4.5,4.5M1237,1285l4.5,4.5m0,-4.5l-4.5,4.5M1235.8,1287.8l4.5,4.5m0,-4.5l-4.5,4.5M1234.2,1290.4l4.5,4.5m0,-4.5l-4.5,4.5" stroke="#2a58a8" stroke-width="1.5" fill="none"/>
<path d="M1192.4,1101.9l4.6,4.6m0,-4.6l-4.6,4.6M1208.6,1125.2l4.6,4.6m0,-4.6l-4.6,4.6M1166.7,1152.2l4.6,4.6m0,-4.6l-4.6,4.6M1168.1,1128.6l4.6,4.6m0,-4.6l-4.6,4.6M1198.2,1104.8l4.6,4.6m0,-4.6l-4.6,4.6M1253,1074.6l4.6,4.6m0,-4.6l-4.6,4.6M1230.3,1099.9l4.6,4.6m0,-4.6l-4.6,4.6M1247.6,1085.6l4.6,4.6m0,-4.6l-4.6,4.6M1235.5,1125.5l4.6,4.6m0,-4.6l-4.6,4.6M1183.2,1138.9l4.6,4.6m0,-4.6l-4.6,4.6M1247.8,1112.9l4.6,4.6m0,-4.6l-4.6,4.6M1244.9,1028.7l4.6,4.6m0,-4.6l-4.6,4.6M1227,1139l4.6,4.6m0,-4.6l-4.6,4.6M1242.2,1088.8l4.6,4.6m0,-4.6l-4.6,4.6M1213.1,1097.2l4.6,4.6m0,-4.6l-4.6,4.6M1194.6,1122.4l4.6,4.6m0,-4.6l-4.6,4.6M1220.7,1178.2l4.6,4.6m0,-4.6l-4.6,4.6M1253.4,1044.9l4.6,4.6m0,-4.6l-4.6,4.6M1231.4,1141.7l4.6,4.6m0,-4.6l-4.6,4.6M1257,1086.5l4.6,4.6m0,-4.6l-4.6,4.6M1210.7,1133.5l4.6,4.6m0,-4.6l-4.6,4.6M1214,1159l4.6,4.6m0,-4.6l-4.6,4.6M1178.2,1155.1l4.6,4.6m0,-4.6l-4.6,4.6M1231.3,1135.2l4.6,4.6m0,-4.6l-4.6,4.6M1252.7,1064.6l4.6,4.6m0,-4.6l-4.6,4.6M1175.9,1106l4.6,4.6m0,-4.6l-4.6,4.6M1207,1106.5l4.6,4.6m0,-4.6l-4.6,4.6M1178.8,1120.6l4.6,4.6m0,-4.6l-4.6,4.6M1198.8,1098.1l4.6,4.6m0,-4.6l-4.6,4.6M1247.2,1112.6l4.6,4.6m0,-4.6l-4.6,4.6M1234.4,1065.3l4.6,4.6m0,-4.6l-4.6,4.6M1229,1118.8l4.6,4.6m0,-4.6l-4.6,4.6M1249.5,1115.4l4.6,4.6m0,-4.6l-4.6,4.6M1243.9,1074.1l4.6,4.6m0,-4.6l-4.6,4.6M1188.2,1182.9l4.6,4.6m0,-4.6l-4.6,4.6M1219.2,1094.2l4.6,4.6m0,-4.6l-4.6,4.6M1256,1128.2l4.6,4.6m0,-4.6l-4.6,4.6M1166.8,1162.5l4.6,4.6m0,-4.6l-4.6,4.6M1251.5,1113.3l4.6,4.6m0,-4.6l-4.6,4.6M1253.7,1099.2l4.6,4.6m0,-4.6l-4.6,4.6M1171.3,1158.8l4.6,4.6m0,-4.6l-4.6,4.6M1213.3,1141.5l4.6,4.6m0,-4.6l-4.6,4.6M1240,1049.6l4.6,4.6m0,-4.6l-4.6,4.6M1204.4,1109l4.6,4.6m0,-4.6l-4.6,4.6M1239.3,1085.1l4.6,4.6m0,-4.6l-4.6,4.6M1184.5,1140.5l4.6,4.6m0,-4.6l-4.6,4.6M1232.1,1085.5l4.6,4.6m0,-4.6l-4.6,4.6M1262.1,1090.8l4.6,4.6m0,-4.6l-4.6,4.6M1197.1,1179.4l4.6,4.6m0,-4.6l-4.6,4.6M1259.5,1111l4.6,4.6m0,-4.6l-4.6,4.6M1248.6,1089.7l4.6,4.6m0,-4.6l-4.6,4.6M1194.4,1156l4.6,4.6m0,-4.6l-4.6,4.6M1189.4,1127l4.6,4.6m0,-4.6l-4.6,4.6M1205.9,1102.1l4.6,4.6m0,-4.6l-4.6,4.6M1192.7,1127l4.6,4.6m0,-4.6l-4.6,4.6M1211.4,1113l4.6,4.6m0,-4.6l-4.6,4.6M1187.2,1152.3l4.6,4.6m0,-4.6l-4.6,4.6M1204.1,1167.4l4.6,4.6m0,-4.6l-4.6,4.6M1249.3,1013.9l4.6,4.6m0,-4.6l-4.6,4.6M1219.1,1077.8l4.6,4.6m0,-4.6l-4.6,4.6M1248.7,1131.4l4.6,4.6m0,-4.6l-4.6,4.6M1256.9,1048.4l4.6,4.6m0,-4.6l-4.6,4.6M1230.7,1133.1l4.6,4.6m0,-4.6l-4.6,4.6M1253.9,1123.2l4.6,4.6m0,-4.6l-4.6,4.6M1248.9,1000.7l4.6,4.6m0,-4.6l-4.6,4.6M1235.3,1078.4l4.6,4.6m0,-4.6l-4.6,4.6M1199.8,1188.4l4.6,4.6m0,-4.6l-4.6,4.6M1200.7,1133.9l4.6,4.6m0,-4.6l-4.6,4.6M1204.7,1129.8l4.6,4.6m0,-4.6l-4.6,4.6M1217,1080.6l4.6,4.6m0,-4.6l-4.6,4.6M1206.1,1161.5l4.6,4.6m0,-4.6l-4.6,4.6M1194.6,1142.5l4.6,4.6m0,-4.6l-4.6,4.6M1256.2,1066.2l4.6,4.6m0,-4.6l-4.6,4.6M1204.3,1161.6l4.6,4.6m0,-4.6l-4.6,4.6M1190.1,1149.5l4.6,4.6m0,-4.6l-4.6,4.6M1176.2,1181.6l4.6,4.6m0,-4.6l-4.6,4.6M1240.1,1038.2l4.6,4.6m0,-4.6l-4.6,4.6M1233.3,1146.8l4.6,4.6m0,-4.6l-4.6,4.6M1234.4,1074.6l4.6,4.6m0,-4.6l-4.6,4.6M1225.1,1120l4.6,4.6m0,-4.6l-4.6,4.6M1231.7,1118.2l4.6,4.6m0,-4.6l-4.6,4.6M1231.3,1126.6l4.6,4.6m0,-4.6l-4.6,4.6M1219.5,1131.2l4.6,4.6m0,-4.6l-4.6,4.6M1245.5,1133.8l4.6,4.6m0,-4.6l-4.6,4.6M1240.5,1085.8l4.6,4.6m0,-4.6l-4.6,4.6M1173.7,1121.9l4.6,4.6m0,-4.6l-4.6,4.6M1255.5,1045.1l4.6,4.6m0,-4.6l-4.6,4.6M1226.4,1169.7l4.6,4.6m0,-4.6l-4.6,4.6M1211.9,1179.2l4.6,4.6m0,-4.6l-4.6,4.6M1172.2,1149.6l4.6,4.6m0,-4.6l-4.6,4.6M1252.5,1118.6l4.6,4.6m0,-4.6l-4.6,4.6M1239.9,1101.7l4.6,4.6m0,-4.6l-4.6,4.6M1235.6,1125.9l4.6,4.6m0,-4.6l-4.6,4.6M1190.1,1103.1l4.6,4.6m0,-4.6l-4.6,4.6M1237.8,1110.5l4.6,4.6m0,-4.6l-4.6,4.6M1231.8,1102.3l4.6,4.6m0,-4.6l-4.6,4.6M1251.2,1000.9l4.6,4.6m0,-4.6l-4.6,4.6M1230,1115.5l4.6,4.6m0,-4.6l-4.6,4.6M1174,1150.5l4.6,4.6m0,-4.6l-4.6,4.6M1228.2,1066.3l4.6,4.6m0,-4.6l-4.6,4.6M1207.8,1178.3l4.6,4.6m0,-4.6l-4.6,4.6M1255.9,1055l4.6,4.6m0,-4.6l-4.6,4.6M1187.8,1120l4.6,4.6m0,-4.6l-4.6,4.6M1204.9,1082.7l4.6,4.6m0,-4.6l-4.6,4.6M1241.4,1107.8l4.6,4.6m0,-4.6l-4.6,4.6M1174,1150.1l4.6,4.6m0,-4.6l-4.6,4.6M1204.2,1169.8l4.6,4.6m0,-4.6l-4.6,4.6M1247.6,1009.2l4.6,4.6m0,-4.6l-4.6,4.6M1212.1,1170.3l4.6,4.6m0,-4.6l-4.6,4.6M1234.4,1090.8l4.6,4.6m0,-4.6l-4.6,4.6M1168.9,1170.8l4.6,4.6m0,-4.6l-4.6,4.6M1195.6,1148.1l4.6,4.6m0,-4.6l-4.6,4.6M1234.5,1082.6l4.6,4.6m0,-4.6l-4.6,4.6M1206,1180.7l4.6,4.6m0,-4.6l-4.6,4.6M1252.7,1118.5l4.6,4.6m0,-4.6l-4.6,4.6M1234.8,1132.3l4.6,4.6m0,-4.6l-4.6,4.6M1218.1,1080.9l4.6,4.6m0,-4.6l-4.6,4.6M1230.7,1098.3l4.6,4.6m0,-4.6l-4.6,4.6M1232.2,1068.7l4.6,4.6m0,-4.6l-4.6,4.6M1214.2,1179.1l4.6,4.6m0,-4.6l-4.6,4.6M1242.3,1112.5l4.6,4.6m0,-4.6l-4.6,4.6M1237,1088.2l4.6,4.6m0,-4.6l-4.6,4.6M1211.5,1126.4l4.6,4.6m0,-4.6l-4.6,4.6M1230.3,1066.8l4.6,4.6m0,-4.6l-4.6,4.6M1254.4,1125.7l4.6,4.6m0,-4.6l-4.6,4.6M1253.2,1041.9l4.6,4.6m0,-4.6l-4.6,4.6M1200.8,1132.5l4.6,4.6m0,-4.6l-4.6,4.6M1194.4,1112.3l4.6,4.6m0,-4.6l-4.6,4.6M1226.2,1164.7l4.6,4.6m0,-4.6l-4.6,4.6M1187.5,1160.1l4.6,4.6m0,-4.6l-4.6,4.6M1216.6,1144.3l4.6,4.6m0,-4.6l-4.6,4.6M1242.5,1115.6l4.6,4.6m0,-4.6l-4.6,4.6M1248,1093.5l4.6,4.6m0,-4.6l-4.6,4.6M1182.2,1175.1l4.6,4.6m0,-4.6l-4.6,4.6M1259.2,1108l4.6,4.6m0,-4.6l-4.6,4.6M1256.3,1120l4.6,4.6m0,-4.6l-4.6,4.6M1219.6,1162.5l4.6,4.6m0,-4.6l-4.6,4.6M1184.5,1145.5l4.6,4.6m0,-4.6l-4.6,4.6M1218.1,1094.2l4.6,4.6m0,-4.6l-4.6,4.6M1240.3,1131.4l4.6,4.6m0,-4.6l-4.6,4.6M1201.9,1149.9l4.6,4.6m0,-4.6l-4.6,4.6M1187.4,1115.2l4.6,4.6m0,-4.6l-4.6,4.6M1207.8,1147l4.6,4.6m0,-4.6l-4.6,4.6M1202.7,1166.4l4.6,4.6m0,-4.6l-4.6,4.6M1243.6,1044.6l4.6,4.6m0,-4.6l-4.6,4.6M1248,1080.9l4.6,4.6m0,-4.6l-4.6,4.6M1203.1,1115l4.6,4.6m0,-4.6l-4.6,4.6M1188.4,1115.9l4.6,4.6m0,-4.6l-4.6,4.6M1226.5,1125.6l4.6,4.6m0,-4.6l-4.6,4.6M1225.1,1125.8l4.6,4.6m0,-4.6l-4.6,4.6M1252.3,1048l4.6,4.6m0,-4.6l-4.6,4.6M1217.1,1087l4.6,4.6m0,-4.6l-4.6,4.6M1195.7,1092l4.6,4.6m0,-4.6l-4.6,4.6M1208.6,1186.5l4.6,4.6m0,-4.6l-4.6,4.6M1203,1166.6l4.6,4.6m0,-4.6l-4.6,4.6M1190.5,1185l4.6,4.6m0,-4.6l-4.6,4.6M1216.7,1117.7l4.6,4.6m0,-4.6l-4.6,4.6M1232.6,1098.7l4.6,4.6m0,-4.6l-4.6,4.6M1214.3,1114.5l4.6,4.6m0,-4.6l-4.6,4.6M1245.9,1035.1l4.6,4.6m0,-4.6l-4.6,4.6M1245.2,1082.1l4.6,4.6m0,-4.6l-4.6,4.6M1191,1098.1l4.6,4.6m0,-4.6l-4.6,4.6M1175.1,1153.1l4.6,4.6m0,-4.6l-4.6,4.6M1205.3,1176.1l4.6,4.6m0,-4.6l-4.6,4.6M1253.4,1092.7l4.6,4.6m0,-4.6l-4.6,4.6M1240.2,1112l4.6,4.6m0,-4.6l-4.6,4.6M1256,1110.1l4.6,4.6m0,-4.6l-4.6,4.6M1170.2,1176l4.6,4.6m0,-4.6l-4.6,4.6M1195.8,1135.2l4.6,4.6m0,-4.6l-4.6,4.6M1181.4,1130.6l4.6,4.6m0,-4.6l-4.6,4.6M1203,1121.5l4.6,4.6m0,-4.6l-4.6,4.6M1250.3,1015.9l4.6,4.6m0,-4.6l-4.6,4.6M1241.4,1143.6l4.6,4.6m0,-4.6l-4.6,4.6M1220.2,1093.7l4.6,4.6m0,-4.6l-4.6,4.6M1262,1087.9l4.6,4.6m0,-4.6l-4.6,4.6M1251.4,1022.1l4.6,4.6m0,-4.6l-4.6,4.6M1223,1183.5l4.6,4.6m0,-4.6l-4.6,4.6M1218.4,1111.3l4.6,4.6m0,-4.6l-4.6,4.6M1228,1157.2l4.6,4.6m0,-4.6l-4.6,4.6M1231.3,1071.8l4.6,4.6m0,-4.6l-4.6,4.6M1209.3,1082.9l4.6,4.6m0,-4.6l-4.6,4.6M1241.9,1033.8l4.6,4.6m0,-4.6l-4.6,4.6M1218.6,1137.1l4.6,4.6m0,-4.6l-4.6,4.6M1182.9,1107.8l4.6,4.6m0,-4.6l-4.6,4.6M1178,1171.7l4.6,4.6m0,-4.6l-4.6,4.6M1201.8,1085.7l4.6,4.6m0,-4.6l-4.6,4.6M1247.3,1004.3l4.6,4.6m0,-4.6l-4.6,4.6M1248,1067.8l4.6,4.6m0,-4.6l-4.6,4.6M1246.5,1036.9l4.6,4.6m0,-4.6l-4.6,4.6M1185.4,1167.5l4.6,4.6m0,-4.6l-4.6,4.6M1178.1,1165l4.6,4.6m0,-4.6l-4.6,4.6M1177.9,1181.8l4.6,4.6m0,-4.6l-4.6,4.6M1236.3,1064.9l4.6,4.6m0,-4.6l-4.6,4.6M1237.4,1079.5l4.6,4.6m0,-4.6l-4.6,4.6M1199.4,1179.8l4.6,4.6m0,-4.6l-4.6,4.6M1195.9,1157.1l4.6,4.6m0,-4.6l-4.6,4.6M1260.9,1082.7l4.6,4.6m0,-4.6l-4.6,4.6M1249.2,1062.4l4.6,4.6m0,-4.6l-4.6,4.6M1169.1,1142.7l4.6,4.6m0,-4.6l-4.6,4.6M1197.1,1175.5l4.6,4.6m0,-4.6l-4.6,4.6M1253.2,1009.6l4.6,4.6m0,-4.6l-4.6,4.6M1257.7,1109.2l4.6,4.6m0,-4.6l-4.6,4.6M1221.7,1081.1l4.6,4.6m0,-4.6l-4.6,4.6M1212.3,1115l4.6,4.6m0,-4.6l-4.6,4.6M1225.8,1068.3l4.6,4.6m0,-4.6l-4.6,4.6M1211.5,1107.8l4.6,4.6m0,-4.6l-4.6,4.6M1243.3,1105.1l4.6,4.6m0,-4.6l-4.6,4.6M1247,1129.6l4.6,4.6m0,-4.6l-4.6,4.6M1252.9,1129.6l4.6,4.6m0,-4.6l-4.6,4.6M1256.6,1126l4.6,4.6m0,-4.6l-4.6,4.6M1246.3,1069.8l4.6,4.6m0,-4.6l-4.6,4.6M1246.7,1095.8l4.6,4.6m0,-4.6l-4.6,4.6M1205.3,1139.8l4.6,4.6m0,-4.6l-4.6,4.6M1228.5,1085.1l4.6,4.6m0,-4.6l-4.6,4.6M1231.1,1081.9l4.6,4.6m0,-4.6l-4.6,4.6M1231.4,1125.2l4.6,4.6m0,-4.6l-4.6,4.6M1225.3,1145.2l4.6,4.6m0,-4.6l-4.6,4.6M1197,1122.5l4.6,4.6m0,-4.6l-4.6,4.6M1192.3,1119.1l4.6,4.6m0,-4.6l-4.6,4.6M1219.4,1077.8l4.6,4.6m0,-4.6l-4.6,4.6M1255.6,1092.7l4.6,4.6m0,-4.6l-4.6,4.6M1228.7,1130.7l4.6,4.6m0,-4.6l-4.6,4.6M1222,1103.9l4.6,4.6m0,-4.6l-4.6,4.6M1231.9,1094.3l4.6,4.6m0,-4.6l-4.6,4.6M1211.3,1097.3l4.6,4.6m0,-4.6l-4.6,4.6M1257.3,1047.2l4.6,4.6m0,-4.6l-4.6,4.6M1246.9,1034.5l4.6,4.6m0,-4.6l-4.6,4.6M1239.6,1053.7l4.6,4.6m0,-4.6l-4.6,4.6M1222.7,1167.5l4.6,4.6m0,-4.6l-4.6,4.6M1249.4,1065.3l4.6,4.6m0,-4.6l-4.6,4.6M1198.4,1121.5l4.6,4.6m0,-4.6l-4.6,4.6M1203.6,1083.1l4.6,4.6m0,-4.6l-4.6,4.6M1188.5,1170.2l4.6,4.6m0,-4.6l-4.6,4.6M1212.9,1110.2l4.6,4.6m0,-4.6l-4.6,4.6M1247.6,1106.5l4.6,4.6m0,-4.6l-4.6,4.6M1254.4,1068l4.6,4.6m0,-4.6l-4.6,4.6M1174.7,1147.7l4.6,4.6m0,-4.6l-4.6,4.6M1230.9,1082.3l4.6,4.6m0,-4.6l-4.6,4.6M1206.8,1152.6l4.6,4.6m0,-4.6l-4.6,4.6M1228.5,1134.9l4.6,4.6m0,-4.6l-4.6,4.6M1228.5,1096.8l4.6,4.6m0,-4.6l-4.6,4.6M1245.6,1121.5l4.6,4.6m0,-4.6l-4.6,4.6M1215.7,1109.8l4.6,4.6m0,-4.6l-4.6,4.6M1249.4,1104.2l4.6,4.6m0,-4.6l-4.6,4.6M1190.9,1090.6l4.6,4.6m0,-4.6l-4.6,4.6M1166.3,1151.2l4.6,4.6m0,-4.6l-4.6,4.6M1235.2,1073.5l4.6,4.6m0,-4.6l-4.6,4.6M1242.2,1094.6l4.6,4.6m0,-4.6l-4.6,4.6M1192.9,1187.8l4.6,4.6m0,-4.6l-4.6,4.6M1223.1,1071.1l4.6,4.6m0,-4.6l-4.6,4.6M1251.9,1062.4l4.6,4.6m0,-4.6l-4.6,4.6M1206.2,1082.9l4.6,4.6m0,-4.6l-4.6,4.6M1208.2,1098.5l4.6,4.6m0,-4.6l-4.6,4.6M1215.8,1115.6l4.6,4.6m0,-4.6l-4.6,4.6M1215,1098.8l4.6,4.6m0,-4.6l-4.6,4.6M1244.1,1058.5l4.6,4.6m0,-4.6l-4.6,4.6M1197,1129.1l4.6,4.6m0,-4.6l-4.6,4.6M1192.3,1154l4.6,4.6m0,-4.6l-4.6,4.6M1214.8,1177.5l4.6,4.6m0,-4.6l-4.6,4.6M1207.2,1093.7l4.6,4.6m0,-4.6l-4.6,4.6M1252.5,1057.3l4.6,4.6m0,-4.6l-4.6,4.6M1243.6,1087.4l4.6,4.6m0,-4.6l-4.6,4.6M1203.4,1092.6l4.6,4.6m0,-4.6l-4.6,4.6M1180,1102l4.6,4.6m0,-4.6l-4.6,4.6M1201.6,1152.3l4.6,4.6m0,-4.6l-4.6,4.6M1257.8,1105.1l4.6,4.6m0,-4.6l-4.6,4.6M1261.5,1074.2l4.6,4.6m0,-4.6l-4.6,4.6M1255,1053.5l4.6,4.6m0,-4.6l-4.6,4.6M1202.5,1144.3l4.6,4.6m0,-4.6l-4.6,4.6M1260.1,1107.2l4.6,4.6m0,-4.6l-4.6,4.6M1176,1171.2l4.6,4.6m0,-4.6l-4.6,4.6M1206.4,1173.4l4.6,4.6m0,-4.6l-4.6,4.6M1257.5,1104.5l4.6,4.6m0,-4.6l-4.6,4.6M1210,1165.1l4.6,4.6m0,-4.6l-4.6,4.6M1208.1,1141.2l4.6,4.6m0,-4.6l-4.6,4.6M1225.5,1074.6l4.6,4.6m0,-4.6l-4.6,4.6M1223.9,1116.7l4.6,4.6m0,-4.6l-4.6,4.6M1211.9,1185.8l4.6,4.6m0,-4.6l-4.6,4.6M1168.6,1148.5l4.6,4.6m0,-4.6l-4.6,4.6M1244.4,1084.4l4.6,4.6m0,-4.6l-4.6,4.6M1241.2,1109.3l4.6,4.6m0,-4.6l-4.6,4.6M1205.4,1107.8l4.6,4.6m0,-4.6l-4.6,4.6M1244.3,1120.9l4.6,4.6m0,-4.6l-4.6,4.6M1231.4,1140l4.6,4.6m0,-4.6l-4.6,4.6M1217.4,1088.4l4.6,4.6m0,-4.6l-4.6,4.6M1230.5,1063l4.6,4.6m0,-4.6l-4.6,4.6M1228.2,1124.8l4.6,4.6m0,-4.6l-4.6,4.6M1177.7,1170.8l4.6,4.6m0,-4.6l-4.6,4.6M1241.3,1085.1l4.6,4.6m0,-4.6l-4.6,4.6M1219.2,1082.1l4.6,4.6m0,-4.6l-4.6,4.6M1198.4,1142.4l4.6,4.6m0,-4.6l-4.6,4.6M1188.9,1185.6l4.6,4.6m0,-4.6l-4.6,4.6M1218.7,1173.8l4.6,4.6m0,-4.6l-4.6,4.6M1241.6,1136.6l4.6,4.6m0,-4.6l-4.6,4.6M1222,1071.3l4.6,4.6m0,-4.6l-4.6,4.6M1214.4,1109.6l4.6,4.6m0,-4.6l-4.6,4.6M1215.2,1128.9l4.6,4.6m0,-4.6l-4.6,4.6M1213.6,1152.6l4.6,4.6m0,-4.6l-4.6,4.6M1256.5,1102.5l4.6,4.6m0,-4.6l-4.6,4.6M1209.5,1175.5l4.6,4.6m0,-4.6l-4.6,4.6M1249.4,1030.4l4.6,4.6m0,-4.6l-4.6,4.6M1256.8,1088.5l4.6,4.6m0,-4.6l-4.6,4.6M1248.6,1059.6l4.6,4.6m0,-4.6l-4.6,4.6M1241.7,1042.7l4.6,4.6m0,-4.6l-4.6,4.6M1249.6,1070.9l4.6,4.6m0,-4.6l-4.6,4.6M1249.8,1027.7l4.6,4.6m0,-4.6l-4.6,4.6M1248.1,1006l4.6,4.6m0,-4.6l-4.6,4.6M1246.3,1017.2l4.6,4.6m0,-4.6l-4.6,4.6M1253,1025.9l4.6,4.6m0,-4.6l-4.6,4.6M1248.4,1059.8l4.6,4.6m0,-4.6l-4.6,4.6M1243.2,1010.2l4.6,4.6m0,-4.6l-4.6,4.6M1241.7,991.2l4.6,4.6m0,-4.6l-4.6,4.6M1251.8,1057.3l4.6,4.6m0,-4.6l-4.6,4.6M1255,1081l4.6,4.6m0,-4.6l-4.6,4.6M1258.4,1051.4l4.6,4.6m0,-4.6l-4.6,4.6M1245,1051.5l4.6,4.6m0,-4.6l-4.6,4.6M1250.7,1002.2l4.6,4.6m0,-4.6l-4.6,4.6M1254.6,1057.2l4.6,4.6m0,-4.6l-4.6,4.6M1257,1067l4.6,4.6m0,-4.6l-4.6,4.6M1253.7,1066l4.6,4.6m0,-4.6l-4.6,4.6M1259.5,1087l4.6,4.6m0,-4.6l-4.6,4.6M1258,1051.5l4.6,4.6m0,-4.6l-4.6,4.6M1248,1038.4l4.6,4.6m0,-4.6l-4.6,4.6M1255.6,1034.5l4.6,4.6m0,-4.6l-4.6,4.6M1245.8,1001.3l4.6,4.6m0,-4.6l-4.6,4.6M1245.3,1027.3l4.6,4.6m0,-4.6l-4.6,4.6M1250.7,1070.5l4.6,4.6m0,-4.6l-4.6,4.6M1249.3,1006.8l4.6,4.6m0,-4.6l-4.6,4.6M1251.2,1070.4l4.6,4.6m0,-4.6l-4.6,4.6M1242.3,1011.9l4.6,4.6m0,-4.6l-4.6,4.6M1251.4,1019.8l4.6,4.6m0,-4.6l-4.6,4.6M1261.9,1071l4.6,4.6m0,-4.6l-4.6,4.6M1247.4,1004.3l4.6,4.6m0,-4.6l-4.6,4.6M1242.9,1036.3l4.6,4.6m0,-4.6l-4.6,4.6M1247.3,995.2l4.6,4.6m0,-4.6l-4.6,4.6M1244.9,993.5l4.6,4.6m0,-4.6l-4.6,4.6M1253.4,1021.3l4.6,4.6m0,-4.6l-4.6,4.6M1262.4,1076.7l4.6,4.6m0,-4.6l-4.6,4.6M1248.3,994.1l4.6,4.6m0,-4.6l-4.6,4.6M1249.7,998.1l4.6,4.6m0,-4.6l-4.6,4.6M1253,1033.1l4.6,4.6m0,-4.6l-4.6,4.6M1252.7,1069.5l4.6,4.6m0,-4.6l-4.6,4.6M1248.8,1039.4l4.6,4.6m0,-4.6l-4.6,4.6M1249.5,1020.1l4.6,4.6m0,-4.6l-4.6,4.6M1241.6,1040.5l4.6,4.6m0,-4.6l-4.6,4.6M1255.6,1082l4.6,4.6m0,-4.6l-4.6,4.6M1247.2,1033.3l4.6,4.6m0,-4.6l-4.6,4.6M1246.4,1065.3l4.6,4.6m0,-4.6l-4.6,4.6M1251.3,1082.4l4.6,4.6m0,-4.6l-4.6,4.6M1241.7,1047l4.6,4.6m0,-4.6l-4.6,4.6M1242.9,1056.8l4.6,4.6m0,-4.6l-4.6,4.6M1252.7,1080.6l4.6,4.6m0,-4.6l-4.6,4.6M1259.2,1056l4.6,4.6m0,-4.6l-4.6,4.6M1245.1,995.8l4.6,4.6m0,-4.6l-4.6,4.6M1244.1,1022l4.6,4.6m0,-4.6l-4.6,4.6M1243.1,1047.1l4.6,4.6m0,-4.6l-4.6,4.6M1247.2,1052.7l4.6,4.6m0,-4.6l-4.6,4.6M1254.9,1052.4l4.6,4.6m0,-4.6l-4.6,4.6M1240.6,1056.5l4.6,4.6m0,-4.6l-4.6,4.6M1245.8,1031.4l4.6,4.6m0,-4.6l-4.6,4.6M1251.8,1075.2l4.6,4.6m0,-4.6l-4.6,4.6M1247.8,1066.5l4.6,4.6m0,-4.6l-4.6,4.6M1246.9,1004.9l4.6,4.6m0,-4.6l-4.6,4.6M1250,1040.3l4.6,4.6m0,-4.6l-4.6,4.6M1252.7,1039.4l4.6,4.6m0,-4.6l-4.6,4.6M1248.8,1050l4.6,4.6m0,-4.6l-4.6,4.6M1248.9,1008.9l4.6,4.6m0,-4.6l-4.6,4.6M1251,1007.8l4.6,4.6m0,-4.6l-4.6,4.6M1246.3,1004.2l4.6,4.6m0,-4.6l-4.6,4.6M1246.7,1020l4.6,4.6m0,-4.6l-4.6,4.6M1302.3,1129.6l4.6,4.6m0,-4.6l-4.6,4.6M1293.1,1122.6l4.6,4.6m0,-4.6l-4.6,4.6M1287.8,1118.8l4.6,4.6m0,-4.6l-4.6,4.6M1291.3,1131.4l4.6,4.6m0,-4.6l-4.6,4.6M1314,1141.1l4.6,4.6m0,-4.6l-4.6,4.6M1284.7,1117.2l4.6,4.6m0,-4.6l-4.6,4.6M1306.3,1131.6l4.6,4.6m0,-4.6l-4.6,4.6M1313.4,1137.7l4.6,4.6m0,-4.6l-4.6,4.6M1282.9,1106.9l4.6,4.6m0,-4.6l-4.6,4.6M1303.3,1133.7l4.6,4.6m0,-4.6l-4.6,4.6M1309.6,1139.8l4.6,4.6m0,-4.6l-4.6,4.6M1285.9,1109l4.6,4.6m0,-4.6l-4.6,4.6M1297,1135.2l4.6,4.6m0,-4.6l-4.6,4.6M1307.8,1138.2l4.6,4.6m0,-4.6l-4.6,4.6M1289.5,1121.5l4.6,4.6m0,-4.6l-4.6,4.6" stroke="#3c66b4" stroke-width="1.4" fill="none"/>
<path d="M1275.1,1015.5 L1284.8,1015.5 L1287.2,1022.7 L1294.4,1032.4 L1299.2,1032.4 L1308.9,1051.7 L1317.3,1046.9 L1319.7,1019.1 L1323.4,1020.3 L1323.4,1049.3 L1330.6,1051.7 L1340.2,1051.7 L1357.1,1054.1 L1371.6,1052.9 L1398.1,1051.7 L1419.9,1063.7 L1421.1,1073.4 L1453.6,1073.4 L1479.9,1064.5 L1486,1065.4 L1483.8,1082.1 L1509.4,1078.2 L1527,1070.3 L1528.7,1073.1 L1538.6,1075.1 L1538.6,1078.2 L1524.8,1087.9 L1530.8,1101.6 L1538.6,1105.5 L1538.6,1113.2 L1519,1113.2 L1497.5,1119 L1479.9,1113.2 L1441.6,1104.8 L1424.7,1097.5 L1395.7,1085.5 L1390.9,1104.8 L1378.8,1128.9 L1392.1,1138.5 L1381.3,1140.9 L1362,1150.6 L1357.1,1133.7 L1342.7,1136.1 L1328.2,1140.9 L1313.7,1138.5 L1294.4,1116.8 L1284.8,1107.2 L1281.1,1095.1 L1277.5,1061.3 Z" fill="#2a58a8"/>
<path d="M1236.6,1297 L1231,1262 L1228.5,1242 L1227,1220 L1229,1198 L1226,1175 L1218,1150 L1222,1120 L1238,1095 L1256,1075 L1266,1070 L1276,1085 L1282,1110 L1280,1165 L1278,1183 L1269,1190.6 L1254.3,1220 L1245.4,1264.4 Z" fill="#2a58a8"/>
<path d="M1497.6,1035.2 L1501.5,1034.2 L1538.6,1046.9 L1577.7,1060.5 L1612.8,1064.5 L1622.6,1064.5 L1663.6,1072.3 L1663.6,1076.2 L1628.4,1077.1 L1624.5,1081.1 L1616.7,1080.1 L1610.9,1076.2 L1581.6,1071.3 L1538.6,1056.6 L1497.6,1039.1 Z" fill="#2a58a8"/>
<path d="M1667.5,1093.8 L1681.2,1082 L1700.7,1080.1 L1702.7,1076.2 L1732,1081.1 L1733.9,1086.9 L1778.8,1090.8 L1790.5,1092.8 L1790.5,1097.7 L1739.8,1101.6 L1732,1101.6 L1722.2,1099.6 L1720.2,1106.4 L1733.9,1113.3 L1733.9,1115.2 L1718.3,1111.3 L1716.3,1103.5 L1704.6,1105.5 L1703.6,1112.3 L1694.8,1105.5 L1685.1,1102.5 L1667.5,1098.6 Z" fill="#2a58a8"/>
<path d="M1248,1198 L1252,1200 L1254,1208 L1249,1211 L1246,1204 Z" fill="#fff"/>
<path d="M1244,1216 L1247,1215 L1249,1224 L1246,1229 L1243,1223 Z" fill="#fff"/>
<path d="M1231.1,1189.3l4,4m0,-4l-4,4M1232.4,1182.5l4,4m0,-4l-4,4M1251,1082.5l4,4m0,-4l-4,4M1229.7,1151.5l4,4m0,-4l-4,4M1238.1,1112.4l4,4m0,-4l-4,4M1241.2,1156.6l4,4m0,-4l-4,4M1234.9,1124l4,4m0,-4l-4,4M1236,1135l4,4m0,-4l-4,4M1224,1117.6l4,4m0,-4l-4,4M1222.5,1128l4,4m0,-4l-4,4M1249.2,1171.2l4,4m0,-4l-4,4M1234,1135.1l4,4m0,-4l-4,4M1253,1074.6l4,4m0,-4l-4,4M1245.7,1159.3l4,4m0,-4l-4,4M1232.2,1122.8l4,4m0,-4l-4,4M1254.4,1162l4,4m0,-4l-4,4M1252.2,1111.8l4,4m0,-4l-4,4M1236.9,1110.5l4,4m0,-4l-4,4M1232.7,1181l4,4m0,-4l-4,4M1239.4,1142.1l4,4m0,-4l-4,4M1242.9,1104.4l4,4m0,-4l-4,4M1241.8,1094.1l4,4m0,-4l-4,4M1228.1,1158.9l4,4m0,-4l-4,4M1229.6,1156.4l4,4m0,-4l-4,4M1255.5,1119.4l4,4m0,-4l-4,4M1220.5,1147.3l4,4m0,-4l-4,4M1223.8,1114.4l4,4m0,-4l-4,4M1241,1099.1l4,4m0,-4l-4,4M1226.3,1165.9l4,4m0,-4l-4,4M1225.5,1134.8l4,4m0,-4l-4,4M1228.3,1121l4,4m0,-4l-4,4M1248.4,1152.5l4,4m0,-4l-4,4M1225.1,1178.5l4,4m0,-4l-4,4M1230.6,1141.5l4,4m0,-4l-4,4M1230.6,1163.8l4,4m0,-4l-4,4M1240.6,1132.8l4,4m0,-4l-4,4M1226,1175l4,4m0,-4l-4,4M1256.6,1121.7l4,4m0,-4l-4,4M1236.8,1114.4l4,4m0,-4l-4,4M1237.1,1173.2l4,4m0,-4l-4,4M1245,1128.5l4,4m0,-4l-4,4M1221.7,1172l4,4m0,-4l-4,4M1237.8,1155l4,4m0,-4l-4,4M1241.8,1174l4,4m0,-4l-4,4M1227.3,1177.2l4,4m0,-4l-4,4M1237.2,1164.6l4,4m0,-4l-4,4M1249.5,1114.1l4,4m0,-4l-4,4M1247.9,1167.4l4,4m0,-4l-4,4M1237.5,1136.1l4,4m0,-4l-4,4M1235.7,1127.6l4,4m0,-4l-4,4M1223.7,1141.9l4,4m0,-4l-4,4M1253.4,1103.6l4,4m0,-4l-4,4M1233.2,1117.8l4,4m0,-4l-4,4M1227.6,1184.2l4,4m0,-4l-4,4M1247.5,1083.4l4,4m0,-4l-4,4M1237.8,1114.9l4,4m0,-4l-4,4M1241.7,1116.1l4,4m0,-4l-4,4M1245.2,1087.4l4,4m0,-4l-4,4M1237.8,1126.2l4,4m0,-4l-4,4M1250.2,1136.1l4,4m0,-4l-4,4M1241,1109.8l4,4m0,-4l-4,4M1221.7,1145.1l4,4m0,-4l-4,4M1221.1,1133.6l4,4m0,-4l-4,4M1216.4,1142.6l4,4m0,-4l-4,4M1219.2,1139.8l4,4m0,-4l-4,4M1237.2,1127.1l4,4m0,-4l-4,4M1222.5,1145.7l4,4m0,-4l-4,4M1221,1154.9l4,4m0,-4l-4,4M1253.3,1113.4l4,4m0,-4l-4,4M1232.8,1134.6l4,4m0,-4l-4,4M1228,1107.4l4,4m0,-4l-4,4M1226.8,1152.2l4,4m0,-4l-4,4M1238.3,1140.1l4,4m0,-4l-4,4M1242.1,1104.1l4,4m0,-4l-4,4M1237.9,1136.9l4,4m0,-4l-4,4M1242.8,1149.8l4,4m0,-4l-4,4M1237.5,1144.2l4,4m0,-4l-4,4M1221.4,1117.5l4,4m0,-4l-4,4M1225.3,1138.3l4,4m0,-4l-4,4M1246.3,1104.8l4,4m0,-4l-4,4M1235.3,1097.8l4,4m0,-4l-4,4M1232.8,1191.9l4,4m0,-4l-4,4M1254.8,1116.4l4,4m0,-4l-4,4M1232.4,1101.7l4,4m0,-4l-4,4M1244.6,1172.2l4,4m0,-4l-4,4M1242,1102.1l4,4m0,-4l-4,4M1245.5,1089l4,4m0,-4l-4,4M1233,1142.5l4,4m0,-4l-4,4M1231.4,1175.8l4,4m0,-4l-4,4M1223.4,1129.7l4,4m0,-4l-4,4M1242.1,1095.3l4,4m0,-4l-4,4M1231.2,1177l4,4m0,-4l-4,4M1250.4,1140l4,4m0,-4l-4,4M1224.9,1115.7l4,4m0,-4l-4,4M1216.6,1127l4,4m0,-4l-4,4M1242.2,1152.8l4,4m0,-4l-4,4M1242,1134.4l4,4m0,-4l-4,4M1252.5,1102l4,4m0,-4l-4,4M1227.6,1177.3l4,4m0,-4l-4,4M1235,1182.4l4,4m0,-4l-4,4M1236.4,1119.5l4,4m0,-4l-4,4M1236,1115.2l4,4m0,-4l-4,4M1236.2,1121.9l4,4m0,-4l-4,4M1244.5,1151l4,4m0,-4l-4,4M1233.1,1117.6l4,4m0,-4l-4,4M1222.5,1170.1l4,4m0,-4l-4,4M1229.1,1182.6l4,4m0,-4l-4,4M1236.1,1091.7l4,4m0,-4l-4,4M1223.8,1109.9l4,4m0,-4l-4,4M1225.1,1159.7l4,4m0,-4l-4,4M1217.9,1143.3l4,4m0,-4l-4,4M1252.6,1128.2l4,4m0,-4l-4,4M1246,1140.4l4,4m0,-4l-4,4M1241.2,1159.9l4,4m0,-4l-4,4M1246.4,1172.3l4,4m0,-4l-4,4M1232.7,1150.8l4,4m0,-4l-4,4M1233.1,1175.9l4,4m0,-4l-4,4M1251.7,1112.9l4,4m0,-4l-4,4M1247.8,1099.8l4,4m0,-4l-4,4M1226.4,1169.5l4,4m0,-4l-4,4M1222.2,1146.9l4,4m0,-4l-4,4M1233.4,1151.1l4,4m0,-4l-4,4M1249,1175.7l4,4m0,-4l-4,4M1217,1125.1l4,4m0,-4l-4,4M1247.6,1105.7l4,4m0,-4l-4,4M1229.1,1146l4,4m0,-4l-4,4M1216.1,1153.4l4,4m0,-4l-4,4M1229,1184.1l4,4m0,-4l-4,4M1238.6,1092.7l4,4m0,-4l-4,4M1237.5,1100.1l4,4m0,-4l-4,4M1239.2,1153.7l4,4m0,-4l-4,4M1257.5,1102.6l4,4m0,-4l-4,4M1230.1,1124.7l4,4m0,-4l-4,4M1251.8,1142.9l4,4m0,-4l-4,4M1241,1122.1l4,4m0,-4l-4,4M1222,1173.7l4,4m0,-4l-4,4M1256.5,1140.4l4,4m0,-4l-4,4M1244.3,1125.2l4,4m0,-4l-4,4M1230.6,1143l4,4m0,-4l-4,4M1225.7,1127.6l4,4m0,-4l-4,4M1234.3,1162.8l4,4m0,-4l-4,4M1244.8,1145.4l4,4m0,-4l-4,4M1215,1147.4l4,4m0,-4l-4,4M1254.6,1155.8l4,4m0,-4l-4,4M1245.7,1102.8l4,4m0,-4l-4,4M1227.9,1139.5l4,4m0,-4l-4,4M1229.3,1138l4,4m0,-4l-4,4M1244.1,1145.1l4,4m0,-4l-4,4M1225.7,1140.1l4,4m0,-4l-4,4M1230.2,1151.5l4,4m0,-4l-4,4M1254,1120.6l4,4m0,-4l-4,4M1221.3,1149l4,4m0,-4l-4,4M1216.2,1134.9l4,4m0,-4l-4,4M1219.4,1156.8l4,4m0,-4l-4,4M1248.9,1166.4l4,4m0,-4l-4,4M1229.8,1167.7l4,4m0,-4l-4,4M1237.7,1101l4,4m0,-4l-4,4M1246.5,1099l4,4m0,-4l-4,4M1235.8,1144.5l4,4m0,-4l-4,4M1249.3,1104.2l4,4m0,-4l-4,4" stroke="#fff" stroke-width="1.3" stroke-opacity="0.85" fill="none"/>
<path d="M1315.3,1062.9l3.5,3.5m0,-3.5l-3.5,3.5M1360.8,1062.5l3.5,3.5m0,-3.5l-3.5,3.5M1320.3,1066.4l3.5,3.5m0,-3.5l-3.5,3.5M1339.1,1076.2l3.5,3.5m0,-3.5l-3.5,3.5M1355.5,1063.8l3.5,3.5m0,-3.5l-3.5,3.5M1318,1056.2l3.5,3.5m0,-3.5l-3.5,3.5M1296.4,1079.3l3.5,3.5m0,-3.5l-3.5,3.5M1354.6,1071.3l3.5,3.5m0,-3.5l-3.5,3.5M1356,1075.2l3.5,3.5m0,-3.5l-3.5,3.5M1390.2,1069.9l3.5,3.5m0,-3.5l-3.5,3.5M1353.5,1065.7l3.5,3.5m0,-3.5l-3.5,3.5M1330.9,1060.9l3.5,3.5m0,-3.5l-3.5,3.5M1287.5,1070.5l3.5,3.5m0,-3.5l-3.5,3.5M1387.6,1060.5l3.5,3.5m0,-3.5l-3.5,3.5M1284.8,1044.7l3.5,3.5m0,-3.5l-3.5,3.5M1318.6,1059.4l3.5,3.5m0,-3.5l-3.5,3.5M1356.3,1069l3.5,3.5m0,-3.5l-3.5,3.5M1320.7,1072.5l3.5,3.5m0,-3.5l-3.5,3.5M1285.3,1040.6l3.5,3.5m0,-3.5l-3.5,3.5M1383.6,1072.9l3.5,3.5m0,-3.5l-3.5,3.5M1355.1,1069.7l3.5,3.5m0,-3.5l-3.5,3.5M1373.1,1069.1l3.5,3.5m0,-3.5l-3.5,3.5M1330.5,1070.2l3.5,3.5m0,-3.5l-3.5,3.5M1292.2,1076.2l3.5,3.5m0,-3.5l-3.5,3.5M1354,1053.9l3.5,3.5m0,-3.5l-3.5,3.5M1338.8,1056.7l3.5,3.5m0,-3.5l-3.5,3.5M1293.4,1078.9l3.5,3.5m0,-3.5l-3.5,3.5M1319.5,1070.8l3.5,3.5m0,-3.5l-3.5,3.5M1303.2,1076.8l3.5,3.5m0,-3.5l-3.5,3.5M1333.3,1070.6l3.5,3.5m0,-3.5l-3.5,3.5M1303.1,1062.4l3.5,3.5m0,-3.5l-3.5,3.5M1369.5,1060.6l3.5,3.5m0,-3.5l-3.5,3.5M1319,1083.8l3.5,3.5m0,-3.5l-3.5,3.5M1313.6,1071.5l3.5,3.5m0,-3.5l-3.5,3.5M1319.6,1061l3.5,3.5m0,-3.5l-3.5,3.5M1352.8,1079.9l3.5,3.5m0,-3.5l-3.5,3.5M1314.1,1073.5l3.5,3.5m0,-3.5l-3.5,3.5M1320.7,1057l3.5,3.5m0,-3.5l-3.5,3.5M1355.6,1054.3l3.5,3.5m0,-3.5l-3.5,3.5M1336.7,1081.2l3.5,3.5m0,-3.5l-3.5,3.5M1289,1052.8l3.5,3.5m0,-3.5l-3.5,3.5M1357.5,1068.8l3.5,3.5m0,-3.5l-3.5,3.5M1331.9,1056l3.5,3.5m0,-3.5l-3.5,3.5M1312,1056l3.5,3.5m0,-3.5l-3.5,3.5M1284,1036.8l3.5,3.5m0,-3.5l-3.5,3.5M1333.2,1079.4l3.5,3.5m0,-3.5l-3.5,3.5M1322.3,1064.2l3.5,3.5m0,-3.5l-3.5,3.5M1333.5,1065.6l3.5,3.5m0,-3.5l-3.5,3.5M1286.7,1053.7l3.5,3.5m0,-3.5l-3.5,3.5M1331.4,1066.1l3.5,3.5m0,-3.5l-3.5,3.5M1390.2,1071.6l3.5,3.5m0,-3.5l-3.5,3.5M1297.9,1070.4l3.5,3.5m0,-3.5l-3.5,3.5M1356.7,1055.3l3.5,3.5m0,-3.5l-3.5,3.5M1378.6,1076.7l3.5,3.5m0,-3.5l-3.5,3.5M1323.3,1068.2l3.5,3.5m0,-3.5l-3.5,3.5M1293.4,1066.9l3.5,3.5m0,-3.5l-3.5,3.5M1309.5,1086.3l3.5,3.5m0,-3.5l-3.5,3.5M1381.9,1070.3l3.5,3.5m0,-3.5l-3.5,3.5M1331.9,1072.9l3.5,3.5m0,-3.5l-3.5,3.5M1290.9,1076.7l3.5,3.5m0,-3.5l-3.5,3.5M1340.8,1054.8l3.5,3.5m0,-3.5l-3.5,3.5M1371.5,1063.3l3.5,3.5m0,-3.5l-3.5,3.5M1375.7,1074.6l3.5,3.5m0,-3.5l-3.5,3.5M1352.9,1079l3.5,3.5m0,-3.5l-3.5,3.5M1370.5,1073l3.5,3.5m0,-3.5l-3.5,3.5M1351.7,1063.4l3.5,3.5m0,-3.5l-3.5,3.5M1377.4,1058.5l3.5,3.5m0,-3.5l-3.5,3.5M1303.9,1074.9l3.5,3.5m0,-3.5l-3.5,3.5M1302.8,1071.1l3.5,3.5m0,-3.5l-3.5,3.5M1303,1074.4l3.5,3.5m0,-3.5l-3.5,3.5M1285.3,1048.4l3.5,3.5m0,-3.5l-3.5,3.5M1299.4,1061.9l3.5,3.5m0,-3.5l-3.5,3.5M1336.9,1074l3.5,3.5m0,-3.5l-3.5,3.5M1331.3,1079.9l3.5,3.5m0,-3.5l-3.5,3.5M1289.5,1065.2l3.5,3.5m0,-3.5l-3.5,3.5M1289.6,1050.3l3.5,3.5m0,-3.5l-3.5,3.5M1299.5,1065.8l3.5,3.5m0,-3.5l-3.5,3.5M1385.1,1069.9l3.5,3.5m0,-3.5l-3.5,3.5M1326.4,1076.1l3.5,3.5m0,-3.5l-3.5,3.5M1379.5,1066.2l3.5,3.5m0,-3.5l-3.5,3.5M1286.9,1061.6l3.5,3.5m0,-3.5l-3.5,3.5M1314.2,1063.6l3.5,3.5m0,-3.5l-3.5,3.5M1342.6,1073.3l3.5,3.5m0,-3.5l-3.5,3.5M1313,1072.5l3.5,3.5m0,-3.5l-3.5,3.5M1379.6,1058.8l3.5,3.5m0,-3.5l-3.5,3.5M1294.9,1073.9l3.5,3.5m0,-3.5l-3.5,3.5M1353.6,1083.6l3.5,3.5m0,-3.5l-3.5,3.5M1316,1086.2l3.5,3.5m0,-3.5l-3.5,3.5M1303.7,1079.3l3.5,3.5m0,-3.5l-3.5,3.5M1355.3,1074.8l3.5,3.5m0,-3.5l-3.5,3.5M1292.5,1068.5l3.5,3.5m0,-3.5l-3.5,3.5M1336.8,1053.3l3.5,3.5m0,-3.5l-3.5,3.5M1318.7,1064.7l3.5,3.5m0,-3.5l-3.5,3.5M1345.2,1071.6l3.5,3.5m0,-3.5l-3.5,3.5M1346.9,1057.8l3.5,3.5m0,-3.5l-3.5,3.5M1391.6,1059.3l3.5,3.5m0,-3.5l-3.5,3.5M1338.5,1076.2l3.5,3.5m0,-3.5l-3.5,3.5M1392.7,1069.4l3.5,3.5m0,-3.5l-3.5,3.5M1287.2,1039.6l3.5,3.5m0,-3.5l-3.5,3.5M1328.4,1073.9l3.5,3.5m0,-3.5l-3.5,3.5M1336.1,1056.3l3.5,3.5m0,-3.5l-3.5,3.5M1345.8,1065.8l3.5,3.5m0,-3.5l-3.5,3.5M1297,1080.9l3.5,3.5m0,-3.5l-3.5,3.5M1288.7,1043.5l3.5,3.5m0,-3.5l-3.5,3.5M1347.9,1058l3.5,3.5m0,-3.5l-3.5,3.5M1388.9,1078.2l3.5,3.5m0,-3.5l-3.5,3.5M1322.8,1068.4l3.5,3.5m0,-3.5l-3.5,3.5M1307.9,1085.4l3.5,3.5m0,-3.5l-3.5,3.5M1381.1,1069.5l3.5,3.5m0,-3.5l-3.5,3.5M1336.1,1054.8l3.5,3.5m0,-3.5l-3.5,3.5M1355,1075.6l3.5,3.5m0,-3.5l-3.5,3.5M1393.6,1072.1l3.5,3.5m0,-3.5l-3.5,3.5M1328.4,1066.5l3.5,3.5m0,-3.5l-3.5,3.5M1292.7,1072.4l3.5,3.5m0,-3.5l-3.5,3.5M1378.4,1062.4l3.5,3.5m0,-3.5l-3.5,3.5M1294.5,1076.5l3.5,3.5m0,-3.5l-3.5,3.5M1373.7,1063.7l3.5,3.5m0,-3.5l-3.5,3.5M1343.6,1060.5l3.5,3.5m0,-3.5l-3.5,3.5M1392,1059.2l3.5,3.5m0,-3.5l-3.5,3.5M1373,1075.7l3.5,3.5m0,-3.5l-3.5,3.5M1392.4,1074.6l3.5,3.5m0,-3.5l-3.5,3.5M1320.9,1085.4l3.5,3.5m0,-3.5l-3.5,3.5M1390.3,1063.4l3.5,3.5m0,-3.5l-3.5,3.5M1323.1,1066.9l3.5,3.5m0,-3.5l-3.5,3.5M1336.6,1061.8l3.5,3.5m0,-3.5l-3.5,3.5M1385.8,1068.1l3.5,3.5m0,-3.5l-3.5,3.5M1333,1058.7l3.5,3.5m0,-3.5l-3.5,3.5M1371.1,1067.3l3.5,3.5m0,-3.5l-3.5,3.5M1365.2,1068.4l3.5,3.5m0,-3.5l-3.5,3.5M1362.7,1079.4l3.5,3.5m0,-3.5l-3.5,3.5M1293.8,1066.1l3.5,3.5m0,-3.5l-3.5,3.5M1377.9,1079.3l3.5,3.5m0,-3.5l-3.5,3.5M1321.5,1075.2l3.5,3.5m0,-3.5l-3.5,3.5M1318.2,1058l3.5,3.5m0,-3.5l-3.5,3.5M1306.5,1068.2l3.5,3.5m0,-3.5l-3.5,3.5M1380.8,1059.3l3.5,3.5m0,-3.5l-3.5,3.5M1347.9,1078.2l3.5,3.5m0,-3.5l-3.5,3.5M1381.1,1057.6l3.5,3.5m0,-3.5l-3.5,3.5M1309.9,1061.9l3.5,3.5m0,-3.5l-3.5,3.5M1312.5,1055.2l3.5,3.5m0,-3.5l-3.5,3.5" stroke="#fff" stroke-width="0.9" stroke-opacity="0.45" fill="none"/>
<path d="M1240.8,722.1l4.4,4.4m0,-4.4l-4.4,4.4M1241.8,736.1l4.4,4.4m0,-4.4l-4.4,4.4M1242.9,750.1l4.4,4.4m0,-4.4l-4.4,4.4M1243.9,760.5l4.4,4.4m0,-4.4l-4.4,4.4M1245,770.9l4.4,4.4m0,-4.4l-4.4,4.4M1246,781.3l4.4,4.4m0,-4.4l-4.4,4.4M1247,791.7l4.4,4.4m0,-4.4l-4.4,4.4M1247.7,798.6l4.4,4.4m0,-4.4l-4.4,4.4M1248.4,805.6l4.4,4.4m0,-4.4l-4.4,4.4M1249.1,812.5l4.4,4.4m0,-4.4l-4.4,4.4M1250.2,819.4l4.4,4.4m0,-4.4l-4.4,4.4M1251.2,826.3l4.4,4.4m0,-4.4l-4.4,4.4M1252.2,833.3l4.4,4.4m0,-4.4l-4.4,4.4M1253.3,840.2l4.4,4.4m0,-4.4l-4.4,4.4M1254.3,847.1l4.4,4.4m0,-4.4l-4.4,4.4M1254.9,854.1l4.4,4.4m0,-4.4l-4.4,4.4M1256.5,857l4.4,4.4m0,-4.4l-4.4,4.4M1255.9,860l4.4,4.4m0,-4.4l-4.4,4.4M1257.4,863l4.4,4.4m0,-4.4l-4.4,4.4M1257.4,865.9l4.4,4.4m0,-4.4l-4.4,4.4M1258.2,868.9l4.4,4.4m0,-4.4l-4.4,4.4M1258,871.9l4.4,4.4m0,-4.4l-4.4,4.4M1257.7,874.8l4.4,4.4m0,-4.4l-4.4,4.4M1258.4,877.8l4.4,4.4m0,-4.4l-4.4,4.4M1258.7,880.8l4.4,4.4m0,-4.4l-4.4,4.4M1259.2,883.7l4.4,4.4m0,-4.4l-4.4,4.4M1259.5,886.7l4.4,4.4m0,-4.4l-4.4,4.4M1260.3,889.7l4.4,4.4m0,-4.4l-4.4,4.4M1261.1,892.6l4.4,4.4m0,-4.4l-4.4,4.4M1261.9,895.6l4.4,4.4m0,-4.4l-4.4,4.4M1261.5,898.6l4.4,4.4m0,-4.4l-4.4,4.4M1262.3,901.6l4.4,4.4m0,-4.4l-4.4,4.4M1263.3,904.5l4.4,4.4m0,-4.4l-4.4,4.4M1262.7,907.5l4.4,4.4m0,-4.4l-4.4,4.4M1264.1,910.5l4.4,4.4m0,-4.4l-4.4,4.4M1263.6,913.4l4.4,4.4m0,-4.4l-4.4,4.4M1263.9,916.4l4.4,4.4m0,-4.4l-4.4,4.4M1265.6,919.4l4.4,4.4m0,-4.4l-4.4,4.4M1265.7,922.3l4.4,4.4m0,-4.4l-4.4,4.4M1266.2,925.3l4.4,4.4m0,-4.4l-4.4,4.4M1266.2,928.3l4.4,4.4m0,-4.4l-4.4,4.4M1266.4,931.2l4.4,4.4m0,-4.4l-4.4,4.4M1267.5,934.2l4.4,4.4m0,-4.4l-4.4,4.4M1267.5,937.2l4.4,4.4m0,-4.4l-4.4,4.4M1268.9,940.1l4.4,4.4m0,-4.4l-4.4,4.4M1268.9,943.1l4.4,4.4m0,-4.4l-4.4,4.4M1269.3,946.1l4.4,4.4m0,-4.4l-4.4,4.4M1268.5,949.1l4.4,4.4m0,-4.4l-4.4,4.4M1269.1,952l4.4,4.4m0,-4.4l-4.4,4.4M1269.4,955l4.4,4.4m0,-4.4l-4.4,4.4M1269.3,958l4.4,4.4m0,-4.4l-4.4,4.4M1270.2,960.9l4.4,4.4m0,-4.4l-4.4,4.4M1270.7,963.9l4.4,4.4m0,-4.4l-4.4,4.4M1270.5,966.9l4.4,4.4m0,-4.4l-4.4,4.4M1270.6,969.8l4.4,4.4m0,-4.4l-4.4,4.4M1270.6,972.8l4.4,4.4m0,-4.4l-4.4,4.4M1271.3,975.8l4.4,4.4m0,-4.4l-4.4,4.4M1272,978.7l4.4,4.4m0,-4.4l-4.4,4.4M1273,981.9l4.4,4.4m0,-4.4l-4.4,4.4M1272.8,985.1l4.4,4.4m0,-4.4l-4.4,4.4M1272.3,988.3l4.4,4.4m0,-4.4l-4.4,4.4M1272.6,991.5l4.4,4.4m0,-4.4l-4.4,4.4M1272.7,994.7l4.4,4.4m0,-4.4l-4.4,4.4M1274,997.9l4.4,4.4m0,-4.4l-4.4,4.4M1272.2,995l4.4,4.4m0,-4.4l-4.4,4.4M1273.2,992.2l4.4,4.4m0,-4.4l-4.4,4.4M1272.5,989.3l4.4,4.4m0,-4.4l-4.4,4.4M1271.3,986.5l4.4,4.4m0,-4.4l-4.4,4.4M1271.2,983.6l4.4,4.4m0,-4.4l-4.4,4.4M1270,980.8l4.4,4.4m0,-4.4l-4.4,4.4M1270.5,978l4.4,4.4m0,-4.4l-4.4,4.4M1269.1,975.1l4.4,4.4m0,-4.4l-4.4,4.4M1270,972.3l4.4,4.4m0,-4.4l-4.4,4.4M1269.4,975.4l4.4,4.4m0,-4.4l-4.4,4.4M1270,978.5l4.4,4.4m0,-4.4l-4.4,4.4M1270.8,981.6l4.4,4.4m0,-4.4l-4.4,4.4M1270.9,984.7l4.4,4.4m0,-4.4l-4.4,4.4M1271,987.8l4.4,4.4m0,-4.4l-4.4,4.4M1270.9,990.9l4.4,4.4m0,-4.4l-4.4,4.4M1270.8,994l4.4,4.4m0,-4.4l-4.4,4.4M1271.3,996.7l4.4,4.4m0,-4.4l-4.4,4.4M1271.9,999.5l4.4,4.4m0,-4.4l-4.4,4.4M1271.5,1002.3l4.4,4.4m0,-4.4l-4.4,4.4M1272.8,1005l4.4,4.4m0,-4.4l-4.4,4.4M1272.5,1007.8l4.4,4.4m0,-4.4l-4.4,4.4M1273.3,1010.5l4.4,4.4m0,-4.4l-4.4,4.4" stroke="#2a58a8" stroke-width="1.25" fill="none"/>
<path d="M1273.9,1014.3l4.5,4.5m0,-4.5l-4.5,4.5M1277,1012.2l4.5,4.5m0,-4.5l-4.5,4.5M1279.5,1013.1l4.5,4.5m0,-4.5l-4.5,4.5M1282.6,1012.4l4.5,4.5m0,-4.5l-4.5,4.5M1282.6,1015.5l4.5,4.5m0,-4.5l-4.5,4.5M1283.4,1018l4.5,4.5m0,-4.5l-4.5,4.5M1283.8,1019.5l4.5,4.5m0,-4.5l-4.5,4.5M1287.2,1022.7l4.5,4.5m0,-4.5l-4.5,4.5M1288.6,1025.9l4.5,4.5m0,-4.5l-4.5,4.5M1290,1026.7l4.5,4.5m0,-4.5l-4.5,4.5M1292.8,1030.3l4.5,4.5m0,-4.5l-4.5,4.5M1294.9,1030.4l4.5,4.5m0,-4.5l-4.5,4.5M1298.1,1029.8l4.5,4.5m0,-4.5l-4.5,4.5M1299,1032.6l4.5,4.5m0,-4.5l-4.5,4.5M1299.9,1036l4.5,4.5m0,-4.5l-4.5,4.5M1300.7,1037.4l4.5,4.5m0,-4.5l-4.5,4.5M1302.4,1041.7l4.5,4.5m0,-4.5l-4.5,4.5M1304.1,1043.8l4.5,4.5m0,-4.5l-4.5,4.5M1305.6,1045.9l4.5,4.5m0,-4.5l-4.5,4.5M1305.9,1049l4.5,4.5m0,-4.5l-4.5,4.5M1310.2,1047.1l4.5,4.5m0,-4.5l-4.5,4.5M1311.3,1045.2l4.5,4.5m0,-4.5l-4.5,4.5M1314,1044.1l4.5,4.5m0,-4.5l-4.5,4.5M1315.5,1041.9l4.5,4.5m0,-4.5l-4.5,4.5M1315.3,1037.4l4.5,4.5m0,-4.5l-4.5,4.5M1315.5,1033.7l4.5,4.5m0,-4.5l-4.5,4.5M1316.9,1030.8l4.5,4.5m0,-4.5l-4.5,4.5M1316,1026.3l4.5,4.5m0,-4.5l-4.5,4.5M1317.6,1024.3l4.5,4.5m0,-4.5l-4.5,4.5M1318,1019.7l4.5,4.5m0,-4.5l-4.5,4.5M1317.6,1017.9l4.5,4.5m0,-4.5l-4.5,4.5M1319.5,1018.5l4.5,4.5m0,-4.5l-4.5,4.5M1320.3,1019.2l4.5,4.5m0,-4.5l-4.5,4.5M1320,1021.1l4.5,4.5m0,-4.5l-4.5,4.5M1320,1025.2l4.5,4.5m0,-4.5l-4.5,4.5M1321.6,1028.9l4.5,4.5m0,-4.5l-4.5,4.5M1321.8,1032l4.5,4.5m0,-4.5l-4.5,4.5M1321.2,1035.3l4.5,4.5m0,-4.5l-4.5,4.5M1321.7,1037l4.5,4.5m0,-4.5l-4.5,4.5M1322.2,1040.3l4.5,4.5m0,-4.5l-4.5,4.5M1320.4,1042.8l4.5,4.5m0,-4.5l-4.5,4.5M1321,1046.3l4.5,4.5m0,-4.5l-4.5,4.5M1324.6,1048.9l4.5,4.5m0,-4.5l-4.5,4.5M1325.2,1047.7l4.5,4.5m0,-4.5l-4.5,4.5M1328.4,1048.6l4.5,4.5m0,-4.5l-4.5,4.5M1331.7,1050.2l4.5,4.5m0,-4.5l-4.5,4.5M1334.2,1049.2l4.5,4.5m0,-4.5l-4.5,4.5M1339,1049.3l4.5,4.5m0,-4.5l-4.5,4.5M1341,1050.9l4.5,4.5m0,-4.5l-4.5,4.5M1345.5,1051.3l4.5,4.5m0,-4.5l-4.5,4.5M1348.6,1050.7l4.5,4.5m0,-4.5l-4.5,4.5M1352,1052.1l4.5,4.5m0,-4.5l-4.5,4.5M1355.2,1051.2l4.5,4.5m0,-4.5l-4.5,4.5M1357.3,1051.4l4.5,4.5m0,-4.5l-4.5,4.5M1361.3,1051.5l4.5,4.5m0,-4.5l-4.5,4.5M1363.7,1051.9l4.5,4.5m0,-4.5l-4.5,4.5M1365.5,1051.2l4.5,4.5m0,-4.5l-4.5,4.5M1369,1050.8l4.5,4.5m0,-4.5l-4.5,4.5M1373.5,1049.9l4.5,4.5m0,-4.5l-4.5,4.5M1377.1,1049.3l4.5,4.5m0,-4.5l-4.5,4.5M1379.5,1050.3l4.5,4.5m0,-4.5l-4.5,4.5M1382,1050.2l4.5,4.5m0,-4.5l-4.5,4.5M1385.9,1049.8l4.5,4.5m0,-4.5l-4.5,4.5M1389.8,1048.5l4.5,4.5m0,-4.5l-4.5,4.5M1392.3,1050.3l4.5,4.5m0,-4.5l-4.5,4.5M1395,1050.3l4.5,4.5m0,-4.5l-4.5,4.5M1397.9,1051.4l4.5,4.5m0,-4.5l-4.5,4.5M1400.5,1052.3l4.5,4.5m0,-4.5l-4.5,4.5M1403.8,1052.9l4.5,4.5m0,-4.5l-4.5,4.5M1407.2,1055.4l4.5,4.5m0,-4.5l-4.5,4.5M1409.9,1057.1l4.5,4.5m0,-4.5l-4.5,4.5M1412.3,1058.5l4.5,4.5m0,-4.5l-4.5,4.5M1414.4,1060.9l4.5,4.5m0,-4.5l-4.5,4.5M1416.6,1062.4l4.5,4.5m0,-4.5l-4.5,4.5M1418.9,1064.7l4.5,4.5m0,-4.5l-4.5,4.5M1419.1,1068.3l4.5,4.5m0,-4.5l-4.5,4.5M1419.1,1070.6l4.5,4.5m0,-4.5l-4.5,4.5M1421.6,1070.8l4.5,4.5m0,-4.5l-4.5,4.5M1424.9,1072.2l4.5,4.5m0,-4.5l-4.5,4.5M1428.2,1070.9l4.5,4.5m0,-4.5l-4.5,4.5M1431.6,1071.9l4.5,4.5m0,-4.5l-4.5,4.5M1435,1071.3l4.5,4.5m0,-4.5l-4.5,4.5M1437.8,1070.6l4.5,4.5m0,-4.5l-4.5,4.5M1440.6,1070.5l4.5,4.5m0,-4.5l-4.5,4.5M1444.3,1072l4.5,4.5m0,-4.5l-4.5,4.5M1448.1,1070.2l4.5,4.5m0,-4.5l-4.5,4.5M1451.3,1070.2l4.5,4.5m0,-4.5l-4.5,4.5M1454.8,1069.9l4.5,4.5m0,-4.5l-4.5,4.5M1458.8,1068.3l4.5,4.5m0,-4.5l-4.5,4.5M1462.1,1067.2l4.5,4.5m0,-4.5l-4.5,4.5M1465.7,1067l4.5,4.5m0,-4.5l-4.5,4.5M1466.7,1066.3l4.5,4.5m0,-4.5l-4.5,4.5M1470.6,1064.1l4.5,4.5m0,-4.5l-4.5,4.5M1473.5,1064.1l4.5,4.5m0,-4.5l-4.5,4.5M1476.7,1062.8l4.5,4.5m0,-4.5l-4.5,4.5M1480.4,1063.1l4.5,4.5m0,-4.5l-4.5,4.5M1483.2,1062.2l4.5,4.5m0,-4.5l-4.5,4.5M1484.3,1066.9l4.5,4.5m0,-4.5l-4.5,4.5M1482,1071l4.5,4.5m0,-4.5l-4.5,4.5M1483.4,1072.4l4.5,4.5m0,-4.5l-4.5,4.5M1480.8,1076.8l4.5,4.5m0,-4.5l-4.5,4.5M1480.7,1080.4l4.5,4.5m0,-4.5l-4.5,4.5M1484.7,1079.8l4.5,4.5m0,-4.5l-4.5,4.5M1488.1,1079.5l4.5,4.5m0,-4.5l-4.5,4.5M1491.9,1078.6l4.5,4.5m0,-4.5l-4.5,4.5M1494.5,1077.5l4.5,4.5m0,-4.5l-4.5,4.5M1496.6,1076.4l4.5,4.5m0,-4.5l-4.5,4.5M1501.6,1076.2l4.5,4.5m0,-4.5l-4.5,4.5M1503.7,1076l4.5,4.5m0,-4.5l-4.5,4.5M1507.4,1076l4.5,4.5m0,-4.5l-4.5,4.5M1510.9,1074.5l4.5,4.5m0,-4.5l-4.5,4.5M1512.6,1073.7l4.5,4.5m0,-4.5l-4.5,4.5M1516.5,1073l4.5,4.5m0,-4.5l-4.5,4.5M1518.4,1071.6l4.5,4.5m0,-4.5l-4.5,4.5M1522.9,1070.5l4.5,4.5m0,-4.5l-4.5,4.5M1523.8,1067.7l4.5,4.5m0,-4.5l-4.5,4.5M1527.1,1071.7l4.5,4.5m0,-4.5l-4.5,4.5M1528.6,1071.3l4.5,4.5m0,-4.5l-4.5,4.5M1533.5,1072.8l4.5,4.5m0,-4.5l-4.5,4.5M1536.4,1072.1l4.5,4.5m0,-4.5l-4.5,4.5M1536.1,1074.9l4.5,4.5m0,-4.5l-4.5,4.5M1533.1,1077.7l4.5,4.5m0,-4.5l-4.5,4.5M1531.6,1080l4.5,4.5m0,-4.5l-4.5,4.5M1527.8,1081.1l4.5,4.5m0,-4.5l-4.5,4.5M1524.9,1084.1l4.5,4.5m0,-4.5l-4.5,4.5M1522.4,1084.8l4.5,4.5m0,-4.5l-4.5,4.5M1524.5,1088.5l4.5,4.5m0,-4.5l-4.5,4.5M1526.1,1091.2l4.5,4.5m0,-4.5l-4.5,4.5M1526.5,1093.7l4.5,4.5m0,-4.5l-4.5,4.5M1527.6,1097.6l4.5,4.5m0,-4.5l-4.5,4.5M1529.7,1099.8l4.5,4.5m0,-4.5l-4.5,4.5M1531,1099.6l4.5,4.5m0,-4.5l-4.5,4.5M1534.5,1101.7l4.5,4.5m0,-4.5l-4.5,4.5M1536,1102.2l4.5,4.5m0,-4.5l-4.5,4.5M1535.2,1105.5l4.5,4.5m0,-4.5l-4.5,4.5M1537.4,1109l4.5,4.5m0,-4.5l-4.5,4.5M1536.8,1111.4l4.5,4.5m0,-4.5l-4.5,4.5M1532.5,1110.2l4.5,4.5m0,-4.5l-4.5,4.5M1530,1109.9l4.5,4.5m0,-4.5l-4.5,4.5M1526.7,1111l4.5,4.5m0,-4.5l-4.5,4.5M1523.4,1110l4.5,4.5m0,-4.5l-4.5,4.5M1519,1110.9l4.5,4.5m0,-4.5l-4.5,4.5M1515.9,1111.3l4.5,4.5m0,-4.5l-4.5,4.5M1513.2,1112.1l4.5,4.5m0,-4.5l-4.5,4.5M1511.2,1112.9l4.5,4.5m0,-4.5l-4.5,4.5M1507.6,1112.7l4.5,4.5m0,-4.5l-4.5,4.5M1504.1,1115.4l4.5,4.5m0,-4.5l-4.5,4.5M1500.9,1114.6l4.5,4.5m0,-4.5l-4.5,4.5M1498.3,1116l4.5,4.5m0,-4.5l-4.5,4.5M1496,1116.2l4.5,4.5m0,-4.5l-4.5,4.5M1493.5,1114.6l4.5,4.5m0,-4.5l-4.5,4.5M1490.1,1115l4.5,4.5m0,-4.5l-4.5,4.5M1487.4,1113l4.5,4.5m0,-4.5l-4.5,4.5M1484,1113.9l4.5,4.5m0,-4.5l-4.5,4.5M1481,1111l4.5,4.5m0,-4.5l-4.5,4.5M1478.7,1112.1l4.5,4.5m0,-4.5l-4.5,4.5M1473.5,1111l4.5,4.5m0,-4.5l-4.5,4.5M1470.3,1108.5l4.5,4.5m0,-4.5l-4.5,4.5M1468.8,1109.4l4.5,4.5m0,-4.5l-4.5,4.5M1466,1108.4l4.5,4.5m0,-4.5l-4.5,4.5M1461.7,1106.9l4.5,4.5m0,-4.5l-4.5,4.5M1458.7,1107.9l4.5,4.5m0,-4.5l-4.5,4.5M1455.7,1106.9l4.5,4.5m0,-4.5l-4.5,4.5M1451.4,1105.9l4.5,4.5m0,-4.5l-4.5,4.5M1449.5,1103.6l4.5,4.5m0,-4.5l-4.5,4.5M1446.5,1103.1l4.5,4.5m0,-4.5l-4.5,4.5M1441.8,1102.2l4.5,4.5m0,-4.5l-4.5,4.5M1439.7,1101.6l4.5,4.5m0,-4.5l-4.5,4.5M1437.6,1100.1l4.5,4.5m0,-4.5l-4.5,4.5M1434.4,1100.7l4.5,4.5m0,-4.5l-4.5,4.5M1431,1099.1l4.5,4.5m0,-4.5l-4.5,4.5M1428.8,1098l4.5,4.5m0,-4.5l-4.5,4.5M1424.4,1097.2l4.5,4.5m0,-4.5l-4.5,4.5M1422.1,1095.5l4.5,4.5m0,-4.5l-4.5,4.5M1419.2,1094.9l4.5,4.5m0,-4.5l-4.5,4.5M1415.8,1093.4l4.5,4.5m0,-4.5l-4.5,4.5M1411.8,1090.8l4.5,4.5m0,-4.5l-4.5,4.5M1410,1090.2l4.5,4.5m0,-4.5l-4.5,4.5M1407.1,1087.9l4.5,4.5m0,-4.5l-4.5,4.5M1403.9,1087.9l4.5,4.5m0,-4.5l-4.5,4.5M1399.1,1085l4.5,4.5m0,-4.5l-4.5,4.5M1396.9,1085.7l4.5,4.5m0,-4.5l-4.5,4.5M1393.8,1083l4.5,4.5m0,-4.5l-4.5,4.5M1392.7,1087.2l4.5,4.5m0,-4.5l-4.5,4.5M1391.9,1089.7l4.5,4.5m0,-4.5l-4.5,4.5M1391.3,1093.9l4.5,4.5m0,-4.5l-4.5,4.5M1391,1096.9l4.5,4.5m0,-4.5l-4.5,4.5M1388.9,1099.5l4.5,4.5m0,-4.5l-4.5,4.5M1389.4,1103l4.5,4.5m0,-4.5l-4.5,4.5M1388.2,1106.5l4.5,4.5m0,-4.5l-4.5,4.5M1384.7,1108.6l4.5,4.5m0,-4.5l-4.5,4.5M1383.8,1110.8l4.5,4.5m0,-4.5l-4.5,4.5M1382.6,1115.7l4.5,4.5m0,-4.5l-4.5,4.5M1381.8,1116.6l4.5,4.5m0,-4.5l-4.5,4.5M1379,1120.3l4.5,4.5m0,-4.5l-4.5,4.5M1379,1123.5l4.5,4.5m0,-4.5l-4.5,4.5M1375.8,1126.7l4.5,4.5m0,-4.5l-4.5,4.5M1378.6,1127.5l4.5,4.5m0,-4.5l-4.5,4.5M1382.1,1131.7l4.5,4.5m0,-4.5l-4.5,4.5M1385.2,1133l4.5,4.5m0,-4.5l-4.5,4.5M1386.4,1134.5l4.5,4.5m0,-4.5l-4.5,4.5M1390.2,1136.9l4.5,4.5m0,-4.5l-4.5,4.5M1387,1135.8l4.5,4.5m0,-4.5l-4.5,4.5M1385.5,1136.9l4.5,4.5m0,-4.5l-4.5,4.5M1382.3,1138l4.5,4.5m0,-4.5l-4.5,4.5M1379.7,1138.3l4.5,4.5m0,-4.5l-4.5,4.5M1375.3,1139.9l4.5,4.5m0,-4.5l-4.5,4.5M1373.4,1142.2l4.5,4.5m0,-4.5l-4.5,4.5M1370.5,1143.2l4.5,4.5m0,-4.5l-4.5,4.5M1367.7,1144.8l4.5,4.5m0,-4.5l-4.5,4.5M1364.4,1146.5l4.5,4.5m0,-4.5l-4.5,4.5M1363.5,1145.8l4.5,4.5m0,-4.5l-4.5,4.5M1360.6,1149l4.5,4.5m0,-4.5l-4.5,4.5M1359.4,1144.6l4.5,4.5m0,-4.5l-4.5,4.5M1358.7,1143.4l4.5,4.5m0,-4.5l-4.5,4.5M1357.6,1141l4.5,4.5m0,-4.5l-4.5,4.5M1357.6,1137.4l4.5,4.5m0,-4.5l-4.5,4.5M1356.7,1133.4l4.5,4.5m0,-4.5l-4.5,4.5M1354.4,1131.5l4.5,4.5m0,-4.5l-4.5,4.5M1352,1133l4.5,4.5m0,-4.5l-4.5,4.5M1349.4,1132.7l4.5,4.5m0,-4.5l-4.5,4.5M1346.5,1134l4.5,4.5m0,-4.5l-4.5,4.5M1343.1,1134l4.5,4.5m0,-4.5l-4.5,4.5M1340.6,1133.6l4.5,4.5m0,-4.5l-4.5,4.5M1337.1,1134l4.5,4.5m0,-4.5l-4.5,4.5M1333.4,1135.4l4.5,4.5m0,-4.5l-4.5,4.5M1331.2,1135.8l4.5,4.5m0,-4.5l-4.5,4.5M1328.8,1137.4l4.5,4.5m0,-4.5l-4.5,4.5M1327,1139.4l4.5,4.5m0,-4.5l-4.5,4.5M1323.4,1139l4.5,4.5m0,-4.5l-4.5,4.5M1319.6,1136.8l4.5,4.5m0,-4.5l-4.5,4.5M1317.5,1136.6l4.5,4.5m0,-4.5l-4.5,4.5M1315.5,1136.6l4.5,4.5m0,-4.5l-4.5,4.5M1312.4,1135.7l4.5,4.5m0,-4.5l-4.5,4.5M1308.3,1134.2l4.5,4.5m0,-4.5l-4.5,4.5M1307.6,1130.9l4.5,4.5m0,-4.5l-4.5,4.5M1306,1130.2l4.5,4.5m0,-4.5l-4.5,4.5M1303.3,1127.8l4.5,4.5m0,-4.5l-4.5,4.5M1301.9,1123.4l4.5,4.5m0,-4.5l-4.5,4.5M1299.1,1122.4l4.5,4.5m0,-4.5l-4.5,4.5M1297,1119l4.5,4.5m0,-4.5l-4.5,4.5M1294.4,1117.2l4.5,4.5m0,-4.5l-4.5,4.5M1293,1113.5l4.5,4.5m0,-4.5l-4.5,4.5M1289.4,1111.7l4.5,4.5m0,-4.5l-4.5,4.5M1288,1108.8l4.5,4.5m0,-4.5l-4.5,4.5M1283.9,1106.4l4.5,4.5m0,-4.5l-4.5,4.5M1281.6,1104.8l4.5,4.5m0,-4.5l-4.5,4.5M1282.5,1101.6l4.5,4.5m0,-4.5l-4.5,4.5M1279.7,1099.3l4.5,4.5m0,-4.5l-4.5,4.5M1279.4,1096l4.5,4.5m0,-4.5l-4.5,4.5M1279.5,1092.7l4.5,4.5m0,-4.5l-4.5,4.5M1279.1,1089.8l4.5,4.5m0,-4.5l-4.5,4.5M1279,1086.7l4.5,4.5m0,-4.5l-4.5,4.5M1278.8,1083.3l4.5,4.5m0,-4.5l-4.5,4.5M1276.9,1079.4l4.5,4.5m0,-4.5l-4.5,4.5M1277.7,1076.6l4.5,4.5m0,-4.5l-4.5,4.5M1277.3,1073.4l4.5,4.5m0,-4.5l-4.5,4.5M1277.1,1069.3l4.5,4.5m0,-4.5l-4.5,4.5M1276.3,1064.7l4.5,4.5m0,-4.5l-4.5,4.5M1275.6,1063l4.5,4.5m0,-4.5l-4.5,4.5M1276.3,1059.9l4.5,4.5m0,-4.5l-4.5,4.5M1274.9,1055.2l4.5,4.5m0,-4.5l-4.5,4.5M1275.8,1052.9l4.5,4.5m0,-4.5l-4.5,4.5M1274,1048.1l4.5,4.5m0,-4.5l-4.5,4.5M1275.5,1046.2l4.5,4.5m0,-4.5l-4.5,4.5M1273.5,1043.9l4.5,4.5m0,-4.5l-4.5,4.5M1274.4,1040.1l4.5,4.5m0,-4.5l-4.5,4.5M1274.8,1035.6l4.5,4.5m0,-4.5l-4.5,4.5M1273.9,1032.1l4.5,4.5m0,-4.5l-4.5,4.5M1274,1029.5l4.5,4.5m0,-4.5l-4.5,4.5M1274.2,1025.4l4.5,4.5m0,-4.5l-4.5,4.5M1272.7,1022.8l4.5,4.5m0,-4.5l-4.5,4.5M1272,1019.6l4.5,4.5m0,-4.5l-4.5,4.5M1274.1,1017.4l4.5,4.5m0,-4.5l-4.5,4.5M1494.6,1033.7l4.5,4.5m0,-4.5l-4.5,4.5M1496.6,1031.8l4.5,4.5m0,-4.5l-4.5,4.5M1499.6,1031.4l4.5,4.5m0,-4.5l-4.5,4.5M1501.6,1032l4.5,4.5m0,-4.5l-4.5,4.5M1504.6,1033.3l4.5,4.5m0,-4.5l-4.5,4.5M1509.5,1034l4.5,4.5m0,-4.5l-4.5,4.5M1511.7,1035.5l4.5,4.5m0,-4.5l-4.5,4.5M1515.2,1036l4.5,4.5m0,-4.5l-4.5,4.5M1517.5,1038.8l4.5,4.5m0,-4.5l-4.5,4.5M1519.7,1039.1l4.5,4.5m0,-4.5l-4.5,4.5M1523.6,1040.4l4.5,4.5m0,-4.5l-4.5,4.5M1527.4,1040.4l4.5,4.5m0,-4.5l-4.5,4.5M1531,1042l4.5,4.5m0,-4.5l-4.5,4.5M1533.9,1042.7l4.5,4.5m0,-4.5l-4.5,4.5M1535.4,1043.9l4.5,4.5m0,-4.5l-4.5,4.5M1538.6,1045.2l4.5,4.5m0,-4.5l-4.5,4.5M1542,1045.9l4.5,4.5m0,-4.5l-4.5,4.5M1547,1048.1l4.5,4.5m0,-4.5l-4.5,4.5M1549.4,1049.2l4.5,4.5m0,-4.5l-4.5,4.5M1553.4,1049.2l4.5,4.5m0,-4.5l-4.5,4.5M1554.8,1051.9l4.5,4.5m0,-4.5l-4.5,4.5M1557.9,1052.6l4.5,4.5m0,-4.5l-4.5,4.5M1562.7,1054.6l4.5,4.5m0,-4.5l-4.5,4.5M1564.4,1054.6l4.5,4.5m0,-4.5l-4.5,4.5M1568.4,1056.2l4.5,4.5m0,-4.5l-4.5,4.5M1571,1057.8l4.5,4.5m0,-4.5l-4.5,4.5M1576.5,1058.4l4.5,4.5m0,-4.5l-4.5,4.5M1579,1059.5l4.5,4.5m0,-4.5l-4.5,4.5M1582.6,1059.8l4.5,4.5m0,-4.5l-4.5,4.5M1585,1058.4l4.5,4.5m0,-4.5l-4.5,4.5M1588.9,1060.5l4.5,4.5m0,-4.5l-4.5,4.5M1591.9,1059.6l4.5,4.5m0,-4.5l-4.5,4.5M1595.7,1060.7l4.5,4.5m0,-4.5l-4.5,4.5M1597.3,1061.5l4.5,4.5m0,-4.5l-4.5,4.5M1600.3,1060.5l4.5,4.5m0,-4.5l-4.5,4.5M1605.1,1060.4l4.5,4.5m0,-4.5l-4.5,4.5M1608.3,1061.6l4.5,4.5m0,-4.5l-4.5,4.5M1610.7,1062.7l4.5,4.5m0,-4.5l-4.5,4.5M1614.8,1061.5l4.5,4.5m0,-4.5l-4.5,4.5M1616.1,1062.2l4.5,4.5m0,-4.5l-4.5,4.5M1619.7,1062l4.5,4.5m0,-4.5l-4.5,4.5M1622.8,1061.9l4.5,4.5m0,-4.5l-4.5,4.5M1627.3,1062.4l4.5,4.5m0,-4.5l-4.5,4.5M1630,1063.9l4.5,4.5m0,-4.5l-4.5,4.5M1633,1065.5l4.5,4.5m0,-4.5l-4.5,4.5M1638.4,1064.3l4.5,4.5m0,-4.5l-4.5,4.5M1641.6,1065.3l4.5,4.5m0,-4.5l-4.5,4.5M1644.8,1065.7l4.5,4.5m0,-4.5l-4.5,4.5M1648.3,1068.4l4.5,4.5m0,-4.5l-4.5,4.5M1650.5,1067.3l4.5,4.5m0,-4.5l-4.5,4.5M1654.1,1069.6l4.5,4.5m0,-4.5l-4.5,4.5M1658.6,1068.5l4.5,4.5m0,-4.5l-4.5,4.5M1662.3,1070.6l4.5,4.5m0,-4.5l-4.5,4.5M1662.4,1073.1l4.5,4.5m0,-4.5l-4.5,4.5M1660.5,1074.5l4.5,4.5m0,-4.5l-4.5,4.5M1657,1073.3l4.5,4.5m0,-4.5l-4.5,4.5M1655,1073.5l4.5,4.5m0,-4.5l-4.5,4.5M1651.1,1073.8l4.5,4.5m0,-4.5l-4.5,4.5M1648.5,1075.3l4.5,4.5m0,-4.5l-4.5,4.5M1645.6,1074.5l4.5,4.5m0,-4.5l-4.5,4.5M1642.7,1073.7l4.5,4.5m0,-4.5l-4.5,4.5M1639.7,1075.2l4.5,4.5m0,-4.5l-4.5,4.5M1636.5,1074.5l4.5,4.5m0,-4.5l-4.5,4.5M1632.7,1073.7l4.5,4.5m0,-4.5l-4.5,4.5M1629.3,1075.2l4.5,4.5m0,-4.5l-4.5,4.5M1627.3,1075.8l4.5,4.5m0,-4.5l-4.5,4.5M1623.8,1077.5l4.5,4.5m0,-4.5l-4.5,4.5M1623.1,1079.9l4.5,4.5m0,-4.5l-4.5,4.5M1620.1,1078.1l4.5,4.5m0,-4.5l-4.5,4.5M1618,1077l4.5,4.5m0,-4.5l-4.5,4.5M1614.6,1077.7l4.5,4.5m0,-4.5l-4.5,4.5M1613.4,1076.8l4.5,4.5m0,-4.5l-4.5,4.5M1609.8,1074.4l4.5,4.5m0,-4.5l-4.5,4.5M1607.5,1074.5l4.5,4.5m0,-4.5l-4.5,4.5M1606,1073.1l4.5,4.5m0,-4.5l-4.5,4.5M1601.4,1073l4.5,4.5m0,-4.5l-4.5,4.5M1598.1,1072.4l4.5,4.5m0,-4.5l-4.5,4.5M1595.2,1071.3l4.5,4.5m0,-4.5l-4.5,4.5M1592.8,1070.6l4.5,4.5m0,-4.5l-4.5,4.5M1588.7,1070.8l4.5,4.5m0,-4.5l-4.5,4.5M1586.9,1069.3l4.5,4.5m0,-4.5l-4.5,4.5M1582.1,1069l4.5,4.5m0,-4.5l-4.5,4.5M1578.9,1069l4.5,4.5m0,-4.5l-4.5,4.5M1576.8,1067.1l4.5,4.5m0,-4.5l-4.5,4.5M1573.2,1066.6l4.5,4.5m0,-4.5l-4.5,4.5M1569.6,1065.7l4.5,4.5m0,-4.5l-4.5,4.5M1566.3,1063.8l4.5,4.5m0,-4.5l-4.5,4.5M1563.1,1063.2l4.5,4.5m0,-4.5l-4.5,4.5M1560.2,1062.5l4.5,4.5m0,-4.5l-4.5,4.5M1556,1062.3l4.5,4.5m0,-4.5l-4.5,4.5M1552.1,1058.9l4.5,4.5m0,-4.5l-4.5,4.5M1548.7,1059.4l4.5,4.5m0,-4.5l-4.5,4.5M1545.3,1058.3l4.5,4.5m0,-4.5l-4.5,4.5M1542,1056.2l4.5,4.5m0,-4.5l-4.5,4.5M1539.9,1054.4l4.5,4.5m0,-4.5l-4.5,4.5M1536.2,1055.6l4.5,4.5m0,-4.5l-4.5,4.5M1533.7,1052.8l4.5,4.5m0,-4.5l-4.5,4.5M1531,1051.9l4.5,4.5m0,-4.5l-4.5,4.5M1527.6,1050l4.5,4.5m0,-4.5l-4.5,4.5M1523.4,1049.5l4.5,4.5m0,-4.5l-4.5,4.5M1521.2,1048.1l4.5,4.5m0,-4.5l-4.5,4.5M1516.6,1046.1l4.5,4.5m0,-4.5l-4.5,4.5M1513.8,1044.3l4.5,4.5m0,-4.5l-4.5,4.5M1510.2,1044.2l4.5,4.5m0,-4.5l-4.5,4.5M1507.1,1041.9l4.5,4.5m0,-4.5l-4.5,4.5M1503.6,1041.4l4.5,4.5m0,-4.5l-4.5,4.5M1501.9,1038.5l4.5,4.5m0,-4.5l-4.5,4.5M1499.6,1039.4l4.5,4.5m0,-4.5l-4.5,4.5M1495.9,1037.5l4.5,4.5m0,-4.5l-4.5,4.5M1495.8,1033.7l4.5,4.5m0,-4.5l-4.5,4.5M1664.7,1090.9l4.5,4.5m0,-4.5l-4.5,4.5M1666.4,1089.9l4.5,4.5m0,-4.5l-4.5,4.5M1670,1087.3l4.5,4.5m0,-4.5l-4.5,4.5M1672.7,1085l4.5,4.5m0,-4.5l-4.5,4.5M1673.8,1082.8l4.5,4.5m0,-4.5l-4.5,4.5M1676,1082.6l4.5,4.5m0,-4.5l-4.5,4.5M1678.9,1080.3l4.5,4.5m0,-4.5l-4.5,4.5M1683.1,1079.9l4.5,4.5m0,-4.5l-4.5,4.5M1685.1,1080.3l4.5,4.5m0,-4.5l-4.5,4.5M1687.7,1078.6l4.5,4.5m0,-4.5l-4.5,4.5M1692.9,1078.9l4.5,4.5m0,-4.5l-4.5,4.5M1694.8,1078.9l4.5,4.5m0,-4.5l-4.5,4.5M1699.1,1078.4l4.5,4.5m0,-4.5l-4.5,4.5M1698.9,1076.3l4.5,4.5m0,-4.5l-4.5,4.5M1700.8,1074.7l4.5,4.5m0,-4.5l-4.5,4.5M1703.7,1075.5l4.5,4.5m0,-4.5l-4.5,4.5M1707.4,1074.3l4.5,4.5m0,-4.5l-4.5,4.5M1710.4,1074.8l4.5,4.5m0,-4.5l-4.5,4.5M1713.7,1075.7l4.5,4.5m0,-4.5l-4.5,4.5M1717.9,1076.3l4.5,4.5m0,-4.5l-4.5,4.5M1720.6,1078l4.5,4.5m0,-4.5l-4.5,4.5M1722.9,1077.9l4.5,4.5m0,-4.5l-4.5,4.5M1725.8,1078l4.5,4.5m0,-4.5l-4.5,4.5M1729.6,1079.3l4.5,4.5m0,-4.5l-4.5,4.5M1730.7,1080.9l4.5,4.5m0,-4.5l-4.5,4.5M1732,1084.7l4.5,4.5m0,-4.5l-4.5,4.5M1735.2,1084.8l4.5,4.5m0,-4.5l-4.5,4.5M1739.4,1085.6l4.5,4.5m0,-4.5l-4.5,4.5M1742.4,1085.6l4.5,4.5m0,-4.5l-4.5,4.5M1745.2,1085.7l4.5,4.5m0,-4.5l-4.5,4.5M1749.4,1086l4.5,4.5m0,-4.5l-4.5,4.5M1751.4,1085.8l4.5,4.5m0,-4.5l-4.5,4.5M1754.8,1085.7l4.5,4.5m0,-4.5l-4.5,4.5M1759,1086.8l4.5,4.5m0,-4.5l-4.5,4.5M1762.7,1086.7l4.5,4.5m0,-4.5l-4.5,4.5M1765.6,1087.5l4.5,4.5m0,-4.5l-4.5,4.5M1769.2,1087.4l4.5,4.5m0,-4.5l-4.5,4.5M1773.1,1088.9l4.5,4.5m0,-4.5l-4.5,4.5M1775.5,1087.4l4.5,4.5m0,-4.5l-4.5,4.5M1779.4,1090l4.5,4.5m0,-4.5l-4.5,4.5M1782.8,1089.2l4.5,4.5m0,-4.5l-4.5,4.5M1786.5,1090.5l4.5,4.5m0,-4.5l-4.5,4.5M1789.1,1091.3l4.5,4.5m0,-4.5l-4.5,4.5M1787.2,1092.2l4.5,4.5m0,-4.5l-4.5,4.5M1789,1095.1l4.5,4.5m0,-4.5l-4.5,4.5M1785.9,1094.6l4.5,4.5m0,-4.5l-4.5,4.5M1782.6,1096.2l4.5,4.5m0,-4.5l-4.5,4.5M1777.9,1097l4.5,4.5m0,-4.5l-4.5,4.5M1774.8,1096.4l4.5,4.5m0,-4.5l-4.5,4.5M1770.6,1097.4l4.5,4.5m0,-4.5l-4.5,4.5M1767.1,1096.5l4.5,4.5m0,-4.5l-4.5,4.5M1763.6,1096.1l4.5,4.5m0,-4.5l-4.5,4.5M1760.7,1096.4l4.5,4.5m0,-4.5l-4.5,4.5M1757.8,1097.4l4.5,4.5m0,-4.5l-4.5,4.5M1753.3,1097.9l4.5,4.5m0,-4.5l-4.5,4.5M1750.5,1097.6l4.5,4.5m0,-4.5l-4.5,4.5M1747.8,1098.1l4.5,4.5m0,-4.5l-4.5,4.5M1743.2,1099.8l4.5,4.5m0,-4.5l-4.5,4.5M1742,1098.4l4.5,4.5m0,-4.5l-4.5,4.5M1737.9,1099.5l4.5,4.5m0,-4.5l-4.5,4.5M1734.3,1099.4l4.5,4.5m0,-4.5l-4.5,4.5M1731.7,1098.8l4.5,4.5m0,-4.5l-4.5,4.5M1729.6,1098.2l4.5,4.5m0,-4.5l-4.5,4.5M1725.8,1099.8l4.5,4.5m0,-4.5l-4.5,4.5M1723.8,1097.6l4.5,4.5m0,-4.5l-4.5,4.5M1721.1,1096.9l4.5,4.5m0,-4.5l-4.5,4.5M1720.1,1099.2l4.5,4.5m0,-4.5l-4.5,4.5M1719.6,1101.8l4.5,4.5m0,-4.5l-4.5,4.5M1718.9,1103.3l4.5,4.5m0,-4.5l-4.5,4.5M1720.5,1105.2l4.5,4.5m0,-4.5l-4.5,4.5M1724.1,1107.8l4.5,4.5m0,-4.5l-4.5,4.5M1725.3,1108.1l4.5,4.5m0,-4.5l-4.5,4.5M1728.1,1108.6l4.5,4.5m0,-4.5l-4.5,4.5M1730.8,1110l4.5,4.5m0,-4.5l-4.5,4.5M1731.2,1112.8l4.5,4.5m0,-4.5l-4.5,4.5M1729.5,1112.6l4.5,4.5m0,-4.5l-4.5,4.5M1726,1111l4.5,4.5m0,-4.5l-4.5,4.5M1721.9,1110.4l4.5,4.5m0,-4.5l-4.5,4.5M1718.5,1108.7l4.5,4.5m0,-4.5l-4.5,4.5M1715.5,1110.1l4.5,4.5m0,-4.5l-4.5,4.5M1714.3,1106.5l4.5,4.5m0,-4.5l-4.5,4.5M1714.1,1104.5l4.5,4.5m0,-4.5l-4.5,4.5M1713,1101.3l4.5,4.5m0,-4.5l-4.5,4.5M1711.7,1101.7l4.5,4.5m0,-4.5l-4.5,4.5M1707.4,1103.2l4.5,4.5m0,-4.5l-4.5,4.5M1704.1,1103.8l4.5,4.5m0,-4.5l-4.5,4.5M1703.1,1104.1l4.5,4.5m0,-4.5l-4.5,4.5M1702.7,1106.3l4.5,4.5m0,-4.5l-4.5,4.5M1701.7,1110l4.5,4.5m0,-4.5l-4.5,4.5M1699.4,1108.1l4.5,4.5m0,-4.5l-4.5,4.5M1697.8,1106.2l4.5,4.5m0,-4.5l-4.5,4.5M1694.9,1103.9l4.5,4.5m0,-4.5l-4.5,4.5M1691.5,1104.1l4.5,4.5m0,-4.5l-4.5,4.5M1689,1101.9l4.5,4.5m0,-4.5l-4.5,4.5M1687.2,1101.8l4.5,4.5m0,-4.5l-4.5,4.5M1682,1100.4l4.5,4.5m0,-4.5l-4.5,4.5M1679.9,1099.9l4.5,4.5m0,-4.5l-4.5,4.5M1676.4,1098.4l4.5,4.5m0,-4.5l-4.5,4.5M1675.1,1098.6l4.5,4.5m0,-4.5l-4.5,4.5M1671.2,1098.1l4.5,4.5m0,-4.5l-4.5,4.5M1668.8,1096.3l4.5,4.5m0,-4.5l-4.5,4.5M1665.9,1096.3l4.5,4.5m0,-4.5l-4.5,4.5M1664.4,1093.5l4.5,4.5m0,-4.5l-4.5,4.5M1235.5,1295.6l4.5,4.5m0,-4.5l-4.5,4.5M1234.8,1291.6l4.5,4.5m0,-4.5l-4.5,4.5M1233.7,1288.1l4.5,4.5m0,-4.5l-4.5,4.5M1233.4,1285.3l4.5,4.5m0,-4.5l-4.5,4.5M1232,1283.2l4.5,4.5m0,-4.5l-4.5,4.5M1231.8,1277.7l4.5,4.5m0,-4.5l-4.5,4.5M1232,1274.7l4.5,4.5m0,-4.5l-4.5,4.5M1230.3,1272.4l4.5,4.5m0,-4.5l-4.5,4.5M1229.6,1269.2l4.5,4.5m0,-4.5l-4.5,4.5M1229.6,1266.2l4.5,4.5m0,-4.5l-4.5,4.5M1229.6,1263.4l4.5,4.5m0,-4.5l-4.5,4.5M1227.7,1259.1l4.5,4.5m0,-4.5l-4.5,4.5M1227.4,1256l4.5,4.5m0,-4.5l-4.5,4.5M1227.8,1253.9l4.5,4.5m0,-4.5l-4.5,4.5M1226.3,1250.5l4.5,4.5m0,-4.5l-4.5,4.5M1226.3,1247l4.5,4.5m0,-4.5l-4.5,4.5M1227.5,1244.3l4.5,4.5m0,-4.5l-4.5,4.5M1226.4,1238.7l4.5,4.5m0,-4.5l-4.5,4.5M1225.5,1236.5l4.5,4.5m0,-4.5l-4.5,4.5M1226.2,1234.6l4.5,4.5m0,-4.5l-4.5,4.5M1226.5,1229.3l4.5,4.5m0,-4.5l-4.5,4.5M1224.5,1227.5l4.5,4.5m0,-4.5l-4.5,4.5M1224.5,1224.2l4.5,4.5m0,-4.5l-4.5,4.5M1225,1221l4.5,4.5m0,-4.5l-4.5,4.5M1224.4,1218.7l4.5,4.5m0,-4.5l-4.5,4.5M1224.5,1214.3l4.5,4.5m0,-4.5l-4.5,4.5M1224.5,1211l4.5,4.5m0,-4.5l-4.5,4.5M1224.7,1208.7l4.5,4.5m0,-4.5l-4.5,4.5M1224.7,1204.6l4.5,4.5m0,-4.5l-4.5,4.5M1226.9,1202.9l4.5,4.5m0,-4.5l-4.5,4.5M1226.1,1199.5l4.5,4.5m0,-4.5l-4.5,4.5M1227.5,1196.1l4.5,4.5m0,-4.5l-4.5,4.5M1226.6,1193.1l4.5,4.5m0,-4.5l-4.5,4.5M1225.5,1188.8l4.5,4.5m0,-4.5l-4.5,4.5M1224.9,1185.2l4.5,4.5m0,-4.5l-4.5,4.5M1225.1,1182.7l4.5,4.5m0,-4.5l-4.5,4.5M1223.9,1178.3l4.5,4.5m0,-4.5l-4.5,4.5M1223,1175.3l4.5,4.5m0,-4.5l-4.5,4.5M1222.9,1173l4.5,4.5m0,-4.5l-4.5,4.5M1223.5,1169.7l4.5,4.5m0,-4.5l-4.5,4.5M1222.1,1166.3l4.5,4.5m0,-4.5l-4.5,4.5M1219.7,1164l4.5,4.5m0,-4.5l-4.5,4.5M1220.4,1159.4l4.5,4.5m0,-4.5l-4.5,4.5M1218.3,1157.6l4.5,4.5m0,-4.5l-4.5,4.5M1218.2,1153.2l4.5,4.5m0,-4.5l-4.5,4.5M1216.5,1150.6l4.5,4.5m0,-4.5l-4.5,4.5M1215.9,1148.5l4.5,4.5m0,-4.5l-4.5,4.5M1215.3,1144.1l4.5,4.5m0,-4.5l-4.5,4.5M1217.7,1140.3l4.5,4.5m0,-4.5l-4.5,4.5M1216.3,1138.4l4.5,4.5m0,-4.5l-4.5,4.5M1217.8,1134.4l4.5,4.5m0,-4.5l-4.5,4.5M1217.9,1130l4.5,4.5m0,-4.5l-4.5,4.5M1218.8,1127.2l4.5,4.5m0,-4.5l-4.5,4.5M1218.7,1125.4l4.5,4.5m0,-4.5l-4.5,4.5M1219.3,1120.8l4.5,4.5m0,-4.5l-4.5,4.5M1219.4,1117.2l4.5,4.5m0,-4.5l-4.5,4.5M1221.8,1115.5l4.5,4.5m0,-4.5l-4.5,4.5M1222.4,1111l4.5,4.5m0,-4.5l-4.5,4.5M1224.8,1108.6l4.5,4.5m0,-4.5l-4.5,4.5M1227.1,1105.8l4.5,4.5m0,-4.5l-4.5,4.5M1228.6,1103.8l4.5,4.5m0,-4.5l-4.5,4.5M1231.6,1100.7l4.5,4.5m0,-4.5l-4.5,4.5M1231.6,1097.9l4.5,4.5m0,-4.5l-4.5,4.5M1234.4,1094.9l4.5,4.5m0,-4.5l-4.5,4.5M1235.1,1093.3l4.5,4.5m0,-4.5l-4.5,4.5M1238.1,1089.2l4.5,4.5m0,-4.5l-4.5,4.5M1241.1,1086.9l4.5,4.5m0,-4.5l-4.5,4.5M1242,1085.4l4.5,4.5m0,-4.5l-4.5,4.5M1244.6,1083.4l4.5,4.5m0,-4.5l-4.5,4.5M1246.2,1080.6l4.5,4.5m0,-4.5l-4.5,4.5M1248.5,1076.8l4.5,4.5m0,-4.5l-4.5,4.5M1252,1075.9l4.5,4.5m0,-4.5l-4.5,4.5M1252.8,1071.6l4.5,4.5m0,-4.5l-4.5,4.5M1255.5,1071.7l4.5,4.5m0,-4.5l-4.5,4.5M1257.6,1071.3l4.5,4.5m0,-4.5l-4.5,4.5M1260.1,1069.6l4.5,4.5m0,-4.5l-4.5,4.5M1264.5,1067.5l4.5,4.5m0,-4.5l-4.5,4.5M1266.2,1069.5l4.5,4.5m0,-4.5l-4.5,4.5M1267.7,1072.9l4.5,4.5m0,-4.5l-4.5,4.5M1269.6,1076l4.5,4.5m0,-4.5l-4.5,4.5M1271.1,1078.6l4.5,4.5m0,-4.5l-4.5,4.5M1271.5,1079.1l4.5,4.5m0,-4.5l-4.5,4.5M1273,1083.3l4.5,4.5m0,-4.5l-4.5,4.5M1274.5,1085.9l4.5,4.5m0,-4.5l-4.5,4.5M1275.2,1087.9l4.5,4.5m0,-4.5l-4.5,4.5M1277,1092.3l4.5,4.5m0,-4.5l-4.5,4.5M1277,1095.2l4.5,4.5m0,-4.5l-4.5,4.5M1278.4,1098.3l4.5,4.5m0,-4.5l-4.5,4.5M1278.3,1102.2l4.5,4.5m0,-4.5l-4.5,4.5M1278.2,1105.4l4.5,4.5m0,-4.5l-4.5,4.5M1280,1107.3l4.5,4.5m0,-4.5l-4.5,4.5M1278.8,1111.2l4.5,4.5m0,-4.5l-4.5,4.5M1279,1113.4l4.5,4.5m0,-4.5l-4.5,4.5M1280.2,1118.7l4.5,4.5m0,-4.5l-4.5,4.5M1280.2,1122.1l4.5,4.5m0,-4.5l-4.5,4.5M1278.9,1125.9l4.5,4.5m0,-4.5l-4.5,4.5M1278.4,1127.8l4.5,4.5m0,-4.5l-4.5,4.5M1278.8,1132.2l4.5,4.5m0,-4.5l-4.5,4.5M1277.8,1134.2l4.5,4.5m0,-4.5l-4.5,4.5M1279.7,1137.5l4.5,4.5m0,-4.5l-4.5,4.5M1279.1,1142.1l4.5,4.5m0,-4.5l-4.5,4.5M1279.5,1146.4l4.5,4.5m0,-4.5l-4.5,4.5M1278.2,1149.1l4.5,4.5m0,-4.5l-4.5,4.5M1278.6,1151.9l4.5,4.5m0,-4.5l-4.5,4.5M1276.8,1157.1l4.5,4.5m0,-4.5l-4.5,4.5M1278,1160l4.5,4.5m0,-4.5l-4.5,4.5M1277.8,1161.7l4.5,4.5m0,-4.5l-4.5,4.5M1276.5,1165.1l4.5,4.5m0,-4.5l-4.5,4.5M1278.2,1169.5l4.5,4.5m0,-4.5l-4.5,4.5M1276.3,1171.6l4.5,4.5m0,-4.5l-4.5,4.5M1277.5,1174.8l4.5,4.5m0,-4.5l-4.5,4.5M1275.6,1177.8l4.5,4.5m0,-4.5l-4.5,4.5M1275,1180.9l4.5,4.5m0,-4.5l-4.5,4.5M1272.5,1182.7l4.5,4.5m0,-4.5l-4.5,4.5M1270.3,1183.4l4.5,4.5m0,-4.5l-4.5,4.5M1269.6,1186.5l4.5,4.5m0,-4.5l-4.5,4.5M1265.9,1188.1l4.5,4.5m0,-4.5l-4.5,4.5M1266.2,1191l4.5,4.5m0,-4.5l-4.5,4.5M1263.3,1194.2l4.5,4.5m0,-4.5l-4.5,4.5M1263.3,1197.4l4.5,4.5m0,-4.5l-4.5,4.5M1260.8,1200.4l4.5,4.5m0,-4.5l-4.5,4.5M1259,1204.1l4.5,4.5m0,-4.5l-4.5,4.5M1257.4,1205.3l4.5,4.5m0,-4.5l-4.5,4.5M1256.4,1209.7l4.5,4.5m0,-4.5l-4.5,4.5M1255.6,1212.3l4.5,4.5m0,-4.5l-4.5,4.5M1252.3,1215.5l4.5,4.5m0,-4.5l-4.5,4.5M1253,1216.9l4.5,4.5m0,-4.5l-4.5,4.5M1250.6,1220.5l4.5,4.5m0,-4.5l-4.5,4.5M1249.8,1223.7l4.5,4.5m0,-4.5l-4.5,4.5M1250,1228.5l4.5,4.5m0,-4.5l-4.5,4.5M1249.2,1231.5l4.5,4.5m0,-4.5l-4.5,4.5M1249.1,1235.6l4.5,4.5m0,-4.5l-4.5,4.5M1249.1,1238.7l4.5,4.5m0,-4.5l-4.5,4.5M1247.3,1240.6l4.5,4.5m0,-4.5l-4.5,4.5M1246.1,1244.3l4.5,4.5m0,-4.5l-4.5,4.5M1247,1249l4.5,4.5m0,-4.5l-4.5,4.5M1244.3,1251.5l4.5,4.5m0,-4.5l-4.5,4.5M1244.3,1255.6l4.5,4.5m0,-4.5l-4.5,4.5M1245,1258.3l4.5,4.5m0,-4.5l-4.5,4.5M1243.6,1261.9l4.5,4.5m0,-4.5l-4.5,4.5M1243.2,1265.4l4.5,4.5m0,-4.5l-4.5,4.5M1242,1268.9l4.5,4.5m0,-4.5l-4.5,4.5M1241,1272.5l4.5,4.5m0,-4.5l-4.5,4.5M1239.4,1275.1l4.5,4.5m0,-4.5l-4.5,4.5M1239,1279l4.5,4.5m0,-4.5l-4.5,4.5M1238.1,1281.4l4.5,4.5m0,-4.5l-4.5,4.5M1237,1285l4.5,4.5m0,-4.5l-4.5,4.5M1235.8,1287.8l4.5,4.5m0,-4.5l-4.5,4.5M1234.2,1290.4l4.5,4.5m0,-4.5l-4.5,4.5" stroke="#2a58a8" stroke-width="1.5" fill="none"/>
<path d="M1192.4,1101.9l4.6,4.6m0,-4.6l-4.6,4.6M1208.6,1125.2l4.6,4.6m0,-4.6l-4.6,4.6M1166.7,1152.2l4.6,4.6m0,-4.6l-4.6,4.6M1168.1,1128.6l4.6,4.6m0,-4.6l-4.6,4.6M1198.2,1104.8l4.6,4.6m0,-4.6l-4.6,4.6M1253,1074.6l4.6,4.6m0,-4.6l-4.6,4.6M1230.3,1099.9l4.6,4.6m0,-4.6l-4.6,4.6M1247.6,1085.6l4.6,4.6m0,-4.6l-4.6,4.6M1235.5,1125.5l4.6,4.6m0,-4.6l-4.6,4.6M1183.2,1138.9l4.6,4.6m0,-4.6l-4.6,4.6M1247.8,1112.9l4.6,4.6m0,-4.6l-4.6,4.6M1244.9,1028.7l4.6,4.6m0,-4.6l-4.6,4.6M1227,1139l4.6,4.6m0,-4.6l-4.6,4.6M1242.2,1088.8l4.6,4.6m0,-4.6l-4.6,4.6M1213.1,1097.2l4.6,4.6m0,-4.6l-4.6,4.6M1194.6,1122.4l4.6,4.6m0,-4.6l-4.6,4.6M1220.7,1178.2l4.6,4.6m0,-4.6l-4.6,4.6M1253.4,1044.9l4.6,4.6m0,-4.6l-4.6,4.6M1231.4,1141.7l4.6,4.6m0,-4.6l-4.6,4.6M1257,1086.5l4.6,4.6m0,-4.6l-4.6,4.6M1210.7,1133.5l4.6,4.6m0,-4.6l-4.6,4.6M1214,1159l4.6,4.6m0,-4.6l-4.6,4.6M1178.2,1155.1l4.6,4.6m0,-4.6l-4.6,4.6M1231.3,1135.2l4.6,4.6m0,-4.6l-4.6,4.6M1252.7,1064.6l4.6,4.6m0,-4.6l-4.6,4.6M1175.9,1106l4.6,4.6m0,-4.6l-4.6,4.6M1207,1106.5l4.6,4.6m0,-4.6l-4.6,4.6M1178.8,1120.6l4.6,4.6m0,-4.6l-4.6,4.6M1198.8,1098.1l4.6,4.6m0,-4.6l-4.6,4.6M1247.2,1112.6l4.6,4.6m0,-4.6l-4.6,4.6M1234.4,1065.3l4.6,4.6m0,-4.6l-4.6,4.6M1229,1118.8l4.6,4.6m0,-4.6l-4.6,4.6M1249.5,1115.4l4.6,4.6m0,-4.6l-4.6,4.6M1243.9,1074.1l4.6,4.6m0,-4.6l-4.6,4.6M1188.2,1182.9l4.6,4.6m0,-4.6l-4.6,4.6M1219.2,1094.2l4.6,4.6m0,-4.6l-4.6,4.6M1256,1128.2l4.6,4.6m0,-4.6l-4.6,4.6M1166.8,1162.5l4.6,4.6m0,-4.6l-4.6,4.6M1251.5,1113.3l4.6,4.6m0,-4.6l-4.6,4.6M1253.7,1099.2l4.6,4.6m0,-4.6l-4.6,4.6M1171.3,1158.8l4.6,4.6m0,-4.6l-4.6,4.6M1213.3,1141.5l4.6,4.6m0,-4.6l-4.6,4.6M1240,1049.6l4.6,4.6m0,-4.6l-4.6,4.6M1204.4,1109l4.6,4.6m0,-4.6l-4.6,4.6M1239.3,1085.1l4.6,4.6m0,-4.6l-4.6,4.6M1184.5,1140.5l4.6,4.6m0,-4.6l-4.6,4.6M1232.1,1085.5l4.6,4.6m0,-4.6l-4.6,4.6M1262.1,1090.8l4.6,4.6m0,-4.6l-4.6,4.6M1197.1,1179.4l4.6,4.6m0,-4.6l-4.6,4.6M1259.5,1111l4.6,4.6m0,-4.6l-4.6,4.6M1248.6,1089.7l4.6,4.6m0,-4.6l-4.6,4.6M1194.4,1156l4.6,4.6m0,-4.6l-4.6,4.6M1189.4,1127l4.6,4.6m0,-4.6l-4.6,4.6M1205.9,1102.1l4.6,4.6m0,-4.6l-4.6,4.6M1192.7,1127l4.6,4.6m0,-4.6l-4.6,4.6M1211.4,1113l4.6,4.6m0,-4.6l-4.6,4.6M1187.2,1152.3l4.6,4.6m0,-4.6l-4.6,4.6M1204.1,1167.4l4.6,4.6m0,-4.6l-4.6,4.6M1249.3,1013.9l4.6,4.6m0,-4.6l-4.6,4.6M1219.1,1077.8l4.6,4.6m0,-4.6l-4.6,4.6M1248.7,1131.4l4.6,4.6m0,-4.6l-4.6,4.6M1256.9,1048.4l4.6,4.6m0,-4.6l-4.6,4.6M1230.7,1133.1l4.6,4.6m0,-4.6l-4.6,4.6M1253.9,1123.2l4.6,4.6m0,-4.6l-4.6,4.6M1248.9,1000.7l4.6,4.6m0,-4.6l-4.6,4.6M1235.3,1078.4l4.6,4.6m0,-4.6l-4.6,4.6M1199.8,1188.4l4.6,4.6m0,-4.6l-4.6,4.6M1200.7,1133.9l4.6,4.6m0,-4.6l-4.6,4.6M1204.7,1129.8l4.6,4.6m0,-4.6l-4.6,4.6M1217,1080.6l4.6,4.6m0,-4.6l-4.6,4.6M1206.1,1161.5l4.6,4.6m0,-4.6l-4.6,4.6M1194.6,1142.5l4.6,4.6m0,-4.6l-4.6,4.6M1256.2,1066.2l4.6,4.6m0,-4.6l-4.6,4.6M1204.3,1161.6l4.6,4.6m0,-4.6l-4.6,4.6M1190.1,1149.5l4.6,4.6m0,-4.6l-4.6,4.6M1176.2,1181.6l4.6,4.6m0,-4.6l-4.6,4.6M1240.1,1038.2l4.6,4.6m0,-4.6l-4.6,4.6M1233.3,1146.8l4.6,4.6m0,-4.6l-4.6,4.6M1234.4,1074.6l4.6,4.6m0,-4.6l-4.6,4.6M1225.1,1120l4.6,4.6m0,-4.6l-4.6,4.6M1231.7,1118.2l4.6,4.6m0,-4.6l-4.6,4.6M1231.3,1126.6l4.6,4.6m0,-4.6l-4.6,4.6M1219.5,1131.2l4.6,4.6m0,-4.6l-4.6,4.6M1245.5,1133.8l4.6,4.6m0,-4.6l-4.6,4.6M1240.5,1085.8l4.6,4.6m0,-4.6l-4.6,4.6M1173.7,1121.9l4.6,4.6m0,-4.6l-4.6,4.6M1255.5,1045.1l4.6,4.6m0,-4.6l-4.6,4.6M1226.4,1169.7l4.6,4.6m0,-4.6l-4.6,4.6M1211.9,1179.2l4.6,4.6m0,-4.6l-4.6,4.6M1172.2,1149.6l4.6,4.6m0,-4.6l-4.6,4.6M1252.5,1118.6l4.6,4.6m0,-4.6l-4.6,4.6M1239.9,1101.7l4.6,4.6m0,-4.6l-4.6,4.6M1235.6,1125.9l4.6,4.6m0,-4.6l-4.6,4.6M1190.1,1103.1l4.6,4.6m0,-4.6l-4.6,4.6M1237.8,1110.5l4.6,4.6m0,-4.6l-4.6,4.6M1231.8,1102.3l4.6,4.6m0,-4.6l-4.6,4.6M1251.2,1000.9l4.6,4.6m0,-4.6l-4.6,4.6M1230,1115.5l4.6,4.6m0,-4.6l-4.6,4.6M1174,1150.5l4.6,4.6m0,-4.6l-4.6,4.6M1228.2,1066.3l4.6,4.6m0,-4.6l-4.6,4.6M1207.8,1178.3l4.6,4.6m0,-4.6l-4.6,4.6M1255.9,1055l4.6,4.6m0,-4.6l-4.6,4.6M1187.8,1120l4.6,4.6m0,-4.6l-4.6,4.6M1204.9,1082.7l4.6,4.6m0,-4.6l-4.6,4.6M1241.4,1107.8l4.6,4.6m0,-4.6l-4.6,4.6M1174,1150.1l4.6,4.6m0,-4.6l-4.6,4.6M1204.2,1169.8l4.6,4.6m0,-4.6l-4.6,4.6M1247.6,1009.2l4.6,4.6m0,-4.6l-4.6,4.6M1212.1,1170.3l4.6,4.6m0,-4.6l-4.6,4.6M1234.4,1090.8l4.6,4.6m0,-4.6l-4.6,4.6M1168.9,1170.8l4.6,4.6m0,-4.6l-4.6,4.6M1195.6,1148.1l4.6,4.6m0,-4.6l-4.6,4.6M1234.5,1082.6l4.6,4.6m0,-4.6l-4.6,4.6M1206,1180.7l4.6,4.6m0,-4.6l-4.6,4.6M1252.7,1118.5l4.6,4.6m0,-4.6l-4.6,4.6M1234.8,1132.3l4.6,4.6m0,-4.6l-4.6,4.6M1218.1,1080.9l4.6,4.6m0,-4.6l-4.6,4.6M1230.7,1098.3l4.6,4.6m0,-4.6l-4.6,4.6M1232.2,1068.7l4.6,4.6m0,-4.6l-4.6,4.6M1214.2,1179.1l4.6,4.6m0,-4.6l-4.6,4.6M1242.3,1112.5l4.6,4.6m0,-4.6l-4.6,4.6M1237,1088.2l4.6,4.6m0,-4.6l-4.6,4.6M1211.5,1126.4l4.6,4.6m0,-4.6l-4.6,4.6M1230.3,1066.8l4.6,4.6m0,-4.6l-4.6,4.6M1254.4,1125.7l4.6,4.6m0,-4.6l-4.6,4.6M1253.2,1041.9l4.6,4.6m0,-4.6l-4.6,4.6M1200.8,1132.5l4.6,4.6m0,-4.6l-4.6,4.6M1194.4,1112.3l4.6,4.6m0,-4.6l-4.6,4.6M1226.2,1164.7l4.6,4.6m0,-4.6l-4.6,4.6M1187.5,1160.1l4.6,4.6m0,-4.6l-4.6,4.6M1216.6,1144.3l4.6,4.6m0,-4.6l-4.6,4.6M1242.5,1115.6l4.6,4.6m0,-4.6l-4.6,4.6M1248,1093.5l4.6,4.6m0,-4.6l-4.6,4.6M1182.2,1175.1l4.6,4.6m0,-4.6l-4.6,4.6M1259.2,1108l4.6,4.6m0,-4.6l-4.6,4.6M1256.3,1120l4.6,4.6m0,-4.6l-4.6,4.6M1219.6,1162.5l4.6,4.6m0,-4.6l-4.6,4.6M1184.5,1145.5l4.6,4.6m0,-4.6l-4.6,4.6M1218.1,1094.2l4.6,4.6m0,-4.6l-4.6,4.6M1240.3,1131.4l4.6,4.6m0,-4.6l-4.6,4.6M1201.9,1149.9l4.6,4.6m0,-4.6l-4.6,4.6M1187.4,1115.2l4.6,4.6m0,-4.6l-4.6,4.6M1207.8,1147l4.6,4.6m0,-4.6l-4.6,4.6M1202.7,1166.4l4.6,4.6m0,-4.6l-4.6,4.6M1243.6,1044.6l4.6,4.6m0,-4.6l-4.6,4.6M1248,1080.9l4.6,4.6m0,-4.6l-4.6,4.6M1203.1,1115l4.6,4.6m0,-4.6l-4.6,4.6M1188.4,1115.9l4.6,4.6m0,-4.6l-4.6,4.6M1226.5,1125.6l4.6,4.6m0,-4.6l-4.6,4.6M1225.1,1125.8l4.6,4.6m0,-4.6l-4.6,4.6M1252.3,1048l4.6,4.6m0,-4.6l-4.6,4.6M1217.1,1087l4.6,4.6m0,-4.6l-4.6,4.6M1195.7,1092l4.6,4.6m0,-4.6l-4.6,4.6M1208.6,1186.5l4.6,4.6m0,-4.6l-4.6,4.6M1203,1166.6l4.6,4.6m0,-4.6l-4.6,4.6M1190.5,1185l4.6,4.6m0,-4.6l-4.6,4.6M1216.7,1117.7l4.6,4.6m0,-4.6l-4.6,4.6M1232.6,1098.7l4.6,4.6m0,-4.6l-4.6,4.6M1214.3,1114.5l4.6,4.6m0,-4.6l-4.6,4.6M1245.9,1035.1l4.6,4.6m0,-4.6l-4.6,4.6M1245.2,1082.1l4.6,4.6m0,-4.6l-4.6,4.6M1191,1098.1l4.6,4.6m0,-4.6l-4.6,4.6M1175.1,1153.1l4.6,4.6m0,-4.6l-4.6,4.6M1205.3,1176.1l4.6,4.6m0,-4.6l-4.6,4.6M1253.4,1092.7l4.6,4.6m0,-4.6l-4.6,4.6M1240.2,1112l4.6,4.6m0,-4.6l-4.6,4.6M1256,1110.1l4.6,4.6m0,-4.6l-4.6,4.6M1170.2,1176l4.6,4.6m0,-4.6l-4.6,4.6M1195.8,1135.2l4.6,4.6m0,-4.6l-4.6,4.6M1181.4,1130.6l4.6,4.6m0,-4.6l-4.6,4.6M1203,1121.5l4.6,4.6m0,-4.6l-4.6,4.6M1250.3,1015.9l4.6,4.6m0,-4.6l-4.6,4.6M1241.4,1143.6l4.6,4.6m0,-4.6l-4.6,4.6M1220.2,1093.7l4.6,4.6m0,-4.6l-4.6,4.6M1262,1087.9l4.6,4.6m0,-4.6l-4.6,4.6M1251.4,1022.1l4.6,4.6m0,-4.6l-4.6,4.6M1223,1183.5l4.6,4.6m0,-4.6l-4.6,4.6M1218.4,1111.3l4.6,4.6m0,-4.6l-4.6,4.6M1228,1157.2l4.6,4.6m0,-4.6l-4.6,4.6M1231.3,1071.8l4.6,4.6m0,-4.6l-4.6,4.6M1209.3,1082.9l4.6,4.6m0,-4.6l-4.6,4.6M1241.9,1033.8l4.6,4.6m0,-4.6l-4.6,4.6M1218.6,1137.1l4.6,4.6m0,-4.6l-4.6,4.6M1182.9,1107.8l4.6,4.6m0,-4.6l-4.6,4.6M1178,1171.7l4.6,4.6m0,-4.6l-4.6,4.6M1201.8,1085.7l4.6,4.6m0,-4.6l-4.6,4.6M1247.3,1004.3l4.6,4.6m0,-4.6l-4.6,4.6M1248,1067.8l4.6,4.6m0,-4.6l-4.6,4.6M1246.5,1036.9l4.6,4.6m0,-4.6l-4.6,4.6M1185.4,1167.5l4.6,4.6m0,-4.6l-4.6,4.6M1178.1,1165l4.6,4.6m0,-4.6l-4.6,4.6M1177.9,1181.8l4.6,4.6m0,-4.6l-4.6,4.6M1236.3,1064.9l4.6,4.6m0,-4.6l-4.6,4.6M1237.4,1079.5l4.6,4.6m0,-4.6l-4.6,4.6M1199.4,1179.8l4.6,4.6m0,-4.6l-4.6,4.6M1195.9,1157.1l4.6,4.6m0,-4.6l-4.6,4.6M1260.9,1082.7l4.6,4.6m0,-4.6l-4.6,4.6M1249.2,1062.4l4.6,4.6m0,-4.6l-4.6,4.6M1169.1,1142.7l4.6,4.6m0,-4.6l-4.6,4.6M1197.1,1175.5l4.6,4.6m0,-4.6l-4.6,4.6M1253.2,1009.6l4.6,4.6m0,-4.6l-4.6,4.6M1257.7,1109.2l4.6,4.6m0,-4.6l-4.6,4.6M1221.7,1081.1l4.6,4.6m0,-4.6l-4.6,4.6M1212.3,1115l4.6,4.6m0,-4.6l-4.6,4.6M1225.8,1068.3l4.6,4.6m0,-4.6l-4.6,4.6M1211.5,1107.8l4.6,4.6m0,-4.6l-4.6,4.6M1243.3,1105.1l4.6,4.6m0,-4.6l-4.6,4.6M1247,1129.6l4.6,4.6m0,-4.6l-4.6,4.6M1252.9,1129.6l4.6,4.6m0,-4.6l-4.6,4.6M1256.6,1126l4.6,4.6m0,-4.6l-4.6,4.6M1246.3,1069.8l4.6,4.6m0,-4.6l-4.6,4.6M1246.7,1095.8l4.6,4.6m0,-4.6l-4.6,4.6M1205.3,1139.8l4.6,4.6m0,-4.6l-4.6,4.6M1228.5,1085.1l4.6,4.6m0,-4.6l-4.6,4.6M1231.1,1081.9l4.6,4.6m0,-4.6l-4.6,4.6M1231.4,1125.2l4.6,4.6m0,-4.6l-4.6,4.6M1225.3,1145.2l4.6,4.6m0,-4.6l-4.6,4.6M1197,1122.5l4.6,4.6m0,-4.6l-4.6,4.6M1192.3,1119.1l4.6,4.6m0,-4.6l-4.6,4.6M1219.4,1077.8l4.6,4.6m0,-4.6l-4.6,4.6M1255.6,1092.7l4.6,4.6m0,-4.6l-4.6,4.6M1228.7,1130.7l4.6,4.6m0,-4.6l-4.6,4.6M1222,1103.9l4.6,4.6m0,-4.6l-4.6,4.6M1231.9,1094.3l4.6,4.6m0,-4.6l-4.6,4.6M1211.3,1097.3l4.6,4.6m0,-4.6l-4.6,4.6M1257.3,1047.2l4.6,4.6m0,-4.6l-4.6,4.6M1246.9,1034.5l4.6,4.6m0,-4.6l-4.6,4.6M1239.6,1053.7l4.6,4.6m0,-4.6l-4.6,4.6M1222.7,1167.5l4.6,4.6m0,-4.6l-4.6,4.6M1249.4,1065.3l4.6,4.6m0,-4.6l-4.6,4.6M1198.4,1121.5l4.6,4.6m0,-4.6l-4.6,4.6M1203.6,1083.1l4.6,4.6m0,-4.6l-4.6,4.6M1188.5,1170.2l4.6,4.6m0,-4.6l-4.6,4.6M1212.9,1110.2l4.6,4.6m0,-4.6l-4.6,4.6M1247.6,1106.5l4.6,4.6m0,-4.6l-4.6,4.6M1254.4,1068l4.6,4.6m0,-4.6l-4.6,4.6M1174.7,1147.7l4.6,4.6m0,-4.6l-4.6,4.6M1230.9,1082.3l4.6,4.6m0,-4.6l-4.6,4.6M1206.8,1152.6l4.6,4.6m0,-4.6l-4.6,4.6M1228.5,1134.9l4.6,4.6m0,-4.6l-4.6,4.6M1228.5,1096.8l4.6,4.6m0,-4.6l-4.6,4.6M1245.6,1121.5l4.6,4.6m0,-4.6l-4.6,4.6M1215.7,1109.8l4.6,4.6m0,-4.6l-4.6,4.6M1249.4,1104.2l4.6,4.6m0,-4.6l-4.6,4.6M1190.9,1090.6l4.6,4.6m0,-4.6l-4.6,4.6M1166.3,1151.2l4.6,4.6m0,-4.6l-4.6,4.6M1235.2,1073.5l4.6,4.6m0,-4.6l-4.6,4.6M1242.2,1094.6l4.6,4.6m0,-4.6l-4.6,4.6M1192.9,1187.8l4.6,4.6m0,-4.6l-4.6,4.6M1223.1,1071.1l4.6,4.6m0,-4.6l-4.6,4.6M1251.9,1062.4l4.6,4.6m0,-4.6l-4.6,4.6M1206.2,1082.9l4.6,4.6m0,-4.6l-4.6,4.6M1208.2,1098.5l4.6,4.6m0,-4.6l-4.6,4.6M1215.8,1115.6l4.6,4.6m0,-4.6l-4.6,4.6M1215,1098.8l4.6,4.6m0,-4.6l-4.6,4.6M1244.1,1058.5l4.6,4.6m0,-4.6l-4.6,4.6M1197,1129.1l4.6,4.6m0,-4.6l-4.6,4.6M1192.3,1154l4.6,4.6m0,-4.6l-4.6,4.6M1214.8,1177.5l4.6,4.6m0,-4.6l-4.6,4.6M1207.2,1093.7l4.6,4.6m0,-4.6l-4.6,4.6M1252.5,1057.3l4.6,4.6m0,-4.6l-4.6,4.6M1243.6,1087.4l4.6,4.6m0,-4.6l-4.6,4.6M1203.4,1092.6l4.6,4.6m0,-4.6l-4.6,4.6M1180,1102l4.6,4.6m0,-4.6l-4.6,4.6M1201.6,1152.3l4.6,4.6m0,-4.6l-4.6,4.6M1257.8,1105.1l4.6,4.6m0,-4.6l-4.6,4.6M1261.5,1074.2l4.6,4.6m0,-4.6l-4.6,4.6M1255,1053.5l4.6,4.6m0,-4.6l-4.6,4.6M1202.5,1144.3l4.6,4.6m0,-4.6l-4.6,4.6M1260.1,1107.2l4.6,4.6m0,-4.6l-4.6,4.6M1176,1171.2l4.6,4.6m0,-4.6l-4.6,4.6M1206.4,1173.4l4.6,4.6m0,-4.6l-4.6,4.6M1257.5,1104.5l4.6,4.6m0,-4.6l-4.6,4.6M1210,1165.1l4.6,4.6m0,-4.6l-4.6,4.6M1208.1,1141.2l4.6,4.6m0,-4.6l-4.6,4.6M1225.5,1074.6l4.6,4.6m0,-4.6l-4.6,4.6M1223.9,1116.7l4.6,4.6m0,-4.6l-4.6,4.6M1211.9,1185.8l4.6,4.6m0,-4.6l-4.6,4.6M1168.6,1148.5l4.6,4.6m0,-4.6l-4.6,4.6M1244.4,1084.4l4.6,4.6m0,-4.6l-4.6,4.6M1241.2,1109.3l4.6,4.6m0,-4.6l-4.6,4.6M1205.4,1107.8l4.6,4.6m0,-4.6l-4.6,4.6M1244.3,1120.9l4.6,4.6m0,-4.6l-4.6,4.6M1231.4,1140l4.6,4.6m0,-4.6l-4.6,4.6M1217.4,1088.4l4.6,4.6m0,-4.6l-4.6,4.6M1230.5,1063l4.6,4.6m0,-4.6l-4.6,4.6M1228.2,1124.8l4.6,4.6m0,-4.6l-4.6,4.6M1177.7,1170.8l4.6,4.6m0,-4.6l-4.6,4.6M1241.3,1085.1l4.6,4.6m0,-4.6l-4.6,4.6M1219.2,1082.1l4.6,4.6m0,-4.6l-4.6,4.6M1198.4,1142.4l4.6,4.6m0,-4.6l-4.6,4.6M1188.9,1185.6l4.6,4.6m0,-4.6l-4.6,4.6M1218.7,1173.8l4.6,4.6m0,-4.6l-4.6,4.6M1241.6,1136.6l4.6,4.6m0,-4.6l-4.6,4.6M1222,1071.3l4.6,4.6m0,-4.6l-4.6,4.6M1214.4,1109.6l4.6,4.6m0,-4.6l-4.6,4.6M1215.2,1128.9l4.6,4.6m0,-4.6l-4.6,4.6M1213.6,1152.6l4.6,4.6m0,-4.6l-4.6,4.6M1256.5,1102.5l4.6,4.6m0,-4.6l-4.6,4.6M1209.5,1175.5l4.6,4.6m0,-4.6l-4.6,4.6M1249.4,1030.4l4.6,4.6m0,-4.6l-4.6,4.6M1256.8,1088.5l4.6,4.6m0,-4.6l-4.6,4.6M1248.6,1059.6l4.6,4.6m0,-4.6l-4.6,4.6M1241.7,1042.7l4.6,4.6m0,-4.6l-4.6,4.6M1249.6,1070.9l4.6,4.6m0,-4.6l-4.6,4.6M1249.8,1027.7l4.6,4.6m0,-4.6l-4.6,4.6M1248.1,1006l4.6,4.6m0,-4.6l-4.6,4.6M1246.3,1017.2l4.6,4.6m0,-4.6l-4.6,4.6M1253,1025.9l4.6,4.6m0,-4.6l-4.6,4.6M1248.4,1059.8l4.6,4.6m0,-4.6l-4.6,4.6M1243.2,1010.2l4.6,4.6m0,-4.6l-4.6,4.6M1241.7,991.2l4.6,4.6m0,-4.6l-4.6,4.6M1251.8,1057.3l4.6,4.6m0,-4.6l-4.6,4.6M1255,1081l4.6,4.6m0,-4.6l-4.6,4.6M1258.4,1051.4l4.6,4.6m0,-4.6l-4.6,4.6M1245,1051.5l4.6,4.6m0,-4.6l-4.6,4.6M1250.7,1002.2l4.6,4.6m0,-4.6l-4.6,4.6M1254.6,1057.2l4.6,4.6m0,-4.6l-4.6,4.6M1257,1067l4.6,4.6m0,-4.6l-4.6,4.6M1253.7,1066l4.6,4.6m0,-4.6l-4.6,4.6M1259.5,1087l4.6,4.6m0,-4.6l-4.6,4.6M1258,1051.5l4.6,4.6m0,-4.6l-4.6,4.6M1248,1038.4l4.6,4.6m0,-4.6l-4.6,4.6M1255.6,1034.5l4.6,4.6m0,-4.6l-4.6,4.6M1245.8,1001.3l4.6,4.6m0,-4.6l-4.6,4.6M1245.3,1027.3l4.6,4.6m0,-4.6l-4.6,4.6M1250.7,1070.5l4.6,4.6m0,-4.6l-4.6,4.6M1249.3,1006.8l4.6,4.6m0,-4.6l-4.6,4.6M1251.2,1070.4l4.6,4.6m0,-4.6l-4.6,4.6M1242.3,1011.9l4.6,4.6m0,-4.6l-4.6,4.6M1251.4,1019.8l4.6,4.6m0,-4.6l-4.6,4.6M1261.9,1071l4.6,4.6m0,-4.6l-4.6,4.6M1247.4,1004.3l4.6,4.6m0,-4.6l-4.6,4.6M1242.9,1036.3l4.6,4.6m0,-4.6l-4.6,4.6M1247.3,995.2l4.6,4.6m0,-4.6l-4.6,4.6M1244.9,993.5l4.6,4.6m0,-4.6l-4.6,4.6M1253.4,1021.3l4.6,4.6m0,-4.6l-4.6,4.6M1262.4,1076.7l4.6,4.6m0,-4.6l-4.6,4.6M1248.3,994.1l4.6,4.6m0,-4.6l-4.6,4.6M1249.7,998.1l4.6,4.6m0,-4.6l-4.6,4.6M1253,1033.1l4.6,4.6m0,-4.6l-4.6,4.6M1252.7,1069.5l4.6,4.6m0,-4.6l-4.6,4.6M1248.8,1039.4l4.6,4.6m0,-4.6l-4.6,4.6M1249.5,1020.1l4.6,4.6m0,-4.6l-4.6,4.6M1241.6,1040.5l4.6,4.6m0,-4.6l-4.6,4.6M1255.6,1082l4.6,4.6m0,-4.6l-4.6,4.6M1247.2,1033.3l4.6,4.6m0,-4.6l-4.6,4.6M1246.4,1065.3l4.6,4.6m0,-4.6l-4.6,4.6M1251.3,1082.4l4.6,4.6m0,-4.6l-4.6,4.6M1241.7,1047l4.6,4.6m0,-4.6l-4.6,4.6M1242.9,1056.8l4.6,4.6m0,-4.6l-4.6,4.6M1252.7,1080.6l4.6,4.6m0,-4.6l-4.6,4.6M1259.2,1056l4.6,4.6m0,-4.6l-4.6,4.6M1245.1,995.8l4.6,4.6m0,-4.6l-4.6,4.6M1244.1,1022l4.6,4.6m0,-4.6l-4.6,4.6M1243.1,1047.1l4.6,4.6m0,-4.6l-4.6,4.6M1247.2,1052.7l4.6,4.6m0,-4.6l-4.6,4.6M1254.9,1052.4l4.6,4.6m0,-4.6l-4.6,4.6M1240.6,1056.5l4.6,4.6m0,-4.6l-4.6,4.6M1245.8,1031.4l4.6,4.6m0,-4.6l-4.6,4.6M1251.8,1075.2l4.6,4.6m0,-4.6l-4.6,4.6M1247.8,1066.5l4.6,4.6m0,-4.6l-4.6,4.6M1246.9,1004.9l4.6,4.6m0,-4.6l-4.6,4.6M1250,1040.3l4.6,4.6m0,-4.6l-4.6,4.6M1252.7,1039.4l4.6,4.6m0,-4.6l-4.6,4.6M1248.8,1050l4.6,4.6m0,-4.6l-4.6,4.6M1248.9,1008.9l4.6,4.6m0,-4.6l-4.6,4.6M1251,1007.8l4.6,4.6m0,-4.6l-4.6,4.6M1246.3,1004.2l4.6,4.6m0,-4.6l-4.6,4.6M1246.7,1020l4.6,4.6m0,-4.6l-4.6,4.6M1302.3,1129.6l4.6,4.6m0,-4.6l-4.6,4.6M1293.1,1122.6l4.6,4.6m0,-4.6l-4.6,4.6M1287.8,1118.8l4.6,4.6m0,-4.6l-4.6,4.6M1291.3,1131.4l4.6,4.6m0,-4.6l-4.6,4.6M1314,1141.1l4.6,4.6m0,-4.6l-4.6,4.6M1284.7,1117.2l4.6,4.6m0,-4.6l-4.6,4.6M1306.3,1131.6l4.6,4.6m0,-4.6l-4.6,4.6M1313.4,1137.7l4.6,4.6m0,-4.6l-4.6,4.6M1282.9,1106.9l4.6,4.6m0,-4.6l-4.6,4.6M1303.3,1133.7l4.6,4.6m0,-4.6l-4.6,4.6M1309.6,1139.8l4.6,4.6m0,-4.6l-4.6,4.6M1285.9,1109l4.6,4.6m0,-4.6l-4.6,4.6M1297,1135.2l4.6,4.6m0,-4.6l-4.6,4.6M1307.8,1138.2l4.6,4.6m0,-4.6l-4.6,4.6M1289.5,1121.5l4.6,4.6m0,-4.6l-4.6,4.6" stroke="#3c66b4" stroke-width="1.4" fill="none"/>
<line x1="1149.3" y1="1305.3" x2="1155.3" y2="1305.3" stroke="#252525" stroke-width="2.5"/>
<line x1="1874.5" y1="1305.3" x2="1868.5" y2="1305.3" stroke="#252525" stroke-width="2.5"/>
<line x1="1149.3" y1="1276.2" x2="1160.3" y2="1276.2" stroke="#252525" stroke-width="2.5"/>
<line x1="1874.5" y1="1276.2" x2="1863.5" y2="1276.2" stroke="#252525" stroke-width="2.5"/>
<line x1="1149.3" y1="1247.1" x2="1155.3" y2="1247.1" stroke="#252525" stroke-width="2.5"/>
<line x1="1874.5" y1="1247.1" x2="1868.5" y2="1247.1" stroke="#252525" stroke-width="2.5"/>
<line x1="1149.3" y1="1218" x2="1160.3" y2="1218" stroke="#252525" stroke-width="2.5"/>
<line x1="1874.5" y1="1218" x2="1863.5" y2="1218" stroke="#252525" stroke-width="2.5"/>
<line x1="1149.3" y1="1188.9" x2="1155.3" y2="1188.9" stroke="#252525" stroke-width="2.5"/>
<line x1="1874.5" y1="1188.9" x2="1868.5" y2="1188.9" stroke="#252525" stroke-width="2.5"/>
<line x1="1149.3" y1="1159.8" x2="1160.3" y2="1159.8" stroke="#252525" stroke-width="2.5"/>
<line x1="1874.5" y1="1159.8" x2="1863.5" y2="1159.8" stroke="#252525" stroke-width="2.5"/>
<line x1="1149.3" y1="1130.7" x2="1155.3" y2="1130.7" stroke="#252525" stroke-width="2.5"/>
<line x1="1874.5" y1="1130.7" x2="1868.5" y2="1130.7" stroke="#252525" stroke-width="2.5"/>
<line x1="1149.3" y1="1101.6" x2="1160.3" y2="1101.6" stroke="#252525" stroke-width="2.5"/>
<line x1="1874.5" y1="1101.6" x2="1863.5" y2="1101.6" stroke="#252525" stroke-width="2.5"/>
<line x1="1149.3" y1="1072.5" x2="1155.3" y2="1072.5" stroke="#252525" stroke-width="2.5"/>
<line x1="1874.5" y1="1072.5" x2="1868.5" y2="1072.5" stroke="#252525" stroke-width="2.5"/>
<line x1="1149.3" y1="1043.4" x2="1160.3" y2="1043.4" stroke="#252525" stroke-width="2.5"/>
<line x1="1874.5" y1="1043.4" x2="1863.5" y2="1043.4" stroke="#252525" stroke-width="2.5"/>
<line x1="1149.3" y1="1014.3" x2="1155.3" y2="1014.3" stroke="#252525" stroke-width="2.5"/>
<line x1="1874.5" y1="1014.3" x2="1868.5" y2="1014.3" stroke="#252525" stroke-width="2.5"/>
<line x1="1149.3" y1="985.2" x2="1160.3" y2="985.2" stroke="#252525" stroke-width="2.5"/>
<line x1="1874.5" y1="985.2" x2="1863.5" y2="985.2" stroke="#252525" stroke-width="2.5"/>
<line x1="1149.3" y1="956.1" x2="1155.3" y2="956.1" stroke="#252525" stroke-width="2.5"/>
<line x1="1874.5" y1="956.1" x2="1868.5" y2="956.1" stroke="#252525" stroke-width="2.5"/>
<line x1="1149.3" y1="927" x2="1160.3" y2="927" stroke="#252525" stroke-width="2.5"/>
<line x1="1874.5" y1="927" x2="1863.5" y2="927" stroke="#252525" stroke-width="2.5"/>
<line x1="1149.3" y1="897.9" x2="1155.3" y2="897.9" stroke="#252525" stroke-width="2.5"/>
<line x1="1874.5" y1="897.9" x2="1868.5" y2="897.9" stroke="#252525" stroke-width="2.5"/>
<line x1="1149.3" y1="868.8" x2="1160.3" y2="868.8" stroke="#252525" stroke-width="2.5"/>
<line x1="1874.5" y1="868.8" x2="1863.5" y2="868.8" stroke="#252525" stroke-width="2.5"/>
<line x1="1149.3" y1="839.7" x2="1155.3" y2="839.7" stroke="#252525" stroke-width="2.5"/>
<line x1="1874.5" y1="839.7" x2="1868.5" y2="839.7" stroke="#252525" stroke-width="2.5"/>
<line x1="1149.3" y1="810.6" x2="1160.3" y2="810.6" stroke="#252525" stroke-width="2.5"/>
<line x1="1874.5" y1="810.6" x2="1863.5" y2="810.6" stroke="#252525" stroke-width="2.5"/>
<line x1="1149.3" y1="781.5" x2="1155.3" y2="781.5" stroke="#252525" stroke-width="2.5"/>
<line x1="1874.5" y1="781.5" x2="1868.5" y2="781.5" stroke="#252525" stroke-width="2.5"/>
<line x1="1149.3" y1="752.4" x2="1160.3" y2="752.4" stroke="#252525" stroke-width="2.5"/>
<line x1="1874.5" y1="752.4" x2="1863.5" y2="752.4" stroke="#252525" stroke-width="2.5"/>
<line x1="1149.3" y1="723.3" x2="1155.3" y2="723.3" stroke="#252525" stroke-width="2.5"/>
<line x1="1874.5" y1="723.3" x2="1868.5" y2="723.3" stroke="#252525" stroke-width="2.5"/>
<line x1="1149.3" y1="722.5" x2="1149.3" y2="732.5" stroke="#252525" stroke-width="2.5"/>
<line x1="1149.3" y1="1305.5" x2="1149.3" y2="1295.5" stroke="#252525" stroke-width="2.5"/>
<line x1="1201.1" y1="722.5" x2="1201.1" y2="728" stroke="#252525" stroke-width="2.5"/>
<line x1="1201.1" y1="1305.5" x2="1201.1" y2="1300" stroke="#252525" stroke-width="2.5"/>
<line x1="1252.9" y1="722.5" x2="1252.9" y2="732.5" stroke="#252525" stroke-width="2.5"/>
<line x1="1252.9" y1="1305.5" x2="1252.9" y2="1295.5" stroke="#252525" stroke-width="2.5"/>
<line x1="1304.7" y1="722.5" x2="1304.7" y2="728" stroke="#252525" stroke-width="2.5"/>
<line x1="1304.7" y1="1305.5" x2="1304.7" y2="1300" stroke="#252525" stroke-width="2.5"/>
<line x1="1356.5" y1="722.5" x2="1356.5" y2="732.5" stroke="#252525" stroke-width="2.5"/>
<line x1="1356.5" y1="1305.5" x2="1356.5" y2="1295.5" stroke="#252525" stroke-width="2.5"/>
<line x1="1408.3" y1="722.5" x2="1408.3" y2="728" stroke="#252525" stroke-width="2.5"/>
<line x1="1408.3" y1="1305.5" x2="1408.3" y2="1300" stroke="#252525" stroke-width="2.5"/>
<line x1="1460.1" y1="722.5" x2="1460.1" y2="732.5" stroke="#252525" stroke-width="2.5"/>
<line x1="1460.1" y1="1305.5" x2="1460.1" y2="1295.5" stroke="#252525" stroke-width="2.5"/>
<line x1="1511.9" y1="722.5" x2="1511.9" y2="728" stroke="#252525" stroke-width="2.5"/>
<line x1="1511.9" y1="1305.5" x2="1511.9" y2="1300" stroke="#252525" stroke-width="2.5"/>
<line x1="1563.7" y1="722.5" x2="1563.7" y2="732.5" stroke="#252525" stroke-width="2.5"/>
<line x1="1563.7" y1="1305.5" x2="1563.7" y2="1295.5" stroke="#252525" stroke-width="2.5"/>
<line x1="1615.5" y1="722.5" x2="1615.5" y2="728" stroke="#252525" stroke-width="2.5"/>
<line x1="1615.5" y1="1305.5" x2="1615.5" y2="1300" stroke="#252525" stroke-width="2.5"/>
<line x1="1667.3" y1="722.5" x2="1667.3" y2="732.5" stroke="#252525" stroke-width="2.5"/>
<line x1="1667.3" y1="1305.5" x2="1667.3" y2="1295.5" stroke="#252525" stroke-width="2.5"/>
<line x1="1719.1" y1="722.5" x2="1719.1" y2="728" stroke="#252525" stroke-width="2.5"/>
<line x1="1719.1" y1="1305.5" x2="1719.1" y2="1300" stroke="#252525" stroke-width="2.5"/>
<line x1="1770.9" y1="722.5" x2="1770.9" y2="732.5" stroke="#252525" stroke-width="2.5"/>
<line x1="1770.9" y1="1305.5" x2="1770.9" y2="1295.5" stroke="#252525" stroke-width="2.5"/>
<line x1="1822.7" y1="722.5" x2="1822.7" y2="728" stroke="#252525" stroke-width="2.5"/>
<line x1="1822.7" y1="1305.5" x2="1822.7" y2="1300" stroke="#252525" stroke-width="2.5"/>
<line x1="1874.5" y1="722.5" x2="1874.5" y2="732.5" stroke="#252525" stroke-width="2.5"/>
<line x1="1874.5" y1="1305.5" x2="1874.5" y2="1295.5" stroke="#252525" stroke-width="2.5"/>
<rect x="1149.3" y="722.5" width="725.2" height="583" fill="none" stroke="#252525" stroke-width="3"/>
<text transform="translate(1136,1288.2) scale(0.73,1)" style="font-family:'Liberation Sans',sans-serif;font-size:40.5px" text-anchor="end" stroke="#000" stroke-width="0.7">-4</text>
<text transform="translate(1136,1230) scale(0.73,1)" style="font-family:'Liberation Sans',sans-serif;font-size:40.5px" text-anchor="end" stroke="#000" stroke-width="0.7">-2</text>
<text transform="translate(1136,1171.8) scale(0.73,1)" style="font-family:'Liberation Sans',sans-serif;font-size:40.5px" text-anchor="end" stroke="#000" stroke-width="0.7">0</text>
<text transform="translate(1136,1113.6) scale(0.73,1)" style="font-family:'Liberation Sans',sans-serif;font-size:40.5px" text-anchor="end" stroke="#000" stroke-width="0.7">2</text>
<text transform="translate(1136,1055.4) scale(0.73,1)" style="font-family:'Liberation Sans',sans-serif;font-size:40.5px" text-anchor="end" stroke="#000" stroke-width="0.7">4</text>
<text transform="translate(1136,997.2) scale(0.73,1)" style="font-family:'Liberation Sans',sans-serif;font-size:40.5px" text-anchor="end" stroke="#000" stroke-width="0.7">6</text>
<text transform="translate(1136,939) scale(0.73,1)" style="font-family:'Liberation Sans',sans-serif;font-size:40.5px" text-anchor="end" stroke="#000" stroke-width="0.7">8</text>
<text transform="translate(1136,880.8) scale(0.73,1)" style="font-family:'Liberation Sans',sans-serif;font-size:40.5px" text-anchor="end" stroke="#000" stroke-width="0.7">10</text>
<text transform="translate(1136,822.6) scale(0.73,1)" style="font-family:'Liberation Sans',sans-serif;font-size:40.5px" text-anchor="end" stroke="#000" stroke-width="0.7">12</text>
<text transform="translate(1136,764.4) scale(0.73,1)" style="font-family:'Liberation Sans',sans-serif;font-size:40.5px" text-anchor="end" stroke="#000" stroke-width="0.7">14</text>
<text transform="translate(1152.8,1345) scale(0.75,1)" style="font-family:'Liberation Sans',sans-serif;font-size:40px" text-anchor="middle" stroke="#000" stroke-width="0.7">0</text>
<text transform="translate(1256.4,1345) scale(0.75,1)" style="font-family:'Liberation Sans',sans-serif;font-size:40px" text-anchor="middle" stroke="#000" stroke-width="0.7">1</text>
<text transform="translate(1360,1345) scale(0.75,1)" style="font-family:'Liberation Sans',sans-serif;font-size:40px" text-anchor="middle" stroke="#000" stroke-width="0.7">2</text>
<text transform="translate(1463.6,1345) scale(0.75,1)" style="font-family:'Liberation Sans',sans-serif;font-size:40px" text-anchor="middle" stroke="#000" stroke-width="0.7">3</text>
<text transform="translate(1567.2,1345) scale(0.75,1)" style="font-family:'Liberation Sans',sans-serif;font-size:40px" text-anchor="middle" stroke="#000" stroke-width="0.7">4</text>
<text transform="translate(1670.8,1345) scale(0.75,1)" style="font-family:'Liberation Sans',sans-serif;font-size:40px" text-anchor="middle" stroke="#000" stroke-width="0.7">5</text>
<text transform="translate(1774.4,1345) scale(0.75,1)" style="font-family:'Liberation Sans',sans-serif;font-size:40px" text-anchor="middle" stroke="#000" stroke-width="0.7">6</text>
<text transform="translate(1878,1345) scale(0.75,1)" style="font-family:'Liberation Sans',sans-serif;font-size:40px" text-anchor="middle" stroke="#000" stroke-width="0.7">7</text>
<text transform="translate(1507,1383.2) scale(0.805,1)" style="font-family:'Liberation Sans',sans-serif;font-size:40px" text-anchor="middle" stroke="#000" stroke-width="0.7">Frequency (THz)</text>
<text transform="translate(1089.5,1205.3) rotate(-90) scale(0.764,1)" style="font-family:'Liberation Sans',sans-serif;font-size:42px" stroke="#000" stroke-width="0.7">Grüneisen parameter (<tspan style="font-family:'Liberation Serif',serif;font-size:44px">γ</tspan>)</text>
<text transform="translate(1045.6,741) scale(0.89,1)" style="font-family:'Liberation Sans',sans-serif;font-size:58.5px" text-anchor="start" stroke="#000" stroke-width="0.7">d</text>
</svg></body></html>
